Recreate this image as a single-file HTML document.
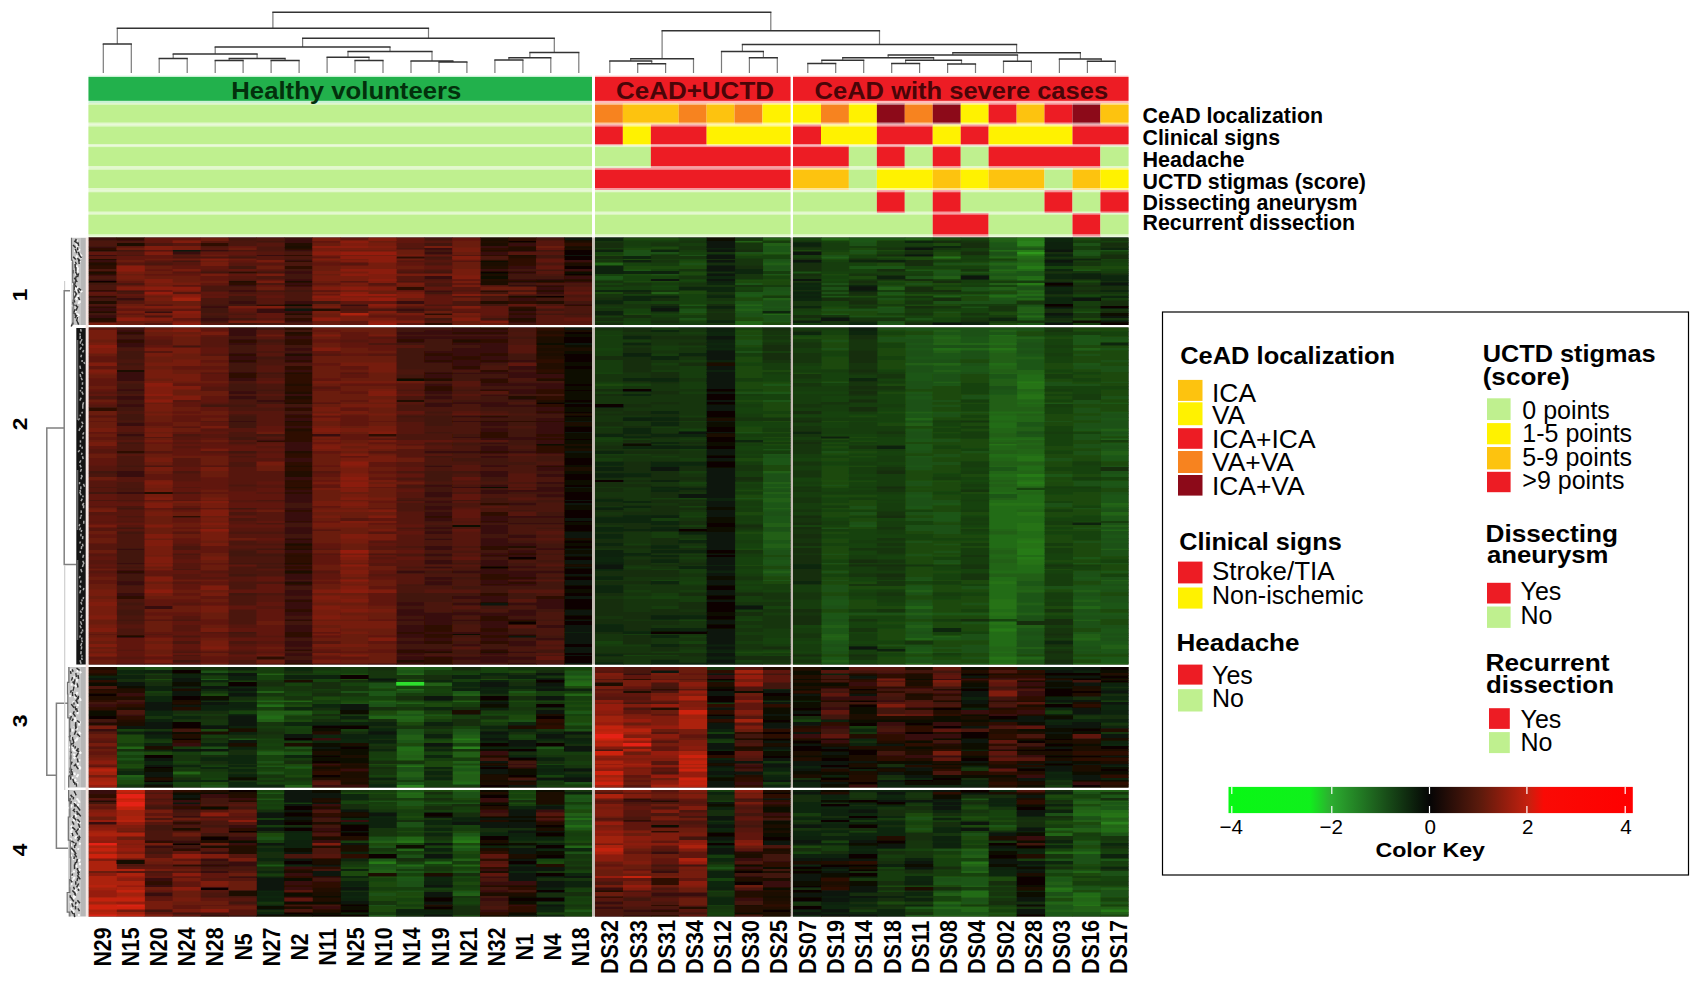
<!DOCTYPE html><html><head><meta charset="utf-8"><title>Heatmap</title><style>html,body{margin:0;padding:0;background:#fff}svg{display:block}text{font-family:"Liberation Sans",sans-serif}</style></head><body>
<svg width="1696" height="984" viewBox="0 0 1696 984">
<rect width="1696" height="984" fill="#fff"/>
<path d="M103.3 73.0V44.0M131.3 44.0V73.0M159.2 73.0V58.4M187.2 58.4V73.0M215.2 73.0V60.5M243.1 60.5V73.0M271.1 73.0V60.5M299.1 60.5V73.0M229.2 60.5V58.4M285.1 58.4V60.5M173.2 58.4V54.0M257.1 54.0V58.4M355.0 73.0V60.5M383.0 60.5V73.0M327.1 73.0V57.3M369.0 57.3V60.5M439.0 73.0V62.0M466.9 62.0V73.0M411.0 73.0V61.0M452.9 61.0V62.0M348.0 57.3V51.6M432.0 51.6V61.0M215.2 54.0V47.0M390.0 47.0V51.6M494.9 73.0V60.0M522.9 60.0V73.0M508.9 60.0V57.7M550.8 57.7V73.0M529.9 57.7V52.4M578.8 52.4V73.0M302.6 47.0V38.2M554.3 38.2V52.4M117.3 44.0V28.2M428.5 28.2V38.2M637.7 73.0V63.7M665.6 63.7V73.0M609.8 73.0V61.0M651.7 61.0V63.7M630.7 61.0V58.8M693.5 58.8V73.0M749.4 73.0V57.7M777.3 57.7V73.0M721.5 73.0V51.5M763.4 51.5V57.7M807.8 73.0V63.4M835.7 63.4V73.0M821.8 63.4V60.2M863.7 60.2V73.0M891.7 73.0V63.4M919.6 63.4V73.0M947.6 73.0V63.9M975.5 63.9V73.0M905.6 63.4V60.2M961.5 60.2V63.9M842.7 60.2V57.7M933.6 57.7V60.2M1003.5 73.0V61.2M1031.4 61.2V73.0M888.2 57.7V55.0M1017.5 55.0V61.2M1087.4 73.0V61.2M1115.3 61.2V73.0M1059.4 73.0V59.0M1101.3 59.0V61.2M952.8 55.0V52.7M1080.4 52.7V59.0M742.4 51.5V44.6M1016.6 44.6V52.7M662.1 58.8V30.7M879.5 30.7V44.6M272.9 28.2V12.3M770.8 12.3V30.7" fill="none" stroke="#7a7a7a" stroke-width="1.2"/>
<path d="M102.7 44.0H131.9M158.6 58.4H187.8M214.6 60.5H243.7M270.5 60.5H299.7M228.6 58.4H285.7M172.6 54.0H257.7M354.4 60.5H383.6M326.5 57.3H369.6M438.4 62.0H467.5M410.4 61.0H453.5M347.4 51.6H432.6M214.6 47.0H390.6M494.3 60.0H523.5M508.3 57.7H551.4M529.3 52.4H579.4M302.0 38.2H554.9M116.7 28.2H429.1M637.1 63.7H666.2M609.2 61.0H652.3M630.1 58.8H694.1M748.8 57.7H777.9M720.9 51.5H764.0M807.2 63.4H836.3M821.2 60.2H864.3M891.1 63.4H920.2M947.0 63.9H976.1M905.0 60.2H962.1M842.1 57.7H934.2M1002.9 61.2H1032.0M887.6 55.0H1018.1M1086.8 61.2H1115.9M1058.8 59.0H1101.9M952.2 52.7H1081.0M741.8 44.6H1017.2M661.5 30.7H880.1M272.3 12.3H771.4" fill="none" stroke="#333" stroke-width="1.5"/>
<rect x="88.5" y="75.8" width="1040" height="26.199999999999996" fill="#fff"/>
<rect x="88.5" y="75.7" width="503.5" height="28.299999999999997" fill="#c9f2d4"/>
<rect x="88.5" y="77.0" width="503.5" height="23.799999999999997" fill="#22b14c"/>
<rect x="595.0" y="75.7" width="195.5" height="28.299999999999997" fill="#fbb"/>
<rect x="595.0" y="77.0" width="195.5" height="23.799999999999997" fill="#ed1c24"/>
<rect x="793.0" y="75.7" width="335.5" height="28.299999999999997" fill="#fbb"/>
<rect x="793.0" y="77.0" width="335.5" height="23.799999999999997" fill="#ed1c24"/>
<rect x="88.5" y="103.2" width="503.5" height="21.3" fill="#e2f8cc"/>
<rect x="88.5" y="104.8" width="503.5" height="17.7" fill="#bff08f"/>
<rect x="595.0" y="103.2" width="27.9" height="21.3" fill="#fbc79a"/>
<rect x="595.0" y="104.8" width="27.9" height="17.7" fill="#f7831f"/>
<rect x="622.9" y="103.2" width="55.9" height="21.3" fill="#fee493"/>
<rect x="622.9" y="104.8" width="55.9" height="17.7" fill="#fdc30f"/>
<rect x="678.8" y="103.2" width="27.9" height="21.3" fill="#fbc79a"/>
<rect x="678.8" y="104.8" width="27.9" height="17.7" fill="#f7831f"/>
<rect x="706.7" y="103.2" width="27.9" height="21.3" fill="#fee493"/>
<rect x="706.7" y="104.8" width="27.9" height="17.7" fill="#fdc30f"/>
<rect x="734.6" y="103.2" width="27.9" height="21.3" fill="#fbc79a"/>
<rect x="734.6" y="104.8" width="27.9" height="17.7" fill="#f7831f"/>
<rect x="762.6" y="103.2" width="27.9" height="21.3" fill="#fff98c"/>
<rect x="762.6" y="104.8" width="27.9" height="17.7" fill="#fff200"/>
<rect x="793.0" y="103.2" width="28.0" height="21.3" fill="#fff98c"/>
<rect x="793.0" y="104.8" width="28.0" height="17.7" fill="#fff200"/>
<rect x="821.0" y="103.2" width="28.0" height="21.3" fill="#fbc79a"/>
<rect x="821.0" y="104.8" width="28.0" height="17.7" fill="#f7831f"/>
<rect x="848.9" y="103.2" width="28.0" height="21.3" fill="#fff98c"/>
<rect x="848.9" y="104.8" width="28.0" height="17.7" fill="#fff200"/>
<rect x="876.9" y="103.2" width="28.0" height="21.3" fill="#cb9097"/>
<rect x="876.9" y="104.8" width="28.0" height="17.7" fill="#8c0a19"/>
<rect x="904.8" y="103.2" width="28.0" height="21.3" fill="#fbc79a"/>
<rect x="904.8" y="104.8" width="28.0" height="17.7" fill="#f7831f"/>
<rect x="932.8" y="103.2" width="28.0" height="21.3" fill="#cb9097"/>
<rect x="932.8" y="104.8" width="28.0" height="17.7" fill="#8c0a19"/>
<rect x="960.8" y="103.2" width="28.0" height="21.3" fill="#fff98c"/>
<rect x="960.8" y="104.8" width="28.0" height="17.7" fill="#fff200"/>
<rect x="988.7" y="103.2" width="28.0" height="21.3" fill="#f6989c"/>
<rect x="988.7" y="104.8" width="28.0" height="17.7" fill="#ed1c24"/>
<rect x="1016.7" y="103.2" width="28.0" height="21.3" fill="#fee493"/>
<rect x="1016.7" y="104.8" width="28.0" height="17.7" fill="#fdc30f"/>
<rect x="1044.6" y="103.2" width="28.0" height="21.3" fill="#f6989c"/>
<rect x="1044.6" y="104.8" width="28.0" height="17.7" fill="#ed1c24"/>
<rect x="1072.6" y="103.2" width="28.0" height="21.3" fill="#cb9097"/>
<rect x="1072.6" y="104.8" width="28.0" height="17.7" fill="#8c0a19"/>
<rect x="1100.5" y="103.2" width="28.0" height="21.3" fill="#fee493"/>
<rect x="1100.5" y="104.8" width="28.0" height="17.7" fill="#fdc30f"/>
<rect x="88.5" y="124.5" width="503.5" height="21.0" fill="#e2f8cc"/>
<rect x="88.5" y="126.6" width="503.5" height="17.4" fill="#bff08f"/>
<rect x="595.0" y="124.5" width="27.9" height="21.0" fill="#f6989c"/>
<rect x="595.0" y="126.6" width="27.9" height="17.4" fill="#ed1c24"/>
<rect x="622.9" y="124.5" width="27.9" height="21.0" fill="#fff98c"/>
<rect x="622.9" y="126.6" width="27.9" height="17.4" fill="#fff200"/>
<rect x="650.9" y="124.5" width="55.9" height="21.0" fill="#f6989c"/>
<rect x="650.9" y="126.6" width="55.9" height="17.4" fill="#ed1c24"/>
<rect x="706.7" y="124.5" width="83.8" height="21.0" fill="#fff98c"/>
<rect x="706.7" y="126.6" width="83.8" height="17.4" fill="#fff200"/>
<rect x="793.0" y="124.5" width="28.0" height="21.0" fill="#f6989c"/>
<rect x="793.0" y="126.6" width="28.0" height="17.4" fill="#ed1c24"/>
<rect x="821.0" y="124.5" width="55.9" height="21.0" fill="#fff98c"/>
<rect x="821.0" y="126.6" width="55.9" height="17.4" fill="#fff200"/>
<rect x="876.9" y="124.5" width="55.9" height="21.0" fill="#f6989c"/>
<rect x="876.9" y="126.6" width="55.9" height="17.4" fill="#ed1c24"/>
<rect x="932.8" y="124.5" width="28.0" height="21.0" fill="#fff98c"/>
<rect x="932.8" y="126.6" width="28.0" height="17.4" fill="#fff200"/>
<rect x="960.8" y="124.5" width="28.0" height="21.0" fill="#f6989c"/>
<rect x="960.8" y="126.6" width="28.0" height="17.4" fill="#ed1c24"/>
<rect x="988.7" y="124.5" width="83.9" height="21.0" fill="#fff98c"/>
<rect x="988.7" y="126.6" width="83.9" height="17.4" fill="#fff200"/>
<rect x="1072.6" y="124.5" width="55.9" height="21.0" fill="#f6989c"/>
<rect x="1072.6" y="126.6" width="55.9" height="17.4" fill="#ed1c24"/>
<rect x="88.5" y="145.6" width="503.5" height="22.3" fill="#e2f8cc"/>
<rect x="88.5" y="147.1" width="503.5" height="18.9" fill="#bff08f"/>
<rect x="595.0" y="145.6" width="55.9" height="22.3" fill="#e2f8cc"/>
<rect x="595.0" y="147.1" width="55.9" height="18.9" fill="#bff08f"/>
<rect x="650.9" y="145.6" width="139.6" height="22.3" fill="#f6989c"/>
<rect x="650.9" y="147.1" width="139.6" height="18.9" fill="#ed1c24"/>
<rect x="793.0" y="145.6" width="55.9" height="22.3" fill="#f6989c"/>
<rect x="793.0" y="147.1" width="55.9" height="18.9" fill="#ed1c24"/>
<rect x="848.9" y="145.6" width="28.0" height="22.3" fill="#e2f8cc"/>
<rect x="848.9" y="147.1" width="28.0" height="18.9" fill="#bff08f"/>
<rect x="876.9" y="145.6" width="28.0" height="22.3" fill="#f6989c"/>
<rect x="876.9" y="147.1" width="28.0" height="18.9" fill="#ed1c24"/>
<rect x="904.8" y="145.6" width="28.0" height="22.3" fill="#e2f8cc"/>
<rect x="904.8" y="147.1" width="28.0" height="18.9" fill="#bff08f"/>
<rect x="932.8" y="145.6" width="28.0" height="22.3" fill="#f6989c"/>
<rect x="932.8" y="147.1" width="28.0" height="18.9" fill="#ed1c24"/>
<rect x="960.8" y="145.6" width="28.0" height="22.3" fill="#e2f8cc"/>
<rect x="960.8" y="147.1" width="28.0" height="18.9" fill="#bff08f"/>
<rect x="988.7" y="145.6" width="111.8" height="22.3" fill="#f6989c"/>
<rect x="988.7" y="147.1" width="111.8" height="18.9" fill="#ed1c24"/>
<rect x="1100.5" y="145.6" width="28.0" height="22.3" fill="#e2f8cc"/>
<rect x="1100.5" y="147.1" width="28.0" height="18.9" fill="#bff08f"/>
<rect x="88.5" y="167.9" width="503.5" height="22.2" fill="#e2f8cc"/>
<rect x="88.5" y="169.8" width="503.5" height="18.2" fill="#bff08f"/>
<rect x="595.0" y="167.9" width="195.5" height="22.2" fill="#f6989c"/>
<rect x="595.0" y="169.8" width="195.5" height="18.2" fill="#ed1c24"/>
<rect x="793.0" y="167.9" width="55.9" height="22.2" fill="#fee493"/>
<rect x="793.0" y="169.8" width="55.9" height="18.2" fill="#fdc30f"/>
<rect x="848.9" y="167.9" width="28.0" height="22.2" fill="#e2f8cc"/>
<rect x="848.9" y="169.8" width="28.0" height="18.2" fill="#bff08f"/>
<rect x="876.9" y="167.9" width="55.9" height="22.2" fill="#fff98c"/>
<rect x="876.9" y="169.8" width="55.9" height="18.2" fill="#fff200"/>
<rect x="932.8" y="167.9" width="28.0" height="22.2" fill="#fee493"/>
<rect x="932.8" y="169.8" width="28.0" height="18.2" fill="#fdc30f"/>
<rect x="960.8" y="167.9" width="28.0" height="22.2" fill="#fff98c"/>
<rect x="960.8" y="169.8" width="28.0" height="18.2" fill="#fff200"/>
<rect x="988.7" y="167.9" width="55.9" height="22.2" fill="#fee493"/>
<rect x="988.7" y="169.8" width="55.9" height="18.2" fill="#fdc30f"/>
<rect x="1044.6" y="167.9" width="28.0" height="22.2" fill="#e2f8cc"/>
<rect x="1044.6" y="169.8" width="28.0" height="18.2" fill="#bff08f"/>
<rect x="1072.6" y="167.9" width="28.0" height="22.2" fill="#fee493"/>
<rect x="1072.6" y="169.8" width="28.0" height="18.2" fill="#fdc30f"/>
<rect x="1100.5" y="167.9" width="28.0" height="22.2" fill="#fff98c"/>
<rect x="1100.5" y="169.8" width="28.0" height="18.2" fill="#fff200"/>
<rect x="88.5" y="190.2" width="503.5" height="22.9" fill="#e2f8cc"/>
<rect x="88.5" y="192.3" width="503.5" height="19.2" fill="#bff08f"/>
<rect x="595.0" y="190.2" width="195.5" height="22.9" fill="#e2f8cc"/>
<rect x="595.0" y="192.3" width="195.5" height="19.2" fill="#bff08f"/>
<rect x="793.0" y="190.2" width="83.9" height="22.9" fill="#e2f8cc"/>
<rect x="793.0" y="192.3" width="83.9" height="19.2" fill="#bff08f"/>
<rect x="876.9" y="190.2" width="28.0" height="22.9" fill="#f6989c"/>
<rect x="876.9" y="192.3" width="28.0" height="19.2" fill="#ed1c24"/>
<rect x="904.8" y="190.2" width="28.0" height="22.9" fill="#e2f8cc"/>
<rect x="904.8" y="192.3" width="28.0" height="19.2" fill="#bff08f"/>
<rect x="932.8" y="190.2" width="28.0" height="22.9" fill="#f6989c"/>
<rect x="932.8" y="192.3" width="28.0" height="19.2" fill="#ed1c24"/>
<rect x="960.8" y="190.2" width="83.9" height="22.9" fill="#e2f8cc"/>
<rect x="960.8" y="192.3" width="83.9" height="19.2" fill="#bff08f"/>
<rect x="1044.6" y="190.2" width="28.0" height="22.9" fill="#f6989c"/>
<rect x="1044.6" y="192.3" width="28.0" height="19.2" fill="#ed1c24"/>
<rect x="1072.6" y="190.2" width="28.0" height="22.9" fill="#e2f8cc"/>
<rect x="1072.6" y="192.3" width="28.0" height="19.2" fill="#bff08f"/>
<rect x="1100.5" y="190.2" width="28.0" height="22.9" fill="#f6989c"/>
<rect x="1100.5" y="192.3" width="28.0" height="19.2" fill="#ed1c24"/>
<rect x="88.5" y="213.1" width="503.5" height="23.5" fill="#e2f8cc"/>
<rect x="88.5" y="214.7" width="503.5" height="19.5" fill="#bff08f"/>
<rect x="595.0" y="213.1" width="195.5" height="23.5" fill="#e2f8cc"/>
<rect x="595.0" y="214.7" width="195.5" height="19.5" fill="#bff08f"/>
<rect x="793.0" y="213.1" width="139.8" height="23.5" fill="#e2f8cc"/>
<rect x="793.0" y="214.7" width="139.8" height="19.5" fill="#bff08f"/>
<rect x="932.8" y="213.1" width="55.9" height="23.5" fill="#f6989c"/>
<rect x="932.8" y="214.7" width="55.9" height="19.5" fill="#ed1c24"/>
<rect x="988.7" y="213.1" width="83.9" height="23.5" fill="#e2f8cc"/>
<rect x="988.7" y="214.7" width="83.9" height="19.5" fill="#bff08f"/>
<rect x="1072.6" y="213.1" width="28.0" height="23.5" fill="#f6989c"/>
<rect x="1072.6" y="214.7" width="28.0" height="19.5" fill="#ed1c24"/>
<rect x="1100.5" y="213.1" width="28.0" height="23.5" fill="#e2f8cc"/>
<rect x="1100.5" y="214.7" width="28.0" height="19.5" fill="#bff08f"/>
<text x="231.3" y="99.1" font-size="24.5" font-weight="bold" fill="#03300c" textLength="230.0" lengthAdjust="spacingAndGlyphs">Healthy volunteers</text>
<text x="616" y="99.1" font-size="24.5" font-weight="bold" fill="#4a0508" textLength="158.0" lengthAdjust="spacingAndGlyphs">CeAD+UCTD</text>
<text x="814.6" y="99.1" font-size="24.5" font-weight="bold" fill="#4a0508" textLength="293.5" lengthAdjust="spacingAndGlyphs">CeAD with severe cases</text>
<text x="1142.5" y="122.6" font-size="22.5" font-weight="bold" fill="#000" textLength="180.5" lengthAdjust="spacingAndGlyphs">CeAD localization</text>
<text x="1142.5" y="144.8" font-size="22.5" font-weight="bold" fill="#000" textLength="137.5" lengthAdjust="spacingAndGlyphs">Clinical signs</text>
<text x="1142.5" y="166.8" font-size="22.5" font-weight="bold" fill="#000" textLength="102.0" lengthAdjust="spacingAndGlyphs">Headache</text>
<text x="1142.5" y="188.5" font-size="22.5" font-weight="bold" fill="#000" textLength="223.5" lengthAdjust="spacingAndGlyphs">UCTD stigmas (score)</text>
<text x="1142.5" y="210.3" font-size="22.5" font-weight="bold" fill="#000" textLength="215.0" lengthAdjust="spacingAndGlyphs">Dissecting aneurysm</text>
<text x="1142.5" y="229.7" font-size="22.5" font-weight="bold" fill="#000" textLength="212.5" lengthAdjust="spacingAndGlyphs">Recurrent dissection</text>
<rect x="592.0" y="237.5" width="3.0" height="679" fill="#c4bcb4"/>
<rect x="790.5" y="237.5" width="2.5" height="679" fill="#c4bcb4"/>
<rect x="88.5" y="325.0" width="1040" height="2.5" fill="#fff"/>
<rect x="88.5" y="664.5" width="1040" height="2.5" fill="#fff"/>
<rect x="88.5" y="787.5" width="1040" height="2.5" fill="#fff"/>
<defs><filter id="bl" x="-1%" y="-1%" width="102%" height="102%"><feGaussianBlur stdDeviation="0.7"/></filter></defs><g filter="url(#bl)">
<rect x="88.5" y="237.5" width="503.5" height="87.5" fill="#1a140c"/>
<rect x="595.0" y="237.5" width="195.5" height="87.5" fill="#1a140c"/>
<rect x="793.0" y="237.5" width="335.5" height="87.5" fill="#1a140c"/>
<rect x="88.5" y="327.5" width="503.5" height="337.0" fill="#1a140c"/>
<rect x="595.0" y="327.5" width="195.5" height="337.0" fill="#1a140c"/>
<rect x="793.0" y="327.5" width="335.5" height="337.0" fill="#1a140c"/>
<rect x="88.5" y="667.0" width="503.5" height="120.5" fill="#1a140c"/>
<rect x="595.0" y="667.0" width="195.5" height="120.5" fill="#1a140c"/>
<rect x="793.0" y="667.0" width="335.5" height="120.5" fill="#1a140c"/>
<rect x="88.5" y="790.0" width="503.5" height="126.5" fill="#1a140c"/>
<rect x="595.0" y="790.0" width="195.5" height="126.5" fill="#1a140c"/>
<rect x="793.0" y="790.0" width="335.5" height="126.5" fill="#1a140c"/>
<path fill="#2e971c" d="M1016.67 251.5h28.41v3.4h-28.41z"/>
<path fill="#2a811a" d="M1016.67 240.5h28.41v5.9h-28.41zM396.19 784.5h28.42v3.0h-28.42zM452.14 746.0h28.42v3.4h-28.42zM1100.54 821.5h27.96v3.4h-27.96z"/>
<path fill="#287a19" d="M1016.67 237.5h28.41v3.4h-28.41zM1016.67 249.5h28.41v2.4h-28.41zM1016.67 254.5h28.41v1.9h-28.41zM1016.67 265.5h28.41v3.9h-28.41zM1016.67 282.5h28.41v2.9h-28.41zM1016.67 294.0h28.41v1.9h-28.41zM988.71 628.0h28.41v3.9h-28.41zM1016.67 381.0h28.41v2.4h-28.41zM1016.67 473.5h28.41v3.9h-28.41zM1016.67 481.5h28.41v2.9h-28.41zM1016.67 540.0h28.41v3.4h-28.41zM1016.67 548.0h28.41v7.4h-28.41zM1016.67 556.5h28.41v3.4h-28.41zM452.14 738.0h28.42v2.4h-28.42zM368.22 861.0h28.42v3.4h-28.42zM452.14 840.0h28.42v3.4h-28.42zM1100.54 816.0h27.96v1.9h-27.96zM1100.54 909.0h27.96v3.4h-27.96z"/>
<path fill="#267318" d="M932.79 256.0h28.41v2.9h-28.41zM1016.67 279.0h28.41v1.9h-28.41zM1016.67 290.0h28.41v1.9h-28.41zM988.71 347.5h28.41v3.4h-28.41zM988.71 443.5h28.41v2.4h-28.41zM988.71 502.5h28.41v3.4h-28.41zM988.71 581.0h28.41v3.4h-28.41zM988.71 599.0h28.41v10.4h-28.41zM988.71 612.0h28.41v3.9h-28.41zM988.71 621.0h28.41v3.9h-28.41zM988.71 656.0h28.41v3.9h-28.41zM988.71 662.5h28.41v2.0h-28.41zM1016.67 383.0h28.41v6.4h-28.41zM1016.67 394.0h28.41v5.9h-28.41zM1016.67 455.5h28.41v6.4h-28.41zM1016.67 480.0h28.41v1.9h-28.41zM1016.67 484.0h28.41v2.9h-28.41zM1016.67 502.5h28.41v3.4h-28.41zM1016.67 511.5h28.41v4.4h-28.41zM1016.67 522.5h28.41v8.9h-28.41zM1016.67 538.0h28.41v2.4h-28.41zM1016.67 543.0h28.41v5.4h-28.41zM1016.67 559.5h28.41v5.4h-28.41zM396.19 765.0h28.42v2.4h-28.42zM396.19 840.0h28.42v3.4h-28.42zM960.75 861.0h28.41v3.4h-28.41zM1044.62 887.0h28.41v3.4h-28.41zM1044.62 896.0h28.41v1.9h-28.41zM1072.58 820.0h28.41v1.9h-28.41zM1072.58 896.0h28.41v1.9h-28.41zM1072.58 904.5h28.41v1.9h-28.41zM1100.54 812.5h27.96v3.9h-27.96z"/>
<path fill="#246c16" d="M988.71 249.5h28.41v2.4h-28.41zM988.71 269.0h28.41v2.4h-28.41zM988.71 294.0h28.41v3.9h-28.41zM1016.67 246.0h28.41v1.9h-28.41zM1016.67 256.0h28.41v2.9h-28.41zM1016.67 262.0h28.41v3.9h-28.41zM1016.67 269.0h28.41v2.4h-28.41zM1016.67 275.5h28.41v3.9h-28.41zM1016.67 315.0h28.41v2.9h-28.41zM932.79 347.5h28.41v3.4h-28.41zM988.71 330.0h28.41v1.9h-28.41zM988.71 334.5h28.41v1.9h-28.41zM988.71 342.5h28.41v2.9h-28.41zM988.71 362.5h28.41v3.4h-28.41zM988.71 411.0h28.41v2.9h-28.41zM988.71 415.0h28.41v5.9h-28.41zM988.71 422.0h28.41v6.4h-28.41zM988.71 438.0h28.41v2.4h-28.41zM988.71 453.5h28.41v4.4h-28.41zM988.71 473.5h28.41v3.9h-28.41zM988.71 491.5h28.41v2.9h-28.41zM988.71 499.5h28.41v3.4h-28.41zM988.71 505.5h28.41v23.9h-28.41zM988.71 534.0h28.41v14.4h-28.41zM988.71 555.0h28.41v1.9h-28.41zM988.71 570.0h28.41v3.9h-28.41zM988.71 576.5h28.41v4.9h-28.41zM988.71 584.0h28.41v15.4h-28.41zM988.71 609.0h28.41v3.4h-28.41zM988.71 615.5h28.41v3.9h-28.41zM988.71 624.5h28.41v3.9h-28.41zM988.71 631.5h28.41v15.4h-28.41zM988.71 651.0h28.41v2.4h-28.41zM988.71 659.5h28.41v3.4h-28.41zM1016.67 374.0h28.41v7.4h-28.41zM1016.67 391.0h28.41v3.4h-28.41zM1016.67 402.0h28.41v2.4h-28.41zM1016.67 411.0h28.41v2.9h-28.41zM1016.67 438.0h28.41v2.4h-28.41zM1016.67 453.5h28.41v2.4h-28.41zM1016.67 465.0h28.41v5.9h-28.41zM1016.67 477.0h28.41v3.4h-28.41zM1016.67 489.5h28.41v2.4h-28.41zM1016.67 494.0h28.41v8.9h-28.41zM1016.67 505.5h28.41v4.4h-28.41zM1016.67 515.5h28.41v7.4h-28.41zM1016.67 531.0h28.41v7.4h-28.41zM1016.67 555.0h28.41v1.9h-28.41zM1016.67 564.5h28.41v9.4h-28.41zM256.33 704.0h28.42v3.4h-28.42zM256.33 715.5h28.42v3.9h-28.42zM396.19 746.0h28.42v5.4h-28.42zM452.14 781.5h28.42v3.4h-28.42zM564.03 682.0h27.97v4.4h-27.97zM396.19 792.0h28.42v2.4h-28.42zM396.19 864.0h28.42v2.9h-28.42zM424.17 861.0h28.42v3.4h-28.42zM452.14 836.0h28.42v4.4h-28.42zM564.03 817.5h27.97v2.9h-27.97zM564.03 824.5h27.97v3.4h-27.97zM960.75 890.0h28.41v7.9h-28.41zM1044.62 890.0h28.41v2.4h-28.41zM1072.58 812.5h28.41v3.9h-28.41zM1072.58 851.0h28.41v3.4h-28.41zM1072.58 892.0h28.41v4.4h-28.41zM1072.58 901.0h28.41v3.9h-28.41zM1100.54 809.5h27.96v3.4h-27.96zM1100.54 820.0h27.96v1.9h-27.96zM1100.54 827.5h27.96v5.4h-27.96z"/>
<path fill="#226515" d="M595.00 262.0h28.38v3.9h-28.38zM734.64 304.0h28.38v2.4h-28.38zM734.64 320.5h28.38v4.5h-28.38zM762.57 313.0h27.93v2.4h-27.93zM820.96 237.5h28.41v3.4h-28.41zM904.83 294.0h28.41v1.9h-28.41zM960.75 294.0h28.41v1.9h-28.41zM988.71 237.5h28.41v3.4h-28.41zM988.71 256.0h28.41v2.9h-28.41zM988.71 262.0h28.41v3.9h-28.41zM1016.67 258.5h28.41v1.9h-28.41zM1016.67 297.5h28.41v3.4h-28.41zM1016.67 311.0h28.41v2.4h-28.41zM820.96 635.0h28.41v2.9h-28.41zM904.83 417.5h28.41v3.4h-28.41zM904.83 605.5h28.41v3.9h-28.41zM904.83 637.5h28.41v3.4h-28.41zM904.83 662.5h28.41v2.0h-28.41zM932.79 330.0h28.41v1.9h-28.41zM932.79 336.0h28.41v3.4h-28.41zM932.79 342.5h28.41v2.9h-28.41zM932.79 362.5h28.41v3.4h-28.41zM960.75 342.5h28.41v2.9h-28.41zM960.75 347.5h28.41v3.4h-28.41zM988.71 336.0h28.41v6.9h-28.41zM988.71 350.5h28.41v2.9h-28.41zM988.71 365.5h28.41v4.4h-28.41zM988.71 372.0h28.41v2.4h-28.41zM988.71 413.5h28.41v1.9h-28.41zM988.71 420.5h28.41v1.9h-28.41zM988.71 428.0h28.41v5.9h-28.41zM988.71 436.5h28.41v1.9h-28.41zM988.71 440.0h28.41v2.4h-28.41zM988.71 445.5h28.41v5.4h-28.41zM988.71 457.5h28.41v4.4h-28.41zM988.71 465.0h28.41v2.4h-28.41zM988.71 470.5h28.41v3.4h-28.41zM988.71 477.0h28.41v3.4h-28.41zM988.71 481.5h28.41v2.9h-28.41zM988.71 486.5h28.41v5.4h-28.41zM988.71 529.0h28.41v2.4h-28.41zM988.71 548.0h28.41v2.4h-28.41zM988.71 553.0h28.41v2.4h-28.41zM988.71 556.5h28.41v3.4h-28.41zM988.71 562.5h28.41v7.9h-28.41zM988.71 646.5h28.41v4.9h-28.41zM988.71 653.0h28.41v3.4h-28.41zM1016.67 369.5h28.41v4.9h-28.41zM1016.67 389.0h28.41v2.4h-28.41zM1016.67 399.5h28.41v2.9h-28.41zM1016.67 404.0h28.41v3.4h-28.41zM1016.67 415.0h28.41v7.4h-28.41zM1016.67 436.5h28.41v1.9h-28.41zM1016.67 442.0h28.41v3.9h-28.41zM1016.67 448.5h28.41v5.4h-28.41zM1016.67 470.5h28.41v3.4h-28.41zM1016.67 491.5h28.41v2.9h-28.41zM1016.67 509.5h28.41v2.4h-28.41zM1016.67 589.5h28.41v3.4h-28.41zM1016.67 656.0h28.41v3.9h-28.41zM1072.58 605.5h28.41v3.9h-28.41zM1072.58 637.5h28.41v3.4h-28.41zM1100.54 502.5h27.96v3.4h-27.96zM1100.54 511.5h27.96v4.4h-27.96zM1100.54 529.0h27.96v2.4h-27.96zM116.47 746.0h28.42v3.4h-28.42zM172.42 771.0h28.42v3.9h-28.42zM256.33 700.0h28.42v2.4h-28.42zM256.33 714.0h28.42v1.9h-28.42zM284.31 700.0h28.42v2.4h-28.42zM284.31 767.0h28.42v1.9h-28.42zM368.22 715.5h28.42v3.9h-28.42zM396.19 673.0h28.42v2.4h-28.42zM396.19 688.5h28.42v2.4h-28.42zM396.19 715.5h28.42v3.9h-28.42zM396.19 751.0h28.42v4.4h-28.42zM396.19 757.5h28.42v3.4h-28.42zM452.14 740.0h28.42v3.4h-28.42zM452.14 765.0h28.42v2.4h-28.42zM452.14 771.0h28.42v3.9h-28.42zM452.14 780.0h28.42v1.9h-28.42zM564.03 675.0h27.97v3.9h-27.97zM564.03 680.0h27.97v2.4h-27.97zM564.03 693.0h27.97v3.4h-27.97zM396.19 794.0h28.42v4.4h-28.42zM396.19 836.0h28.42v4.4h-28.42zM396.19 848.0h28.42v3.4h-28.42zM452.14 845.0h28.42v3.4h-28.42zM452.14 864.0h28.42v2.9h-28.42zM564.03 845.0h27.97v3.4h-27.97zM932.79 901.0h28.41v3.9h-28.41zM932.79 906.0h28.41v3.4h-28.41zM960.75 864.0h28.41v2.9h-28.41zM960.75 870.5h28.41v2.9h-28.41zM960.75 906.0h28.41v6.4h-28.41zM1044.62 827.5h28.41v3.4h-28.41zM1044.62 832.5h28.41v3.9h-28.41zM1044.62 851.0h28.41v3.4h-28.41zM1044.62 901.0h28.41v3.9h-28.41zM1072.58 809.5h28.41v3.4h-28.41zM1072.58 870.5h28.41v2.9h-28.41zM1072.58 897.5h28.41v3.9h-28.41zM1072.58 909.0h28.41v3.4h-28.41zM1100.54 824.5h27.96v3.4h-27.96z"/>
<path fill="#205e14" d="M650.86 291.5h28.38v2.9h-28.38zM734.64 240.5h28.38v2.4h-28.38zM734.64 294.0h28.38v1.9h-28.38zM734.64 308.0h28.38v3.4h-28.38zM762.57 237.5h27.93v3.4h-27.93zM762.57 242.5h27.93v3.9h-27.93zM762.57 251.5h27.93v3.4h-27.93zM762.57 262.0h27.93v3.9h-27.93zM762.57 297.5h27.93v3.4h-27.93zM820.96 256.0h28.41v2.9h-28.41zM876.88 286.5h28.41v3.9h-28.41zM876.88 294.0h28.41v1.9h-28.41zM904.83 237.5h28.41v3.4h-28.41zM932.79 275.5h28.41v3.9h-28.41zM932.79 295.5h28.41v2.4h-28.41zM988.71 240.5h28.41v2.4h-28.41zM988.71 271.0h28.41v2.9h-28.41zM988.71 275.5h28.41v3.9h-28.41zM988.71 282.5h28.41v2.9h-28.41zM988.71 286.5h28.41v3.9h-28.41zM1016.67 260.0h28.41v2.4h-28.41zM1016.67 285.0h28.41v1.9h-28.41zM1016.67 291.5h28.41v2.9h-28.41zM1016.67 306.0h28.41v5.4h-28.41zM762.57 470.5h27.93v3.4h-27.93zM762.57 481.5h27.93v2.9h-27.93zM762.57 486.5h27.93v1.9h-27.93zM762.57 491.5h27.93v2.9h-27.93zM762.57 497.5h27.93v5.4h-27.93zM762.57 507.5h27.93v2.4h-27.93zM762.57 522.5h27.93v4.9h-27.93zM762.57 531.0h27.93v9.4h-27.93zM762.57 543.0h27.93v5.4h-27.93zM762.57 570.0h27.93v3.9h-27.93zM820.96 624.5h28.41v3.9h-28.41zM820.96 633.5h28.41v1.9h-28.41zM820.96 637.5h28.41v3.4h-28.41zM820.96 659.5h28.41v3.4h-28.41zM904.83 362.5h28.41v3.4h-28.41zM904.83 411.0h28.41v2.9h-28.41zM904.83 422.0h28.41v4.4h-28.41zM904.83 589.5h28.41v3.4h-28.41zM904.83 612.0h28.41v3.9h-28.41zM904.83 624.5h28.41v3.9h-28.41zM904.83 651.0h28.41v2.4h-28.41zM932.79 334.5h28.41v1.9h-28.41zM932.79 339.0h28.41v3.9h-28.41zM932.79 350.5h28.41v2.9h-28.41zM932.79 369.5h28.41v2.9h-28.41zM932.79 381.0h28.41v2.4h-28.41zM932.79 635.0h28.41v2.9h-28.41zM988.71 345.0h28.41v2.9h-28.41zM988.71 353.0h28.41v9.9h-28.41zM988.71 369.5h28.41v2.9h-28.41zM988.71 378.0h28.41v8.4h-28.41zM988.71 394.0h28.41v17.4h-28.41zM988.71 433.5h28.41v3.4h-28.41zM988.71 442.0h28.41v1.9h-28.41zM988.71 450.5h28.41v3.4h-28.41zM988.71 461.5h28.41v3.9h-28.41zM988.71 480.0h28.41v1.9h-28.41zM988.71 484.0h28.41v2.9h-28.41zM988.71 497.5h28.41v2.4h-28.41zM988.71 531.0h28.41v3.4h-28.41zM988.71 550.0h28.41v3.4h-28.41zM988.71 559.5h28.41v3.4h-28.41zM988.71 573.5h28.41v3.4h-28.41zM1016.67 336.0h28.41v3.4h-28.41zM1016.67 356.0h28.41v3.9h-28.41zM1016.67 407.0h28.41v4.4h-28.41zM1016.67 413.5h28.41v1.9h-28.41zM1016.67 426.0h28.41v5.9h-28.41zM1016.67 440.0h28.41v2.4h-28.41zM1016.67 445.5h28.41v3.4h-28.41zM1016.67 461.5h28.41v3.9h-28.41zM1016.67 486.5h28.41v1.9h-28.41zM1016.67 573.5h28.41v7.9h-28.41zM1016.67 585.5h28.41v4.4h-28.41zM1016.67 602.0h28.41v3.9h-28.41zM1016.67 612.0h28.41v3.9h-28.41zM1016.67 624.5h28.41v3.9h-28.41zM1016.67 646.5h28.41v2.9h-28.41zM1072.58 347.5h28.41v3.4h-28.41zM1072.58 589.5h28.41v3.4h-28.41zM1072.58 599.0h28.41v3.4h-28.41zM1072.58 619.0h28.41v2.4h-28.41zM1072.58 633.5h28.41v4.4h-28.41zM1072.58 662.5h28.41v2.0h-28.41zM1100.54 428.0h27.96v3.9h-27.96zM1100.54 438.0h27.96v2.4h-27.96zM1100.54 450.5h27.96v5.4h-27.96zM1100.54 505.5h27.96v2.4h-27.96zM1100.54 524.5h27.96v2.9h-27.96zM1100.54 548.0h27.96v2.4h-27.96zM1100.54 579.5h27.96v1.9h-27.96zM1100.54 644.0h27.96v5.4h-27.96zM1100.54 662.5h27.96v2.0h-27.96zM116.47 774.5h28.42v3.4h-28.42zM256.33 673.0h28.42v2.4h-28.42zM256.33 690.5h28.42v2.9h-28.42zM256.33 710.0h28.42v4.4h-28.42zM256.33 719.0h28.42v3.4h-28.42zM256.33 751.0h28.42v4.4h-28.42zM284.31 710.0h28.42v4.4h-28.42zM284.31 784.5h28.42v3.0h-28.42zM368.22 700.0h28.42v2.4h-28.42zM396.19 667.0h28.42v3.4h-28.42zM396.19 702.0h28.42v2.4h-28.42zM396.19 710.0h28.42v4.4h-28.42zM396.19 719.0h28.42v3.4h-28.42zM396.19 734.0h28.42v6.4h-28.42zM396.19 755.0h28.42v2.9h-28.42zM396.19 771.0h28.42v6.9h-28.42zM424.17 682.0h28.42v4.4h-28.42zM424.17 714.0h28.42v1.9h-28.42zM452.14 693.0h28.42v3.4h-28.42zM452.14 700.0h28.42v2.4h-28.42zM452.14 734.0h28.42v4.4h-28.42zM452.14 751.0h28.42v6.9h-28.42zM452.14 760.5h28.42v3.4h-28.42zM452.14 767.0h28.42v1.9h-28.42zM452.14 774.5h28.42v5.9h-28.42zM368.22 840.0h28.42v3.4h-28.42zM368.22 869.0h28.42v4.4h-28.42zM396.19 876.0h28.42v1.9h-28.42zM452.14 790.0h28.42v2.4h-28.42zM452.14 858.0h28.42v3.4h-28.42zM452.14 892.0h28.42v4.4h-28.42zM564.03 812.5h27.97v3.9h-27.97zM932.79 876.0h28.41v1.9h-28.41zM932.79 892.0h28.41v4.4h-28.41zM932.79 914.5h28.41v2.0h-28.41zM960.75 848.0h28.41v3.4h-28.41zM960.75 854.0h28.41v4.4h-28.41zM960.75 885.0h28.41v2.4h-28.41zM960.75 914.5h28.41v2.0h-28.41zM1044.62 876.0h28.41v1.9h-28.41zM1044.62 881.0h28.41v4.4h-28.41zM1044.62 909.0h28.41v3.4h-28.41zM1072.58 790.0h28.41v2.4h-28.41zM1072.58 800.0h28.41v4.4h-28.41zM1072.58 806.0h28.41v3.9h-28.41zM1072.58 827.5h28.41v5.4h-28.41zM1072.58 906.0h28.41v3.4h-28.41zM1100.54 790.0h27.96v2.4h-27.96zM1100.54 800.0h27.96v2.4h-27.96zM1100.54 804.0h27.96v2.4h-27.96zM1100.54 817.5h27.96v2.9h-27.96zM1100.54 887.0h27.96v3.4h-27.96zM1100.54 906.0h27.96v3.4h-27.96zM1100.54 912.0h27.96v2.9h-27.96z"/>
<path fill="#1e5713" d="M595.00 275.5h28.38v3.9h-28.38zM622.93 269.0h28.38v2.4h-28.38zM678.79 304.0h28.38v2.4h-28.38zM678.79 311.0h28.38v2.4h-28.38zM734.64 282.5h28.38v2.9h-28.38zM734.64 291.5h28.38v2.9h-28.38zM734.64 295.5h28.38v2.4h-28.38zM734.64 300.5h28.38v3.9h-28.38zM734.64 306.0h28.38v2.4h-28.38zM734.64 311.0h28.38v2.4h-28.38zM762.57 246.0h27.93v5.9h-27.93zM762.57 260.0h27.93v2.4h-27.93zM762.57 269.0h27.93v2.4h-27.93zM762.57 273.5h27.93v2.4h-27.93zM762.57 290.0h27.93v5.9h-27.93zM762.57 306.0h27.93v2.4h-27.93zM762.57 320.5h27.93v2.4h-27.93zM820.96 295.5h28.41v2.4h-28.41zM820.96 313.0h28.41v2.4h-28.41zM848.92 237.5h28.41v5.4h-28.41zM848.92 249.5h28.41v2.4h-28.41zM848.92 265.5h28.41v3.9h-28.41zM876.88 237.5h28.41v3.4h-28.41zM876.88 265.5h28.41v3.9h-28.41zM876.88 291.5h28.41v2.9h-28.41zM876.88 306.0h28.41v2.4h-28.41zM876.88 322.5h28.41v2.5h-28.41zM904.83 269.0h28.41v2.4h-28.41zM932.79 269.0h28.41v4.9h-28.41zM932.79 294.0h28.41v1.9h-28.41zM988.71 242.5h28.41v5.4h-28.41zM988.71 254.5h28.41v1.9h-28.41zM988.71 265.5h28.41v3.9h-28.41zM988.71 273.5h28.41v2.4h-28.41zM988.71 279.0h28.41v1.9h-28.41zM988.71 297.5h28.41v3.4h-28.41zM1016.67 247.5h28.41v2.4h-28.41zM1016.67 271.0h28.41v4.9h-28.41zM1016.67 295.5h28.41v2.4h-28.41zM1016.67 313.0h28.41v2.4h-28.41zM1016.67 317.5h28.41v3.4h-28.41zM1016.67 322.5h28.41v2.5h-28.41zM1072.58 251.5h28.41v3.4h-28.41zM1072.58 269.0h28.41v2.4h-28.41zM762.57 383.0h27.93v3.4h-27.93zM762.57 391.0h27.93v3.4h-27.93zM762.57 399.5h27.93v2.9h-27.93zM762.57 453.5h27.93v2.4h-27.93zM762.57 457.5h27.93v7.9h-27.93zM762.57 484.0h27.93v2.9h-27.93zM762.57 488.0h27.93v1.9h-27.93zM762.57 494.0h27.93v3.9h-27.93zM762.57 502.5h27.93v5.4h-27.93zM762.57 509.5h27.93v2.4h-27.93zM762.57 515.5h27.93v7.4h-27.93zM762.57 540.0h27.93v3.4h-27.93zM762.57 548.0h27.93v2.4h-27.93zM762.57 559.5h27.93v5.4h-27.93zM762.57 579.5h27.93v1.9h-27.93zM820.96 599.0h28.41v6.9h-28.41zM820.96 612.0h28.41v7.4h-28.41zM820.96 621.0h28.41v3.9h-28.41zM820.96 628.0h28.41v5.9h-28.41zM820.96 640.5h28.41v3.9h-28.41zM820.96 646.5h28.41v4.9h-28.41zM820.96 656.0h28.41v3.9h-28.41zM820.96 662.5h28.41v2.0h-28.41zM848.92 524.5h28.41v2.9h-28.41zM904.83 327.5h28.41v2.9h-28.41zM904.83 334.5h28.41v4.9h-28.41zM904.83 342.5h28.41v2.9h-28.41zM904.83 347.5h28.41v3.4h-28.41zM904.83 356.0h28.41v3.9h-28.41zM904.83 372.0h28.41v9.4h-28.41zM904.83 391.0h28.41v3.4h-28.41zM904.83 395.5h28.41v4.4h-28.41zM904.83 413.5h28.41v4.4h-28.41zM904.83 428.0h28.41v3.9h-28.41zM904.83 438.0h28.41v4.4h-28.41zM904.83 443.5h28.41v7.4h-28.41zM904.83 455.5h28.41v2.4h-28.41zM904.83 465.0h28.41v2.4h-28.41zM904.83 480.0h28.41v1.9h-28.41zM904.83 494.0h28.41v3.9h-28.41zM904.83 505.5h28.41v4.4h-28.41zM904.83 579.5h28.41v1.9h-28.41zM904.83 585.5h28.41v4.4h-28.41zM904.83 602.0h28.41v3.9h-28.41zM904.83 621.0h28.41v3.9h-28.41zM904.83 628.0h28.41v3.9h-28.41zM904.83 633.5h28.41v4.4h-28.41zM904.83 646.5h28.41v4.9h-28.41zM904.83 656.0h28.41v3.9h-28.41zM932.79 327.5h28.41v2.9h-28.41zM932.79 331.5h28.41v3.4h-28.41zM932.79 353.0h28.41v6.9h-28.41zM932.79 365.5h28.41v4.4h-28.41zM932.79 372.0h28.41v2.4h-28.41zM932.79 383.0h28.41v3.4h-28.41zM932.79 411.0h28.41v2.9h-28.41zM932.79 480.0h28.41v1.9h-28.41zM932.79 502.5h28.41v3.4h-28.41zM932.79 511.5h28.41v9.9h-28.41zM932.79 555.0h28.41v1.9h-28.41zM932.79 562.5h28.41v2.4h-28.41zM932.79 612.0h28.41v3.9h-28.41zM932.79 637.5h28.41v3.4h-28.41zM960.75 327.5h28.41v2.9h-28.41zM960.75 336.0h28.41v6.9h-28.41zM960.75 365.5h28.41v6.9h-28.41zM960.75 612.0h28.41v3.9h-28.41zM960.75 662.5h28.41v2.0h-28.41zM988.71 327.5h28.41v2.9h-28.41zM988.71 331.5h28.41v3.4h-28.41zM988.71 374.0h28.41v4.4h-28.41zM988.71 389.0h28.41v5.4h-28.41zM988.71 467.0h28.41v3.9h-28.41zM988.71 494.0h28.41v3.9h-28.41zM1016.67 330.0h28.41v1.9h-28.41zM1016.67 339.0h28.41v3.9h-28.41zM1016.67 347.5h28.41v3.4h-28.41zM1016.67 353.0h28.41v3.4h-28.41zM1016.67 359.5h28.41v10.4h-28.41zM1016.67 422.0h28.41v4.4h-28.41zM1016.67 433.5h28.41v3.4h-28.41zM1016.67 581.0h28.41v4.9h-28.41zM1016.67 592.5h28.41v9.9h-28.41zM1016.67 605.5h28.41v6.9h-28.41zM1016.67 628.0h28.41v3.9h-28.41zM1016.67 635.0h28.41v5.9h-28.41zM1016.67 653.0h28.41v1.9h-28.41zM1016.67 659.5h28.41v5.0h-28.41zM1044.62 402.0h28.41v2.4h-28.41zM1044.62 473.5h28.41v3.9h-28.41zM1072.58 334.5h28.41v10.9h-28.41zM1072.58 362.5h28.41v3.4h-28.41zM1072.58 428.0h28.41v3.9h-28.41zM1072.58 556.5h28.41v3.4h-28.41zM1072.58 562.5h28.41v2.4h-28.41zM1072.58 576.5h28.41v3.4h-28.41zM1072.58 585.5h28.41v4.4h-28.41zM1072.58 595.5h28.41v3.9h-28.41zM1072.58 602.0h28.41v3.9h-28.41zM1072.58 612.0h28.41v3.9h-28.41zM1072.58 631.5h28.41v2.4h-28.41zM1072.58 640.5h28.41v6.4h-28.41zM1072.58 649.0h28.41v2.4h-28.41zM1072.58 656.0h28.41v3.9h-28.41zM1100.54 339.0h27.96v3.9h-27.96zM1100.54 402.0h27.96v2.4h-27.96zM1100.54 411.0h27.96v2.9h-27.96zM1100.54 417.5h27.96v3.4h-27.96zM1100.54 433.5h27.96v3.4h-27.96zM1100.54 442.0h27.96v3.9h-27.96zM1100.54 448.5h27.96v2.4h-27.96zM1100.54 455.5h27.96v6.4h-27.96zM1100.54 473.5h27.96v3.9h-27.96zM1100.54 480.0h27.96v6.9h-27.96zM1100.54 494.0h27.96v8.9h-27.96zM1100.54 507.5h27.96v2.4h-27.96zM1100.54 515.5h27.96v5.9h-27.96zM1100.54 534.0h27.96v4.4h-27.96zM1100.54 540.0h27.96v3.4h-27.96zM1100.54 570.0h27.96v3.9h-27.96zM1100.54 581.0h27.96v3.4h-27.96zM1100.54 585.5h27.96v4.4h-27.96zM1100.54 602.0h27.96v7.4h-27.96zM1100.54 612.0h27.96v3.9h-27.96zM1100.54 628.0h27.96v5.9h-27.96zM1100.54 635.0h27.96v2.9h-27.96zM1100.54 640.5h27.96v3.9h-27.96zM1100.54 649.0h27.96v4.4h-27.96zM1100.54 656.0h27.96v6.9h-27.96zM200.39 678.5h28.42v1.9h-28.42zM256.33 765.0h28.42v2.4h-28.42zM284.31 714.0h28.42v1.9h-28.42zM284.31 751.0h28.42v4.4h-28.42zM368.22 686.0h28.42v2.9h-28.42zM368.22 690.5h28.42v5.9h-28.42zM368.22 702.0h28.42v2.4h-28.42zM396.19 670.0h28.42v3.4h-28.42zM396.19 682.0h28.42v4.4h-28.42zM396.19 714.0h28.42v1.9h-28.42zM396.19 740.0h28.42v3.4h-28.42zM396.19 763.5h28.42v1.9h-28.42zM396.19 781.5h28.42v3.4h-28.42zM424.17 667.0h28.42v3.4h-28.42zM452.14 690.5h28.42v2.9h-28.42zM452.14 731.5h28.42v2.9h-28.42zM452.14 768.5h28.42v2.9h-28.42zM508.08 690.5h28.42v2.9h-28.42zM536.06 746.0h28.42v3.4h-28.42zM564.03 670.0h27.97v3.4h-27.97zM564.03 678.5h27.97v1.9h-27.97zM564.03 710.0h27.97v4.4h-27.97zM564.03 722.0h27.97v3.9h-27.97zM256.33 792.0h28.42v2.4h-28.42zM256.33 798.0h28.42v2.4h-28.42zM256.33 864.0h28.42v2.9h-28.42zM368.22 858.0h28.42v3.4h-28.42zM368.22 866.5h28.42v2.9h-28.42zM368.22 876.0h28.42v1.9h-28.42zM368.22 914.5h28.42v2.0h-28.42zM396.19 790.0h28.42v2.4h-28.42zM396.19 800.0h28.42v6.4h-28.42zM396.19 870.5h28.42v2.9h-28.42zM396.19 877.5h28.42v3.9h-28.42zM396.19 896.0h28.42v1.9h-28.42zM452.14 832.5h28.42v3.9h-28.42zM452.14 848.0h28.42v3.4h-28.42zM452.14 870.5h28.42v2.9h-28.42zM452.14 890.0h28.42v2.4h-28.42zM564.03 794.0h27.97v4.4h-27.97zM564.03 800.0h27.97v2.4h-27.97zM564.03 806.0h27.97v3.9h-27.97zM564.03 821.5h27.97v3.4h-27.97zM564.03 827.5h27.97v3.4h-27.97zM564.03 909.0h27.97v3.4h-27.97zM904.83 816.0h28.41v1.9h-28.41zM904.83 906.0h28.41v3.4h-28.41zM904.83 914.5h28.41v2.0h-28.41zM932.79 816.0h28.41v1.9h-28.41zM932.79 881.0h28.41v4.4h-28.41zM932.79 909.0h28.41v5.9h-28.41zM960.75 816.0h28.41v1.9h-28.41zM960.75 851.0h28.41v3.4h-28.41zM960.75 866.5h28.41v4.4h-28.41zM960.75 876.0h28.41v9.4h-28.41zM960.75 901.0h28.41v3.9h-28.41zM960.75 912.0h28.41v2.9h-28.41zM988.71 820.0h28.41v1.9h-28.41zM988.71 824.5h28.41v3.4h-28.41zM1044.62 877.5h28.41v3.9h-28.41zM1044.62 885.0h28.41v2.4h-28.41zM1044.62 904.5h28.41v4.9h-28.41zM1044.62 912.0h28.41v4.5h-28.41zM1072.58 816.0h28.41v1.9h-28.41zM1072.58 840.0h28.41v3.4h-28.41zM1072.58 848.0h28.41v3.4h-28.41zM1072.58 887.0h28.41v3.4h-28.41zM1072.58 912.0h28.41v2.9h-28.41zM1100.54 794.0h27.96v4.4h-27.96zM1100.54 802.0h27.96v2.4h-27.96zM1100.54 806.0h27.96v3.9h-27.96zM1100.54 832.5h27.96v3.9h-27.96zM1100.54 858.0h27.96v3.4h-27.96zM1100.54 896.0h27.96v1.9h-27.96zM1100.54 901.0h27.96v3.9h-27.96z"/>
<path fill="#1d5112" d="M595.00 279.0h28.38v1.9h-28.38zM622.93 249.5h28.38v6.9h-28.38zM622.93 294.0h28.38v1.9h-28.38zM650.86 251.5h28.38v3.4h-28.38zM650.86 273.5h28.38v2.4h-28.38zM678.79 254.5h28.38v1.9h-28.38zM678.79 262.0h28.38v3.9h-28.38zM678.79 308.0h28.38v3.4h-28.38zM678.79 317.5h28.38v3.4h-28.38zM734.64 251.5h28.38v3.4h-28.38zM734.64 279.0h28.38v1.9h-28.38zM734.64 313.0h28.38v4.9h-28.38zM762.57 258.5h27.93v1.9h-27.93zM762.57 265.5h27.93v3.9h-27.93zM762.57 279.0h27.93v1.9h-27.93zM762.57 286.5h27.93v3.9h-27.93zM762.57 300.5h27.93v5.9h-27.93zM762.57 308.0h27.93v3.4h-27.93zM762.57 315.0h27.93v5.9h-27.93zM793.00 271.0h28.41v2.9h-28.41zM820.96 254.5h28.41v1.9h-28.41zM820.96 282.5h28.41v2.9h-28.41zM820.96 286.5h28.41v3.9h-28.41zM820.96 291.5h28.41v2.9h-28.41zM820.96 308.0h28.41v3.4h-28.41zM848.92 242.5h28.41v3.9h-28.41zM848.92 251.5h28.41v3.4h-28.41zM848.92 308.0h28.41v3.4h-28.41zM848.92 315.0h28.41v2.9h-28.41zM876.88 285.0h28.41v1.9h-28.41zM876.88 297.5h28.41v3.4h-28.41zM876.88 308.0h28.41v5.4h-28.41zM876.88 315.0h28.41v2.9h-28.41zM876.88 320.5h28.41v2.4h-28.41zM904.83 275.5h28.41v3.9h-28.41zM904.83 282.5h28.41v2.9h-28.41zM904.83 317.5h28.41v3.4h-28.41zM932.79 262.0h28.41v3.9h-28.41zM932.79 273.5h28.41v2.4h-28.41zM932.79 300.5h28.41v3.9h-28.41zM932.79 311.0h28.41v2.4h-28.41zM960.75 262.0h28.41v3.9h-28.41zM960.75 271.0h28.41v2.9h-28.41zM960.75 286.5h28.41v5.4h-28.41zM960.75 300.5h28.41v3.9h-28.41zM960.75 306.0h28.41v2.4h-28.41zM988.71 247.5h28.41v2.4h-28.41zM988.71 251.5h28.41v3.4h-28.41zM988.71 260.0h28.41v2.4h-28.41zM988.71 290.0h28.41v1.9h-28.41zM988.71 300.5h28.41v3.9h-28.41zM1016.67 286.5h28.41v3.9h-28.41zM1016.67 304.0h28.41v2.4h-28.41zM1072.58 242.5h28.41v3.9h-28.41zM1072.58 249.5h28.41v2.4h-28.41zM1072.58 254.5h28.41v1.9h-28.41zM1072.58 311.0h28.41v2.4h-28.41zM1100.54 249.5h27.96v2.4h-27.96zM734.64 330.0h28.38v1.9h-28.38zM734.64 334.5h28.38v1.9h-28.38zM734.64 339.0h28.38v6.4h-28.38zM734.64 350.5h28.38v2.9h-28.38zM734.64 391.0h28.38v3.4h-28.38zM734.64 431.5h28.38v2.4h-28.38zM734.64 497.5h28.38v2.4h-28.38zM762.57 448.5h27.93v2.4h-27.93zM762.57 455.5h27.93v2.4h-27.93zM762.57 473.5h27.93v8.4h-27.93zM762.57 489.5h27.93v2.4h-27.93zM762.57 511.5h27.93v4.4h-27.93zM762.57 527.0h27.93v4.4h-27.93zM762.57 550.0h27.93v5.4h-27.93zM762.57 556.5h27.93v3.4h-27.93zM762.57 564.5h27.93v1.9h-27.93zM762.57 568.5h27.93v1.9h-27.93zM762.57 573.5h27.93v3.4h-27.93zM820.96 339.0h28.41v3.9h-28.41zM820.96 347.5h28.41v3.4h-28.41zM820.96 381.0h28.41v2.4h-28.41zM820.96 442.0h28.41v1.9h-28.41zM820.96 450.5h28.41v3.4h-28.41zM820.96 480.0h28.41v1.9h-28.41zM820.96 484.0h28.41v2.9h-28.41zM820.96 527.0h28.41v2.4h-28.41zM820.96 553.0h28.41v2.4h-28.41zM820.96 562.5h28.41v2.4h-28.41zM820.96 570.0h28.41v3.9h-28.41zM820.96 579.5h28.41v1.9h-28.41zM820.96 584.0h28.41v8.9h-28.41zM820.96 595.5h28.41v3.9h-28.41zM820.96 605.5h28.41v3.9h-28.41zM820.96 619.0h28.41v2.4h-28.41zM820.96 644.0h28.41v2.9h-28.41zM820.96 651.0h28.41v3.9h-28.41zM848.92 480.0h28.41v1.9h-28.41zM848.92 505.5h28.41v4.4h-28.41zM848.92 511.5h28.41v4.4h-28.41zM848.92 521.0h28.41v3.9h-28.41zM848.92 612.0h28.41v3.9h-28.41zM876.88 327.5h28.41v2.9h-28.41zM876.88 336.0h28.41v6.9h-28.41zM876.88 612.0h28.41v3.9h-28.41zM876.88 644.0h28.41v2.9h-28.41zM904.83 330.0h28.41v1.9h-28.41zM904.83 339.0h28.41v3.9h-28.41zM904.83 345.0h28.41v2.9h-28.41zM904.83 350.5h28.41v5.9h-28.41zM904.83 359.5h28.41v3.4h-28.41zM904.83 365.5h28.41v6.9h-28.41zM904.83 381.0h28.41v8.4h-28.41zM904.83 394.0h28.41v1.9h-28.41zM904.83 399.5h28.41v11.9h-28.41zM904.83 420.5h28.41v1.9h-28.41zM904.83 431.5h28.41v6.9h-28.41zM904.83 450.5h28.41v3.4h-28.41zM904.83 457.5h28.41v7.9h-28.41zM904.83 467.0h28.41v3.9h-28.41zM904.83 481.5h28.41v5.4h-28.41zM904.83 488.0h28.41v1.9h-28.41zM904.83 491.5h28.41v2.9h-28.41zM904.83 497.5h28.41v8.4h-28.41zM904.83 511.5h28.41v4.4h-28.41zM904.83 517.5h28.41v3.9h-28.41zM904.83 524.5h28.41v6.9h-28.41zM904.83 540.0h28.41v3.4h-28.41zM904.83 553.0h28.41v3.9h-28.41zM904.83 576.5h28.41v3.4h-28.41zM904.83 584.0h28.41v1.9h-28.41zM904.83 592.5h28.41v3.4h-28.41zM904.83 599.0h28.41v3.4h-28.41zM904.83 609.0h28.41v3.4h-28.41zM904.83 615.5h28.41v3.9h-28.41zM904.83 631.5h28.41v2.4h-28.41zM904.83 644.0h28.41v2.9h-28.41zM904.83 653.0h28.41v1.9h-28.41zM904.83 659.5h28.41v3.4h-28.41zM932.79 345.0h28.41v2.9h-28.41zM932.79 359.5h28.41v3.4h-28.41zM932.79 374.0h28.41v7.4h-28.41zM932.79 399.5h28.41v2.9h-28.41zM932.79 404.0h28.41v3.4h-28.41zM932.79 413.5h28.41v4.4h-28.41zM932.79 438.0h28.41v4.4h-28.41zM932.79 453.5h28.41v4.4h-28.41zM932.79 461.5h28.41v3.9h-28.41zM932.79 499.5h28.41v3.4h-28.41zM932.79 521.0h28.41v1.9h-28.41zM932.79 524.5h28.41v9.9h-28.41zM932.79 543.0h28.41v2.9h-28.41zM932.79 550.0h28.41v3.4h-28.41zM932.79 559.5h28.41v3.4h-28.41zM932.79 646.5h28.41v2.9h-28.41zM932.79 651.0h28.41v2.4h-28.41zM932.79 659.5h28.41v5.0h-28.41zM960.75 330.0h28.41v6.4h-28.41zM960.75 345.0h28.41v2.9h-28.41zM960.75 350.5h28.41v9.4h-28.41zM960.75 362.5h28.41v3.4h-28.41zM960.75 372.0h28.41v2.4h-28.41zM960.75 394.0h28.41v5.9h-28.41zM960.75 411.0h28.41v2.9h-28.41zM960.75 450.5h28.41v3.4h-28.41zM960.75 585.5h28.41v4.4h-28.41zM960.75 602.0h28.41v3.9h-28.41zM960.75 621.0h28.41v3.9h-28.41zM960.75 633.5h28.41v7.4h-28.41zM960.75 644.0h28.41v9.4h-28.41zM960.75 656.0h28.41v3.9h-28.41zM988.71 386.0h28.41v3.4h-28.41zM1016.67 327.5h28.41v2.9h-28.41zM1016.67 342.5h28.41v5.4h-28.41zM1016.67 350.5h28.41v2.9h-28.41zM1016.67 431.5h28.41v2.4h-28.41zM1016.67 615.5h28.41v5.9h-28.41zM1016.67 631.5h28.41v3.9h-28.41zM1016.67 640.5h28.41v6.4h-28.41zM1016.67 649.0h28.41v4.4h-28.41zM1044.62 381.0h28.41v5.4h-28.41zM1044.62 420.5h28.41v1.9h-28.41zM1044.62 457.5h28.41v4.4h-28.41zM1044.62 480.0h28.41v1.9h-28.41zM1044.62 502.5h28.41v5.4h-28.41zM1044.62 585.5h28.41v4.4h-28.41zM1072.58 330.0h28.41v1.9h-28.41zM1072.58 353.0h28.41v3.4h-28.41zM1072.58 365.5h28.41v4.4h-28.41zM1072.58 383.0h28.41v3.4h-28.41zM1072.58 399.5h28.41v4.9h-28.41zM1072.58 407.0h28.41v6.9h-28.41zM1072.58 415.0h28.41v5.9h-28.41zM1072.58 422.0h28.41v6.4h-28.41zM1072.58 433.5h28.41v6.9h-28.41zM1072.58 443.5h28.41v5.4h-28.41zM1072.58 450.5h28.41v5.4h-28.41zM1072.58 480.0h28.41v6.9h-28.41zM1072.58 507.5h28.41v2.4h-28.41zM1072.58 527.0h28.41v2.4h-28.41zM1072.58 540.0h28.41v3.4h-28.41zM1072.58 570.0h28.41v6.9h-28.41zM1072.58 579.5h28.41v1.9h-28.41zM1072.58 584.0h28.41v1.9h-28.41zM1072.58 592.5h28.41v3.4h-28.41zM1072.58 609.0h28.41v3.4h-28.41zM1072.58 615.5h28.41v3.9h-28.41zM1072.58 621.0h28.41v7.4h-28.41zM1072.58 646.5h28.41v2.9h-28.41zM1072.58 651.0h28.41v3.9h-28.41zM1100.54 336.0h27.96v3.4h-27.96zM1100.54 347.5h27.96v3.4h-27.96zM1100.54 359.5h27.96v3.4h-27.96zM1100.54 365.5h27.96v6.9h-27.96zM1100.54 381.0h27.96v2.4h-27.96zM1100.54 395.5h27.96v4.4h-27.96zM1100.54 413.5h27.96v4.4h-27.96zM1100.54 420.5h27.96v7.9h-27.96zM1100.54 431.5h27.96v2.4h-27.96zM1100.54 445.5h27.96v3.4h-27.96zM1100.54 465.0h27.96v2.4h-27.96zM1100.54 470.5h27.96v3.4h-27.96zM1100.54 486.5h27.96v1.9h-27.96zM1100.54 491.5h27.96v2.9h-27.96zM1100.54 509.5h27.96v2.4h-27.96zM1100.54 522.5h27.96v2.4h-27.96zM1100.54 527.0h27.96v2.4h-27.96zM1100.54 531.0h27.96v3.4h-27.96zM1100.54 538.0h27.96v2.4h-27.96zM1100.54 543.0h27.96v5.4h-27.96zM1100.54 550.0h27.96v6.9h-27.96zM1100.54 562.5h27.96v2.4h-27.96zM1100.54 576.5h27.96v3.4h-27.96zM1100.54 584.0h27.96v1.9h-27.96zM1100.54 589.5h27.96v3.4h-27.96zM1100.54 595.5h27.96v6.9h-27.96zM1100.54 615.5h27.96v3.9h-27.96zM1100.54 624.5h27.96v3.9h-27.96zM1100.54 633.5h27.96v1.9h-27.96zM1100.54 637.5h27.96v3.4h-27.96zM1100.54 653.0h27.96v1.9h-27.96zM116.47 751.0h28.42v4.4h-28.42zM116.47 757.5h28.42v3.4h-28.42zM116.47 767.0h28.42v1.9h-28.42zM116.47 777.5h28.42v2.9h-28.42zM144.44 667.0h28.42v3.4h-28.42zM200.39 670.0h28.42v3.4h-28.42zM200.39 746.0h28.42v3.4h-28.42zM200.39 751.0h28.42v4.4h-28.42zM200.39 784.5h28.42v3.0h-28.42zM228.36 738.0h28.42v2.4h-28.42zM256.33 760.5h28.42v3.4h-28.42zM256.33 771.0h28.42v3.9h-28.42zM284.31 746.0h28.42v3.4h-28.42zM284.31 765.0h28.42v2.4h-28.42zM340.25 690.5h28.42v2.9h-28.42zM340.25 702.0h28.42v2.4h-28.42zM340.25 714.0h28.42v1.9h-28.42zM368.22 682.0h28.42v4.4h-28.42zM368.22 704.0h28.42v3.4h-28.42zM368.22 714.0h28.42v1.9h-28.42zM396.19 690.5h28.42v2.9h-28.42zM396.19 728.5h28.42v5.9h-28.42zM396.19 767.0h28.42v4.4h-28.42zM396.19 777.5h28.42v2.9h-28.42zM452.14 728.5h28.42v3.4h-28.42zM480.11 714.0h28.42v1.9h-28.42zM508.08 719.0h28.42v3.4h-28.42zM564.03 673.0h27.97v2.4h-27.97zM564.03 728.5h27.97v3.4h-27.97zM564.03 781.5h27.97v3.4h-27.97zM256.33 836.0h28.42v4.4h-28.42zM368.22 800.0h28.42v2.4h-28.42zM368.22 836.0h28.42v4.4h-28.42zM368.22 845.0h28.42v3.4h-28.42zM368.22 864.0h28.42v2.9h-28.42zM368.22 892.0h28.42v4.4h-28.42zM368.22 904.5h28.42v1.9h-28.42zM396.19 816.0h28.42v1.9h-28.42zM396.19 821.5h28.42v6.4h-28.42zM396.19 854.0h28.42v4.4h-28.42zM396.19 866.5h28.42v2.9h-28.42zM396.19 881.0h28.42v6.4h-28.42zM396.19 890.0h28.42v2.4h-28.42zM424.17 802.0h28.42v2.4h-28.42zM452.14 792.0h28.42v6.4h-28.42zM452.14 802.0h28.42v2.4h-28.42zM452.14 876.0h28.42v1.9h-28.42zM508.08 798.0h28.42v2.4h-28.42zM564.03 798.0h27.97v2.4h-27.97zM564.03 804.0h27.97v2.4h-27.97zM564.03 816.0h27.97v1.9h-27.97zM564.03 820.0h27.97v1.9h-27.97zM564.03 851.0h27.97v3.4h-27.97zM706.71 866.5h28.38v2.9h-28.38zM848.92 820.0h28.41v1.9h-28.41zM904.83 817.5h28.41v2.9h-28.41zM904.83 827.5h28.41v3.4h-28.41zM932.79 820.0h28.41v1.9h-28.41zM932.79 848.0h28.41v3.4h-28.41zM932.79 877.5h28.41v3.9h-28.41zM932.79 890.0h28.41v2.4h-28.41zM932.79 904.5h28.41v1.9h-28.41zM960.75 798.0h28.41v2.4h-28.41zM960.75 832.5h28.41v3.9h-28.41zM960.75 897.5h28.41v3.9h-28.41zM988.71 896.0h28.41v1.9h-28.41zM988.71 912.0h28.41v2.9h-28.41zM1044.62 812.5h28.41v3.9h-28.41zM1044.62 820.0h28.41v1.9h-28.41zM1044.62 858.0h28.41v3.4h-28.41zM1044.62 869.0h28.41v4.4h-28.41zM1044.62 892.0h28.41v4.4h-28.41zM1072.58 792.0h28.41v2.4h-28.41zM1072.58 798.0h28.41v2.4h-28.41zM1072.58 817.5h28.41v2.9h-28.41zM1072.58 824.5h28.41v3.4h-28.41zM1072.58 843.0h28.41v2.4h-28.41zM1072.58 854.0h28.41v10.4h-28.41zM1072.58 869.0h28.41v1.9h-28.41zM1072.58 885.0h28.41v2.4h-28.41zM1072.58 914.5h28.41v2.0h-28.41zM1100.54 870.5h27.96v5.9h-27.96zM1100.54 890.0h27.96v6.4h-27.96z"/>
<path fill="#1b4a10" d="M595.00 254.5h28.38v1.9h-28.38zM595.00 291.5h28.38v2.9h-28.38zM622.93 237.5h28.38v3.4h-28.38zM622.93 247.5h28.38v2.4h-28.38zM622.93 258.5h28.38v1.9h-28.38zM622.93 265.5h28.38v3.9h-28.38zM622.93 273.5h28.38v2.4h-28.38zM622.93 280.5h28.38v2.4h-28.38zM622.93 313.0h28.38v2.4h-28.38zM650.86 237.5h28.38v3.4h-28.38zM650.86 246.0h28.38v3.9h-28.38zM650.86 265.5h28.38v3.9h-28.38zM650.86 280.5h28.38v2.4h-28.38zM650.86 285.0h28.38v1.9h-28.38zM678.79 260.0h28.38v2.4h-28.38zM678.79 265.5h28.38v3.9h-28.38zM678.79 271.0h28.38v4.9h-28.38zM678.79 279.0h28.38v1.9h-28.38zM678.79 290.0h28.38v4.4h-28.38zM678.79 313.0h28.38v2.4h-28.38zM734.64 254.5h28.38v1.9h-28.38zM734.64 280.5h28.38v2.4h-28.38zM734.64 297.5h28.38v3.4h-28.38zM734.64 317.5h28.38v3.4h-28.38zM762.57 280.5h27.93v4.9h-27.93zM762.57 322.5h27.93v2.5h-27.93zM793.00 249.5h28.41v2.4h-28.41zM820.96 251.5h28.41v3.4h-28.41zM820.96 258.5h28.41v1.9h-28.41zM820.96 273.5h28.41v2.4h-28.41zM820.96 279.0h28.41v1.9h-28.41zM820.96 306.0h28.41v2.4h-28.41zM820.96 311.0h28.41v2.4h-28.41zM848.92 247.5h28.41v2.4h-28.41zM848.92 275.5h28.41v3.9h-28.41zM848.92 295.5h28.41v2.4h-28.41zM848.92 311.0h28.41v4.4h-28.41zM876.88 249.5h28.41v2.4h-28.41zM876.88 256.0h28.41v2.9h-28.41zM876.88 262.0h28.41v3.9h-28.41zM876.88 280.5h28.41v2.4h-28.41zM876.88 300.5h28.41v3.9h-28.41zM904.83 256.0h28.41v4.4h-28.41zM904.83 280.5h28.41v2.4h-28.41zM904.83 285.0h28.41v1.9h-28.41zM904.83 304.0h28.41v2.4h-28.41zM932.79 237.5h28.41v3.4h-28.41zM932.79 242.5h28.41v3.9h-28.41zM932.79 251.5h28.41v4.9h-28.41zM932.79 258.5h28.41v1.9h-28.41zM932.79 282.5h28.41v2.9h-28.41zM932.79 286.5h28.41v3.9h-28.41zM932.79 304.0h28.41v2.4h-28.41zM932.79 313.0h28.41v4.9h-28.41zM960.75 295.5h28.41v5.4h-28.41zM988.71 291.5h28.41v2.9h-28.41zM988.71 311.0h28.41v4.4h-28.41zM988.71 322.5h28.41v2.5h-28.41zM1072.58 237.5h28.41v3.4h-28.41zM1072.58 265.5h28.41v3.9h-28.41zM1072.58 280.5h28.41v2.4h-28.41zM1072.58 294.0h28.41v1.9h-28.41zM1072.58 317.5h28.41v3.4h-28.41zM1100.54 265.5h27.96v3.9h-27.96zM1100.54 294.0h27.96v1.9h-27.96zM595.00 383.0h28.38v3.4h-28.38zM734.64 331.5h28.38v3.4h-28.38zM734.64 336.0h28.38v3.4h-28.38zM734.64 345.0h28.38v2.9h-28.38zM734.64 356.0h28.38v6.9h-28.38zM734.64 365.5h28.38v12.9h-28.38zM734.64 381.0h28.38v8.4h-28.38zM734.64 399.5h28.38v2.9h-28.38zM734.64 426.0h28.38v5.9h-28.38zM734.64 457.5h28.38v4.4h-28.38zM734.64 489.5h28.38v2.4h-28.38zM734.64 494.0h28.38v3.9h-28.38zM734.64 511.5h28.38v4.4h-28.38zM734.64 531.0h28.38v3.4h-28.38zM734.64 548.0h28.38v2.4h-28.38zM734.64 564.5h28.38v1.9h-28.38zM734.64 651.0h28.38v2.4h-28.38zM762.57 369.5h27.93v2.9h-27.93zM762.57 381.0h27.93v2.4h-27.93zM762.57 386.0h27.93v5.4h-27.93zM762.57 402.0h27.93v9.4h-27.93zM762.57 413.5h27.93v4.4h-27.93zM762.57 420.5h27.93v1.9h-27.93zM762.57 431.5h27.93v2.4h-27.93zM762.57 436.5h27.93v1.9h-27.93zM762.57 440.0h27.93v2.4h-27.93zM762.57 443.5h27.93v2.4h-27.93zM762.57 465.0h27.93v5.9h-27.93zM762.57 555.0h27.93v1.9h-27.93zM762.57 566.0h27.93v2.9h-27.93zM762.57 576.5h27.93v3.4h-27.93zM762.57 581.0h27.93v3.4h-27.93zM762.57 651.0h27.93v2.4h-27.93zM793.00 336.0h28.41v3.4h-28.41zM793.00 372.0h28.41v2.4h-28.41zM820.96 334.5h28.41v4.9h-28.41zM820.96 342.5h28.41v5.4h-28.41zM820.96 356.0h28.41v13.9h-28.41zM820.96 420.5h28.41v1.9h-28.41zM820.96 438.0h28.41v2.4h-28.41zM820.96 445.5h28.41v3.4h-28.41zM820.96 453.5h28.41v2.4h-28.41zM820.96 457.5h28.41v4.4h-28.41zM820.96 465.0h28.41v15.4h-28.41zM820.96 481.5h28.41v2.9h-28.41zM820.96 486.5h28.41v1.9h-28.41zM820.96 494.0h28.41v3.9h-28.41zM820.96 502.5h28.41v3.4h-28.41zM820.96 507.5h28.41v2.4h-28.41zM820.96 511.5h28.41v6.4h-28.41zM820.96 531.0h28.41v3.4h-28.41zM820.96 538.0h28.41v5.4h-28.41zM820.96 545.5h28.41v7.9h-28.41zM820.96 555.0h28.41v4.9h-28.41zM820.96 576.5h28.41v3.4h-28.41zM820.96 581.0h28.41v3.4h-28.41zM820.96 592.5h28.41v3.4h-28.41zM820.96 609.0h28.41v3.4h-28.41zM820.96 654.5h28.41v1.9h-28.41zM848.92 415.0h28.41v2.9h-28.41zM848.92 436.5h28.41v1.9h-28.41zM848.92 440.0h28.41v2.4h-28.41zM848.92 450.5h28.41v3.4h-28.41zM848.92 455.5h28.41v2.4h-28.41zM848.92 465.0h28.41v2.4h-28.41zM848.92 488.0h28.41v1.9h-28.41zM848.92 494.0h28.41v3.9h-28.41zM848.92 499.5h28.41v6.4h-28.41zM848.92 517.5h28.41v3.9h-28.41zM848.92 527.0h28.41v2.4h-28.41zM848.92 581.0h28.41v3.4h-28.41zM848.92 585.5h28.41v4.4h-28.41zM848.92 599.0h28.41v10.4h-28.41zM876.88 330.0h28.41v1.9h-28.41zM876.88 334.5h28.41v1.9h-28.41zM876.88 347.5h28.41v8.9h-28.41zM876.88 359.5h28.41v10.4h-28.41zM876.88 383.0h28.41v3.4h-28.41zM876.88 391.0h28.41v3.4h-28.41zM876.88 411.0h28.41v2.9h-28.41zM876.88 422.0h28.41v4.4h-28.41zM876.88 585.5h28.41v4.4h-28.41zM876.88 605.5h28.41v3.9h-28.41zM876.88 621.0h28.41v3.9h-28.41zM876.88 628.0h28.41v12.9h-28.41zM876.88 651.0h28.41v2.4h-28.41zM876.88 656.0h28.41v8.5h-28.41zM904.83 331.5h28.41v3.4h-28.41zM904.83 389.0h28.41v2.4h-28.41zM904.83 426.0h28.41v2.4h-28.41zM904.83 442.0h28.41v1.9h-28.41zM904.83 453.5h28.41v2.4h-28.41zM904.83 470.5h28.41v9.9h-28.41zM904.83 486.5h28.41v1.9h-28.41zM904.83 489.5h28.41v2.4h-28.41zM904.83 515.5h28.41v2.4h-28.41zM904.83 531.0h28.41v3.4h-28.41zM904.83 543.0h28.41v10.4h-28.41zM904.83 556.5h28.41v8.4h-28.41zM904.83 566.0h28.41v10.9h-28.41zM904.83 595.5h28.41v3.9h-28.41zM904.83 619.0h28.41v2.4h-28.41zM904.83 654.5h28.41v1.9h-28.41zM932.79 386.0h28.41v13.9h-28.41zM932.79 402.0h28.41v2.4h-28.41zM932.79 407.0h28.41v4.4h-28.41zM932.79 417.5h28.41v3.4h-28.41zM932.79 426.0h28.41v2.4h-28.41zM932.79 431.5h28.41v2.4h-28.41zM932.79 442.0h28.41v3.9h-28.41zM932.79 448.5h28.41v5.4h-28.41zM932.79 457.5h28.41v4.4h-28.41zM932.79 465.0h28.41v8.9h-28.41zM932.79 481.5h28.41v10.4h-28.41zM932.79 494.0h28.41v5.9h-28.41zM932.79 505.5h28.41v6.4h-28.41zM932.79 522.5h28.41v2.4h-28.41zM932.79 534.0h28.41v4.4h-28.41zM932.79 540.0h28.41v3.4h-28.41zM932.79 545.5h28.41v4.9h-28.41zM932.79 553.0h28.41v2.4h-28.41zM932.79 570.0h28.41v3.9h-28.41zM932.79 579.5h28.41v1.9h-28.41zM932.79 584.0h28.41v8.9h-28.41zM932.79 599.0h28.41v13.4h-28.41zM932.79 615.5h28.41v3.9h-28.41zM932.79 621.0h28.41v7.4h-28.41zM932.79 640.5h28.41v6.4h-28.41zM932.79 649.0h28.41v2.4h-28.41zM932.79 656.0h28.41v3.9h-28.41zM960.75 359.5h28.41v3.4h-28.41zM960.75 374.0h28.41v9.4h-28.41zM960.75 402.0h28.41v2.4h-28.41zM960.75 413.5h28.41v1.9h-28.41zM960.75 417.5h28.41v3.4h-28.41zM960.75 422.0h28.41v4.4h-28.41zM960.75 428.0h28.41v3.9h-28.41zM960.75 438.0h28.41v10.9h-28.41zM960.75 453.5h28.41v8.4h-28.41zM960.75 473.5h28.41v3.9h-28.41zM960.75 480.0h28.41v1.9h-28.41zM960.75 491.5h28.41v2.9h-28.41zM960.75 511.5h28.41v4.4h-28.41zM960.75 527.0h28.41v2.4h-28.41zM960.75 534.0h28.41v4.4h-28.41zM960.75 540.0h28.41v3.4h-28.41zM960.75 545.5h28.41v2.9h-28.41zM960.75 579.5h28.41v4.9h-28.41zM960.75 589.5h28.41v3.4h-28.41zM960.75 595.5h28.41v6.9h-28.41zM960.75 605.5h28.41v3.9h-28.41zM960.75 615.5h28.41v3.9h-28.41zM960.75 624.5h28.41v7.4h-28.41zM960.75 640.5h28.41v3.9h-28.41zM960.75 653.0h28.41v3.4h-28.41zM960.75 659.5h28.41v3.4h-28.41zM1016.67 331.5h28.41v4.9h-28.41zM1016.67 654.5h28.41v1.9h-28.41zM1044.62 336.0h28.41v3.4h-28.41zM1044.62 362.5h28.41v7.4h-28.41zM1044.62 372.0h28.41v2.4h-28.41zM1044.62 378.0h28.41v3.4h-28.41zM1044.62 391.0h28.41v3.4h-28.41zM1044.62 395.5h28.41v4.4h-28.41zM1044.62 413.5h28.41v7.4h-28.41zM1044.62 422.0h28.41v4.4h-28.41zM1044.62 445.5h28.41v5.4h-28.41zM1044.62 453.5h28.41v4.4h-28.41zM1044.62 461.5h28.41v5.9h-28.41zM1044.62 470.5h28.41v3.4h-28.41zM1044.62 477.0h28.41v3.4h-28.41zM1044.62 481.5h28.41v5.4h-28.41zM1044.62 494.0h28.41v7.4h-28.41zM1044.62 507.5h28.41v2.4h-28.41zM1044.62 511.5h28.41v6.4h-28.41zM1044.62 524.5h28.41v2.9h-28.41zM1044.62 529.0h28.41v2.4h-28.41zM1044.62 534.0h28.41v9.4h-28.41zM1044.62 545.5h28.41v2.9h-28.41zM1044.62 559.5h28.41v3.4h-28.41zM1044.62 568.5h28.41v1.9h-28.41zM1044.62 589.5h28.41v3.4h-28.41zM1044.62 605.5h28.41v3.9h-28.41zM1044.62 612.0h28.41v3.9h-28.41zM1072.58 327.5h28.41v2.9h-28.41zM1072.58 345.0h28.41v2.9h-28.41zM1072.58 350.5h28.41v2.9h-28.41zM1072.58 356.0h28.41v6.9h-28.41zM1072.58 369.5h28.41v2.9h-28.41zM1072.58 374.0h28.41v4.4h-28.41zM1072.58 381.0h28.41v2.4h-28.41zM1072.58 404.0h28.41v3.4h-28.41zM1072.58 413.5h28.41v1.9h-28.41zM1072.58 420.5h28.41v1.9h-28.41zM1072.58 440.0h28.41v3.9h-28.41zM1072.58 448.5h28.41v2.4h-28.41zM1072.58 455.5h28.41v6.4h-28.41zM1072.58 473.5h28.41v3.9h-28.41zM1072.58 491.5h28.41v14.4h-28.41zM1072.58 509.5h28.41v6.4h-28.41zM1072.58 521.0h28.41v1.9h-28.41zM1072.58 524.5h28.41v2.9h-28.41zM1072.58 529.0h28.41v2.4h-28.41zM1072.58 543.0h28.41v13.9h-28.41zM1072.58 559.5h28.41v3.4h-28.41zM1072.58 581.0h28.41v3.4h-28.41zM1072.58 628.0h28.41v3.9h-28.41zM1072.58 654.5h28.41v1.9h-28.41zM1072.58 659.5h28.41v3.4h-28.41zM1100.54 327.5h27.96v4.4h-27.96zM1100.54 345.0h27.96v2.9h-27.96zM1100.54 350.5h27.96v9.4h-27.96zM1100.54 362.5h27.96v3.4h-27.96zM1100.54 372.0h27.96v9.4h-27.96zM1100.54 383.0h27.96v3.4h-27.96zM1100.54 389.0h27.96v6.9h-27.96zM1100.54 399.5h27.96v2.9h-27.96zM1100.54 404.0h27.96v7.4h-27.96zM1100.54 436.5h27.96v1.9h-27.96zM1100.54 461.5h27.96v3.9h-27.96zM1100.54 488.0h27.96v3.9h-27.96zM1100.54 556.5h27.96v3.4h-27.96zM1100.54 564.5h27.96v5.9h-27.96zM1100.54 592.5h27.96v3.4h-27.96zM1100.54 609.0h27.96v3.4h-27.96zM1100.54 619.0h27.96v5.9h-27.96zM1100.54 654.5h27.96v1.9h-27.96zM116.47 734.0h28.42v9.4h-28.42zM116.47 763.5h28.42v3.9h-28.42zM116.47 780.0h28.42v4.9h-28.42zM144.44 678.5h28.42v1.9h-28.42zM144.44 751.0h28.42v4.4h-28.42zM200.39 693.0h28.42v3.4h-28.42zM200.39 728.5h28.42v3.4h-28.42zM200.39 781.5h28.42v3.4h-28.42zM256.33 696.0h28.42v4.4h-28.42zM256.33 702.0h28.42v2.4h-28.42zM256.33 749.0h28.42v2.4h-28.42zM284.31 704.0h28.42v3.4h-28.42zM284.31 719.0h28.42v3.4h-28.42zM284.31 763.5h28.42v1.9h-28.42zM284.31 774.5h28.42v3.4h-28.42zM312.28 696.0h28.42v4.4h-28.42zM340.25 673.0h28.42v2.4h-28.42zM340.25 678.5h28.42v1.9h-28.42zM340.25 700.0h28.42v2.4h-28.42zM368.22 710.0h28.42v4.4h-28.42zM368.22 763.5h28.42v1.9h-28.42zM396.19 678.5h28.42v1.9h-28.42zM396.19 700.0h28.42v2.4h-28.42zM396.19 722.0h28.42v3.9h-28.42zM396.19 743.0h28.42v3.4h-28.42zM424.17 702.0h28.42v5.4h-28.42zM424.17 715.5h28.42v3.9h-28.42zM424.17 740.0h28.42v3.4h-28.42zM424.17 760.5h28.42v6.9h-28.42zM452.14 763.5h28.42v1.9h-28.42zM480.11 678.5h28.42v1.9h-28.42zM480.11 719.0h28.42v3.4h-28.42zM508.08 670.0h28.42v3.4h-28.42zM508.08 693.0h28.42v3.4h-28.42zM508.08 700.0h28.42v2.4h-28.42zM508.08 714.0h28.42v5.4h-28.42zM564.03 686.0h27.97v2.9h-27.97zM564.03 700.0h27.97v2.4h-27.97zM564.03 704.0h27.97v3.4h-27.97zM564.03 715.5h27.97v6.9h-27.97zM256.33 832.5h28.42v3.9h-28.42zM340.25 792.0h28.42v2.4h-28.42zM340.25 866.5h28.42v2.9h-28.42zM340.25 870.5h28.42v5.9h-28.42zM368.22 792.0h28.42v2.4h-28.42zM368.22 843.0h28.42v2.4h-28.42zM368.22 881.0h28.42v6.4h-28.42zM368.22 890.0h28.42v2.4h-28.42zM368.22 896.0h28.42v5.4h-28.42zM368.22 906.0h28.42v6.4h-28.42zM396.19 806.0h28.42v3.9h-28.42zM396.19 830.5h28.42v2.4h-28.42zM396.19 892.0h28.42v4.4h-28.42zM396.19 901.0h28.42v3.9h-28.42zM396.19 906.0h28.42v3.4h-28.42zM424.17 790.0h28.42v2.4h-28.42zM452.14 798.0h28.42v2.4h-28.42zM452.14 830.5h28.42v2.4h-28.42zM452.14 843.0h28.42v2.4h-28.42zM452.14 851.0h28.42v3.4h-28.42zM452.14 869.0h28.42v1.9h-28.42zM452.14 881.0h28.42v4.4h-28.42zM508.08 792.0h28.42v2.4h-28.42zM508.08 802.0h28.42v2.4h-28.42zM536.06 861.0h28.42v3.4h-28.42zM564.03 809.5h27.97v3.4h-27.97zM564.03 840.0h27.97v3.4h-27.97zM564.03 896.0h27.97v1.9h-27.97zM793.00 845.0h28.41v3.4h-28.41zM876.88 885.0h28.41v2.4h-28.41zM876.88 901.0h28.41v3.9h-28.41zM904.83 812.5h28.41v3.9h-28.41zM904.83 820.0h28.41v1.9h-28.41zM904.83 824.5h28.41v3.4h-28.41zM904.83 830.5h28.41v2.4h-28.41zM932.79 854.0h28.41v4.4h-28.41zM932.79 885.0h28.41v2.4h-28.41zM960.75 806.0h28.41v3.9h-28.41zM960.75 817.5h28.41v2.9h-28.41zM960.75 824.5h28.41v3.4h-28.41zM960.75 836.0h28.41v4.4h-28.41zM960.75 843.0h28.41v2.4h-28.41zM988.71 816.0h28.41v1.9h-28.41zM988.71 827.5h28.41v3.4h-28.41zM988.71 876.0h28.41v5.4h-28.41zM988.71 906.0h28.41v3.4h-28.41zM988.71 914.5h28.41v2.0h-28.41zM1044.62 794.0h28.41v4.4h-28.41zM1044.62 821.5h28.41v3.4h-28.41zM1044.62 830.5h28.41v2.4h-28.41zM1044.62 897.5h28.41v3.9h-28.41zM1072.58 804.0h28.41v2.4h-28.41zM1072.58 821.5h28.41v3.4h-28.41zM1072.58 845.0h28.41v3.4h-28.41zM1072.58 864.0h28.41v2.9h-28.41zM1072.58 873.0h28.41v3.4h-28.41zM1072.58 877.5h28.41v3.9h-28.41zM1072.58 890.0h28.41v2.4h-28.41zM1100.54 885.0h27.96v2.4h-27.96zM1100.54 914.5h27.96v2.0h-27.96z"/>
<path fill="#19430f" d="M595.00 251.5h28.38v3.4h-28.38zM595.00 273.5h28.38v2.4h-28.38zM595.00 282.5h28.38v2.9h-28.38zM595.00 286.5h28.38v3.9h-28.38zM622.93 246.0h28.38v1.9h-28.38zM622.93 262.0h28.38v3.9h-28.38zM622.93 275.5h28.38v5.4h-28.38zM622.93 308.0h28.38v5.4h-28.38zM622.93 320.5h28.38v4.5h-28.38zM650.86 269.0h28.38v2.4h-28.38zM650.86 275.5h28.38v3.9h-28.38zM650.86 286.5h28.38v3.9h-28.38zM650.86 294.0h28.38v1.9h-28.38zM650.86 300.5h28.38v3.9h-28.38zM650.86 313.0h28.38v2.4h-28.38zM678.79 251.5h28.38v3.4h-28.38zM678.79 258.5h28.38v1.9h-28.38zM678.79 280.5h28.38v2.4h-28.38zM678.79 294.0h28.38v10.4h-28.38zM678.79 320.5h28.38v2.4h-28.38zM706.71 285.0h28.38v1.9h-28.38zM734.64 256.0h28.38v2.9h-28.38zM734.64 286.5h28.38v3.9h-28.38zM762.57 254.5h27.93v4.4h-27.93zM762.57 275.5h27.93v3.9h-27.93zM793.00 237.5h28.41v3.4h-28.41zM793.00 311.0h28.41v4.4h-28.41zM820.96 240.5h28.41v2.4h-28.41zM820.96 249.5h28.41v2.4h-28.41zM820.96 260.0h28.41v2.4h-28.41zM820.96 271.0h28.41v2.9h-28.41zM820.96 275.5h28.41v3.9h-28.41zM820.96 280.5h28.41v2.4h-28.41zM820.96 300.5h28.41v5.9h-28.41zM848.92 254.5h28.41v4.4h-28.41zM848.92 262.0h28.41v3.9h-28.41zM848.92 269.0h28.41v4.9h-28.41zM876.88 282.5h28.41v2.9h-28.41zM876.88 295.5h28.41v2.4h-28.41zM876.88 313.0h28.41v2.4h-28.41zM904.83 265.5h28.41v3.9h-28.41zM904.83 271.0h28.41v2.9h-28.41zM904.83 297.5h28.41v3.4h-28.41zM904.83 315.0h28.41v2.9h-28.41zM932.79 249.5h28.41v2.4h-28.41zM932.79 265.5h28.41v3.9h-28.41zM932.79 279.0h28.41v1.9h-28.41zM932.79 285.0h28.41v1.9h-28.41zM932.79 308.0h28.41v3.4h-28.41zM932.79 317.5h28.41v5.4h-28.41zM960.75 237.5h28.41v3.4h-28.41zM960.75 256.0h28.41v2.9h-28.41zM960.75 260.0h28.41v2.4h-28.41zM960.75 265.5h28.41v3.9h-28.41zM960.75 273.5h28.41v2.4h-28.41zM960.75 282.5h28.41v2.9h-28.41zM960.75 308.0h28.41v5.4h-28.41zM960.75 315.0h28.41v2.9h-28.41zM988.71 258.5h28.41v1.9h-28.41zM988.71 285.0h28.41v1.9h-28.41zM1044.62 265.5h28.41v3.9h-28.41zM1072.58 256.0h28.41v2.9h-28.41zM1072.58 295.5h28.41v2.4h-28.41zM1072.58 308.0h28.41v3.4h-28.41zM1100.54 240.5h27.96v2.4h-27.96zM1100.54 258.5h27.96v1.9h-27.96zM1100.54 262.0h27.96v3.9h-27.96zM1100.54 269.0h27.96v2.4h-27.96zM595.00 334.5h28.38v1.9h-28.38zM595.00 347.5h28.38v3.4h-28.38zM595.00 372.0h28.38v2.4h-28.38zM595.00 438.0h28.38v2.4h-28.38zM595.00 640.5h28.38v3.9h-28.38zM622.93 383.0h28.38v3.4h-28.38zM622.93 654.5h28.38v1.9h-28.38zM650.86 579.5h28.38v1.9h-28.38zM650.86 595.5h28.38v3.9h-28.38zM678.79 428.0h28.38v3.9h-28.38zM678.79 481.5h28.38v2.9h-28.38zM678.79 497.5h28.38v2.4h-28.38zM678.79 505.5h28.38v2.4h-28.38zM678.79 515.5h28.38v2.4h-28.38zM678.79 581.0h28.38v3.4h-28.38zM678.79 619.0h28.38v2.4h-28.38zM678.79 640.5h28.38v3.9h-28.38zM734.64 327.5h28.38v2.9h-28.38zM734.64 347.5h28.38v3.4h-28.38zM734.64 362.5h28.38v3.4h-28.38zM734.64 389.0h28.38v2.4h-28.38zM734.64 395.5h28.38v4.4h-28.38zM734.64 402.0h28.38v2.4h-28.38zM734.64 407.0h28.38v6.9h-28.38zM734.64 420.5h28.38v5.9h-28.38zM734.64 436.5h28.38v3.9h-28.38zM734.64 442.0h28.38v1.9h-28.38zM734.64 445.5h28.38v5.4h-28.38zM734.64 453.5h28.38v2.4h-28.38zM734.64 481.5h28.38v2.9h-28.38zM734.64 488.0h28.38v1.9h-28.38zM734.64 499.5h28.38v1.9h-28.38zM734.64 505.5h28.38v2.4h-28.38zM734.64 521.0h28.38v1.9h-28.38zM734.64 534.0h28.38v6.4h-28.38zM734.64 543.0h28.38v5.4h-28.38zM734.64 556.5h28.38v8.4h-28.38zM734.64 568.5h28.38v5.4h-28.38zM734.64 581.0h28.38v3.4h-28.38zM734.64 585.5h28.38v4.4h-28.38zM734.64 619.0h28.38v2.4h-28.38zM734.64 653.0h28.38v1.9h-28.38zM762.57 374.0h27.93v7.4h-27.93zM762.57 394.0h27.93v5.9h-27.93zM762.57 411.0h27.93v2.9h-27.93zM762.57 422.0h27.93v6.4h-27.93zM762.57 438.0h27.93v2.4h-27.93zM762.57 445.5h27.93v3.4h-27.93zM762.57 589.5h27.93v3.4h-27.93zM762.57 605.5h27.93v3.9h-27.93zM762.57 637.5h27.93v6.9h-27.93zM762.57 649.0h27.93v2.4h-27.93zM762.57 654.5h27.93v1.9h-27.93zM793.00 334.5h28.41v1.9h-28.41zM793.00 365.5h28.41v4.4h-28.41zM793.00 381.0h28.41v2.4h-28.41zM793.00 391.0h28.41v3.4h-28.41zM793.00 415.0h28.41v2.9h-28.41zM793.00 457.5h28.41v4.4h-28.41zM793.00 477.0h28.41v4.9h-28.41zM793.00 484.0h28.41v2.9h-28.41zM793.00 524.5h28.41v2.9h-28.41zM793.00 624.5h28.41v3.9h-28.41zM793.00 640.5h28.41v3.9h-28.41zM793.00 651.0h28.41v2.4h-28.41zM793.00 662.5h28.41v2.0h-28.41zM820.96 330.0h28.41v4.9h-28.41zM820.96 350.5h28.41v5.9h-28.41zM820.96 372.0h28.41v9.4h-28.41zM820.96 383.0h28.41v3.4h-28.41zM820.96 391.0h28.41v3.4h-28.41zM820.96 395.5h28.41v6.9h-28.41zM820.96 411.0h28.41v6.9h-28.41zM820.96 422.0h28.41v6.4h-28.41zM820.96 433.5h28.41v3.4h-28.41zM820.96 443.5h28.41v2.4h-28.41zM820.96 448.5h28.41v2.4h-28.41zM820.96 455.5h28.41v2.4h-28.41zM820.96 461.5h28.41v3.9h-28.41zM820.96 488.0h28.41v3.9h-28.41zM820.96 497.5h28.41v5.4h-28.41zM820.96 509.5h28.41v2.4h-28.41zM820.96 517.5h28.41v3.9h-28.41zM820.96 524.5h28.41v2.9h-28.41zM820.96 534.0h28.41v4.4h-28.41zM820.96 543.0h28.41v2.9h-28.41zM820.96 559.5h28.41v3.4h-28.41zM820.96 564.5h28.41v5.9h-28.41zM820.96 573.5h28.41v3.4h-28.41zM848.92 413.5h28.41v1.9h-28.41zM848.92 420.5h28.41v1.9h-28.41zM848.92 433.5h28.41v3.4h-28.41zM848.92 438.0h28.41v2.4h-28.41zM848.92 443.5h28.41v2.4h-28.41zM848.92 448.5h28.41v2.4h-28.41zM848.92 453.5h28.41v2.4h-28.41zM848.92 457.5h28.41v4.4h-28.41zM848.92 473.5h28.41v3.9h-28.41zM848.92 481.5h28.41v5.4h-28.41zM848.92 509.5h28.41v2.4h-28.41zM848.92 515.5h28.41v2.4h-28.41zM848.92 529.0h28.41v11.4h-28.41zM848.92 543.0h28.41v5.4h-28.41zM848.92 550.0h28.41v5.4h-28.41zM848.92 576.5h28.41v4.9h-28.41zM848.92 589.5h28.41v3.4h-28.41zM848.92 595.5h28.41v3.9h-28.41zM848.92 615.5h28.41v3.9h-28.41zM848.92 621.0h28.41v7.4h-28.41zM848.92 631.5h28.41v2.4h-28.41zM848.92 640.5h28.41v3.9h-28.41zM848.92 659.5h28.41v5.0h-28.41zM876.88 331.5h28.41v3.4h-28.41zM876.88 342.5h28.41v5.4h-28.41zM876.88 356.0h28.41v3.9h-28.41zM876.88 369.5h28.41v2.9h-28.41zM876.88 378.0h28.41v3.4h-28.41zM876.88 394.0h28.41v10.4h-28.41zM876.88 407.0h28.41v4.4h-28.41zM876.88 413.5h28.41v8.9h-28.41zM876.88 436.5h28.41v9.4h-28.41zM876.88 450.5h28.41v5.4h-28.41zM876.88 461.5h28.41v3.9h-28.41zM876.88 494.0h28.41v5.9h-28.41zM876.88 501.0h28.41v1.9h-28.41zM876.88 517.5h28.41v3.9h-28.41zM876.88 534.0h28.41v4.4h-28.41zM876.88 555.0h28.41v4.9h-28.41zM876.88 579.5h28.41v1.9h-28.41zM876.88 602.0h28.41v3.9h-28.41zM876.88 615.5h28.41v5.9h-28.41zM876.88 624.5h28.41v3.9h-28.41zM876.88 640.5h28.41v3.9h-28.41zM876.88 646.5h28.41v2.9h-28.41zM876.88 653.0h28.41v3.4h-28.41zM904.83 509.5h28.41v2.4h-28.41zM904.83 521.0h28.41v3.9h-28.41zM904.83 534.0h28.41v6.4h-28.41zM904.83 581.0h28.41v3.4h-28.41zM932.79 422.0h28.41v4.4h-28.41zM932.79 428.0h28.41v3.9h-28.41zM932.79 433.5h28.41v4.9h-28.41zM932.79 445.5h28.41v3.4h-28.41zM932.79 473.5h28.41v3.9h-28.41zM932.79 491.5h28.41v2.9h-28.41zM932.79 538.0h28.41v2.4h-28.41zM932.79 556.5h28.41v3.4h-28.41zM932.79 566.0h28.41v4.4h-28.41zM932.79 573.5h28.41v6.4h-28.41zM932.79 595.5h28.41v3.9h-28.41zM932.79 631.5h28.41v3.9h-28.41zM932.79 654.5h28.41v1.9h-28.41zM960.75 383.0h28.41v11.4h-28.41zM960.75 404.0h28.41v7.4h-28.41zM960.75 415.0h28.41v2.9h-28.41zM960.75 448.5h28.41v2.4h-28.41zM960.75 467.0h28.41v3.9h-28.41zM960.75 477.0h28.41v3.4h-28.41zM960.75 481.5h28.41v2.9h-28.41zM960.75 486.5h28.41v3.4h-28.41zM960.75 494.0h28.41v5.9h-28.41zM960.75 501.0h28.41v8.9h-28.41zM960.75 515.5h28.41v2.4h-28.41zM960.75 521.0h28.41v1.9h-28.41zM960.75 524.5h28.41v2.9h-28.41zM960.75 531.0h28.41v3.4h-28.41zM960.75 538.0h28.41v2.4h-28.41zM960.75 568.5h28.41v5.4h-28.41zM960.75 584.0h28.41v1.9h-28.41zM960.75 592.5h28.41v3.4h-28.41zM960.75 609.0h28.41v3.4h-28.41zM960.75 631.5h28.41v2.4h-28.41zM988.71 619.0h28.41v2.4h-28.41zM1016.67 488.0h28.41v1.9h-28.41zM1044.62 334.5h28.41v1.9h-28.41zM1044.62 339.0h28.41v6.4h-28.41zM1044.62 347.5h28.41v5.9h-28.41zM1044.62 356.0h28.41v6.9h-28.41zM1044.62 369.5h28.41v2.9h-28.41zM1044.62 386.0h28.41v3.4h-28.41zM1044.62 394.0h28.41v1.9h-28.41zM1044.62 399.5h28.41v2.9h-28.41zM1044.62 407.0h28.41v6.9h-28.41zM1044.62 426.0h28.41v5.9h-28.41zM1044.62 433.5h28.41v12.4h-28.41zM1044.62 450.5h28.41v3.4h-28.41zM1044.62 467.0h28.41v3.9h-28.41zM1044.62 488.0h28.41v6.4h-28.41zM1044.62 501.0h28.41v1.9h-28.41zM1044.62 517.5h28.41v3.9h-28.41zM1044.62 527.0h28.41v2.4h-28.41zM1044.62 531.0h28.41v3.4h-28.41zM1044.62 553.0h28.41v6.9h-28.41zM1044.62 562.5h28.41v2.4h-28.41zM1044.62 570.0h28.41v3.9h-28.41zM1044.62 599.0h28.41v3.4h-28.41zM1044.62 615.5h28.41v3.9h-28.41zM1072.58 372.0h28.41v2.4h-28.41zM1072.58 378.0h28.41v3.4h-28.41zM1072.58 386.0h28.41v8.4h-28.41zM1072.58 431.5h28.41v2.4h-28.41zM1072.58 465.0h28.41v8.9h-28.41zM1072.58 488.0h28.41v3.9h-28.41zM1072.58 505.5h28.41v2.4h-28.41zM1072.58 515.5h28.41v5.9h-28.41zM1072.58 531.0h28.41v9.4h-28.41zM1072.58 566.0h28.41v4.4h-28.41zM1100.54 331.5h27.96v4.9h-27.96zM1100.54 386.0h27.96v3.4h-27.96zM1100.54 477.0h27.96v3.4h-27.96zM1100.54 559.5h27.96v3.4h-27.96zM1100.54 573.5h27.96v3.4h-27.96zM116.47 728.5h28.42v3.4h-28.42zM116.47 755.0h28.42v2.9h-28.42zM172.42 714.0h28.42v1.9h-28.42zM172.42 760.5h28.42v3.4h-28.42zM172.42 767.0h28.42v1.9h-28.42zM172.42 781.5h28.42v3.4h-28.42zM200.39 714.0h28.42v1.9h-28.42zM200.39 765.0h28.42v2.4h-28.42zM200.39 777.5h28.42v2.9h-28.42zM228.36 710.0h28.42v4.4h-28.42zM228.36 767.0h28.42v1.9h-28.42zM256.33 675.0h28.42v5.4h-28.42zM256.33 738.0h28.42v2.4h-28.42zM256.33 743.0h28.42v3.4h-28.42zM256.33 755.0h28.42v5.9h-28.42zM256.33 763.5h28.42v1.9h-28.42zM256.33 768.5h28.42v2.9h-28.42zM256.33 777.5h28.42v2.9h-28.42zM256.33 781.5h28.42v3.4h-28.42zM284.31 682.0h28.42v4.4h-28.42zM284.31 693.0h28.42v3.4h-28.42zM284.31 725.5h28.42v3.4h-28.42zM284.31 768.5h28.42v6.4h-28.42zM284.31 781.5h28.42v3.4h-28.42zM312.28 670.0h28.42v3.4h-28.42zM312.28 678.5h28.42v3.9h-28.42zM312.28 702.0h28.42v2.4h-28.42zM312.28 710.0h28.42v4.4h-28.42zM340.25 682.0h28.42v4.4h-28.42zM340.25 696.0h28.42v4.4h-28.42zM368.22 688.5h28.42v2.4h-28.42zM368.22 696.0h28.42v4.4h-28.42zM368.22 757.5h28.42v3.4h-28.42zM368.22 774.5h28.42v3.4h-28.42zM396.19 680.0h28.42v2.4h-28.42zM396.19 686.0h28.42v2.9h-28.42zM396.19 704.0h28.42v3.4h-28.42zM424.17 688.5h28.42v4.9h-28.42zM424.17 738.0h28.42v2.4h-28.42zM424.17 751.0h28.42v4.4h-28.42zM424.17 780.0h28.42v1.9h-28.42zM452.14 673.0h28.42v2.4h-28.42zM452.14 702.0h28.42v2.4h-28.42zM452.14 725.5h28.42v3.4h-28.42zM452.14 743.0h28.42v3.4h-28.42zM480.11 667.0h28.42v6.4h-28.42zM508.08 678.5h28.42v1.9h-28.42zM508.08 734.0h28.42v4.4h-28.42zM536.06 700.0h28.42v2.4h-28.42zM536.06 763.5h28.42v1.9h-28.42zM536.06 774.5h28.42v3.4h-28.42zM564.03 667.0h27.97v3.4h-27.97zM564.03 702.0h27.97v2.4h-27.97zM564.03 707.0h27.97v3.4h-27.97zM564.03 714.0h27.97v1.9h-27.97zM793.00 719.0h28.41v3.4h-28.41zM256.33 790.0h28.42v2.4h-28.42zM256.33 802.0h28.42v2.4h-28.42zM256.33 806.0h28.42v3.9h-28.42zM340.25 800.0h28.42v4.4h-28.42zM368.22 804.0h28.42v2.4h-28.42zM368.22 851.0h28.42v3.4h-28.42zM368.22 877.5h28.42v3.9h-28.42zM396.19 812.5h28.42v3.9h-28.42zM396.19 817.5h28.42v2.9h-28.42zM396.19 843.0h28.42v2.4h-28.42zM396.19 861.0h28.42v3.4h-28.42zM396.19 873.0h28.42v3.4h-28.42zM396.19 897.5h28.42v3.9h-28.42zM424.17 794.0h28.42v4.4h-28.42zM424.17 840.0h28.42v3.4h-28.42zM424.17 845.0h28.42v3.4h-28.42zM424.17 864.0h28.42v2.9h-28.42zM424.17 870.5h28.42v2.9h-28.42zM452.14 809.5h28.42v3.4h-28.42zM452.14 824.5h28.42v3.4h-28.42zM452.14 854.0h28.42v4.4h-28.42zM452.14 866.5h28.42v2.9h-28.42zM452.14 887.0h28.42v3.4h-28.42zM452.14 901.0h28.42v3.9h-28.42zM452.14 914.5h28.42v2.0h-28.42zM508.08 790.0h28.42v2.4h-28.42zM508.08 794.0h28.42v4.4h-28.42zM536.06 858.0h28.42v3.4h-28.42zM536.06 912.0h28.42v2.9h-28.42zM564.03 830.5h27.97v2.4h-27.97zM564.03 836.0h27.97v4.4h-27.97zM564.03 870.5h27.97v2.9h-27.97zM564.03 890.0h27.97v2.4h-27.97zM564.03 901.0h27.97v3.9h-27.97zM564.03 912.0h27.97v4.5h-27.97zM706.71 864.0h28.38v2.9h-28.38zM706.71 869.0h28.38v1.9h-28.38zM706.71 877.5h28.38v3.9h-28.38zM706.71 912.0h28.38v2.9h-28.38zM793.00 820.0h28.41v1.9h-28.41zM793.00 851.0h28.41v3.4h-28.41zM820.96 840.0h28.41v3.4h-28.41zM848.92 830.5h28.41v2.4h-28.41zM876.88 866.5h28.41v2.9h-28.41zM876.88 890.0h28.41v2.4h-28.41zM904.83 821.5h28.41v3.4h-28.41zM904.83 848.0h28.41v3.4h-28.41zM904.83 885.0h28.41v2.4h-28.41zM904.83 896.0h28.41v1.9h-28.41zM904.83 909.0h28.41v3.4h-28.41zM932.79 858.0h28.41v8.9h-28.41zM932.79 869.0h28.41v1.9h-28.41zM932.79 896.0h28.41v5.4h-28.41zM960.75 804.0h28.41v2.4h-28.41zM960.75 820.0h28.41v1.9h-28.41zM960.75 830.5h28.41v2.4h-28.41zM960.75 840.0h28.41v3.4h-28.41zM960.75 858.0h28.41v3.4h-28.41zM960.75 873.0h28.41v3.4h-28.41zM988.71 809.5h28.41v6.9h-28.41zM988.71 885.0h28.41v2.4h-28.41zM988.71 909.0h28.41v3.4h-28.41zM1044.62 798.0h28.41v2.4h-28.41zM1044.62 843.0h28.41v2.4h-28.41zM1044.62 848.0h28.41v3.4h-28.41zM1044.62 864.0h28.41v2.9h-28.41zM1044.62 873.0h28.41v3.4h-28.41zM1072.58 794.0h28.41v4.4h-28.41zM1072.58 836.0h28.41v4.4h-28.41zM1072.58 866.5h28.41v2.9h-28.41zM1100.54 851.0h27.96v3.4h-27.96zM1100.54 864.0h27.96v2.9h-27.96zM1100.54 876.0h27.96v5.4h-27.96zM1100.54 897.5h27.96v3.9h-27.96zM1100.54 904.5h27.96v1.9h-27.96z"/>
<path fill="#173c0e" d="M595.00 247.5h28.38v2.4h-28.38zM595.00 258.5h28.38v1.9h-28.38zM595.00 306.0h28.38v2.4h-28.38zM595.00 315.0h28.38v2.9h-28.38zM595.00 320.5h28.38v2.4h-28.38zM622.93 240.5h28.38v5.9h-28.38zM622.93 285.0h28.38v5.4h-28.38zM622.93 300.5h28.38v3.9h-28.38zM622.93 317.5h28.38v3.4h-28.38zM650.86 240.5h28.38v2.4h-28.38zM650.86 258.5h28.38v1.9h-28.38zM650.86 262.0h28.38v3.9h-28.38zM650.86 282.5h28.38v2.9h-28.38zM650.86 315.0h28.38v2.9h-28.38zM678.79 237.5h28.38v3.4h-28.38zM678.79 242.5h28.38v3.9h-28.38zM678.79 249.5h28.38v2.4h-28.38zM678.79 285.0h28.38v1.9h-28.38zM678.79 306.0h28.38v2.4h-28.38zM678.79 315.0h28.38v2.9h-28.38zM678.79 322.5h28.38v2.5h-28.38zM706.71 300.5h28.38v3.9h-28.38zM734.64 290.0h28.38v1.9h-28.38zM762.57 240.5h27.93v2.4h-27.93zM762.57 271.0h27.93v2.9h-27.93zM762.57 285.0h27.93v1.9h-27.93zM762.57 295.5h27.93v2.4h-27.93zM793.00 254.5h28.41v4.4h-28.41zM793.00 308.0h28.41v3.4h-28.41zM793.00 317.5h28.41v3.4h-28.41zM793.00 322.5h28.41v2.5h-28.41zM820.96 242.5h28.41v7.4h-28.41zM820.96 262.0h28.41v9.4h-28.41zM820.96 285.0h28.41v1.9h-28.41zM820.96 290.0h28.41v1.9h-28.41zM820.96 294.0h28.41v1.9h-28.41zM848.92 246.0h28.41v1.9h-28.41zM848.92 279.0h28.41v1.9h-28.41zM848.92 304.0h28.41v2.4h-28.41zM876.88 240.5h28.41v7.4h-28.41zM876.88 251.5h28.41v3.4h-28.41zM876.88 258.5h28.41v1.9h-28.41zM876.88 271.0h28.41v4.9h-28.41zM876.88 279.0h28.41v1.9h-28.41zM876.88 290.0h28.41v1.9h-28.41zM876.88 304.0h28.41v2.4h-28.41zM904.83 242.5h28.41v3.9h-28.41zM904.83 273.5h28.41v2.4h-28.41zM904.83 291.5h28.41v2.9h-28.41zM904.83 308.0h28.41v5.4h-28.41zM904.83 320.5h28.41v2.4h-28.41zM932.79 260.0h28.41v2.4h-28.41zM932.79 291.5h28.41v2.9h-28.41zM960.75 247.5h28.41v4.4h-28.41zM960.75 254.5h28.41v1.9h-28.41zM960.75 258.5h28.41v1.9h-28.41zM960.75 279.0h28.41v3.9h-28.41zM960.75 285.0h28.41v1.9h-28.41zM960.75 291.5h28.41v2.9h-28.41zM960.75 304.0h28.41v2.4h-28.41zM988.71 280.5h28.41v2.4h-28.41zM988.71 304.0h28.41v2.4h-28.41zM988.71 315.0h28.41v2.9h-28.41zM988.71 320.5h28.41v2.4h-28.41zM1016.67 280.5h28.41v2.4h-28.41zM1044.62 294.0h28.41v1.9h-28.41zM1072.58 240.5h28.41v2.4h-28.41zM1072.58 246.0h28.41v3.9h-28.41zM1072.58 260.0h28.41v2.4h-28.41zM1072.58 279.0h28.41v1.9h-28.41zM1072.58 300.5h28.41v5.9h-28.41zM1072.58 322.5h28.41v2.5h-28.41zM1100.54 251.5h27.96v3.4h-27.96zM1100.54 260.0h27.96v2.4h-27.96zM1100.54 271.0h27.96v2.9h-27.96zM1100.54 297.5h27.96v3.4h-27.96zM595.00 330.0h28.38v4.9h-28.38zM595.00 336.0h28.38v11.9h-28.38zM595.00 350.5h28.38v5.9h-28.38zM595.00 359.5h28.38v12.9h-28.38zM595.00 381.0h28.38v2.4h-28.38zM595.00 386.0h28.38v3.4h-28.38zM595.00 391.0h28.38v3.4h-28.38zM595.00 426.0h28.38v2.4h-28.38zM595.00 436.5h28.38v1.9h-28.38zM595.00 440.0h28.38v2.4h-28.38zM595.00 453.5h28.38v2.4h-28.38zM595.00 457.5h28.38v4.4h-28.38zM595.00 644.0h28.38v2.9h-28.38zM622.93 339.0h28.38v3.9h-28.38zM622.93 438.0h28.38v2.4h-28.38zM622.93 453.5h28.38v2.4h-28.38zM622.93 488.0h28.38v1.9h-28.38zM622.93 543.0h28.38v2.9h-28.38zM622.93 566.0h28.38v2.9h-28.38zM622.93 584.0h28.38v1.9h-28.38zM622.93 589.5h28.38v3.4h-28.38zM622.93 595.5h28.38v3.9h-28.38zM622.93 633.5h28.38v1.9h-28.38zM622.93 644.0h28.38v2.9h-28.38zM650.86 327.5h28.38v2.9h-28.38zM650.86 345.0h28.38v5.9h-28.38zM650.86 353.0h28.38v3.4h-28.38zM650.86 362.5h28.38v3.4h-28.38zM650.86 369.5h28.38v2.9h-28.38zM650.86 426.0h28.38v2.4h-28.38zM650.86 455.5h28.38v2.4h-28.38zM650.86 497.5h28.38v2.4h-28.38zM650.86 517.5h28.38v3.9h-28.38zM650.86 531.0h28.38v7.4h-28.38zM650.86 568.5h28.38v1.9h-28.38zM650.86 592.5h28.38v3.4h-28.38zM650.86 605.5h28.38v3.9h-28.38zM650.86 651.0h28.38v2.4h-28.38zM650.86 654.5h28.38v1.9h-28.38zM678.79 331.5h28.38v3.4h-28.38zM678.79 345.0h28.38v2.9h-28.38zM678.79 359.5h28.38v3.4h-28.38zM678.79 365.5h28.38v12.9h-28.38zM678.79 381.0h28.38v8.4h-28.38zM678.79 391.0h28.38v3.4h-28.38zM678.79 415.0h28.38v2.9h-28.38zM678.79 420.5h28.38v1.9h-28.38zM678.79 438.0h28.38v2.4h-28.38zM678.79 448.5h28.38v2.4h-28.38zM678.79 457.5h28.38v4.4h-28.38zM678.79 470.5h28.38v3.4h-28.38zM678.79 484.0h28.38v2.9h-28.38zM678.79 511.5h28.38v4.4h-28.38zM678.79 524.5h28.38v2.9h-28.38zM678.79 538.0h28.38v2.4h-28.38zM678.79 545.5h28.38v2.9h-28.38zM678.79 553.0h28.38v2.4h-28.38zM678.79 556.5h28.38v3.4h-28.38zM678.79 568.5h28.38v5.4h-28.38zM678.79 576.5h28.38v4.9h-28.38zM678.79 584.0h28.38v1.9h-28.38zM678.79 589.5h28.38v3.4h-28.38zM678.79 595.5h28.38v6.9h-28.38zM678.79 635.0h28.38v2.9h-28.38zM678.79 649.0h28.38v4.4h-28.38zM734.64 353.0h28.38v3.4h-28.38zM734.64 378.0h28.38v3.4h-28.38zM734.64 394.0h28.38v1.9h-28.38zM734.64 404.0h28.38v3.4h-28.38zM734.64 413.5h28.38v4.4h-28.38zM734.64 433.5h28.38v3.4h-28.38zM734.64 443.5h28.38v2.4h-28.38zM734.64 450.5h28.38v3.4h-28.38zM734.64 455.5h28.38v2.4h-28.38zM734.64 461.5h28.38v3.9h-28.38zM734.64 470.5h28.38v6.9h-28.38zM734.64 484.0h28.38v4.4h-28.38zM734.64 491.5h28.38v2.9h-28.38zM734.64 501.0h28.38v4.9h-28.38zM734.64 507.5h28.38v4.4h-28.38zM734.64 515.5h28.38v5.9h-28.38zM734.64 522.5h28.38v2.4h-28.38zM734.64 529.0h28.38v2.4h-28.38zM734.64 540.0h28.38v3.4h-28.38zM734.64 553.0h28.38v3.9h-28.38zM734.64 566.0h28.38v2.9h-28.38zM734.64 573.5h28.38v3.4h-28.38zM734.64 579.5h28.38v1.9h-28.38zM734.64 584.0h28.38v1.9h-28.38zM734.64 589.5h28.38v3.4h-28.38zM734.64 595.5h28.38v6.9h-28.38zM734.64 609.0h28.38v3.4h-28.38zM734.64 615.5h28.38v3.9h-28.38zM734.64 624.5h28.38v3.9h-28.38zM734.64 631.5h28.38v3.9h-28.38zM734.64 640.5h28.38v3.9h-28.38zM734.64 649.0h28.38v2.4h-28.38zM734.64 654.5h28.38v1.9h-28.38zM734.64 659.5h28.38v3.4h-28.38zM762.57 334.5h27.93v1.9h-27.93zM762.57 339.0h27.93v3.9h-27.93zM762.57 350.5h27.93v2.9h-27.93zM762.57 362.5h27.93v7.4h-27.93zM762.57 372.0h27.93v2.4h-27.93zM762.57 428.0h27.93v3.9h-27.93zM762.57 433.5h27.93v3.4h-27.93zM762.57 442.0h27.93v1.9h-27.93zM762.57 450.5h27.93v3.4h-27.93zM762.57 584.0h27.93v5.9h-27.93zM762.57 599.0h27.93v3.4h-27.93zM762.57 612.0h27.93v3.9h-27.93zM762.57 628.0h27.93v9.9h-27.93zM762.57 644.0h27.93v2.9h-27.93zM762.57 653.0h27.93v1.9h-27.93zM762.57 662.5h27.93v2.0h-27.93zM793.00 327.5h28.41v2.9h-28.41zM793.00 339.0h28.41v3.9h-28.41zM793.00 347.5h28.41v5.9h-28.41zM793.00 362.5h28.41v3.4h-28.41zM793.00 369.5h28.41v2.9h-28.41zM793.00 378.0h28.41v3.4h-28.41zM793.00 386.0h28.41v5.4h-28.41zM793.00 394.0h28.41v10.4h-28.41zM793.00 407.0h28.41v4.4h-28.41zM793.00 413.5h28.41v1.9h-28.41zM793.00 422.0h28.41v4.4h-28.41zM793.00 436.5h28.41v3.9h-28.41zM793.00 453.5h28.41v4.4h-28.41zM793.00 465.0h28.41v5.9h-28.41zM793.00 481.5h28.41v2.9h-28.41zM793.00 488.0h28.41v1.9h-28.41zM793.00 491.5h28.41v6.4h-28.41zM793.00 502.5h28.41v7.4h-28.41zM793.00 511.5h28.41v4.4h-28.41zM793.00 545.5h28.41v2.9h-28.41zM793.00 584.0h28.41v8.9h-28.41zM793.00 599.0h28.41v10.4h-28.41zM793.00 628.0h28.41v5.9h-28.41zM793.00 637.5h28.41v3.4h-28.41zM793.00 644.0h28.41v7.4h-28.41zM793.00 653.0h28.41v1.9h-28.41zM793.00 656.0h28.41v3.9h-28.41zM820.96 327.5h28.41v2.9h-28.41zM820.96 369.5h28.41v2.9h-28.41zM820.96 386.0h28.41v5.4h-28.41zM820.96 394.0h28.41v1.9h-28.41zM820.96 404.0h28.41v7.4h-28.41zM820.96 417.5h28.41v3.4h-28.41zM820.96 428.0h28.41v5.9h-28.41zM820.96 440.0h28.41v2.4h-28.41zM820.96 491.5h28.41v2.9h-28.41zM820.96 505.5h28.41v2.4h-28.41zM820.96 521.0h28.41v3.9h-28.41zM820.96 529.0h28.41v2.4h-28.41zM848.92 374.0h28.41v4.4h-28.41zM848.92 395.5h28.41v4.4h-28.41zM848.92 402.0h28.41v5.4h-28.41zM848.92 411.0h28.41v2.9h-28.41zM848.92 417.5h28.41v3.4h-28.41zM848.92 422.0h28.41v11.9h-28.41zM848.92 442.0h28.41v1.9h-28.41zM848.92 461.5h28.41v3.9h-28.41zM848.92 467.0h28.41v6.9h-28.41zM848.92 477.0h28.41v3.4h-28.41zM848.92 486.5h28.41v1.9h-28.41zM848.92 489.5h28.41v4.9h-28.41zM848.92 497.5h28.41v2.4h-28.41zM848.92 540.0h28.41v3.4h-28.41zM848.92 555.0h28.41v4.9h-28.41zM848.92 562.5h28.41v2.4h-28.41zM848.92 566.0h28.41v7.9h-28.41zM848.92 592.5h28.41v3.4h-28.41zM848.92 609.0h28.41v3.4h-28.41zM848.92 633.5h28.41v7.4h-28.41zM848.92 644.0h28.41v2.9h-28.41zM848.92 649.0h28.41v5.9h-28.41zM876.88 372.0h28.41v2.4h-28.41zM876.88 381.0h28.41v2.4h-28.41zM876.88 389.0h28.41v2.4h-28.41zM876.88 404.0h28.41v3.4h-28.41zM876.88 426.0h28.41v5.9h-28.41zM876.88 433.5h28.41v3.4h-28.41zM876.88 448.5h28.41v2.4h-28.41zM876.88 455.5h28.41v6.4h-28.41zM876.88 465.0h28.41v2.4h-28.41zM876.88 473.5h28.41v13.4h-28.41zM876.88 491.5h28.41v2.9h-28.41zM876.88 499.5h28.41v1.9h-28.41zM876.88 502.5h28.41v9.4h-28.41zM876.88 521.0h28.41v6.4h-28.41zM876.88 529.0h28.41v5.4h-28.41zM876.88 540.0h28.41v3.4h-28.41zM876.88 545.5h28.41v2.9h-28.41zM876.88 553.0h28.41v2.4h-28.41zM876.88 562.5h28.41v2.4h-28.41zM876.88 570.0h28.41v3.9h-28.41zM876.88 589.5h28.41v3.4h-28.41zM876.88 595.5h28.41v6.9h-28.41zM932.79 420.5h28.41v1.9h-28.41zM932.79 477.0h28.41v3.4h-28.41zM932.79 564.5h28.41v1.9h-28.41zM932.79 581.0h28.41v3.4h-28.41zM932.79 592.5h28.41v3.4h-28.41zM932.79 619.0h28.41v2.4h-28.41zM932.79 653.0h28.41v1.9h-28.41zM960.75 399.5h28.41v2.9h-28.41zM960.75 426.0h28.41v2.4h-28.41zM960.75 431.5h28.41v6.9h-28.41zM960.75 461.5h28.41v5.9h-28.41zM960.75 470.5h28.41v3.4h-28.41zM960.75 484.0h28.41v2.9h-28.41zM960.75 499.5h28.41v1.9h-28.41zM960.75 509.5h28.41v2.4h-28.41zM960.75 517.5h28.41v3.9h-28.41zM960.75 522.5h28.41v2.4h-28.41zM960.75 529.0h28.41v2.4h-28.41zM960.75 543.0h28.41v2.9h-28.41zM960.75 548.0h28.41v7.4h-28.41zM960.75 556.5h28.41v8.4h-28.41zM1044.62 327.5h28.41v2.9h-28.41zM1044.62 331.5h28.41v3.4h-28.41zM1044.62 345.0h28.41v2.9h-28.41zM1044.62 353.0h28.41v3.4h-28.41zM1044.62 374.0h28.41v4.4h-28.41zM1044.62 389.0h28.41v2.4h-28.41zM1044.62 404.0h28.41v3.4h-28.41zM1044.62 431.5h28.41v2.4h-28.41zM1044.62 486.5h28.41v1.9h-28.41zM1044.62 509.5h28.41v2.4h-28.41zM1044.62 521.0h28.41v3.9h-28.41zM1044.62 543.0h28.41v2.9h-28.41zM1044.62 548.0h28.41v5.4h-28.41zM1044.62 566.0h28.41v2.9h-28.41zM1044.62 573.5h28.41v12.4h-28.41zM1044.62 592.5h28.41v6.9h-28.41zM1044.62 602.0h28.41v3.9h-28.41zM1044.62 624.5h28.41v3.9h-28.41zM1044.62 637.5h28.41v3.4h-28.41zM1044.62 646.5h28.41v2.9h-28.41zM1072.58 331.5h28.41v3.4h-28.41zM1072.58 394.0h28.41v5.9h-28.41zM1072.58 461.5h28.41v3.9h-28.41zM1072.58 477.0h28.41v3.4h-28.41zM1072.58 486.5h28.41v1.9h-28.41zM1072.58 564.5h28.41v1.9h-28.41zM1100.54 440.0h27.96v2.4h-27.96zM1100.54 521.0h27.96v1.9h-27.96zM116.47 667.0h28.42v3.4h-28.42zM116.47 743.0h28.42v3.4h-28.42zM116.47 760.5h28.42v3.4h-28.42zM144.44 673.0h28.42v2.4h-28.42zM144.44 690.5h28.42v2.9h-28.42zM144.44 740.0h28.42v3.4h-28.42zM172.42 746.0h28.42v3.4h-28.42zM172.42 751.0h28.42v4.4h-28.42zM172.42 774.5h28.42v3.4h-28.42zM172.42 784.5h28.42v3.0h-28.42zM200.39 675.0h28.42v3.9h-28.42zM200.39 682.0h28.42v4.4h-28.42zM200.39 734.0h28.42v4.4h-28.42zM200.39 771.0h28.42v6.9h-28.42zM228.36 670.0h28.42v3.4h-28.42zM228.36 680.0h28.42v2.4h-28.42zM228.36 700.0h28.42v2.4h-28.42zM228.36 780.0h28.42v1.9h-28.42zM256.33 667.0h28.42v6.4h-28.42zM256.33 686.0h28.42v4.9h-28.42zM256.33 707.0h28.42v3.4h-28.42zM256.33 725.5h28.42v3.4h-28.42zM256.33 740.0h28.42v3.4h-28.42zM256.33 746.0h28.42v3.4h-28.42zM256.33 767.0h28.42v1.9h-28.42zM284.31 673.0h28.42v2.4h-28.42zM284.31 690.5h28.42v2.9h-28.42zM284.31 702.0h28.42v2.4h-28.42zM284.31 715.5h28.42v3.9h-28.42zM284.31 728.5h28.42v5.9h-28.42zM284.31 740.0h28.42v3.4h-28.42zM284.31 749.0h28.42v2.4h-28.42zM284.31 757.5h28.42v3.4h-28.42zM284.31 780.0h28.42v1.9h-28.42zM312.28 673.0h28.42v2.4h-28.42zM312.28 688.5h28.42v2.4h-28.42zM312.28 700.0h28.42v2.4h-28.42zM312.28 715.5h28.42v3.9h-28.42zM340.25 667.0h28.42v6.4h-28.42zM340.25 719.0h28.42v3.4h-28.42zM340.25 728.5h28.42v3.4h-28.42zM368.22 751.0h28.42v6.9h-28.42zM368.22 765.0h28.42v2.4h-28.42zM368.22 780.0h28.42v1.9h-28.42zM396.19 693.0h28.42v3.4h-28.42zM396.19 780.0h28.42v1.9h-28.42zM424.17 670.0h28.42v5.4h-28.42zM424.17 686.0h28.42v2.9h-28.42zM424.17 693.0h28.42v3.4h-28.42zM424.17 700.0h28.42v2.4h-28.42zM424.17 710.0h28.42v4.4h-28.42zM424.17 719.0h28.42v3.4h-28.42zM424.17 728.5h28.42v3.4h-28.42zM424.17 757.5h28.42v3.4h-28.42zM424.17 781.5h28.42v6.0h-28.42zM452.14 670.0h28.42v3.4h-28.42zM452.14 678.5h28.42v3.9h-28.42zM452.14 704.0h28.42v3.4h-28.42zM452.14 714.0h28.42v5.4h-28.42zM452.14 757.5h28.42v3.4h-28.42zM452.14 784.5h28.42v3.0h-28.42zM480.11 710.0h28.42v4.4h-28.42zM480.11 722.0h28.42v3.9h-28.42zM508.08 702.0h28.42v5.4h-28.42zM508.08 710.0h28.42v4.4h-28.42zM508.08 738.0h28.42v2.4h-28.42zM536.06 690.5h28.42v5.9h-28.42zM536.06 749.0h28.42v6.4h-28.42zM536.06 780.0h28.42v1.9h-28.42zM536.06 784.5h28.42v3.0h-28.42zM564.03 690.5h27.97v2.9h-27.97zM564.03 696.0h27.97v4.4h-27.97zM564.03 725.5h27.97v3.4h-27.97zM564.03 751.0h27.97v4.4h-27.97zM564.03 760.5h27.97v4.9h-27.97zM564.03 784.5h27.97v3.0h-27.97zM706.71 731.5h28.38v2.9h-28.38zM706.71 740.0h28.38v3.4h-28.38zM762.57 781.5h27.93v3.4h-27.93zM848.92 725.5h28.41v3.4h-28.41zM960.75 767.0h28.41v1.9h-28.41zM1044.62 710.0h28.41v4.4h-28.41zM1044.62 780.0h28.41v1.9h-28.41zM1044.62 784.5h28.41v3.0h-28.41zM1100.54 700.0h27.96v2.4h-27.96zM256.33 794.0h28.42v4.4h-28.42zM256.33 800.0h28.42v2.4h-28.42zM256.33 804.0h28.42v2.4h-28.42zM256.33 817.5h28.42v2.9h-28.42zM256.33 824.5h28.42v3.4h-28.42zM256.33 840.0h28.42v3.4h-28.42zM256.33 873.0h28.42v3.4h-28.42zM284.31 802.0h28.42v2.4h-28.42zM340.25 840.0h28.42v3.4h-28.42zM340.25 864.0h28.42v2.9h-28.42zM368.22 790.0h28.42v2.4h-28.42zM368.22 794.0h28.42v4.4h-28.42zM368.22 802.0h28.42v2.4h-28.42zM368.22 806.0h28.42v3.9h-28.42zM368.22 887.0h28.42v3.4h-28.42zM368.22 912.0h28.42v2.9h-28.42zM396.19 798.0h28.42v2.4h-28.42zM396.19 809.5h28.42v3.4h-28.42zM396.19 827.5h28.42v3.4h-28.42zM396.19 832.5h28.42v3.9h-28.42zM396.19 851.0h28.42v3.4h-28.42zM396.19 869.0h28.42v1.9h-28.42zM396.19 887.0h28.42v3.4h-28.42zM396.19 904.5h28.42v1.9h-28.42zM424.17 800.0h28.42v2.4h-28.42zM424.17 804.0h28.42v2.4h-28.42zM424.17 809.5h28.42v3.4h-28.42zM424.17 830.5h28.42v2.4h-28.42zM424.17 858.0h28.42v3.4h-28.42zM424.17 887.0h28.42v3.4h-28.42zM452.14 800.0h28.42v2.4h-28.42zM452.14 806.0h28.42v3.9h-28.42zM452.14 827.5h28.42v3.4h-28.42zM452.14 861.0h28.42v3.4h-28.42zM452.14 877.5h28.42v3.9h-28.42zM452.14 885.0h28.42v2.4h-28.42zM452.14 897.5h28.42v3.9h-28.42zM508.08 804.0h28.42v2.4h-28.42zM564.03 802.0h27.97v2.4h-27.97zM564.03 832.5h27.97v3.9h-27.97zM564.03 858.0h27.97v3.4h-27.97zM564.03 864.0h27.97v2.9h-27.97zM564.03 869.0h27.97v1.9h-27.97zM564.03 887.0h27.97v3.4h-27.97zM564.03 897.5h27.97v3.9h-27.97zM564.03 906.0h27.97v3.4h-27.97zM706.71 790.0h28.38v2.4h-28.38zM706.71 800.0h28.38v2.4h-28.38zM706.71 854.0h28.38v4.4h-28.38zM706.71 890.0h28.38v2.4h-28.38zM706.71 904.5h28.38v1.9h-28.38zM706.71 909.0h28.38v3.4h-28.38zM706.71 914.5h28.38v2.0h-28.38zM793.00 812.5h28.41v3.9h-28.41zM820.96 816.0h28.41v1.9h-28.41zM820.96 845.0h28.41v6.4h-28.41zM848.92 909.0h28.41v3.4h-28.41zM876.88 817.5h28.41v2.9h-28.41zM876.88 848.0h28.41v3.4h-28.41zM876.88 854.0h28.41v4.4h-28.41zM876.88 870.5h28.41v10.9h-28.41zM904.83 804.0h28.41v2.4h-28.41zM904.83 873.0h28.41v3.4h-28.41zM904.83 901.0h28.41v3.9h-28.41zM932.79 851.0h28.41v3.4h-28.41zM932.79 870.5h28.41v5.9h-28.41zM960.75 812.5h28.41v3.9h-28.41zM960.75 845.0h28.41v3.4h-28.41zM960.75 887.0h28.41v3.4h-28.41zM960.75 904.5h28.41v1.9h-28.41zM988.71 817.5h28.41v2.9h-28.41zM988.71 821.5h28.41v3.4h-28.41zM988.71 890.0h28.41v2.4h-28.41zM988.71 904.5h28.41v1.9h-28.41zM1016.67 858.0h28.41v3.4h-28.41zM1044.62 806.0h28.41v3.9h-28.41zM1044.62 824.5h28.41v3.4h-28.41zM1072.58 832.5h28.41v3.9h-28.41zM1072.58 876.0h28.41v1.9h-28.41zM1072.58 881.0h28.41v4.4h-28.41zM1100.54 840.0h27.96v3.4h-27.96zM1100.54 848.0h27.96v3.4h-27.96zM1100.54 861.0h27.96v3.4h-27.96zM1100.54 881.0h27.96v4.4h-27.96z"/>
<path fill="#15350d" d="M595.00 240.5h28.38v2.4h-28.38zM595.00 260.0h28.38v2.4h-28.38zM595.00 280.5h28.38v2.4h-28.38zM595.00 285.0h28.38v1.9h-28.38zM595.00 294.0h28.38v3.9h-28.38zM595.00 304.0h28.38v2.4h-28.38zM595.00 308.0h28.38v3.4h-28.38zM622.93 282.5h28.38v2.9h-28.38zM622.93 304.0h28.38v4.4h-28.38zM650.86 242.5h28.38v3.9h-28.38zM650.86 254.5h28.38v4.4h-28.38zM650.86 260.0h28.38v2.4h-28.38zM650.86 290.0h28.38v1.9h-28.38zM650.86 311.0h28.38v2.4h-28.38zM650.86 317.5h28.38v3.4h-28.38zM650.86 322.5h28.38v2.5h-28.38zM678.79 240.5h28.38v2.4h-28.38zM678.79 246.0h28.38v3.9h-28.38zM678.79 256.0h28.38v2.9h-28.38zM678.79 269.0h28.38v2.4h-28.38zM678.79 275.5h28.38v3.9h-28.38zM678.79 282.5h28.38v2.9h-28.38zM706.71 251.5h28.38v3.4h-28.38zM706.71 291.5h28.38v2.9h-28.38zM706.71 297.5h28.38v3.4h-28.38zM706.71 311.0h28.38v2.4h-28.38zM706.71 322.5h28.38v2.5h-28.38zM734.64 237.5h28.38v3.4h-28.38zM734.64 242.5h28.38v7.4h-28.38zM734.64 258.5h28.38v7.4h-28.38zM734.64 273.5h28.38v5.9h-28.38zM734.64 285.0h28.38v1.9h-28.38zM793.00 240.5h28.41v2.4h-28.41zM793.00 247.5h28.41v2.4h-28.41zM793.00 275.5h28.41v3.9h-28.41zM793.00 280.5h28.41v2.4h-28.41zM793.00 290.0h28.41v1.9h-28.41zM793.00 300.5h28.41v5.9h-28.41zM820.96 315.0h28.41v2.9h-28.41zM820.96 320.5h28.41v4.5h-28.41zM848.92 273.5h28.41v2.4h-28.41zM848.92 282.5h28.41v2.9h-28.41zM848.92 294.0h28.41v1.9h-28.41zM848.92 297.5h28.41v3.4h-28.41zM848.92 306.0h28.41v2.4h-28.41zM848.92 317.5h28.41v3.4h-28.41zM876.88 247.5h28.41v2.4h-28.41zM876.88 317.5h28.41v3.4h-28.41zM904.83 246.0h28.41v1.9h-28.41zM904.83 249.5h28.41v2.4h-28.41zM904.83 295.5h28.41v2.4h-28.41zM904.83 300.5h28.41v3.9h-28.41zM904.83 313.0h28.41v2.4h-28.41zM932.79 247.5h28.41v2.4h-28.41zM932.79 306.0h28.41v2.4h-28.41zM960.75 240.5h28.41v2.4h-28.41zM960.75 269.0h28.41v2.4h-28.41zM960.75 313.0h28.41v2.4h-28.41zM960.75 317.5h28.41v3.4h-28.41zM988.71 306.0h28.41v5.4h-28.41zM1016.67 300.5h28.41v3.9h-28.41zM1016.67 320.5h28.41v2.4h-28.41zM1044.62 256.0h28.41v2.9h-28.41zM1044.62 271.0h28.41v2.9h-28.41zM1044.62 279.0h28.41v1.9h-28.41zM1044.62 320.5h28.41v2.4h-28.41zM1072.58 262.0h28.41v3.9h-28.41zM1072.58 271.0h28.41v2.9h-28.41zM1072.58 282.5h28.41v2.9h-28.41zM1072.58 286.5h28.41v3.9h-28.41zM1072.58 291.5h28.41v2.9h-28.41zM1072.58 306.0h28.41v2.4h-28.41zM1072.58 313.0h28.41v4.9h-28.41zM1100.54 237.5h27.96v3.4h-27.96zM1100.54 246.0h27.96v1.9h-27.96zM1100.54 291.5h27.96v2.9h-27.96zM1100.54 308.0h27.96v3.4h-27.96zM1100.54 317.5h27.96v3.4h-27.96zM595.00 327.5h28.38v2.9h-28.38zM595.00 374.0h28.38v7.4h-28.38zM595.00 395.5h28.38v8.9h-28.38zM595.00 411.0h28.38v2.9h-28.38zM595.00 415.0h28.38v7.4h-28.38zM595.00 428.0h28.38v5.9h-28.38zM595.00 442.0h28.38v3.9h-28.38zM595.00 448.5h28.38v2.4h-28.38zM595.00 455.5h28.38v2.4h-28.38zM595.00 486.5h28.38v1.9h-28.38zM595.00 491.5h28.38v6.4h-28.38zM595.00 505.5h28.38v2.4h-28.38zM595.00 511.5h28.38v4.4h-28.38zM595.00 524.5h28.38v2.9h-28.38zM595.00 548.0h28.38v2.4h-28.38zM595.00 579.5h28.38v1.9h-28.38zM595.00 595.5h28.38v3.9h-28.38zM595.00 615.5h28.38v3.9h-28.38zM595.00 633.5h28.38v7.4h-28.38zM595.00 646.5h28.38v6.9h-28.38zM595.00 656.0h28.38v3.9h-28.38zM622.93 331.5h28.38v3.4h-28.38zM622.93 345.0h28.38v2.9h-28.38zM622.93 372.0h28.38v6.4h-28.38zM622.93 381.0h28.38v2.4h-28.38zM622.93 386.0h28.38v3.4h-28.38zM622.93 391.0h28.38v3.4h-28.38zM622.93 395.5h28.38v8.9h-28.38zM622.93 407.0h28.38v4.4h-28.38zM622.93 415.0h28.38v2.9h-28.38zM622.93 420.5h28.38v5.9h-28.38zM622.93 442.0h28.38v1.9h-28.38zM622.93 448.5h28.38v2.4h-28.38zM622.93 455.5h28.38v6.4h-28.38zM622.93 477.0h28.38v3.4h-28.38zM622.93 481.5h28.38v2.9h-28.38zM622.93 486.5h28.38v1.9h-28.38zM622.93 489.5h28.38v11.9h-28.38zM622.93 502.5h28.38v3.4h-28.38zM622.93 507.5h28.38v4.4h-28.38zM622.93 531.0h28.38v12.4h-28.38zM622.93 548.0h28.38v5.4h-28.38zM622.93 556.5h28.38v3.4h-28.38zM622.93 564.5h28.38v1.9h-28.38zM622.93 568.5h28.38v1.9h-28.38zM622.93 576.5h28.38v4.9h-28.38zM622.93 585.5h28.38v4.4h-28.38zM622.93 592.5h28.38v3.4h-28.38zM622.93 599.0h28.38v13.4h-28.38zM622.93 619.0h28.38v2.4h-28.38zM622.93 646.5h28.38v6.9h-28.38zM622.93 656.0h28.38v8.5h-28.38zM650.86 331.5h28.38v4.9h-28.38zM650.86 339.0h28.38v6.4h-28.38zM650.86 350.5h28.38v2.9h-28.38zM650.86 359.5h28.38v3.4h-28.38zM650.86 365.5h28.38v4.4h-28.38zM650.86 383.0h28.38v8.4h-28.38zM650.86 394.0h28.38v8.4h-28.38zM650.86 404.0h28.38v7.4h-28.38zM650.86 428.0h28.38v5.9h-28.38zM650.86 438.0h28.38v4.4h-28.38zM650.86 443.5h28.38v2.4h-28.38zM650.86 448.5h28.38v2.4h-28.38zM650.86 453.5h28.38v2.4h-28.38zM650.86 457.5h28.38v4.4h-28.38zM650.86 481.5h28.38v5.4h-28.38zM650.86 502.5h28.38v3.4h-28.38zM650.86 553.0h28.38v2.4h-28.38zM650.86 562.5h28.38v2.4h-28.38zM650.86 566.0h28.38v2.9h-28.38zM650.86 576.5h28.38v3.4h-28.38zM650.86 584.0h28.38v8.9h-28.38zM650.86 599.0h28.38v6.9h-28.38zM650.86 619.0h28.38v2.4h-28.38zM650.86 624.5h28.38v3.9h-28.38zM650.86 633.5h28.38v1.9h-28.38zM650.86 637.5h28.38v6.9h-28.38zM650.86 656.0h28.38v3.9h-28.38zM678.79 327.5h28.38v4.4h-28.38zM678.79 334.5h28.38v1.9h-28.38zM678.79 339.0h28.38v3.9h-28.38zM678.79 347.5h28.38v5.9h-28.38zM678.79 356.0h28.38v3.9h-28.38zM678.79 378.0h28.38v3.4h-28.38zM678.79 389.0h28.38v2.4h-28.38zM678.79 394.0h28.38v21.4h-28.38zM678.79 422.0h28.38v6.4h-28.38zM678.79 436.5h28.38v1.9h-28.38zM678.79 440.0h28.38v2.4h-28.38zM678.79 443.5h28.38v2.4h-28.38zM678.79 450.5h28.38v7.4h-28.38zM678.79 473.5h28.38v3.9h-28.38zM678.79 480.0h28.38v1.9h-28.38zM678.79 491.5h28.38v2.9h-28.38zM678.79 501.0h28.38v1.9h-28.38zM678.79 509.5h28.38v2.4h-28.38zM678.79 517.5h28.38v3.9h-28.38zM678.79 534.0h28.38v4.4h-28.38zM678.79 543.0h28.38v2.9h-28.38zM678.79 555.0h28.38v1.9h-28.38zM678.79 559.5h28.38v3.4h-28.38zM678.79 564.5h28.38v1.9h-28.38zM678.79 573.5h28.38v3.4h-28.38zM678.79 585.5h28.38v4.4h-28.38zM678.79 609.0h28.38v3.4h-28.38zM678.79 621.0h28.38v7.4h-28.38zM678.79 633.5h28.38v1.9h-28.38zM678.79 637.5h28.38v3.4h-28.38zM678.79 646.5h28.38v2.9h-28.38zM678.79 656.0h28.38v6.9h-28.38zM734.64 417.5h28.38v3.4h-28.38zM734.64 465.0h28.38v5.9h-28.38zM734.64 480.0h28.38v1.9h-28.38zM734.64 527.0h28.38v2.4h-28.38zM734.64 550.0h28.38v3.4h-28.38zM734.64 576.5h28.38v3.4h-28.38zM734.64 602.0h28.38v3.9h-28.38zM734.64 621.0h28.38v3.9h-28.38zM734.64 628.0h28.38v3.9h-28.38zM734.64 635.0h28.38v5.9h-28.38zM734.64 644.0h28.38v5.4h-28.38zM734.64 662.5h28.38v2.0h-28.38zM762.57 330.0h27.93v4.9h-27.93zM762.57 336.0h27.93v3.4h-27.93zM762.57 342.5h27.93v2.9h-27.93zM762.57 359.5h27.93v3.4h-27.93zM762.57 417.5h27.93v3.4h-27.93zM762.57 592.5h27.93v6.9h-27.93zM762.57 602.0h27.93v3.9h-27.93zM762.57 609.0h27.93v3.4h-27.93zM762.57 615.5h27.93v12.9h-27.93zM762.57 659.5h27.93v3.4h-27.93zM793.00 330.0h28.41v1.9h-28.41zM793.00 342.5h28.41v5.4h-28.41zM793.00 353.0h28.41v9.9h-28.41zM793.00 374.0h28.41v4.4h-28.41zM793.00 383.0h28.41v3.4h-28.41zM793.00 404.0h28.41v3.4h-28.41zM793.00 417.5h28.41v3.4h-28.41zM793.00 426.0h28.41v5.9h-28.41zM793.00 433.5h28.41v3.4h-28.41zM793.00 440.0h28.41v2.4h-28.41zM793.00 443.5h28.41v10.4h-28.41zM793.00 461.5h28.41v3.9h-28.41zM793.00 470.5h28.41v6.9h-28.41zM793.00 486.5h28.41v1.9h-28.41zM793.00 489.5h28.41v2.4h-28.41zM793.00 497.5h28.41v5.4h-28.41zM793.00 509.5h28.41v2.4h-28.41zM793.00 517.5h28.41v5.4h-28.41zM793.00 529.0h28.41v5.4h-28.41zM793.00 538.0h28.41v5.4h-28.41zM793.00 553.0h28.41v2.4h-28.41zM793.00 592.5h28.41v6.9h-28.41zM793.00 612.0h28.41v3.9h-28.41zM793.00 633.5h28.41v4.4h-28.41zM793.00 659.5h28.41v3.4h-28.41zM820.96 402.0h28.41v2.4h-28.41zM848.92 339.0h28.41v11.9h-28.41zM848.92 362.5h28.41v7.4h-28.41zM848.92 372.0h28.41v2.4h-28.41zM848.92 381.0h28.41v5.4h-28.41zM848.92 389.0h28.41v2.4h-28.41zM848.92 394.0h28.41v1.9h-28.41zM848.92 445.5h28.41v3.4h-28.41zM848.92 548.0h28.41v2.4h-28.41zM848.92 573.5h28.41v3.4h-28.41zM848.92 584.0h28.41v1.9h-28.41zM848.92 619.0h28.41v2.4h-28.41zM848.92 628.0h28.41v3.9h-28.41zM848.92 656.0h28.41v3.9h-28.41zM876.88 374.0h28.41v4.4h-28.41zM876.88 386.0h28.41v3.4h-28.41zM876.88 431.5h28.41v2.4h-28.41zM876.88 467.0h28.41v3.9h-28.41zM876.88 488.0h28.41v3.9h-28.41zM876.88 511.5h28.41v4.4h-28.41zM876.88 527.0h28.41v2.4h-28.41zM876.88 538.0h28.41v2.4h-28.41zM876.88 543.0h28.41v2.9h-28.41zM876.88 548.0h28.41v5.4h-28.41zM876.88 559.5h28.41v3.4h-28.41zM876.88 566.0h28.41v4.4h-28.41zM876.88 576.5h28.41v3.4h-28.41zM876.88 581.0h28.41v4.9h-28.41zM876.88 592.5h28.41v3.4h-28.41zM876.88 609.0h28.41v3.4h-28.41zM904.83 564.5h28.41v1.9h-28.41zM904.83 640.5h28.41v3.9h-28.41zM960.75 420.5h28.41v1.9h-28.41zM960.75 489.5h28.41v2.4h-28.41zM960.75 555.0h28.41v1.9h-28.41zM960.75 564.5h28.41v4.4h-28.41zM960.75 573.5h28.41v6.4h-28.41zM1044.62 330.0h28.41v1.9h-28.41zM1044.62 564.5h28.41v1.9h-28.41zM1044.62 609.0h28.41v3.4h-28.41zM1044.62 628.0h28.41v5.9h-28.41zM1044.62 635.0h28.41v2.9h-28.41zM1044.62 644.0h28.41v2.9h-28.41zM1044.62 649.0h28.41v2.4h-28.41zM1044.62 653.0h28.41v6.9h-28.41zM1044.62 662.5h28.41v2.0h-28.41zM116.47 784.5h28.42v3.0h-28.42zM144.44 680.0h28.42v2.4h-28.42zM144.44 693.0h28.42v3.4h-28.42zM144.44 715.5h28.42v3.9h-28.42zM144.44 728.5h28.42v3.4h-28.42zM144.44 738.0h28.42v2.4h-28.42zM172.42 719.0h28.42v3.4h-28.42zM172.42 755.0h28.42v5.9h-28.42zM172.42 763.5h28.42v1.9h-28.42zM172.42 768.5h28.42v2.9h-28.42zM200.39 667.0h28.42v3.4h-28.42zM200.39 690.5h28.42v2.9h-28.42zM200.39 719.0h28.42v6.9h-28.42zM200.39 740.0h28.42v3.4h-28.42zM200.39 763.5h28.42v1.9h-28.42zM200.39 768.5h28.42v2.9h-28.42zM256.33 680.0h28.42v2.4h-28.42zM256.33 693.0h28.42v3.4h-28.42zM256.33 722.0h28.42v3.9h-28.42zM256.33 728.5h28.42v3.4h-28.42zM256.33 734.0h28.42v4.4h-28.42zM256.33 774.5h28.42v3.4h-28.42zM256.33 780.0h28.42v1.9h-28.42zM284.31 686.0h28.42v4.9h-28.42zM284.31 696.0h28.42v4.4h-28.42zM284.31 777.5h28.42v2.9h-28.42zM312.28 667.0h28.42v3.4h-28.42zM312.28 690.5h28.42v2.9h-28.42zM340.25 686.0h28.42v4.9h-28.42zM340.25 693.0h28.42v3.4h-28.42zM368.22 670.0h28.42v8.9h-28.42zM368.22 743.0h28.42v3.4h-28.42zM368.22 768.5h28.42v6.4h-28.42zM396.19 675.0h28.42v3.9h-28.42zM396.19 707.0h28.42v3.4h-28.42zM396.19 725.5h28.42v3.4h-28.42zM396.19 760.5h28.42v3.4h-28.42zM424.17 731.5h28.42v2.9h-28.42zM424.17 768.5h28.42v2.9h-28.42zM452.14 696.0h28.42v4.4h-28.42zM452.14 749.0h28.42v2.4h-28.42zM508.08 667.0h28.42v3.4h-28.42zM508.08 680.0h28.42v2.4h-28.42zM508.08 688.5h28.42v2.4h-28.42zM508.08 707.0h28.42v3.4h-28.42zM536.06 667.0h28.42v3.4h-28.42zM536.06 675.0h28.42v3.9h-28.42zM536.06 702.0h28.42v2.4h-28.42zM536.06 728.5h28.42v3.4h-28.42zM536.06 755.0h28.42v2.9h-28.42zM536.06 781.5h28.42v3.4h-28.42zM564.03 755.0h27.97v5.9h-27.97zM564.03 765.0h27.97v3.9h-27.97zM706.71 667.0h28.38v3.4h-28.38zM706.71 702.0h28.38v2.4h-28.38zM706.71 738.0h28.38v2.4h-28.38zM762.57 760.5h27.93v3.4h-27.93zM762.57 771.0h27.93v3.9h-27.93zM848.92 731.5h28.41v2.9h-28.41zM876.88 777.5h28.41v2.9h-28.41zM960.75 768.5h28.41v2.9h-28.41zM1072.58 715.5h28.41v3.9h-28.41zM1100.54 722.0h27.96v3.9h-27.96zM1100.54 731.5h27.96v2.9h-27.96zM256.33 861.0h28.42v3.4h-28.42zM256.33 869.0h28.42v1.9h-28.42zM256.33 901.0h28.42v3.9h-28.42zM340.25 790.0h28.42v2.4h-28.42zM340.25 861.0h28.42v3.4h-28.42zM340.25 877.5h28.42v3.9h-28.42zM368.22 798.0h28.42v2.4h-28.42zM368.22 809.5h28.42v3.4h-28.42zM368.22 827.5h28.42v8.9h-28.42zM368.22 848.0h28.42v3.4h-28.42zM368.22 901.0h28.42v3.9h-28.42zM424.17 817.5h28.42v2.9h-28.42zM424.17 824.5h28.42v3.4h-28.42zM424.17 836.0h28.42v4.4h-28.42zM424.17 851.0h28.42v3.4h-28.42zM424.17 866.5h28.42v4.4h-28.42zM424.17 890.0h28.42v2.4h-28.42zM452.14 896.0h28.42v1.9h-28.42zM452.14 904.5h28.42v1.9h-28.42zM536.06 840.0h28.42v3.4h-28.42zM536.06 870.5h28.42v2.9h-28.42zM536.06 901.0h28.42v3.9h-28.42zM564.03 790.0h27.97v2.4h-27.97zM564.03 843.0h27.97v2.4h-27.97zM564.03 854.0h27.97v4.4h-27.97zM564.03 861.0h27.97v3.4h-27.97zM564.03 877.5h27.97v3.9h-27.97zM564.03 904.5h27.97v1.9h-27.97zM706.71 820.0h28.38v1.9h-28.38zM706.71 892.0h28.38v4.4h-28.38zM706.71 906.0h28.38v3.4h-28.38zM793.00 827.5h28.41v3.4h-28.41zM793.00 901.0h28.41v3.9h-28.41zM820.96 832.5h28.41v3.9h-28.41zM848.92 792.0h28.41v6.4h-28.41zM848.92 877.5h28.41v3.9h-28.41zM876.88 806.0h28.41v3.9h-28.41zM876.88 858.0h28.41v3.4h-28.41zM876.88 869.0h28.41v1.9h-28.41zM876.88 906.0h28.41v3.4h-28.41zM904.83 792.0h28.41v6.4h-28.41zM904.83 802.0h28.41v2.4h-28.41zM904.83 809.5h28.41v3.4h-28.41zM904.83 840.0h28.41v8.4h-28.41zM904.83 851.0h28.41v7.4h-28.41zM904.83 912.0h28.41v2.9h-28.41zM932.79 832.5h28.41v3.9h-28.41zM960.75 800.0h28.41v2.4h-28.41zM960.75 809.5h28.41v3.4h-28.41zM988.71 806.0h28.41v3.9h-28.41zM988.71 840.0h28.41v3.4h-28.41zM988.71 887.0h28.41v3.4h-28.41zM988.71 892.0h28.41v4.4h-28.41zM988.71 897.5h28.41v3.9h-28.41zM1016.67 820.0h28.41v1.9h-28.41zM1016.67 906.0h28.41v3.4h-28.41zM1044.62 802.0h28.41v2.4h-28.41zM1044.62 817.5h28.41v2.9h-28.41zM1044.62 854.0h28.41v4.4h-28.41zM1100.54 792.0h27.96v2.4h-27.96zM1100.54 836.0h27.96v4.4h-27.96zM1100.54 869.0h27.96v1.9h-27.96z"/>
<path fill="#132e0c" d="M595.00 242.5h28.38v5.4h-28.38zM595.00 256.0h28.38v2.9h-28.38zM595.00 297.5h28.38v3.4h-28.38zM595.00 317.5h28.38v3.4h-28.38zM595.00 322.5h28.38v2.5h-28.38zM622.93 291.5h28.38v2.9h-28.38zM622.93 315.0h28.38v2.9h-28.38zM650.86 297.5h28.38v3.4h-28.38zM650.86 304.0h28.38v2.4h-28.38zM650.86 320.5h28.38v2.4h-28.38zM706.71 258.5h28.38v1.9h-28.38zM706.71 262.0h28.38v3.9h-28.38zM706.71 271.0h28.38v2.9h-28.38zM706.71 294.0h28.38v1.9h-28.38zM706.71 304.0h28.38v2.4h-28.38zM706.71 308.0h28.38v3.4h-28.38zM706.71 313.0h28.38v7.9h-28.38zM734.64 249.5h28.38v2.4h-28.38zM734.64 265.5h28.38v3.9h-28.38zM793.00 246.0h28.41v1.9h-28.41zM793.00 258.5h28.41v1.9h-28.41zM793.00 262.0h28.41v9.4h-28.41zM793.00 273.5h28.41v2.4h-28.41zM793.00 285.0h28.41v1.9h-28.41zM793.00 294.0h28.41v1.9h-28.41zM793.00 315.0h28.41v2.9h-28.41zM820.96 297.5h28.41v3.4h-28.41zM848.92 258.5h28.41v1.9h-28.41zM848.92 280.5h28.41v2.4h-28.41zM848.92 291.5h28.41v2.9h-28.41zM848.92 300.5h28.41v3.9h-28.41zM848.92 320.5h28.41v2.4h-28.41zM876.88 254.5h28.41v1.9h-28.41zM876.88 269.0h28.41v2.4h-28.41zM904.83 251.5h28.41v3.4h-28.41zM904.83 260.0h28.41v5.9h-28.41zM904.83 279.0h28.41v1.9h-28.41zM904.83 286.5h28.41v5.4h-28.41zM904.83 306.0h28.41v2.4h-28.41zM904.83 322.5h28.41v2.5h-28.41zM932.79 240.5h28.41v2.4h-28.41zM932.79 280.5h28.41v2.4h-28.41zM932.79 290.0h28.41v1.9h-28.41zM932.79 297.5h28.41v3.4h-28.41zM960.75 242.5h28.41v5.4h-28.41zM960.75 251.5h28.41v3.4h-28.41zM960.75 320.5h28.41v2.4h-28.41zM1044.62 251.5h28.41v3.4h-28.41zM1044.62 280.5h28.41v2.4h-28.41zM1044.62 295.5h28.41v2.4h-28.41zM1044.62 308.0h28.41v5.4h-28.41zM1044.62 317.5h28.41v3.4h-28.41zM1072.58 285.0h28.41v1.9h-28.41zM1072.58 290.0h28.41v1.9h-28.41zM1100.54 242.5h27.96v3.9h-27.96zM1100.54 254.5h27.96v4.4h-27.96zM1100.54 273.5h27.96v2.4h-27.96zM1100.54 280.5h27.96v2.4h-27.96zM1100.54 285.0h27.96v5.4h-27.96zM1100.54 300.5h27.96v5.9h-27.96zM1100.54 311.0h27.96v2.4h-27.96zM595.00 356.0h28.38v3.9h-28.38zM595.00 389.0h28.38v2.4h-28.38zM595.00 394.0h28.38v1.9h-28.38zM595.00 407.0h28.38v4.4h-28.38zM595.00 413.5h28.38v1.9h-28.38zM595.00 422.0h28.38v4.4h-28.38zM595.00 445.5h28.38v3.4h-28.38zM595.00 465.0h28.38v2.4h-28.38zM595.00 470.5h28.38v3.4h-28.38zM595.00 477.0h28.38v3.4h-28.38zM595.00 481.5h28.38v5.4h-28.38zM595.00 488.0h28.38v3.9h-28.38zM595.00 497.5h28.38v2.4h-28.38zM595.00 501.0h28.38v4.9h-28.38zM595.00 509.5h28.38v2.4h-28.38zM595.00 515.5h28.38v2.4h-28.38zM595.00 522.5h28.38v2.4h-28.38zM595.00 531.0h28.38v3.4h-28.38zM595.00 538.0h28.38v5.4h-28.38zM595.00 545.5h28.38v2.9h-28.38zM595.00 570.0h28.38v6.9h-28.38zM595.00 581.0h28.38v4.9h-28.38zM595.00 592.5h28.38v3.4h-28.38zM595.00 599.0h28.38v16.9h-28.38zM595.00 619.0h28.38v5.9h-28.38zM595.00 631.5h28.38v2.4h-28.38zM595.00 653.0h28.38v1.9h-28.38zM595.00 659.5h28.38v3.4h-28.38zM622.93 327.5h28.38v4.4h-28.38zM622.93 334.5h28.38v1.9h-28.38zM622.93 347.5h28.38v5.9h-28.38zM622.93 356.0h28.38v16.4h-28.38zM622.93 404.0h28.38v3.4h-28.38zM622.93 411.0h28.38v4.4h-28.38zM622.93 426.0h28.38v2.4h-28.38zM622.93 433.5h28.38v3.4h-28.38zM622.93 440.0h28.38v2.4h-28.38zM622.93 450.5h28.38v3.4h-28.38zM622.93 461.5h28.38v12.4h-28.38zM622.93 480.0h28.38v1.9h-28.38zM622.93 484.0h28.38v2.9h-28.38zM622.93 511.5h28.38v4.4h-28.38zM622.93 522.5h28.38v6.9h-28.38zM622.93 545.5h28.38v2.9h-28.38zM622.93 555.0h28.38v1.9h-28.38zM622.93 559.5h28.38v5.4h-28.38zM622.93 570.0h28.38v6.9h-28.38zM622.93 581.0h28.38v3.4h-28.38zM622.93 612.0h28.38v7.4h-28.38zM622.93 621.0h28.38v10.9h-28.38zM622.93 635.0h28.38v9.4h-28.38zM622.93 653.0h28.38v1.9h-28.38zM650.86 336.0h28.38v3.4h-28.38zM650.86 372.0h28.38v6.4h-28.38zM650.86 381.0h28.38v2.4h-28.38zM650.86 391.0h28.38v3.4h-28.38zM650.86 402.0h28.38v2.4h-28.38zM650.86 413.5h28.38v4.4h-28.38zM650.86 420.5h28.38v1.9h-28.38zM650.86 436.5h28.38v1.9h-28.38zM650.86 450.5h28.38v3.4h-28.38zM650.86 470.5h28.38v9.9h-28.38zM650.86 488.0h28.38v1.9h-28.38zM650.86 491.5h28.38v6.4h-28.38zM650.86 499.5h28.38v3.4h-28.38zM650.86 505.5h28.38v10.4h-28.38zM650.86 524.5h28.38v2.9h-28.38zM650.86 538.0h28.38v7.9h-28.38zM650.86 548.0h28.38v2.4h-28.38zM650.86 556.5h28.38v3.4h-28.38zM650.86 564.5h28.38v1.9h-28.38zM650.86 570.0h28.38v6.9h-28.38zM650.86 609.0h28.38v6.9h-28.38zM650.86 621.0h28.38v3.9h-28.38zM650.86 646.5h28.38v4.9h-28.38zM650.86 653.0h28.38v1.9h-28.38zM678.79 336.0h28.38v3.4h-28.38zM678.79 342.5h28.38v2.9h-28.38zM678.79 362.5h28.38v3.4h-28.38zM678.79 417.5h28.38v3.4h-28.38zM678.79 442.0h28.38v1.9h-28.38zM678.79 465.0h28.38v5.9h-28.38zM678.79 477.0h28.38v3.4h-28.38zM678.79 486.5h28.38v1.9h-28.38zM678.79 489.5h28.38v2.4h-28.38zM678.79 499.5h28.38v1.9h-28.38zM678.79 502.5h28.38v3.4h-28.38zM678.79 507.5h28.38v2.4h-28.38zM678.79 521.0h28.38v3.9h-28.38zM678.79 527.0h28.38v2.4h-28.38zM678.79 548.0h28.38v2.4h-28.38zM678.79 562.5h28.38v2.4h-28.38zM678.79 592.5h28.38v3.4h-28.38zM678.79 602.0h28.38v7.4h-28.38zM678.79 612.0h28.38v3.9h-28.38zM678.79 644.0h28.38v2.9h-28.38zM678.79 653.0h28.38v3.4h-28.38zM734.64 477.0h28.38v3.4h-28.38zM734.64 524.5h28.38v2.9h-28.38zM734.64 592.5h28.38v3.4h-28.38zM734.64 612.0h28.38v3.9h-28.38zM734.64 656.0h28.38v3.9h-28.38zM762.57 327.5h27.93v2.9h-27.93zM762.57 345.0h27.93v5.9h-27.93zM762.57 353.0h27.93v6.9h-27.93zM762.57 646.5h27.93v2.9h-27.93zM762.57 656.0h27.93v3.9h-27.93zM793.00 411.0h28.41v2.9h-28.41zM793.00 420.5h28.41v1.9h-28.41zM793.00 442.0h28.41v1.9h-28.41zM793.00 515.5h28.41v2.4h-28.41zM793.00 522.5h28.41v2.4h-28.41zM793.00 527.0h28.41v2.4h-28.41zM793.00 534.0h28.41v4.4h-28.41zM793.00 543.0h28.41v2.9h-28.41zM793.00 548.0h28.41v5.4h-28.41zM793.00 555.0h28.41v9.9h-28.41zM793.00 568.5h28.41v12.9h-28.41zM793.00 609.0h28.41v3.4h-28.41zM793.00 615.5h28.41v9.4h-28.41zM793.00 654.5h28.41v1.9h-28.41zM848.92 334.5h28.41v4.9h-28.41zM848.92 350.5h28.41v12.4h-28.41zM848.92 369.5h28.41v2.9h-28.41zM848.92 386.0h28.41v3.4h-28.41zM848.92 391.0h28.41v3.4h-28.41zM848.92 399.5h28.41v2.9h-28.41zM848.92 407.0h28.41v4.4h-28.41zM848.92 559.5h28.41v3.4h-28.41zM848.92 564.5h28.41v1.9h-28.41zM848.92 654.5h28.41v1.9h-28.41zM876.88 470.5h28.41v3.4h-28.41zM876.88 486.5h28.41v1.9h-28.41zM876.88 515.5h28.41v2.4h-28.41zM876.88 564.5h28.41v1.9h-28.41zM876.88 573.5h28.41v3.4h-28.41zM960.75 619.0h28.41v2.4h-28.41zM1016.67 621.0h28.41v3.9h-28.41zM1044.62 619.0h28.41v5.9h-28.41zM1044.62 633.5h28.41v1.9h-28.41zM1044.62 651.0h28.41v2.4h-28.41zM1044.62 659.5h28.41v3.4h-28.41zM1100.54 467.0h27.96v3.9h-27.96zM116.47 673.0h28.42v2.4h-28.42zM116.47 678.5h28.42v3.9h-28.42zM116.47 749.0h28.42v2.4h-28.42zM116.47 768.5h28.42v2.9h-28.42zM144.44 675.0h28.42v3.9h-28.42zM144.44 682.0h28.42v4.4h-28.42zM172.42 667.0h28.42v3.4h-28.42zM172.42 710.0h28.42v4.4h-28.42zM172.42 777.5h28.42v2.9h-28.42zM200.39 700.0h28.42v2.4h-28.42zM200.39 710.0h28.42v4.4h-28.42zM200.39 715.5h28.42v3.9h-28.42zM200.39 738.0h28.42v2.4h-28.42zM200.39 755.0h28.42v2.9h-28.42zM200.39 760.5h28.42v3.4h-28.42zM228.36 696.0h28.42v4.4h-28.42zM228.36 734.0h28.42v4.4h-28.42zM228.36 749.0h28.42v6.4h-28.42zM228.36 763.5h28.42v1.9h-28.42zM228.36 771.0h28.42v3.9h-28.42zM256.33 682.0h28.42v4.4h-28.42zM256.33 731.5h28.42v2.9h-28.42zM284.31 670.0h28.42v3.4h-28.42zM284.31 678.5h28.42v1.9h-28.42zM284.31 760.5h28.42v3.4h-28.42zM312.28 682.0h28.42v6.9h-28.42zM312.28 693.0h28.42v3.4h-28.42zM312.28 707.0h28.42v3.4h-28.42zM312.28 714.0h28.42v1.9h-28.42zM312.28 719.0h28.42v3.4h-28.42zM340.25 680.0h28.42v2.4h-28.42zM340.25 731.5h28.42v2.9h-28.42zM368.22 667.0h28.42v3.4h-28.42zM368.22 707.0h28.42v3.4h-28.42zM368.22 719.0h28.42v3.4h-28.42zM368.22 725.5h28.42v3.4h-28.42zM368.22 738.0h28.42v2.4h-28.42zM368.22 746.0h28.42v3.4h-28.42zM368.22 760.5h28.42v3.4h-28.42zM368.22 767.0h28.42v1.9h-28.42zM368.22 781.5h28.42v3.4h-28.42zM396.19 696.0h28.42v4.4h-28.42zM424.17 675.0h28.42v5.4h-28.42zM424.17 725.5h28.42v3.4h-28.42zM424.17 746.0h28.42v3.4h-28.42zM424.17 774.5h28.42v3.4h-28.42zM452.14 667.0h28.42v3.4h-28.42zM452.14 686.0h28.42v2.9h-28.42zM452.14 707.0h28.42v3.4h-28.42zM452.14 719.0h28.42v6.9h-28.42zM480.11 675.0h28.42v3.9h-28.42zM480.11 693.0h28.42v3.4h-28.42zM480.11 715.5h28.42v3.9h-28.42zM480.11 728.5h28.42v3.4h-28.42zM508.08 673.0h28.42v2.4h-28.42zM508.08 682.0h28.42v4.4h-28.42zM508.08 696.0h28.42v4.4h-28.42zM508.08 731.5h28.42v2.9h-28.42zM508.08 751.0h28.42v4.4h-28.42zM536.06 670.0h28.42v3.4h-28.42zM536.06 707.0h28.42v3.4h-28.42zM536.06 740.0h28.42v3.4h-28.42zM536.06 760.5h28.42v3.4h-28.42zM536.06 767.0h28.42v1.9h-28.42zM564.03 734.0h27.97v4.4h-27.97zM564.03 743.0h27.97v3.4h-27.97zM564.03 771.0h27.97v3.9h-27.97zM762.57 700.0h27.93v2.4h-27.93zM793.00 715.5h28.41v3.9h-28.41zM793.00 777.5h28.41v2.9h-28.41zM848.92 740.0h28.41v3.4h-28.41zM876.88 763.5h28.41v3.9h-28.41zM876.88 774.5h28.41v3.4h-28.41zM960.75 777.5h28.41v2.9h-28.41zM1044.62 702.0h28.41v2.4h-28.41zM1044.62 781.5h28.41v3.4h-28.41zM1072.58 696.0h28.41v4.4h-28.41zM1072.58 714.0h28.41v1.9h-28.41zM1100.54 686.0h27.96v2.9h-27.96zM1100.54 693.0h27.96v3.4h-27.96zM1100.54 714.0h27.96v5.4h-27.96zM256.33 809.5h28.42v3.4h-28.42zM256.33 830.5h28.42v2.4h-28.42zM256.33 845.0h28.42v3.4h-28.42zM256.33 851.0h28.42v7.4h-28.42zM256.33 866.5h28.42v2.9h-28.42zM256.33 876.0h28.42v1.9h-28.42zM256.33 896.0h28.42v1.9h-28.42zM256.33 909.0h28.42v3.4h-28.42zM284.31 824.5h28.42v3.4h-28.42zM340.25 804.0h28.42v5.9h-28.42zM340.25 890.0h28.42v2.4h-28.42zM340.25 896.0h28.42v1.9h-28.42zM368.22 816.0h28.42v1.9h-28.42zM396.19 820.0h28.42v1.9h-28.42zM396.19 858.0h28.42v3.4h-28.42zM396.19 914.5h28.42v2.0h-28.42zM424.17 792.0h28.42v2.4h-28.42zM424.17 798.0h28.42v2.4h-28.42zM424.17 806.0h28.42v3.9h-28.42zM452.14 804.0h28.42v2.4h-28.42zM452.14 812.5h28.42v5.4h-28.42zM452.14 820.0h28.42v1.9h-28.42zM452.14 873.0h28.42v3.4h-28.42zM452.14 906.0h28.42v8.9h-28.42zM480.11 827.5h28.42v5.4h-28.42zM508.08 800.0h28.42v2.4h-28.42zM508.08 827.5h28.42v3.4h-28.42zM508.08 840.0h28.42v3.4h-28.42zM508.08 845.0h28.42v3.4h-28.42zM536.06 877.5h28.42v3.9h-28.42zM536.06 892.0h28.42v5.9h-28.42zM564.03 866.5h27.97v2.9h-27.97zM564.03 892.0h27.97v4.4h-27.97zM706.71 794.0h28.38v6.4h-28.38zM706.71 809.5h28.38v6.9h-28.38zM706.71 861.0h28.38v3.4h-28.38zM706.71 896.0h28.38v1.9h-28.38zM793.00 794.0h28.41v8.4h-28.41zM793.00 816.0h28.41v1.9h-28.41zM793.00 821.5h28.41v3.4h-28.41zM793.00 848.0h28.41v3.4h-28.41zM793.00 887.0h28.41v3.4h-28.41zM793.00 904.5h28.41v1.9h-28.41zM820.96 802.0h28.41v2.4h-28.41zM820.96 827.5h28.41v3.4h-28.41zM820.96 851.0h28.41v3.4h-28.41zM820.96 869.0h28.41v1.9h-28.41zM848.92 798.0h28.41v2.4h-28.41zM848.92 804.0h28.41v2.4h-28.41zM848.92 827.5h28.41v3.4h-28.41zM848.92 870.5h28.41v2.9h-28.41zM848.92 892.0h28.41v4.4h-28.41zM848.92 901.0h28.41v3.9h-28.41zM848.92 906.0h28.41v3.4h-28.41zM876.88 809.5h28.41v6.9h-28.41zM876.88 820.0h28.41v1.9h-28.41zM876.88 824.5h28.41v3.4h-28.41zM876.88 851.0h28.41v3.4h-28.41zM876.88 861.0h28.41v3.4h-28.41zM876.88 881.0h28.41v4.4h-28.41zM876.88 887.0h28.41v3.4h-28.41zM876.88 892.0h28.41v4.4h-28.41zM876.88 897.5h28.41v3.9h-28.41zM876.88 904.5h28.41v1.9h-28.41zM904.83 798.0h28.41v2.4h-28.41zM904.83 806.0h28.41v3.9h-28.41zM904.83 832.5h28.41v7.9h-28.41zM904.83 869.0h28.41v4.4h-28.41zM904.83 890.0h28.41v2.4h-28.41zM932.79 812.5h28.41v3.9h-28.41zM932.79 821.5h28.41v6.4h-28.41zM932.79 866.5h28.41v2.9h-28.41zM932.79 887.0h28.41v3.4h-28.41zM960.75 794.0h28.41v4.4h-28.41zM960.75 802.0h28.41v2.4h-28.41zM988.71 794.0h28.41v4.4h-28.41zM988.71 830.5h28.41v2.4h-28.41zM988.71 881.0h28.41v4.4h-28.41zM988.71 901.0h28.41v3.9h-28.41zM1016.67 816.0h28.41v4.4h-28.41zM1016.67 821.5h28.41v6.4h-28.41zM1016.67 901.0h28.41v3.9h-28.41zM1044.62 790.0h28.41v2.4h-28.41zM1044.62 800.0h28.41v2.4h-28.41zM1044.62 816.0h28.41v1.9h-28.41zM1044.62 836.0h28.41v4.4h-28.41zM1044.62 866.5h28.41v2.9h-28.41zM1100.54 798.0h27.96v2.4h-27.96zM1100.54 845.0h27.96v3.4h-27.96z"/>
<path fill="#11270a" d="M595.00 237.5h28.38v3.4h-28.38zM595.00 290.0h28.38v1.9h-28.38zM595.00 300.5h28.38v3.9h-28.38zM622.93 256.0h28.38v2.9h-28.38zM622.93 271.0h28.38v2.9h-28.38zM622.93 290.0h28.38v1.9h-28.38zM622.93 295.5h28.38v5.4h-28.38zM650.86 249.5h28.38v2.4h-28.38zM650.86 295.5h28.38v2.4h-28.38zM678.79 286.5h28.38v3.9h-28.38zM706.71 275.5h28.38v3.9h-28.38zM706.71 282.5h28.38v2.9h-28.38zM706.71 286.5h28.38v5.4h-28.38zM706.71 295.5h28.38v2.4h-28.38zM706.71 320.5h28.38v2.4h-28.38zM734.64 269.0h28.38v4.9h-28.38zM762.57 311.0h27.93v2.4h-27.93zM793.00 282.5h28.41v2.9h-28.41zM793.00 286.5h28.41v3.9h-28.41zM793.00 297.5h28.41v3.4h-28.41zM793.00 306.0h28.41v2.4h-28.41zM848.92 260.0h28.41v2.4h-28.41zM848.92 285.0h28.41v1.9h-28.41zM848.92 290.0h28.41v1.9h-28.41zM848.92 322.5h28.41v2.5h-28.41zM904.83 240.5h28.41v2.4h-28.41zM932.79 246.0h28.41v1.9h-28.41zM988.71 317.5h28.41v3.4h-28.41zM1044.62 237.5h28.41v5.4h-28.41zM1044.62 246.0h28.41v1.9h-28.41zM1044.62 258.5h28.41v1.9h-28.41zM1044.62 262.0h28.41v3.9h-28.41zM1044.62 269.0h28.41v2.4h-28.41zM1044.62 273.5h28.41v5.9h-28.41zM1044.62 286.5h28.41v5.4h-28.41zM1044.62 297.5h28.41v6.9h-28.41zM1044.62 315.0h28.41v2.9h-28.41zM1072.58 258.5h28.41v1.9h-28.41zM1100.54 247.5h27.96v2.4h-27.96zM1100.54 275.5h27.96v5.4h-27.96zM1100.54 290.0h27.96v1.9h-27.96zM1100.54 295.5h27.96v2.4h-27.96zM595.00 433.5h28.38v3.4h-28.38zM595.00 450.5h28.38v3.4h-28.38zM595.00 461.5h28.38v3.9h-28.38zM595.00 499.5h28.38v1.9h-28.38zM595.00 517.5h28.38v5.4h-28.38zM595.00 527.0h28.38v4.4h-28.38zM595.00 534.0h28.38v4.4h-28.38zM595.00 543.0h28.38v2.9h-28.38zM595.00 556.5h28.38v6.4h-28.38zM595.00 568.5h28.38v1.9h-28.38zM595.00 576.5h28.38v3.4h-28.38zM595.00 585.5h28.38v7.4h-28.38zM595.00 624.5h28.38v7.4h-28.38zM595.00 654.5h28.38v1.9h-28.38zM595.00 662.5h28.38v2.0h-28.38zM622.93 336.0h28.38v3.4h-28.38zM622.93 342.5h28.38v2.9h-28.38zM622.93 378.0h28.38v3.4h-28.38zM622.93 394.0h28.38v1.9h-28.38zM622.93 428.0h28.38v5.9h-28.38zM622.93 436.5h28.38v1.9h-28.38zM622.93 445.5h28.38v3.4h-28.38zM622.93 473.5h28.38v3.9h-28.38zM622.93 501.0h28.38v1.9h-28.38zM622.93 505.5h28.38v2.4h-28.38zM622.93 515.5h28.38v7.4h-28.38zM622.93 529.0h28.38v2.4h-28.38zM622.93 553.0h28.38v2.4h-28.38zM622.93 631.5h28.38v2.4h-28.38zM650.86 330.0h28.38v1.9h-28.38zM650.86 356.0h28.38v3.9h-28.38zM650.86 378.0h28.38v3.4h-28.38zM650.86 411.0h28.38v2.9h-28.38zM650.86 417.5h28.38v3.4h-28.38zM650.86 422.0h28.38v4.4h-28.38zM650.86 433.5h28.38v3.4h-28.38zM650.86 442.0h28.38v1.9h-28.38zM650.86 461.5h28.38v5.9h-28.38zM650.86 486.5h28.38v1.9h-28.38zM650.86 489.5h28.38v2.4h-28.38zM650.86 521.0h28.38v3.9h-28.38zM650.86 527.0h28.38v2.4h-28.38zM650.86 545.5h28.38v2.9h-28.38zM650.86 550.0h28.38v3.4h-28.38zM650.86 555.0h28.38v1.9h-28.38zM650.86 559.5h28.38v3.4h-28.38zM650.86 581.0h28.38v3.4h-28.38zM650.86 635.0h28.38v2.9h-28.38zM650.86 644.0h28.38v2.9h-28.38zM650.86 659.5h28.38v5.0h-28.38zM678.79 353.0h28.38v3.4h-28.38zM678.79 433.5h28.38v3.4h-28.38zM678.79 445.5h28.38v3.4h-28.38zM678.79 461.5h28.38v3.9h-28.38zM678.79 488.0h28.38v1.9h-28.38zM678.79 540.0h28.38v3.4h-28.38zM678.79 550.0h28.38v3.4h-28.38zM678.79 566.0h28.38v2.9h-28.38zM678.79 615.5h28.38v3.9h-28.38zM678.79 628.0h28.38v3.9h-28.38zM678.79 662.5h28.38v2.0h-28.38zM706.71 331.5h28.38v4.9h-28.38zM706.71 342.5h28.38v2.9h-28.38zM706.71 347.5h28.38v3.4h-28.38zM706.71 651.0h28.38v2.4h-28.38zM734.64 440.0h28.38v2.4h-28.38zM793.00 331.5h28.41v3.4h-28.41zM793.00 431.5h28.41v2.4h-28.41zM793.00 564.5h28.41v4.4h-28.41zM793.00 581.0h28.41v3.4h-28.41zM848.92 330.0h28.41v4.9h-28.41zM848.92 378.0h28.41v3.4h-28.41zM932.79 628.0h28.41v3.9h-28.41zM1044.62 640.5h28.41v3.9h-28.41zM1100.54 342.5h27.96v2.9h-27.96zM116.47 670.0h28.42v3.4h-28.42zM116.47 771.0h28.42v3.9h-28.42zM144.44 696.0h28.42v6.4h-28.42zM144.44 710.0h28.42v5.9h-28.42zM144.44 760.5h28.42v4.9h-28.42zM144.44 781.5h28.42v3.4h-28.42zM172.42 686.0h28.42v2.9h-28.42zM172.42 715.5h28.42v3.9h-28.42zM172.42 765.0h28.42v2.4h-28.42zM172.42 780.0h28.42v1.9h-28.42zM200.39 673.0h28.42v2.4h-28.42zM200.39 680.0h28.42v2.4h-28.42zM200.39 688.5h28.42v2.4h-28.42zM200.39 757.5h28.42v3.4h-28.42zM200.39 767.0h28.42v1.9h-28.42zM200.39 780.0h28.42v1.9h-28.42zM228.36 686.0h28.42v2.9h-28.42zM228.36 690.5h28.42v2.9h-28.42zM228.36 707.0h28.42v3.4h-28.42zM228.36 714.0h28.42v1.9h-28.42zM228.36 755.0h28.42v8.9h-28.42zM228.36 765.0h28.42v2.4h-28.42zM228.36 768.5h28.42v2.9h-28.42zM228.36 781.5h28.42v6.0h-28.42zM256.33 784.5h28.42v3.0h-28.42zM284.31 667.0h28.42v3.4h-28.42zM284.31 707.0h28.42v3.4h-28.42zM284.31 722.0h28.42v3.9h-28.42zM284.31 755.0h28.42v2.9h-28.42zM312.28 704.0h28.42v3.4h-28.42zM312.28 722.0h28.42v3.9h-28.42zM312.28 734.0h28.42v4.4h-28.42zM312.28 740.0h28.42v3.4h-28.42zM340.25 738.0h28.42v5.4h-28.42zM368.22 680.0h28.42v2.4h-28.42zM368.22 728.5h28.42v3.4h-28.42zM368.22 734.0h28.42v4.4h-28.42zM368.22 749.0h28.42v2.4h-28.42zM368.22 784.5h28.42v3.0h-28.42zM424.17 680.0h28.42v2.4h-28.42zM424.17 707.0h28.42v3.4h-28.42zM424.17 749.0h28.42v2.4h-28.42zM424.17 755.0h28.42v2.9h-28.42zM424.17 767.0h28.42v1.9h-28.42zM424.17 771.0h28.42v3.9h-28.42zM424.17 777.5h28.42v2.9h-28.42zM452.14 682.0h28.42v4.4h-28.42zM480.11 673.0h28.42v2.4h-28.42zM480.11 688.5h28.42v2.4h-28.42zM480.11 725.5h28.42v3.4h-28.42zM480.11 740.0h28.42v3.4h-28.42zM508.08 686.0h28.42v2.9h-28.42zM508.08 722.0h28.42v3.9h-28.42zM508.08 728.5h28.42v3.4h-28.42zM508.08 746.0h28.42v3.4h-28.42zM508.08 755.0h28.42v2.9h-28.42zM536.06 731.5h28.42v2.9h-28.42zM536.06 738.0h28.42v2.4h-28.42zM536.06 765.0h28.42v2.4h-28.42zM536.06 771.0h28.42v3.9h-28.42zM564.03 740.0h27.97v3.4h-27.97zM564.03 774.5h27.97v3.4h-27.97zM706.71 749.0h28.38v2.4h-28.38zM762.57 714.0h27.93v1.9h-27.93zM762.57 749.0h27.93v2.4h-27.93zM762.57 774.5h27.93v3.4h-27.93zM762.57 784.5h27.93v3.0h-27.93zM793.00 767.0h28.41v1.9h-28.41zM820.96 767.0h28.41v1.9h-28.41zM848.92 728.5h28.41v3.4h-28.41zM848.92 738.0h28.41v2.4h-28.41zM876.88 784.5h28.41v3.0h-28.41zM904.83 777.5h28.41v2.9h-28.41zM904.83 784.5h28.41v3.0h-28.41zM932.79 784.5h28.41v3.0h-28.41zM960.75 781.5h28.41v3.4h-28.41zM1044.62 707.0h28.41v3.4h-28.41zM1044.62 719.0h28.41v3.4h-28.41zM1044.62 771.0h28.41v3.9h-28.41zM1044.62 777.5h28.41v2.9h-28.41zM1072.58 719.0h28.41v3.4h-28.41zM1100.54 696.0h27.96v4.4h-27.96zM1100.54 704.0h27.96v6.4h-27.96zM1100.54 725.5h27.96v3.4h-27.96zM1100.54 743.0h27.96v3.4h-27.96zM256.33 848.0h28.42v3.4h-28.42zM256.33 858.0h28.42v3.4h-28.42zM256.33 870.5h28.42v2.9h-28.42zM256.33 890.0h28.42v2.4h-28.42zM256.33 904.5h28.42v1.9h-28.42zM256.33 912.0h28.42v2.9h-28.42zM284.31 832.5h28.42v7.9h-28.42zM284.31 864.0h28.42v2.9h-28.42zM340.25 794.0h28.42v6.4h-28.42zM340.25 817.5h28.42v2.9h-28.42zM340.25 858.0h28.42v3.4h-28.42zM340.25 876.0h28.42v1.9h-28.42zM340.25 885.0h28.42v2.4h-28.42zM368.22 820.0h28.42v1.9h-28.42zM396.19 912.0h28.42v2.9h-28.42zM424.17 820.0h28.42v4.9h-28.42zM424.17 827.5h28.42v3.4h-28.42zM424.17 832.5h28.42v3.9h-28.42zM424.17 876.0h28.42v5.4h-28.42zM424.17 912.0h28.42v2.9h-28.42zM480.11 832.5h28.42v3.9h-28.42zM508.08 806.0h28.42v3.9h-28.42zM508.08 836.0h28.42v4.4h-28.42zM508.08 864.0h28.42v2.9h-28.42zM508.08 870.5h28.42v2.9h-28.42zM536.06 848.0h28.42v3.4h-28.42zM536.06 876.0h28.42v1.9h-28.42zM536.06 909.0h28.42v3.4h-28.42zM536.06 914.5h28.42v2.0h-28.42zM564.03 848.0h27.97v3.4h-27.97zM564.03 873.0h27.97v3.4h-27.97zM706.71 821.5h28.38v3.4h-28.38zM706.71 827.5h28.38v3.4h-28.38zM706.71 840.0h28.38v3.4h-28.38zM706.71 845.0h28.38v3.4h-28.38zM706.71 858.0h28.38v3.4h-28.38zM706.71 881.0h28.38v6.4h-28.38zM706.71 897.5h28.38v7.4h-28.38zM793.00 802.0h28.41v10.9h-28.41zM793.00 817.5h28.41v2.9h-28.41zM793.00 830.5h28.41v5.9h-28.41zM793.00 864.0h28.41v2.9h-28.41zM793.00 909.0h28.41v3.4h-28.41zM793.00 914.5h28.41v2.0h-28.41zM820.96 798.0h28.41v2.4h-28.41zM820.96 806.0h28.41v3.9h-28.41zM820.96 821.5h28.41v3.4h-28.41zM820.96 830.5h28.41v2.4h-28.41zM820.96 843.0h28.41v2.4h-28.41zM820.96 896.0h28.41v1.9h-28.41zM820.96 904.5h28.41v4.9h-28.41zM848.92 790.0h28.41v2.4h-28.41zM848.92 806.0h28.41v3.9h-28.41zM848.92 812.5h28.41v3.9h-28.41zM848.92 832.5h28.41v3.9h-28.41zM848.92 848.0h28.41v3.4h-28.41zM848.92 904.5h28.41v1.9h-28.41zM848.92 912.0h28.41v2.9h-28.41zM876.88 790.0h28.41v2.4h-28.41zM876.88 794.0h28.41v4.4h-28.41zM876.88 816.0h28.41v1.9h-28.41zM876.88 821.5h28.41v3.4h-28.41zM876.88 827.5h28.41v8.9h-28.41zM876.88 909.0h28.41v7.5h-28.41zM904.83 790.0h28.41v2.4h-28.41zM904.83 876.0h28.41v5.4h-28.41zM904.83 892.0h28.41v4.4h-28.41zM904.83 904.5h28.41v1.9h-28.41zM932.79 809.5h28.41v3.4h-28.41zM932.79 827.5h28.41v5.4h-28.41zM932.79 840.0h28.41v3.4h-28.41zM988.71 790.0h28.41v2.4h-28.41zM988.71 802.0h28.41v2.4h-28.41zM988.71 869.0h28.41v7.4h-28.41zM1016.67 851.0h28.41v3.4h-28.41zM1016.67 864.0h28.41v2.9h-28.41zM1016.67 869.0h28.41v1.9h-28.41zM1044.62 845.0h28.41v3.4h-28.41zM1044.62 861.0h28.41v3.4h-28.41zM1100.54 843.0h27.96v2.4h-27.96zM1100.54 866.5h27.96v2.9h-27.96z"/>
<path fill="#0f2009" d="M595.00 249.5h28.38v2.4h-28.38zM595.00 265.5h28.38v8.4h-28.38zM595.00 311.0h28.38v4.4h-28.38zM622.93 260.0h28.38v2.4h-28.38zM650.86 271.0h28.38v2.9h-28.38zM650.86 306.0h28.38v2.4h-28.38zM706.71 247.5h28.38v2.4h-28.38zM706.71 280.5h28.38v2.4h-28.38zM706.71 306.0h28.38v2.4h-28.38zM793.00 242.5h28.41v3.9h-28.41zM793.00 291.5h28.41v2.9h-28.41zM793.00 295.5h28.41v2.4h-28.41zM793.00 320.5h28.41v2.4h-28.41zM876.88 260.0h28.41v2.4h-28.41zM876.88 275.5h28.41v3.9h-28.41zM960.75 322.5h28.41v2.5h-28.41zM1044.62 242.5h28.41v3.9h-28.41zM1044.62 247.5h28.41v2.4h-28.41zM1044.62 254.5h28.41v1.9h-28.41zM1044.62 291.5h28.41v2.9h-28.41zM1072.58 273.5h28.41v5.9h-28.41zM564.03 631.5h27.97v2.4h-27.97zM595.00 467.0h28.38v3.9h-28.38zM595.00 473.5h28.38v3.9h-28.38zM595.00 507.5h28.38v2.4h-28.38zM595.00 550.0h28.38v6.9h-28.38zM595.00 562.5h28.38v2.4h-28.38zM622.93 353.0h28.38v3.4h-28.38zM622.93 417.5h28.38v3.4h-28.38zM650.86 445.5h28.38v3.4h-28.38zM650.86 480.0h28.38v1.9h-28.38zM650.86 515.5h28.38v2.4h-28.38zM650.86 529.0h28.38v2.4h-28.38zM650.86 615.5h28.38v3.9h-28.38zM650.86 628.0h28.38v3.9h-28.38zM678.79 531.0h28.38v3.4h-28.38zM706.71 327.5h28.38v4.4h-28.38zM706.71 339.0h28.38v3.9h-28.38zM706.71 345.0h28.38v2.9h-28.38zM706.71 359.5h28.38v3.4h-28.38zM706.71 369.5h28.38v2.9h-28.38zM706.71 497.5h28.38v3.9h-28.38zM706.71 564.5h28.38v1.9h-28.38zM706.71 570.0h28.38v3.9h-28.38zM706.71 644.0h28.38v2.9h-28.38zM706.71 649.0h28.38v2.4h-28.38zM706.71 656.0h28.38v3.9h-28.38zM706.71 662.5h28.38v2.0h-28.38zM820.96 436.5h28.41v1.9h-28.41zM848.92 327.5h28.41v2.9h-28.41zM876.88 445.5h28.41v3.4h-28.41zM876.88 649.0h28.41v2.4h-28.41zM1072.58 522.5h28.41v2.4h-28.41zM88.50 675.0h28.42v3.9h-28.42zM116.47 675.0h28.42v3.9h-28.42zM116.47 731.5h28.42v2.9h-28.42zM144.44 670.0h28.42v3.4h-28.42zM144.44 686.0h28.42v4.9h-28.42zM144.44 719.0h28.42v3.4h-28.42zM144.44 734.0h28.42v4.4h-28.42zM144.44 743.0h28.42v3.4h-28.42zM144.44 749.0h28.42v2.4h-28.42zM172.42 673.0h28.42v5.9h-28.42zM200.39 704.0h28.42v6.4h-28.42zM200.39 743.0h28.42v3.4h-28.42zM228.36 667.0h28.42v3.4h-28.42zM228.36 675.0h28.42v5.4h-28.42zM228.36 702.0h28.42v5.4h-28.42zM228.36 725.5h28.42v3.4h-28.42zM228.36 731.5h28.42v2.9h-28.42zM228.36 746.0h28.42v3.4h-28.42zM228.36 774.5h28.42v3.4h-28.42zM284.31 675.0h28.42v3.9h-28.42zM312.28 675.0h28.42v3.9h-28.42zM340.25 715.5h28.42v3.9h-28.42zM340.25 722.0h28.42v3.9h-28.42zM340.25 734.0h28.42v4.4h-28.42zM368.22 722.0h28.42v3.9h-28.42zM368.22 740.0h28.42v3.4h-28.42zM368.22 777.5h28.42v2.9h-28.42zM424.17 722.0h28.42v3.9h-28.42zM424.17 734.0h28.42v4.4h-28.42zM452.14 675.0h28.42v3.9h-28.42zM452.14 688.5h28.42v2.4h-28.42zM480.11 680.0h28.42v2.4h-28.42zM480.11 686.0h28.42v2.9h-28.42zM480.11 690.5h28.42v2.9h-28.42zM480.11 700.0h28.42v2.4h-28.42zM480.11 707.0h28.42v3.4h-28.42zM480.11 734.0h28.42v4.4h-28.42zM480.11 746.0h28.42v3.4h-28.42zM508.08 675.0h28.42v3.9h-28.42zM536.06 686.0h28.42v2.9h-28.42zM536.06 757.5h28.42v3.4h-28.42zM536.06 768.5h28.42v2.9h-28.42zM564.03 688.5h27.97v2.4h-27.97zM564.03 738.0h27.97v2.4h-27.97zM706.71 680.0h28.38v2.4h-28.38zM706.71 728.5h28.38v3.4h-28.38zM706.71 757.5h28.38v3.4h-28.38zM706.71 767.0h28.38v4.4h-28.38zM706.71 774.5h28.38v3.4h-28.38zM762.57 688.5h27.93v2.4h-27.93zM762.57 767.0h27.93v4.4h-27.93zM762.57 777.5h27.93v2.9h-27.93zM793.00 700.0h28.41v2.4h-28.41zM793.00 765.0h28.41v2.4h-28.41zM793.00 781.5h28.41v6.0h-28.41zM820.96 673.0h28.41v2.4h-28.41zM820.96 719.0h28.41v3.4h-28.41zM820.96 774.5h28.41v3.4h-28.41zM848.92 743.0h28.41v3.4h-28.41zM848.92 768.5h28.41v2.9h-28.41zM876.88 781.5h28.41v3.4h-28.41zM960.75 696.0h28.41v4.4h-28.41zM960.75 707.0h28.41v3.4h-28.41zM960.75 749.0h28.41v2.4h-28.41zM960.75 765.0h28.41v2.4h-28.41zM960.75 780.0h28.41v1.9h-28.41zM960.75 784.5h28.41v3.0h-28.41zM1016.67 667.0h28.41v3.4h-28.41zM1044.62 667.0h28.41v3.4h-28.41zM1044.62 696.0h28.41v4.4h-28.41zM1044.62 714.0h28.41v1.9h-28.41zM1044.62 722.0h28.41v3.9h-28.41zM1044.62 774.5h28.41v3.4h-28.41zM1072.58 670.0h28.41v3.4h-28.41zM1100.54 682.0h27.96v4.4h-27.96zM1100.54 688.5h27.96v2.4h-27.96zM1100.54 710.0h27.96v4.4h-27.96zM1100.54 719.0h27.96v3.4h-27.96zM1100.54 740.0h27.96v3.4h-27.96zM1100.54 765.0h27.96v2.4h-27.96zM1100.54 777.5h27.96v2.9h-27.96zM256.33 892.0h28.42v4.4h-28.42zM256.33 897.5h28.42v3.9h-28.42zM284.31 830.5h28.42v2.4h-28.42zM284.31 840.0h28.42v8.4h-28.42zM340.25 821.5h28.42v3.4h-28.42zM340.25 851.0h28.42v3.4h-28.42zM340.25 869.0h28.42v1.9h-28.42zM340.25 881.0h28.42v4.4h-28.42zM340.25 892.0h28.42v4.4h-28.42zM340.25 897.5h28.42v3.9h-28.42zM340.25 912.0h28.42v2.9h-28.42zM368.22 817.5h28.42v2.9h-28.42zM368.22 821.5h28.42v6.4h-28.42zM396.19 909.0h28.42v3.4h-28.42zM424.17 848.0h28.42v3.4h-28.42zM424.17 881.0h28.42v4.4h-28.42zM424.17 909.0h28.42v3.4h-28.42zM452.14 817.5h28.42v2.9h-28.42zM480.11 845.0h28.42v3.4h-28.42zM508.08 832.5h28.42v3.9h-28.42zM508.08 876.0h28.42v1.9h-28.42zM536.06 804.0h28.42v2.4h-28.42zM536.06 836.0h28.42v4.4h-28.42zM536.06 843.0h28.42v2.4h-28.42zM536.06 887.0h28.42v3.4h-28.42zM536.06 906.0h28.42v3.4h-28.42zM564.03 792.0h27.97v2.4h-27.97zM564.03 881.0h27.97v6.4h-27.97zM706.71 792.0h28.38v2.4h-28.38zM706.71 806.0h28.38v3.9h-28.38zM706.71 830.5h28.38v2.4h-28.38zM706.71 870.5h28.38v7.4h-28.38zM706.71 887.0h28.38v3.4h-28.38zM793.00 790.0h28.41v2.4h-28.41zM793.00 836.0h28.41v4.4h-28.41zM793.00 843.0h28.41v2.4h-28.41zM793.00 854.0h28.41v4.4h-28.41zM793.00 869.0h28.41v1.9h-28.41zM820.96 794.0h28.41v4.4h-28.41zM820.96 809.5h28.41v6.9h-28.41zM820.96 817.5h28.41v2.9h-28.41zM820.96 824.5h28.41v3.4h-28.41zM820.96 836.0h28.41v4.4h-28.41zM820.96 854.0h28.41v4.4h-28.41zM820.96 901.0h28.41v3.9h-28.41zM820.96 912.0h28.41v2.9h-28.41zM848.92 802.0h28.41v2.4h-28.41zM848.92 817.5h28.41v2.9h-28.41zM848.92 821.5h28.41v3.4h-28.41zM848.92 836.0h28.41v4.4h-28.41zM848.92 845.0h28.41v3.4h-28.41zM848.92 851.0h28.41v3.4h-28.41zM848.92 876.0h28.41v1.9h-28.41zM848.92 897.5h28.41v3.9h-28.41zM876.88 798.0h28.41v2.4h-28.41zM876.88 804.0h28.41v2.4h-28.41zM876.88 864.0h28.41v2.9h-28.41zM876.88 896.0h28.41v1.9h-28.41zM904.83 858.0h28.41v3.4h-28.41zM904.83 881.0h28.41v4.4h-28.41zM904.83 897.5h28.41v3.9h-28.41zM932.79 800.0h28.41v2.4h-28.41zM932.79 804.0h28.41v2.4h-28.41zM932.79 817.5h28.41v2.9h-28.41zM932.79 836.0h28.41v4.4h-28.41zM932.79 843.0h28.41v5.4h-28.41zM988.71 798.0h28.41v4.4h-28.41zM988.71 804.0h28.41v2.4h-28.41zM988.71 848.0h28.41v3.4h-28.41zM988.71 866.5h28.41v2.9h-28.41zM1016.67 830.5h28.41v2.4h-28.41zM1016.67 848.0h28.41v3.4h-28.41zM1016.67 890.0h28.41v2.4h-28.41zM1044.62 792.0h28.41v2.4h-28.41zM1044.62 804.0h28.41v2.4h-28.41zM1044.62 809.5h28.41v3.4h-28.41zM1044.62 840.0h28.41v3.4h-28.41zM1100.54 854.0h27.96v4.4h-27.96z"/>
<path fill="#0d1908" d="M172.42 249.5h28.42v2.4h-28.42zM650.86 308.0h28.38v3.4h-28.38zM706.71 240.5h28.38v2.4h-28.38zM706.71 249.5h28.38v2.4h-28.38zM706.71 254.5h28.38v1.9h-28.38zM706.71 265.5h28.38v5.9h-28.38zM706.71 273.5h28.38v2.4h-28.38zM706.71 279.0h28.38v1.9h-28.38zM793.00 279.0h28.41v1.9h-28.41zM820.96 317.5h28.41v3.4h-28.41zM904.83 247.5h28.41v2.4h-28.41zM904.83 254.5h28.41v1.9h-28.41zM1044.62 249.5h28.41v2.4h-28.41zM1044.62 260.0h28.41v2.4h-28.41zM1044.62 322.5h28.41v2.5h-28.41zM1100.54 282.5h27.96v2.9h-27.96zM1100.54 315.0h27.96v2.9h-27.96zM1100.54 320.5h27.96v2.4h-27.96zM564.03 531.0h27.97v3.4h-27.97zM564.03 559.5h27.97v5.4h-27.97zM564.03 584.0h27.97v1.9h-27.97zM564.03 612.0h27.97v3.9h-27.97zM564.03 635.0h27.97v5.9h-27.97zM564.03 651.0h27.97v2.4h-27.97zM595.00 564.5h28.38v4.4h-28.38zM650.86 467.0h28.38v3.9h-28.38zM706.71 336.0h28.38v3.4h-28.38zM706.71 350.5h28.38v2.9h-28.38zM706.71 356.0h28.38v3.9h-28.38zM706.71 374.0h28.38v7.4h-28.38zM706.71 383.0h28.38v6.4h-28.38zM706.71 391.0h28.38v3.4h-28.38zM706.71 399.5h28.38v2.9h-28.38zM706.71 448.5h28.38v2.4h-28.38zM706.71 477.0h28.38v3.4h-28.38zM706.71 481.5h28.38v2.9h-28.38zM706.71 488.0h28.38v1.9h-28.38zM706.71 501.0h28.38v1.9h-28.38zM706.71 505.5h28.38v2.4h-28.38zM706.71 511.5h28.38v4.4h-28.38zM706.71 531.0h28.38v9.4h-28.38zM706.71 545.5h28.38v4.9h-28.38zM706.71 556.5h28.38v3.4h-28.38zM706.71 568.5h28.38v1.9h-28.38zM706.71 579.5h28.38v4.9h-28.38zM706.71 619.0h28.38v2.4h-28.38zM706.71 631.5h28.38v2.4h-28.38zM706.71 637.5h28.38v6.9h-28.38zM706.71 646.5h28.38v2.9h-28.38zM706.71 653.0h28.38v3.4h-28.38zM706.71 659.5h28.38v3.4h-28.38zM734.64 605.5h28.38v3.9h-28.38zM116.47 682.0h28.42v4.4h-28.42zM144.44 704.0h28.42v3.4h-28.42zM144.44 725.5h28.42v3.4h-28.42zM144.44 731.5h28.42v2.9h-28.42zM144.44 765.0h28.42v2.4h-28.42zM172.42 680.0h28.42v2.4h-28.42zM172.42 690.5h28.42v2.9h-28.42zM200.39 686.0h28.42v2.9h-28.42zM200.39 749.0h28.42v2.4h-28.42zM228.36 693.0h28.42v3.4h-28.42zM228.36 715.5h28.42v10.4h-28.42zM228.36 740.0h28.42v3.4h-28.42zM312.28 746.0h28.42v3.4h-28.42zM340.25 704.0h28.42v6.4h-28.42zM368.22 678.5h28.42v1.9h-28.42zM368.22 731.5h28.42v2.9h-28.42zM480.11 702.0h28.42v2.4h-28.42zM480.11 731.5h28.42v2.9h-28.42zM480.11 738.0h28.42v2.4h-28.42zM480.11 768.5h28.42v6.4h-28.42zM508.08 740.0h28.42v6.4h-28.42zM536.06 673.0h28.42v2.4h-28.42zM536.06 682.0h28.42v4.4h-28.42zM536.06 688.5h28.42v2.4h-28.42zM536.06 696.0h28.42v4.4h-28.42zM536.06 710.0h28.42v4.4h-28.42zM536.06 777.5h28.42v2.9h-28.42zM564.03 746.0h27.97v3.4h-27.97zM564.03 777.5h27.97v4.4h-27.97zM706.71 673.0h28.38v2.4h-28.38zM706.71 690.5h28.38v2.9h-28.38zM706.71 707.0h28.38v3.4h-28.38zM706.71 725.5h28.38v3.4h-28.38zM706.71 743.0h28.38v6.4h-28.38zM706.71 765.0h28.38v2.4h-28.38zM706.71 784.5h28.38v3.0h-28.38zM734.64 771.0h28.38v3.9h-28.38zM762.57 725.5h27.93v3.4h-27.93zM762.57 746.0h27.93v3.4h-27.93zM762.57 757.5h27.93v3.4h-27.93zM762.57 765.0h27.93v2.4h-27.93zM793.00 710.0h28.41v4.4h-28.41zM793.00 722.0h28.41v3.9h-28.41zM793.00 743.0h28.41v3.4h-28.41zM793.00 760.5h28.41v3.4h-28.41zM793.00 768.5h28.41v2.9h-28.41zM820.96 751.0h28.41v4.4h-28.41zM848.92 675.0h28.41v3.9h-28.41zM848.92 760.5h28.41v3.4h-28.41zM876.88 767.0h28.41v1.9h-28.41zM876.88 780.0h28.41v1.9h-28.41zM904.83 767.0h28.41v4.4h-28.41zM904.83 774.5h28.41v3.4h-28.41zM960.75 686.0h28.41v2.9h-28.41zM960.75 690.5h28.41v2.9h-28.41zM960.75 725.5h28.41v3.4h-28.41zM960.75 740.0h28.41v3.4h-28.41zM960.75 760.5h28.41v3.4h-28.41zM988.71 719.0h28.41v3.4h-28.41zM1016.67 763.5h28.41v1.9h-28.41zM1016.67 767.0h28.41v1.9h-28.41zM1044.62 670.0h28.41v3.4h-28.41zM1044.62 680.0h28.41v2.4h-28.41zM1044.62 686.0h28.41v2.9h-28.41zM1044.62 700.0h28.41v2.4h-28.41zM1044.62 731.5h28.41v2.9h-28.41zM1044.62 746.0h28.41v3.4h-28.41zM1044.62 760.5h28.41v3.4h-28.41zM1044.62 765.0h28.41v6.4h-28.41zM1072.58 667.0h28.41v3.4h-28.41zM1072.58 675.0h28.41v3.9h-28.41zM1072.58 700.0h28.41v2.4h-28.41zM1072.58 710.0h28.41v4.4h-28.41zM1072.58 763.5h28.41v1.9h-28.41zM1072.58 774.5h28.41v5.9h-28.41zM1100.54 690.5h27.96v2.9h-27.96zM1100.54 702.0h27.96v2.4h-27.96zM1100.54 763.5h27.96v1.9h-27.96zM172.42 802.0h28.42v2.4h-28.42zM256.33 812.5h28.42v3.9h-28.42zM256.33 820.0h28.42v4.9h-28.42zM256.33 881.0h28.42v9.4h-28.42zM284.31 790.0h28.42v4.4h-28.42zM284.31 798.0h28.42v2.4h-28.42zM284.31 804.0h28.42v2.4h-28.42zM284.31 809.5h28.42v3.4h-28.42zM284.31 817.5h28.42v2.9h-28.42zM284.31 851.0h28.42v3.4h-28.42zM284.31 858.0h28.42v3.4h-28.42zM312.28 864.0h28.42v2.9h-28.42zM312.28 870.5h28.42v2.9h-28.42zM340.25 809.5h28.42v3.4h-28.42zM340.25 843.0h28.42v2.4h-28.42zM340.25 901.0h28.42v3.9h-28.42zM368.22 812.5h28.42v3.9h-28.42zM424.17 816.0h28.42v1.9h-28.42zM424.17 843.0h28.42v2.4h-28.42zM424.17 854.0h28.42v4.4h-28.42zM424.17 892.0h28.42v4.4h-28.42zM424.17 901.0h28.42v3.9h-28.42zM424.17 914.5h28.42v2.0h-28.42zM452.14 821.5h28.42v3.4h-28.42zM480.11 821.5h28.42v6.4h-28.42zM508.08 809.5h28.42v6.9h-28.42zM508.08 821.5h28.42v3.4h-28.42zM508.08 830.5h28.42v2.4h-28.42zM508.08 851.0h28.42v3.4h-28.42zM508.08 858.0h28.42v3.4h-28.42zM508.08 866.5h28.42v2.9h-28.42zM508.08 896.0h28.42v1.9h-28.42zM536.06 806.0h28.42v3.9h-28.42zM536.06 866.5h28.42v2.9h-28.42zM536.06 881.0h28.42v6.4h-28.42zM536.06 904.5h28.42v1.9h-28.42zM564.03 876.0h27.97v1.9h-27.97zM706.71 816.0h28.38v1.9h-28.38zM706.71 848.0h28.38v3.4h-28.38zM762.57 798.0h27.93v2.4h-27.93zM762.57 820.0h27.93v1.9h-27.93zM793.00 824.5h28.41v3.4h-28.41zM793.00 840.0h28.41v3.4h-28.41zM793.00 873.0h28.41v4.9h-28.41zM793.00 912.0h28.41v2.9h-28.41zM820.96 858.0h28.41v3.4h-28.41zM820.96 866.5h28.41v2.9h-28.41zM820.96 890.0h28.41v2.4h-28.41zM820.96 909.0h28.41v3.4h-28.41zM848.92 840.0h28.41v3.4h-28.41zM848.92 858.0h28.41v3.4h-28.41zM848.92 890.0h28.41v2.4h-28.41zM848.92 896.0h28.41v1.9h-28.41zM848.92 914.5h28.41v2.0h-28.41zM904.83 800.0h28.41v2.4h-28.41zM904.83 866.5h28.41v2.9h-28.41zM932.79 798.0h28.41v2.4h-28.41zM932.79 806.0h28.41v3.9h-28.41zM960.75 792.0h28.41v2.4h-28.41zM960.75 821.5h28.41v3.4h-28.41zM960.75 827.5h28.41v3.4h-28.41zM988.71 832.5h28.41v3.9h-28.41zM988.71 845.0h28.41v3.4h-28.41zM988.71 858.0h28.41v6.4h-28.41zM1016.67 809.5h28.41v3.4h-28.41zM1016.67 827.5h28.41v3.4h-28.41zM1016.67 896.0h28.41v5.4h-28.41z"/>
<path fill="#0b1207" d="M284.31 308.0h28.42v3.4h-28.42zM564.03 237.5h27.97v3.4h-27.97zM564.03 254.5h27.97v1.9h-27.97zM650.86 279.0h28.38v1.9h-28.38zM706.71 242.5h28.38v5.4h-28.38zM706.71 256.0h28.38v2.9h-28.38zM706.71 260.0h28.38v2.4h-28.38zM793.00 251.5h28.41v3.4h-28.41zM793.00 260.0h28.41v2.4h-28.41zM848.92 286.5h28.41v3.9h-28.41zM932.79 322.5h28.41v2.5h-28.41zM960.75 275.5h28.41v3.9h-28.41zM1044.62 285.0h28.41v1.9h-28.41zM1044.62 306.0h28.41v2.4h-28.41zM1044.62 313.0h28.41v2.4h-28.41zM1072.58 297.5h28.41v3.4h-28.41zM480.11 602.0h28.42v3.9h-28.42zM508.08 635.0h28.42v2.9h-28.42zM564.03 327.5h27.97v2.9h-27.97zM564.03 342.5h27.97v2.9h-27.97zM564.03 402.0h27.97v2.4h-27.97zM564.03 420.5h27.97v1.9h-27.97zM564.03 431.5h27.97v2.4h-27.97zM564.03 450.5h27.97v3.4h-27.97zM564.03 486.5h27.97v1.9h-27.97zM564.03 499.5h27.97v1.9h-27.97zM564.03 502.5h27.97v3.4h-27.97zM564.03 517.5h27.97v3.9h-27.97zM564.03 534.0h27.97v4.4h-27.97zM564.03 548.0h27.97v2.4h-27.97zM564.03 553.0h27.97v3.9h-27.97zM564.03 566.0h27.97v2.9h-27.97zM564.03 573.5h27.97v3.4h-27.97zM564.03 579.5h27.97v4.9h-27.97zM564.03 595.5h27.97v3.9h-27.97zM564.03 609.0h27.97v3.4h-27.97zM564.03 619.0h27.97v2.4h-27.97zM564.03 624.5h27.97v7.4h-27.97zM564.03 633.5h27.97v1.9h-27.97zM564.03 640.5h27.97v3.9h-27.97zM564.03 646.5h27.97v4.9h-27.97zM564.03 654.5h27.97v1.9h-27.97zM564.03 662.5h27.97v2.0h-27.97zM678.79 431.5h28.38v2.4h-28.38zM678.79 494.0h28.38v3.9h-28.38zM706.71 353.0h28.38v3.4h-28.38zM706.71 365.5h28.38v4.4h-28.38zM706.71 372.0h28.38v2.4h-28.38zM706.71 381.0h28.38v2.4h-28.38zM706.71 404.0h28.38v7.4h-28.38zM706.71 420.5h28.38v1.9h-28.38zM706.71 431.5h28.38v2.4h-28.38zM706.71 450.5h28.38v5.4h-28.38zM706.71 457.5h28.38v4.4h-28.38zM706.71 467.0h28.38v10.4h-28.38zM706.71 480.0h28.38v1.9h-28.38zM706.71 484.0h28.38v4.4h-28.38zM706.71 489.5h28.38v8.4h-28.38zM706.71 502.5h28.38v3.4h-28.38zM706.71 509.5h28.38v2.4h-28.38zM706.71 515.5h28.38v2.4h-28.38zM706.71 521.0h28.38v1.9h-28.38zM706.71 540.0h28.38v5.9h-28.38zM706.71 553.0h28.38v2.4h-28.38zM706.71 559.5h28.38v5.4h-28.38zM706.71 566.0h28.38v2.9h-28.38zM706.71 573.5h28.38v3.4h-28.38zM706.71 584.0h28.38v1.9h-28.38zM706.71 589.5h28.38v6.4h-28.38zM706.71 599.0h28.38v3.4h-28.38zM706.71 621.0h28.38v3.9h-28.38zM706.71 628.0h28.38v3.9h-28.38zM706.71 633.5h28.38v4.4h-28.38zM848.92 646.5h28.41v2.9h-28.41zM88.50 678.5h28.42v1.9h-28.42zM88.50 714.0h28.42v1.9h-28.42zM116.47 725.5h28.42v3.4h-28.42zM144.44 702.0h28.42v2.4h-28.42zM144.44 707.0h28.42v3.4h-28.42zM144.44 722.0h28.42v3.9h-28.42zM144.44 757.5h28.42v3.4h-28.42zM144.44 771.0h28.42v6.9h-28.42zM172.42 678.5h28.42v1.9h-28.42zM172.42 693.0h28.42v3.4h-28.42zM172.42 704.0h28.42v3.4h-28.42zM172.42 749.0h28.42v2.4h-28.42zM200.39 702.0h28.42v2.4h-28.42zM200.39 725.5h28.42v3.4h-28.42zM228.36 673.0h28.42v2.4h-28.42zM228.36 688.5h28.42v2.4h-28.42zM284.31 734.0h28.42v4.4h-28.42zM312.28 767.0h28.42v1.9h-28.42zM424.17 696.0h28.42v4.4h-28.42zM424.17 743.0h28.42v3.4h-28.42zM480.11 682.0h28.42v4.4h-28.42zM480.11 760.5h28.42v3.4h-28.42zM480.11 765.0h28.42v2.4h-28.42zM508.08 780.0h28.42v1.9h-28.42zM508.08 784.5h28.42v3.0h-28.42zM536.06 678.5h28.42v1.9h-28.42zM536.06 734.0h28.42v4.4h-28.42zM564.03 731.5h27.97v2.9h-27.97zM564.03 749.0h27.97v2.4h-27.97zM564.03 768.5h27.97v2.9h-27.97zM650.86 670.0h28.38v3.4h-28.38zM706.71 693.0h28.38v3.4h-28.38zM706.71 715.5h28.38v3.9h-28.38zM706.71 722.0h28.38v3.9h-28.38zM706.71 734.0h28.38v4.4h-28.38zM706.71 760.5h28.38v3.4h-28.38zM706.71 771.0h28.38v3.9h-28.38zM706.71 780.0h28.38v4.9h-28.38zM734.64 760.5h28.38v3.4h-28.38zM762.57 690.5h27.93v2.9h-27.93zM762.57 702.0h27.93v2.4h-27.93zM762.57 722.0h27.93v3.9h-27.93zM762.57 740.0h27.93v3.4h-27.93zM762.57 763.5h27.93v1.9h-27.93zM762.57 780.0h27.93v1.9h-27.93zM793.00 693.0h28.41v3.4h-28.41zM793.00 731.5h28.41v2.9h-28.41zM793.00 763.5h28.41v1.9h-28.41zM793.00 780.0h28.41v1.9h-28.41zM820.96 746.0h28.41v3.4h-28.41zM820.96 760.5h28.41v4.9h-28.41zM820.96 781.5h28.41v3.4h-28.41zM848.92 693.0h28.41v3.4h-28.41zM876.88 743.0h28.41v3.4h-28.41zM876.88 771.0h28.41v3.9h-28.41zM904.83 763.5h28.41v1.9h-28.41zM932.79 767.0h28.41v1.9h-28.41zM960.75 675.0h28.41v3.9h-28.41zM960.75 693.0h28.41v3.4h-28.41zM960.75 700.0h28.41v4.4h-28.41zM960.75 738.0h28.41v2.4h-28.41zM1016.67 715.5h28.41v6.9h-28.41zM1016.67 777.5h28.41v4.4h-28.41zM1044.62 675.0h28.41v3.9h-28.41zM1044.62 725.5h28.41v3.4h-28.41zM1072.58 682.0h28.41v4.4h-28.41zM1072.58 707.0h28.41v3.4h-28.41zM1072.58 722.0h28.41v6.9h-28.41zM1100.54 734.0h27.96v4.4h-27.96zM1100.54 755.0h27.96v2.9h-27.96zM172.42 794.0h28.42v4.4h-28.42zM256.33 816.0h28.42v1.9h-28.42zM256.33 827.5h28.42v3.4h-28.42zM256.33 843.0h28.42v2.4h-28.42zM256.33 877.5h28.42v3.9h-28.42zM284.31 794.0h28.42v4.4h-28.42zM284.31 800.0h28.42v2.4h-28.42zM284.31 816.0h28.42v1.9h-28.42zM312.28 792.0h28.42v6.4h-28.42zM312.28 802.0h28.42v2.4h-28.42zM312.28 873.0h28.42v3.4h-28.42zM340.25 830.5h28.42v2.4h-28.42zM340.25 887.0h28.42v3.4h-28.42zM424.17 885.0h28.42v2.4h-28.42zM424.17 896.0h28.42v1.9h-28.42zM480.11 817.5h28.42v2.9h-28.42zM508.08 817.5h28.42v2.9h-28.42zM508.08 824.5h28.42v3.4h-28.42zM508.08 848.0h28.42v3.4h-28.42zM508.08 869.0h28.42v1.9h-28.42zM508.08 873.0h28.42v3.4h-28.42zM508.08 877.5h28.42v3.9h-28.42zM508.08 914.5h28.42v2.0h-28.42zM536.06 830.5h28.42v2.4h-28.42zM536.06 869.0h28.42v1.9h-28.42zM706.71 802.0h28.38v2.4h-28.38zM706.71 817.5h28.38v2.9h-28.38zM706.71 824.5h28.38v3.4h-28.38zM706.71 836.0h28.38v4.4h-28.38zM706.71 851.0h28.38v3.4h-28.38zM762.57 840.0h27.93v5.4h-27.93zM793.00 792.0h28.41v2.4h-28.41zM793.00 858.0h28.41v3.4h-28.41zM793.00 877.5h28.41v3.9h-28.41zM793.00 892.0h28.41v5.9h-28.41zM820.96 870.5h28.41v2.9h-28.41zM820.96 876.0h28.41v1.9h-28.41zM820.96 892.0h28.41v4.4h-28.41zM820.96 897.5h28.41v3.9h-28.41zM820.96 914.5h28.41v2.0h-28.41zM848.92 809.5h28.41v3.4h-28.41zM848.92 885.0h28.41v5.4h-28.41zM876.88 792.0h28.41v2.4h-28.41zM876.88 800.0h28.41v2.4h-28.41zM876.88 843.0h28.41v5.4h-28.41zM904.83 861.0h28.41v3.4h-28.41zM932.79 790.0h28.41v2.4h-28.41zM932.79 802.0h28.41v2.4h-28.41zM1016.67 794.0h28.41v4.4h-28.41zM1016.67 812.5h28.41v3.9h-28.41zM1016.67 861.0h28.41v3.4h-28.41zM1016.67 870.5h28.41v2.9h-28.41zM1016.67 909.0h28.41v5.9h-28.41z"/>
<path fill="#080604" d="M88.50 280.5h28.42v2.4h-28.42zM480.11 271.0h28.42v2.9h-28.42zM508.08 240.5h28.42v2.4h-28.42zM536.06 295.5h28.42v2.4h-28.42zM564.03 249.5h27.97v5.4h-27.97zM564.03 256.0h27.97v4.4h-27.97zM564.03 265.5h27.97v3.9h-27.97zM564.03 273.5h27.97v2.4h-27.97zM1044.62 282.5h28.41v2.9h-28.41zM1044.62 304.0h28.41v2.4h-28.41zM1100.54 306.0h27.96v2.4h-27.96zM1100.54 322.5h27.96v2.5h-27.96zM480.11 566.0h28.42v2.9h-28.42zM508.08 556.5h28.42v3.4h-28.42zM508.08 621.0h28.42v3.9h-28.42zM536.06 402.0h28.42v2.4h-28.42zM564.03 331.5h27.97v3.4h-27.97zM564.03 336.0h27.97v6.9h-27.97zM564.03 353.0h27.97v9.9h-27.97zM564.03 365.5h27.97v4.4h-27.97zM564.03 383.0h27.97v3.4h-27.97zM564.03 389.0h27.97v2.4h-27.97zM564.03 399.5h27.97v2.9h-27.97zM564.03 404.0h27.97v3.4h-27.97zM564.03 411.0h27.97v2.9h-27.97zM564.03 415.0h27.97v2.9h-27.97zM564.03 426.0h27.97v5.9h-27.97zM564.03 438.0h27.97v2.4h-27.97zM564.03 442.0h27.97v1.9h-27.97zM564.03 457.5h27.97v7.9h-27.97zM564.03 473.5h27.97v6.9h-27.97zM564.03 484.0h27.97v2.9h-27.97zM564.03 491.5h27.97v8.4h-27.97zM564.03 501.0h27.97v1.9h-27.97zM564.03 509.5h27.97v8.4h-27.97zM564.03 521.0h27.97v1.9h-27.97zM564.03 524.5h27.97v6.9h-27.97zM564.03 540.0h27.97v3.4h-27.97zM564.03 545.5h27.97v2.9h-27.97zM564.03 556.5h27.97v3.4h-27.97zM564.03 568.5h27.97v5.4h-27.97zM564.03 576.5h27.97v3.4h-27.97zM564.03 585.5h27.97v4.4h-27.97zM564.03 592.5h27.97v3.4h-27.97zM564.03 599.0h27.97v10.4h-27.97zM564.03 615.5h27.97v3.9h-27.97zM564.03 621.0h27.97v3.9h-27.97zM564.03 644.0h27.97v2.9h-27.97zM564.03 653.0h27.97v1.9h-27.97zM564.03 656.0h27.97v6.9h-27.97zM595.00 404.0h28.38v3.4h-28.38zM595.00 480.0h28.38v1.9h-28.38zM622.93 389.0h28.38v2.4h-28.38zM650.86 631.5h28.38v2.4h-28.38zM678.79 529.0h28.38v2.4h-28.38zM678.79 631.5h28.38v2.4h-28.38zM706.71 389.0h28.38v2.4h-28.38zM706.71 394.0h28.38v5.9h-28.38zM706.71 402.0h28.38v2.4h-28.38zM706.71 411.0h28.38v6.9h-28.38zM706.71 426.0h28.38v5.9h-28.38zM706.71 436.5h28.38v5.9h-28.38zM706.71 445.5h28.38v3.4h-28.38zM706.71 455.5h28.38v2.4h-28.38zM706.71 461.5h28.38v5.9h-28.38zM706.71 522.5h28.38v4.9h-28.38zM706.71 550.0h28.38v3.4h-28.38zM706.71 555.0h28.38v1.9h-28.38zM706.71 585.5h28.38v4.4h-28.38zM706.71 595.5h28.38v3.9h-28.38zM706.71 602.0h28.38v10.4h-28.38zM706.71 615.5h28.38v3.9h-28.38zM706.71 624.5h28.38v3.9h-28.38zM88.50 693.0h28.42v3.4h-28.42zM88.50 715.5h28.42v3.9h-28.42zM144.44 755.0h28.42v2.9h-28.42zM144.44 767.0h28.42v1.9h-28.42zM144.44 780.0h28.42v1.9h-28.42zM172.42 670.0h28.42v3.4h-28.42zM172.42 696.0h28.42v4.4h-28.42zM172.42 722.0h28.42v6.9h-28.42zM172.42 738.0h28.42v2.4h-28.42zM228.36 682.0h28.42v4.4h-28.42zM284.31 738.0h28.42v2.4h-28.42zM312.28 725.5h28.42v3.4h-28.42zM312.28 755.0h28.42v2.9h-28.42zM312.28 760.5h28.42v3.4h-28.42zM312.28 774.5h28.42v3.4h-28.42zM340.25 675.0h28.42v3.9h-28.42zM340.25 725.5h28.42v3.4h-28.42zM340.25 746.0h28.42v3.4h-28.42zM480.11 696.0h28.42v4.4h-28.42zM480.11 743.0h28.42v3.4h-28.42zM480.11 767.0h28.42v1.9h-28.42zM480.11 784.5h28.42v3.0h-28.42zM508.08 749.0h28.42v2.4h-28.42zM508.08 757.5h28.42v3.4h-28.42zM508.08 774.5h28.42v3.4h-28.42zM536.06 680.0h28.42v2.4h-28.42zM536.06 704.0h28.42v3.4h-28.42zM536.06 715.5h28.42v3.9h-28.42zM536.06 743.0h28.42v3.4h-28.42zM706.71 678.5h28.38v1.9h-28.38zM706.71 688.5h28.38v2.4h-28.38zM706.71 696.0h28.38v6.4h-28.38zM706.71 714.0h28.38v1.9h-28.38zM706.71 751.0h28.38v4.4h-28.38zM762.57 693.0h27.93v3.4h-27.93zM762.57 719.0h27.93v3.4h-27.93zM762.57 731.5h27.93v2.9h-27.93zM762.57 738.0h27.93v2.4h-27.93zM762.57 755.0h27.93v2.9h-27.93zM793.00 707.0h28.41v3.4h-28.41zM793.00 714.0h28.41v1.9h-28.41zM793.00 740.0h28.41v3.4h-28.41zM793.00 746.0h28.41v5.4h-28.41zM820.96 749.0h28.41v2.4h-28.41zM820.96 757.5h28.41v3.4h-28.41zM820.96 765.0h28.41v2.4h-28.41zM820.96 777.5h28.41v2.9h-28.41zM848.92 688.5h28.41v2.4h-28.41zM848.92 700.0h28.41v2.4h-28.41zM848.92 704.0h28.41v3.4h-28.41zM848.92 722.0h28.41v3.9h-28.41zM848.92 749.0h28.41v6.4h-28.41zM848.92 767.0h28.41v1.9h-28.41zM848.92 781.5h28.41v3.4h-28.41zM904.83 722.0h28.41v3.9h-28.41zM904.83 731.5h28.41v2.9h-28.41zM904.83 780.0h28.41v1.9h-28.41zM932.79 707.0h28.41v3.4h-28.41zM932.79 725.5h28.41v3.4h-28.41zM932.79 777.5h28.41v2.9h-28.41zM960.75 673.0h28.41v2.4h-28.41zM960.75 688.5h28.41v2.4h-28.41zM960.75 714.0h28.41v1.9h-28.41zM960.75 731.5h28.41v6.9h-28.41zM960.75 757.5h28.41v3.4h-28.41zM988.71 715.5h28.41v3.9h-28.41zM1016.67 740.0h28.41v3.4h-28.41zM1016.67 749.0h28.41v2.4h-28.41zM1016.67 768.5h28.41v2.9h-28.41zM1044.62 673.0h28.41v2.4h-28.41zM1044.62 688.5h28.41v7.9h-28.41zM1044.62 704.0h28.41v3.4h-28.41zM1044.62 738.0h28.41v2.4h-28.41zM1044.62 743.0h28.41v3.4h-28.41zM1044.62 749.0h28.41v2.4h-28.41zM1044.62 755.0h28.41v2.9h-28.41zM1044.62 763.5h28.41v1.9h-28.41zM1072.58 673.0h28.41v2.4h-28.41zM1072.58 678.5h28.41v1.9h-28.41zM1072.58 690.5h28.41v2.9h-28.41zM1072.58 728.5h28.41v3.4h-28.41zM1072.58 755.0h28.41v2.9h-28.41zM1072.58 784.5h28.41v3.0h-28.41zM1100.54 667.0h27.96v3.4h-27.96zM1100.54 675.0h27.96v3.9h-27.96zM1100.54 680.0h27.96v2.4h-27.96zM1100.54 746.0h27.96v3.4h-27.96zM1100.54 768.5h27.96v2.9h-27.96zM172.42 843.0h28.42v2.4h-28.42zM200.39 836.0h28.42v4.4h-28.42zM200.39 887.0h28.42v3.4h-28.42zM228.36 790.0h28.42v2.4h-28.42zM228.36 830.5h28.42v2.4h-28.42zM284.31 806.0h28.42v3.9h-28.42zM284.31 812.5h28.42v3.9h-28.42zM284.31 821.5h28.42v3.4h-28.42zM284.31 827.5h28.42v3.4h-28.42zM284.31 861.0h28.42v3.4h-28.42zM284.31 912.0h28.42v2.9h-28.42zM312.28 896.0h28.42v1.9h-28.42zM312.28 914.5h28.42v2.0h-28.42zM340.25 824.5h28.42v6.4h-28.42zM340.25 832.5h28.42v3.9h-28.42zM340.25 904.5h28.42v1.9h-28.42zM340.25 909.0h28.42v3.4h-28.42zM340.25 914.5h28.42v2.0h-28.42zM368.22 854.0h28.42v4.4h-28.42zM424.17 812.5h28.42v3.9h-28.42zM424.17 897.5h28.42v3.9h-28.42zM424.17 906.0h28.42v3.4h-28.42zM480.11 794.0h28.42v4.4h-28.42zM480.11 804.0h28.42v2.4h-28.42zM480.11 836.0h28.42v4.4h-28.42zM480.11 843.0h28.42v2.4h-28.42zM508.08 861.0h28.42v3.4h-28.42zM508.08 897.5h28.42v3.9h-28.42zM536.06 824.5h28.42v3.4h-28.42zM536.06 832.5h28.42v3.9h-28.42zM536.06 845.0h28.42v3.4h-28.42zM536.06 854.0h28.42v4.4h-28.42zM536.06 873.0h28.42v3.4h-28.42zM536.06 890.0h28.42v2.4h-28.42zM536.06 897.5h28.42v3.9h-28.42zM706.71 832.5h28.38v3.9h-28.38zM706.71 843.0h28.38v2.4h-28.38zM734.64 870.5h28.38v2.9h-28.38zM734.64 881.0h28.38v4.4h-28.38zM762.57 792.0h27.93v2.4h-27.93zM762.57 836.0h27.93v4.4h-27.93zM762.57 909.0h27.93v3.4h-27.93zM793.00 866.5h28.41v2.9h-28.41zM793.00 870.5h28.41v2.9h-28.41zM793.00 885.0h28.41v2.4h-28.41zM793.00 890.0h28.41v2.4h-28.41zM793.00 897.5h28.41v3.9h-28.41zM793.00 906.0h28.41v3.4h-28.41zM820.96 804.0h28.41v2.4h-28.41zM820.96 820.0h28.41v1.9h-28.41zM820.96 864.0h28.41v2.9h-28.41zM848.92 800.0h28.41v2.4h-28.41zM848.92 816.0h28.41v1.9h-28.41zM848.92 824.5h28.41v3.4h-28.41zM848.92 854.0h28.41v4.4h-28.41zM848.92 864.0h28.41v2.9h-28.41zM848.92 869.0h28.41v1.9h-28.41zM848.92 873.0h28.41v3.4h-28.41zM876.88 802.0h28.41v2.4h-28.41zM876.88 840.0h28.41v3.4h-28.41zM960.75 790.0h28.41v2.4h-28.41zM988.71 843.0h28.41v2.4h-28.41zM988.71 854.0h28.41v4.4h-28.41zM1016.67 806.0h28.41v3.9h-28.41zM1016.67 845.0h28.41v3.4h-28.41zM1016.67 876.0h28.41v9.4h-28.41zM1016.67 914.5h28.41v2.0h-28.41z"/>
<path fill="#110804" d="M284.31 246.0h28.42v1.9h-28.42zM284.31 304.0h28.42v2.4h-28.42zM480.11 260.0h28.42v2.4h-28.42zM480.11 275.5h28.42v3.9h-28.42zM564.03 246.0h27.97v1.9h-27.97zM564.03 271.0h27.97v2.9h-27.97zM706.71 237.5h28.38v3.4h-28.38zM1072.58 320.5h28.41v2.4h-28.41zM1100.54 313.0h27.96v2.4h-27.96zM396.19 378.0h28.42v3.4h-28.42zM452.14 524.5h28.42v2.9h-28.42zM452.14 633.5h28.42v1.9h-28.42zM480.11 486.5h28.42v1.9h-28.42zM536.06 342.5h28.42v2.9h-28.42zM536.06 443.5h28.42v2.4h-28.42zM564.03 334.5h27.97v1.9h-27.97zM564.03 345.0h27.97v2.9h-27.97zM564.03 350.5h27.97v2.9h-27.97zM564.03 362.5h27.97v3.4h-27.97zM564.03 369.5h27.97v13.9h-27.97zM564.03 386.0h27.97v3.4h-27.97zM564.03 391.0h27.97v8.9h-27.97zM564.03 407.0h27.97v4.4h-27.97zM564.03 417.5h27.97v3.4h-27.97zM564.03 433.5h27.97v4.9h-27.97zM564.03 440.0h27.97v2.4h-27.97zM564.03 445.5h27.97v3.4h-27.97zM564.03 453.5h27.97v4.4h-27.97zM564.03 465.0h27.97v2.4h-27.97zM564.03 470.5h27.97v3.4h-27.97zM564.03 480.0h27.97v4.4h-27.97zM564.03 488.0h27.97v3.9h-27.97zM564.03 505.5h27.97v4.4h-27.97zM564.03 522.5h27.97v2.4h-27.97zM564.03 543.0h27.97v2.9h-27.97zM564.03 550.0h27.97v3.4h-27.97zM564.03 589.5h27.97v3.4h-27.97zM622.93 443.5h28.38v2.4h-28.38zM706.71 422.0h28.38v4.4h-28.38zM706.71 442.0h28.38v3.9h-28.38zM706.71 507.5h28.38v2.4h-28.38zM706.71 517.5h28.38v3.9h-28.38zM706.71 527.0h28.38v4.4h-28.38zM706.71 576.5h28.38v3.4h-28.38zM706.71 612.0h28.38v3.9h-28.38zM88.50 682.0h28.42v4.4h-28.42zM88.50 710.0h28.42v4.4h-28.42zM116.47 686.0h28.42v2.9h-28.42zM144.44 768.5h28.42v2.9h-28.42zM144.44 784.5h28.42v3.0h-28.42zM172.42 682.0h28.42v4.4h-28.42zM172.42 731.5h28.42v2.9h-28.42zM200.39 696.0h28.42v4.4h-28.42zM228.36 777.5h28.42v2.9h-28.42zM312.28 728.5h28.42v3.4h-28.42zM312.28 743.0h28.42v3.4h-28.42zM312.28 749.0h28.42v2.4h-28.42zM312.28 757.5h28.42v3.4h-28.42zM340.25 710.0h28.42v4.4h-28.42zM340.25 749.0h28.42v6.4h-28.42zM340.25 757.5h28.42v6.4h-28.42zM480.11 704.0h28.42v3.4h-28.42zM480.11 749.0h28.42v2.4h-28.42zM480.11 780.0h28.42v1.9h-28.42zM508.08 768.5h28.42v6.4h-28.42zM706.71 686.0h28.38v2.9h-28.38zM706.71 777.5h28.38v2.9h-28.38zM734.64 690.5h28.38v2.9h-28.38zM762.57 696.0h27.93v4.4h-27.93zM762.57 707.0h27.93v7.4h-27.93zM762.57 715.5h27.93v3.9h-27.93zM762.57 751.0h27.93v4.4h-27.93zM793.00 670.0h28.41v5.4h-28.41zM793.00 678.5h28.41v1.9h-28.41zM793.00 682.0h28.41v4.4h-28.41zM793.00 688.5h28.41v2.4h-28.41zM793.00 696.0h28.41v4.4h-28.41zM793.00 702.0h28.41v5.4h-28.41zM793.00 755.0h28.41v2.9h-28.41zM793.00 771.0h28.41v3.9h-28.41zM820.96 667.0h28.41v3.4h-28.41zM820.96 682.0h28.41v4.4h-28.41zM820.96 755.0h28.41v2.9h-28.41zM820.96 771.0h28.41v3.9h-28.41zM820.96 784.5h28.41v3.0h-28.41zM848.92 707.0h28.41v7.4h-28.41zM848.92 719.0h28.41v3.4h-28.41zM876.88 719.0h28.41v3.4h-28.41zM876.88 760.5h28.41v3.4h-28.41zM904.83 678.5h28.41v1.9h-28.41zM904.83 719.0h28.41v3.4h-28.41zM904.83 740.0h28.41v3.4h-28.41zM904.83 746.0h28.41v3.4h-28.41zM904.83 760.5h28.41v3.4h-28.41zM904.83 771.0h28.41v3.9h-28.41zM904.83 781.5h28.41v3.4h-28.41zM932.79 715.5h28.41v6.9h-28.41zM932.79 738.0h28.41v2.4h-28.41zM932.79 763.5h28.41v1.9h-28.41zM932.79 774.5h28.41v3.4h-28.41zM932.79 780.0h28.41v4.9h-28.41zM960.75 667.0h28.41v3.4h-28.41zM960.75 682.0h28.41v4.4h-28.41zM960.75 704.0h28.41v3.4h-28.41zM960.75 719.0h28.41v3.4h-28.41zM960.75 743.0h28.41v6.4h-28.41zM960.75 755.0h28.41v2.9h-28.41zM960.75 763.5h28.41v1.9h-28.41zM960.75 774.5h28.41v3.4h-28.41zM988.71 774.5h28.41v3.4h-28.41zM1016.67 722.0h28.41v3.9h-28.41zM1016.67 728.5h28.41v3.4h-28.41zM1016.67 784.5h28.41v3.0h-28.41zM1044.62 682.0h28.41v4.4h-28.41zM1044.62 715.5h28.41v3.9h-28.41zM1044.62 728.5h28.41v3.4h-28.41zM1044.62 734.0h28.41v4.4h-28.41zM1072.58 731.5h28.41v2.9h-28.41zM1072.58 743.0h28.41v3.4h-28.41zM1072.58 760.5h28.41v3.4h-28.41zM1072.58 771.0h28.41v3.9h-28.41zM1072.58 780.0h28.41v1.9h-28.41zM1100.54 670.0h27.96v3.4h-27.96zM1100.54 767.0h27.96v1.9h-27.96zM1100.54 771.0h27.96v3.9h-27.96zM1100.54 780.0h27.96v1.9h-27.96zM172.42 792.0h28.42v2.4h-28.42zM172.42 798.0h28.42v2.4h-28.42zM200.39 792.0h28.42v2.4h-28.42zM200.39 806.0h28.42v3.9h-28.42zM228.36 840.0h28.42v3.4h-28.42zM256.33 906.0h28.42v3.4h-28.42zM256.33 914.5h28.42v2.0h-28.42zM284.31 820.0h28.42v1.9h-28.42zM284.31 848.0h28.42v3.4h-28.42zM284.31 877.5h28.42v3.9h-28.42zM284.31 892.0h28.42v4.4h-28.42zM284.31 901.0h28.42v3.9h-28.42zM284.31 914.5h28.42v2.0h-28.42zM312.28 790.0h28.42v2.4h-28.42zM312.28 901.0h28.42v3.9h-28.42zM312.28 912.0h28.42v2.9h-28.42zM340.25 816.0h28.42v1.9h-28.42zM340.25 906.0h28.42v3.4h-28.42zM396.19 845.0h28.42v3.4h-28.42zM480.11 790.0h28.42v2.4h-28.42zM480.11 802.0h28.42v2.4h-28.42zM480.11 816.0h28.42v1.9h-28.42zM508.08 816.0h28.42v1.9h-28.42zM508.08 820.0h28.42v1.9h-28.42zM508.08 843.0h28.42v2.4h-28.42zM508.08 901.0h28.42v3.9h-28.42zM508.08 912.0h28.42v2.9h-28.42zM536.06 790.0h28.42v2.4h-28.42zM536.06 851.0h28.42v3.4h-28.42zM650.86 824.5h28.38v3.4h-28.38zM706.71 804.0h28.38v2.4h-28.38zM734.64 864.0h28.38v2.9h-28.38zM734.64 912.0h28.38v2.9h-28.38zM762.57 806.0h27.93v6.9h-27.93zM762.57 821.5h27.93v3.4h-27.93zM762.57 827.5h27.93v3.4h-27.93zM762.57 832.5h27.93v3.9h-27.93zM762.57 866.5h27.93v2.9h-27.93zM762.57 887.0h27.93v3.4h-27.93zM762.57 896.0h27.93v1.9h-27.93zM793.00 881.0h28.41v4.4h-28.41zM820.96 790.0h28.41v2.4h-28.41zM820.96 800.0h28.41v2.4h-28.41zM820.96 873.0h28.41v3.4h-28.41zM848.92 843.0h28.41v2.4h-28.41zM848.92 881.0h28.41v4.4h-28.41zM904.83 864.0h28.41v2.9h-28.41zM932.79 794.0h28.41v4.4h-28.41zM988.71 851.0h28.41v3.4h-28.41zM988.71 864.0h28.41v2.9h-28.41zM1016.67 804.0h28.41v2.4h-28.41zM1016.67 832.5h28.41v3.9h-28.41zM1016.67 840.0h28.41v3.4h-28.41zM1016.67 866.5h28.41v2.9h-28.41zM1016.67 885.0h28.41v2.4h-28.41zM1016.67 892.0h28.41v4.4h-28.41zM1016.67 904.5h28.41v1.9h-28.41z"/>
<path fill="#1b0a05" d="M88.50 271.0h28.42v2.9h-28.42zM88.50 290.0h28.42v1.9h-28.42zM116.47 242.5h28.42v3.9h-28.42zM284.31 280.5h28.42v2.4h-28.42zM480.11 237.5h28.42v3.4h-28.42zM480.11 242.5h28.42v3.9h-28.42zM480.11 262.0h28.42v3.9h-28.42zM480.11 273.5h28.42v2.4h-28.42zM480.11 280.5h28.42v4.9h-28.42zM480.11 290.0h28.42v1.9h-28.42zM508.08 254.5h28.42v1.9h-28.42zM508.08 295.5h28.42v2.4h-28.42zM536.06 280.5h28.42v2.4h-28.42zM536.06 290.0h28.42v1.9h-28.42zM564.03 240.5h27.97v2.4h-27.97zM564.03 247.5h27.97v2.4h-27.97zM564.03 262.0h27.97v3.9h-27.97zM564.03 279.0h27.97v1.9h-27.97zM116.47 369.5h28.42v2.9h-28.42zM116.47 635.0h28.42v2.9h-28.42zM284.31 543.0h28.42v2.9h-28.42zM284.31 570.0h28.42v3.9h-28.42zM536.06 336.0h28.42v6.9h-28.42zM536.06 347.5h28.42v3.4h-28.42zM536.06 353.0h28.42v3.4h-28.42zM564.03 330.0h27.97v1.9h-27.97zM564.03 347.5h27.97v3.4h-27.97zM564.03 422.0h27.97v4.4h-27.97zM564.03 443.5h27.97v2.4h-27.97zM564.03 448.5h27.97v2.4h-27.97zM564.03 467.0h27.97v3.9h-27.97zM564.03 538.0h27.97v2.4h-27.97zM564.03 564.5h27.97v1.9h-27.97zM706.71 362.5h28.38v3.4h-28.38zM706.71 417.5h28.38v3.4h-28.38zM706.71 433.5h28.38v3.4h-28.38zM88.50 667.0h28.42v3.4h-28.42zM88.50 673.0h28.42v2.4h-28.42zM116.47 707.0h28.42v3.4h-28.42zM116.47 722.0h28.42v3.9h-28.42zM144.44 746.0h28.42v3.4h-28.42zM172.42 688.5h28.42v2.4h-28.42zM172.42 700.0h28.42v2.4h-28.42zM200.39 731.5h28.42v2.9h-28.42zM228.36 728.5h28.42v3.4h-28.42zM228.36 743.0h28.42v3.4h-28.42zM284.31 680.0h28.42v2.4h-28.42zM284.31 743.0h28.42v3.4h-28.42zM312.28 751.0h28.42v4.4h-28.42zM340.25 743.0h28.42v3.4h-28.42zM340.25 755.0h28.42v2.9h-28.42zM340.25 765.0h28.42v3.9h-28.42zM340.25 771.0h28.42v6.9h-28.42zM340.25 781.5h28.42v3.4h-28.42zM452.14 710.0h28.42v4.4h-28.42zM480.11 755.0h28.42v2.9h-28.42zM480.11 774.5h28.42v5.9h-28.42zM480.11 781.5h28.42v3.4h-28.42zM508.08 725.5h28.42v3.4h-28.42zM536.06 714.0h28.42v1.9h-28.42zM595.00 682.0h28.38v4.4h-28.38zM622.93 690.5h28.38v2.9h-28.38zM706.71 763.5h28.38v1.9h-28.38zM734.64 738.0h28.38v2.4h-28.38zM734.64 746.0h28.38v3.4h-28.38zM762.57 743.0h27.93v3.4h-27.93zM793.00 686.0h28.41v2.9h-28.41zM793.00 751.0h28.41v4.4h-28.41zM793.00 774.5h28.41v3.4h-28.41zM820.96 738.0h28.41v2.4h-28.41zM820.96 743.0h28.41v3.4h-28.41zM820.96 780.0h28.41v1.9h-28.41zM848.92 673.0h28.41v2.4h-28.41zM848.92 714.0h28.41v5.4h-28.41zM848.92 755.0h28.41v5.9h-28.41zM848.92 763.5h28.41v3.9h-28.41zM848.92 771.0h28.41v3.9h-28.41zM876.88 715.5h28.41v3.9h-28.41zM876.88 768.5h28.41v2.9h-28.41zM904.83 673.0h28.41v5.9h-28.41zM904.83 682.0h28.41v4.4h-28.41zM904.83 693.0h28.41v3.4h-28.41zM904.83 715.5h28.41v3.9h-28.41zM904.83 749.0h28.41v2.4h-28.41zM932.79 700.0h28.41v2.4h-28.41zM932.79 746.0h28.41v3.4h-28.41zM932.79 760.5h28.41v3.4h-28.41zM960.75 680.0h28.41v2.4h-28.41zM960.75 715.5h28.41v3.9h-28.41zM960.75 722.0h28.41v3.9h-28.41zM988.71 673.0h28.41v2.4h-28.41zM988.71 765.0h28.41v3.9h-28.41zM988.71 777.5h28.41v4.4h-28.41zM1016.67 673.0h28.41v2.4h-28.41zM1016.67 680.0h28.41v2.4h-28.41zM1016.67 704.0h28.41v3.4h-28.41zM1016.67 714.0h28.41v1.9h-28.41zM1016.67 731.5h28.41v2.9h-28.41zM1016.67 738.0h28.41v2.4h-28.41zM1016.67 751.0h28.41v4.4h-28.41zM1016.67 760.5h28.41v3.4h-28.41zM1016.67 781.5h28.41v3.4h-28.41zM1044.62 740.0h28.41v3.4h-28.41zM1044.62 751.0h28.41v4.4h-28.41zM1044.62 757.5h28.41v3.4h-28.41zM1072.58 686.0h28.41v2.9h-28.41zM1072.58 702.0h28.41v2.4h-28.41zM1072.58 746.0h28.41v5.4h-28.41zM1072.58 765.0h28.41v6.4h-28.41zM1100.54 678.5h27.96v1.9h-27.96zM1100.54 738.0h27.96v2.4h-27.96zM1100.54 749.0h27.96v2.4h-27.96zM1100.54 760.5h27.96v3.4h-27.96zM172.42 827.5h28.42v3.4h-28.42zM200.39 845.0h28.42v3.4h-28.42zM228.36 792.0h28.42v2.4h-28.42zM228.36 890.0h28.42v6.4h-28.42zM284.31 870.5h28.42v2.9h-28.42zM284.31 896.0h28.42v1.9h-28.42zM284.31 906.0h28.42v3.4h-28.42zM312.28 798.0h28.42v2.4h-28.42zM312.28 821.5h28.42v3.4h-28.42zM312.28 836.0h28.42v4.4h-28.42zM312.28 858.0h28.42v6.4h-28.42zM312.28 892.0h28.42v4.4h-28.42zM340.25 812.5h28.42v3.9h-28.42zM340.25 845.0h28.42v6.4h-28.42zM368.22 873.0h28.42v3.4h-28.42zM424.17 873.0h28.42v3.4h-28.42zM480.11 840.0h28.42v3.4h-28.42zM480.11 848.0h28.42v3.4h-28.42zM480.11 870.5h28.42v2.9h-28.42zM480.11 892.0h28.42v4.4h-28.42zM480.11 914.5h28.42v2.0h-28.42zM508.08 854.0h28.42v4.4h-28.42zM508.08 885.0h28.42v2.4h-28.42zM508.08 892.0h28.42v4.4h-28.42zM536.06 792.0h28.42v12.4h-28.42zM536.06 816.0h28.42v1.9h-28.42zM536.06 827.5h28.42v3.4h-28.42zM595.00 896.0h28.38v1.9h-28.38zM622.93 820.0h28.38v1.9h-28.38zM734.64 854.0h28.38v4.4h-28.38zM734.64 869.0h28.38v1.9h-28.38zM734.64 904.5h28.38v1.9h-28.38zM762.57 816.0h27.93v1.9h-27.93zM762.57 824.5h27.93v3.4h-27.93zM762.57 830.5h27.93v2.4h-27.93zM762.57 848.0h27.93v3.4h-27.93zM762.57 870.5h27.93v2.9h-27.93zM762.57 877.5h27.93v3.9h-27.93zM762.57 892.0h27.93v4.4h-27.93zM762.57 897.5h27.93v3.9h-27.93zM762.57 912.0h27.93v4.5h-27.93zM793.00 861.0h28.41v3.4h-28.41zM820.96 881.0h28.41v4.4h-28.41zM848.92 866.5h28.41v2.9h-28.41zM904.83 887.0h28.41v3.4h-28.41zM988.71 792.0h28.41v2.4h-28.41zM988.71 836.0h28.41v4.4h-28.41zM1016.67 792.0h28.41v2.4h-28.41zM1016.67 798.0h28.41v2.4h-28.41zM1016.67 873.0h28.41v3.4h-28.41zM1016.67 887.0h28.41v3.4h-28.41z"/>
<path fill="#240d06" d="M88.50 249.5h28.42v2.4h-28.42zM88.50 258.5h28.42v1.9h-28.42zM88.50 262.0h28.42v3.9h-28.42zM88.50 300.5h28.42v3.9h-28.42zM88.50 311.0h28.42v2.4h-28.42zM88.50 317.5h28.42v3.4h-28.42zM228.36 280.5h28.42v2.4h-28.42zM284.31 242.5h28.42v3.9h-28.42zM284.31 247.5h28.42v2.4h-28.42zM284.31 313.0h28.42v2.4h-28.42zM312.28 308.0h28.42v3.4h-28.42zM480.11 240.5h28.42v2.4h-28.42zM480.11 249.5h28.42v2.4h-28.42zM480.11 265.5h28.42v3.9h-28.42zM480.11 279.0h28.42v1.9h-28.42zM480.11 300.5h28.42v3.9h-28.42zM508.08 246.0h28.42v5.9h-28.42zM508.08 256.0h28.42v2.9h-28.42zM508.08 280.5h28.42v2.4h-28.42zM508.08 285.0h28.42v1.9h-28.42zM508.08 308.0h28.42v3.4h-28.42zM508.08 317.5h28.42v3.4h-28.42zM536.06 279.0h28.42v1.9h-28.42zM536.06 285.0h28.42v1.9h-28.42zM536.06 300.5h28.42v3.9h-28.42zM144.44 491.5h28.42v2.9h-28.42zM284.31 331.5h28.42v3.4h-28.42zM284.31 353.0h28.42v3.4h-28.42zM284.31 372.0h28.42v2.4h-28.42zM284.31 383.0h28.42v3.4h-28.42zM284.31 391.0h28.42v3.4h-28.42zM284.31 395.5h28.42v4.4h-28.42zM284.31 402.0h28.42v2.4h-28.42zM284.31 420.5h28.42v1.9h-28.42zM284.31 428.0h28.42v3.9h-28.42zM284.31 450.5h28.42v3.4h-28.42zM284.31 465.0h28.42v2.4h-28.42zM284.31 470.5h28.42v6.9h-28.42zM284.31 480.0h28.42v1.9h-28.42zM284.31 486.5h28.42v1.9h-28.42zM284.31 548.0h28.42v2.4h-28.42zM284.31 555.0h28.42v1.9h-28.42zM284.31 562.5h28.42v2.4h-28.42zM284.31 581.0h28.42v3.4h-28.42zM396.19 399.5h28.42v2.9h-28.42zM396.19 659.5h28.42v3.4h-28.42zM424.17 378.0h28.42v3.4h-28.42zM424.17 651.0h28.42v2.4h-28.42zM452.14 339.0h28.42v3.9h-28.42zM480.11 651.0h28.42v2.4h-28.42zM508.08 395.5h28.42v4.4h-28.42zM508.08 545.5h28.42v2.9h-28.42zM536.06 330.0h28.42v4.9h-28.42zM536.06 345.0h28.42v2.9h-28.42zM536.06 350.5h28.42v2.9h-28.42zM536.06 356.0h28.42v3.9h-28.42zM536.06 362.5h28.42v7.4h-28.42zM536.06 372.0h28.42v2.4h-28.42zM536.06 378.0h28.42v3.4h-28.42zM536.06 399.5h28.42v2.9h-28.42zM564.03 413.5h27.97v1.9h-27.97zM88.50 688.5h28.42v2.4h-28.42zM88.50 696.0h28.42v4.4h-28.42zM88.50 722.0h28.42v3.9h-28.42zM116.47 688.5h28.42v4.9h-28.42zM116.47 696.0h28.42v4.4h-28.42zM116.47 719.0h28.42v3.4h-28.42zM144.44 777.5h28.42v2.9h-28.42zM172.42 702.0h28.42v2.4h-28.42zM172.42 707.0h28.42v3.4h-28.42zM172.42 734.0h28.42v4.4h-28.42zM312.28 731.5h28.42v2.9h-28.42zM312.28 765.0h28.42v2.4h-28.42zM312.28 768.5h28.42v2.9h-28.42zM312.28 777.5h28.42v2.9h-28.42zM340.25 763.5h28.42v1.9h-28.42zM340.25 777.5h28.42v4.4h-28.42zM480.11 763.5h28.42v1.9h-28.42zM508.08 767.0h28.42v1.9h-28.42zM508.08 781.5h28.42v3.4h-28.42zM536.06 722.0h28.42v3.9h-28.42zM650.86 707.0h28.38v3.4h-28.38zM706.71 682.0h28.38v4.4h-28.38zM734.64 749.0h28.38v2.4h-28.38zM734.64 774.5h28.38v3.4h-28.38zM762.57 667.0h27.93v3.4h-27.93zM793.00 667.0h28.41v3.4h-28.41zM793.00 675.0h28.41v3.9h-28.41zM793.00 680.0h28.41v2.4h-28.41zM793.00 725.5h28.41v3.4h-28.41zM793.00 738.0h28.41v2.4h-28.41zM793.00 757.5h28.41v3.4h-28.41zM820.96 686.0h28.41v2.9h-28.41zM820.96 700.0h28.41v2.4h-28.41zM820.96 768.5h28.41v2.9h-28.41zM848.92 678.5h28.41v1.9h-28.41zM848.92 690.5h28.41v2.9h-28.41zM848.92 734.0h28.41v4.4h-28.41zM848.92 746.0h28.41v3.4h-28.41zM848.92 774.5h28.41v7.4h-28.41zM876.88 740.0h28.41v3.4h-28.41zM876.88 746.0h28.41v5.4h-28.41zM904.83 667.0h28.41v3.4h-28.41zM904.83 680.0h28.41v2.4h-28.41zM904.83 696.0h28.41v4.4h-28.41zM904.83 707.0h28.41v3.4h-28.41zM904.83 751.0h28.41v4.4h-28.41zM904.83 757.5h28.41v3.4h-28.41zM904.83 765.0h28.41v2.4h-28.41zM932.79 688.5h28.41v2.4h-28.41zM932.79 710.0h28.41v4.4h-28.41zM932.79 731.5h28.41v2.9h-28.41zM932.79 743.0h28.41v3.4h-28.41zM932.79 765.0h28.41v2.4h-28.41zM960.75 670.0h28.41v3.4h-28.41zM960.75 751.0h28.41v4.4h-28.41zM960.75 771.0h28.41v3.9h-28.41zM988.71 707.0h28.41v3.4h-28.41zM988.71 728.5h28.41v5.9h-28.41zM988.71 738.0h28.41v2.4h-28.41zM988.71 749.0h28.41v2.4h-28.41zM988.71 763.5h28.41v1.9h-28.41zM988.71 784.5h28.41v3.0h-28.41zM1016.67 686.0h28.41v2.9h-28.41zM1016.67 700.0h28.41v2.4h-28.41zM1016.67 746.0h28.41v3.4h-28.41zM1016.67 765.0h28.41v2.4h-28.41zM1016.67 771.0h28.41v3.9h-28.41zM1044.62 678.5h28.41v1.9h-28.41zM1072.58 688.5h28.41v2.4h-28.41zM1072.58 693.0h28.41v3.4h-28.41zM1072.58 738.0h28.41v5.4h-28.41zM1100.54 673.0h27.96v2.4h-27.96zM1100.54 728.5h27.96v3.4h-27.96zM1100.54 784.5h27.96v3.0h-27.96zM88.50 800.0h28.42v2.4h-28.42zM172.42 816.0h28.42v1.9h-28.42zM200.39 790.0h28.42v2.4h-28.42zM200.39 840.0h28.42v3.4h-28.42zM228.36 794.0h28.42v4.4h-28.42zM228.36 800.0h28.42v2.4h-28.42zM228.36 845.0h28.42v9.4h-28.42zM228.36 876.0h28.42v1.9h-28.42zM284.31 869.0h28.42v1.9h-28.42zM312.28 800.0h28.42v2.4h-28.42zM312.28 806.0h28.42v3.9h-28.42zM312.28 816.0h28.42v1.9h-28.42zM312.28 845.0h28.42v3.4h-28.42zM312.28 876.0h28.42v1.9h-28.42zM312.28 887.0h28.42v5.4h-28.42zM312.28 897.5h28.42v3.9h-28.42zM312.28 909.0h28.42v3.4h-28.42zM340.25 836.0h28.42v4.4h-28.42zM424.17 904.5h28.42v1.9h-28.42zM480.11 792.0h28.42v2.4h-28.42zM480.11 806.0h28.42v3.9h-28.42zM480.11 820.0h28.42v1.9h-28.42zM480.11 885.0h28.42v2.4h-28.42zM536.06 821.5h28.42v3.4h-28.42zM536.06 864.0h28.42v2.9h-28.42zM595.00 890.0h28.38v2.4h-28.38zM650.86 800.0h28.38v2.4h-28.38zM678.79 906.0h28.38v3.4h-28.38zM734.64 851.0h28.38v3.4h-28.38zM734.64 876.0h28.38v5.4h-28.38zM734.64 890.0h28.38v7.9h-28.38zM734.64 906.0h28.38v6.4h-28.38zM762.57 790.0h27.93v2.4h-27.93zM762.57 804.0h27.93v2.4h-27.93zM762.57 851.0h27.93v3.4h-27.93zM762.57 890.0h27.93v2.4h-27.93zM762.57 901.0h27.93v3.9h-27.93zM762.57 906.0h27.93v3.4h-27.93zM820.96 792.0h28.41v2.4h-28.41zM820.96 861.0h28.41v3.4h-28.41zM820.96 885.0h28.41v2.4h-28.41zM876.88 836.0h28.41v4.4h-28.41zM1016.67 854.0h28.41v4.4h-28.41z"/>
<path fill="#2e0f06" d="M88.50 247.5h28.42v2.4h-28.42zM88.50 265.5h28.42v3.9h-28.42zM88.50 273.5h28.42v2.4h-28.42zM88.50 295.5h28.42v2.4h-28.42zM88.50 306.0h28.42v2.4h-28.42zM88.50 320.5h28.42v2.4h-28.42zM116.47 237.5h28.42v3.4h-28.42zM200.39 242.5h28.42v3.9h-28.42zM228.36 271.0h28.42v2.9h-28.42zM228.36 282.5h28.42v2.9h-28.42zM228.36 290.0h28.42v1.9h-28.42zM256.33 304.0h28.42v2.4h-28.42zM284.31 254.5h28.42v1.9h-28.42zM284.31 260.0h28.42v2.4h-28.42zM284.31 265.5h28.42v3.9h-28.42zM284.31 285.0h28.42v1.9h-28.42zM284.31 317.5h28.42v3.4h-28.42zM396.19 256.0h28.42v2.9h-28.42zM396.19 286.5h28.42v3.9h-28.42zM424.17 313.0h28.42v2.4h-28.42zM424.17 322.5h28.42v2.5h-28.42zM480.11 247.5h28.42v2.4h-28.42zM480.11 254.5h28.42v1.9h-28.42zM508.08 237.5h28.42v3.4h-28.42zM508.08 258.5h28.42v7.4h-28.42zM508.08 271.0h28.42v2.9h-28.42zM508.08 279.0h28.42v1.9h-28.42zM508.08 290.0h28.42v1.9h-28.42zM508.08 300.5h28.42v3.9h-28.42zM508.08 306.0h28.42v2.4h-28.42zM508.08 313.0h28.42v2.4h-28.42zM508.08 320.5h28.42v2.4h-28.42zM564.03 242.5h27.97v3.9h-27.97zM564.03 280.5h27.97v2.4h-27.97zM564.03 304.0h27.97v2.4h-27.97zM88.50 407.0h28.42v4.4h-28.42zM116.47 331.5h28.42v3.4h-28.42zM116.47 339.0h28.42v3.9h-28.42zM116.47 450.5h28.42v3.4h-28.42zM116.47 570.0h28.42v3.9h-28.42zM116.47 595.5h28.42v3.9h-28.42zM172.42 515.5h28.42v2.4h-28.42zM228.36 339.0h28.42v3.9h-28.42zM228.36 353.0h28.42v3.4h-28.42zM228.36 359.5h28.42v3.4h-28.42zM228.36 372.0h28.42v6.4h-28.42zM256.33 440.0h28.42v2.4h-28.42zM256.33 656.0h28.42v3.9h-28.42zM284.31 327.5h28.42v2.9h-28.42zM284.31 334.5h28.42v1.9h-28.42zM284.31 339.0h28.42v6.4h-28.42zM284.31 359.5h28.42v3.4h-28.42zM284.31 365.5h28.42v4.4h-28.42zM284.31 374.0h28.42v9.4h-28.42zM284.31 386.0h28.42v5.4h-28.42zM284.31 399.5h28.42v2.9h-28.42zM284.31 407.0h28.42v4.4h-28.42zM284.31 415.0h28.42v2.9h-28.42zM284.31 422.0h28.42v4.4h-28.42zM284.31 431.5h28.42v10.9h-28.42zM284.31 453.5h28.42v4.4h-28.42zM284.31 461.5h28.42v3.9h-28.42zM284.31 467.0h28.42v3.9h-28.42zM284.31 481.5h28.42v5.4h-28.42zM284.31 488.0h28.42v1.9h-28.42zM284.31 491.5h28.42v2.9h-28.42zM284.31 509.5h28.42v2.4h-28.42zM284.31 521.0h28.42v1.9h-28.42zM284.31 538.0h28.42v2.4h-28.42zM284.31 545.5h28.42v2.9h-28.42zM284.31 553.0h28.42v2.4h-28.42zM284.31 556.5h28.42v6.4h-28.42zM284.31 566.0h28.42v2.9h-28.42zM284.31 584.0h28.42v1.9h-28.42zM284.31 599.0h28.42v3.4h-28.42zM284.31 609.0h28.42v3.4h-28.42zM284.31 619.0h28.42v2.4h-28.42zM284.31 631.5h28.42v6.4h-28.42zM284.31 649.0h28.42v2.4h-28.42zM284.31 662.5h28.42v2.0h-28.42zM368.22 433.5h28.42v3.4h-28.42zM396.19 339.0h28.42v3.9h-28.42zM396.19 631.5h28.42v2.4h-28.42zM396.19 649.0h28.42v4.4h-28.42zM424.17 353.0h28.42v3.4h-28.42zM424.17 359.5h28.42v3.4h-28.42zM424.17 372.0h28.42v2.4h-28.42zM424.17 386.0h28.42v5.4h-28.42zM424.17 515.5h28.42v2.4h-28.42zM424.17 624.5h28.42v7.4h-28.42zM424.17 633.5h28.42v4.4h-28.42zM424.17 640.5h28.42v3.9h-28.42zM424.17 656.0h28.42v8.5h-28.42zM452.14 331.5h28.42v3.4h-28.42zM452.14 356.0h28.42v3.9h-28.42zM452.14 365.5h28.42v4.4h-28.42zM480.11 327.5h28.42v2.9h-28.42zM480.11 331.5h28.42v3.4h-28.42zM480.11 339.0h28.42v3.9h-28.42zM480.11 353.0h28.42v3.4h-28.42zM480.11 359.5h28.42v3.4h-28.42zM480.11 369.5h28.42v2.9h-28.42zM480.11 378.0h28.42v5.4h-28.42zM480.11 389.0h28.42v2.4h-28.42zM480.11 415.0h28.42v2.9h-28.42zM480.11 420.5h28.42v1.9h-28.42zM480.11 431.5h28.42v6.9h-28.42zM480.11 442.0h28.42v1.9h-28.42zM480.11 450.5h28.42v3.4h-28.42zM480.11 502.5h28.42v3.4h-28.42zM480.11 511.5h28.42v4.4h-28.42zM480.11 521.0h28.42v1.9h-28.42zM480.11 545.5h28.42v4.9h-28.42zM480.11 555.0h28.42v1.9h-28.42zM480.11 573.5h28.42v6.4h-28.42zM480.11 584.0h28.42v1.9h-28.42zM480.11 592.5h28.42v3.4h-28.42zM480.11 615.5h28.42v5.9h-28.42zM480.11 628.0h28.42v3.9h-28.42zM480.11 635.0h28.42v2.9h-28.42zM480.11 640.5h28.42v3.9h-28.42zM480.11 649.0h28.42v2.4h-28.42zM508.08 420.5h28.42v1.9h-28.42zM508.08 553.0h28.42v2.4h-28.42zM508.08 576.5h28.42v3.4h-28.42zM508.08 581.0h28.42v3.4h-28.42zM508.08 619.0h28.42v2.4h-28.42zM536.06 327.5h28.42v2.9h-28.42zM536.06 334.5h28.42v1.9h-28.42zM536.06 359.5h28.42v3.4h-28.42zM536.06 369.5h28.42v2.9h-28.42zM536.06 389.0h28.42v5.4h-28.42zM536.06 395.5h28.42v4.4h-28.42zM536.06 404.0h28.42v3.4h-28.42zM536.06 411.0h28.42v2.9h-28.42zM536.06 420.5h28.42v1.9h-28.42zM536.06 433.5h28.42v3.4h-28.42zM536.06 438.0h28.42v2.4h-28.42zM536.06 445.5h28.42v8.4h-28.42zM536.06 465.0h28.42v2.4h-28.42zM536.06 595.5h28.42v3.9h-28.42zM88.50 670.0h28.42v3.4h-28.42zM88.50 680.0h28.42v2.4h-28.42zM88.50 690.5h28.42v2.9h-28.42zM88.50 700.0h28.42v2.4h-28.42zM88.50 707.0h28.42v3.4h-28.42zM116.47 704.0h28.42v3.4h-28.42zM116.47 715.5h28.42v3.9h-28.42zM172.42 740.0h28.42v3.4h-28.42zM312.28 771.0h28.42v3.9h-28.42zM536.06 719.0h28.42v3.4h-28.42zM536.06 725.5h28.42v3.4h-28.42zM622.93 678.5h28.38v1.9h-28.38zM650.86 688.5h28.38v2.4h-28.38zM706.71 670.0h28.38v3.4h-28.38zM706.71 704.0h28.38v3.4h-28.38zM706.71 710.0h28.38v4.4h-28.38zM706.71 719.0h28.38v3.4h-28.38zM706.71 755.0h28.38v2.9h-28.38zM734.64 731.5h28.38v2.9h-28.38zM734.64 767.0h28.38v1.9h-28.38zM734.64 777.5h28.38v4.4h-28.38zM734.64 784.5h28.38v3.0h-28.38zM762.57 704.0h27.93v3.4h-27.93zM762.57 728.5h27.93v3.4h-27.93zM762.57 734.0h27.93v4.4h-27.93zM793.00 690.5h28.41v2.9h-28.41zM793.00 728.5h28.41v3.4h-28.41zM820.96 678.5h28.41v1.9h-28.41zM820.96 722.0h28.41v3.9h-28.41zM848.92 680.0h28.41v2.4h-28.41zM848.92 686.0h28.41v2.9h-28.41zM876.88 673.0h28.41v5.9h-28.41zM876.88 686.0h28.41v2.9h-28.41zM876.88 690.5h28.41v2.9h-28.41zM876.88 734.0h28.41v6.4h-28.41zM876.88 755.0h28.41v5.9h-28.41zM904.83 686.0h28.41v2.9h-28.41zM904.83 725.5h28.41v6.4h-28.41zM904.83 743.0h28.41v3.4h-28.41zM932.79 693.0h28.41v3.4h-28.41zM932.79 714.0h28.41v1.9h-28.41zM932.79 749.0h28.41v2.4h-28.41zM932.79 768.5h28.41v2.9h-28.41zM988.71 667.0h28.41v3.4h-28.41zM988.71 675.0h28.41v3.9h-28.41zM988.71 700.0h28.41v2.4h-28.41zM988.71 710.0h28.41v4.4h-28.41zM988.71 722.0h28.41v3.9h-28.41zM988.71 734.0h28.41v4.4h-28.41zM988.71 743.0h28.41v3.4h-28.41zM988.71 760.5h28.41v3.4h-28.41zM988.71 771.0h28.41v3.9h-28.41zM988.71 781.5h28.41v3.4h-28.41zM1016.67 670.0h28.41v3.4h-28.41zM1016.67 675.0h28.41v3.9h-28.41zM1016.67 696.0h28.41v4.4h-28.41zM1016.67 707.0h28.41v3.4h-28.41zM1072.58 704.0h28.41v3.4h-28.41zM1072.58 751.0h28.41v4.4h-28.41zM1072.58 757.5h28.41v3.4h-28.41zM1100.54 751.0h27.96v4.4h-27.96zM1100.54 757.5h27.96v3.4h-27.96zM1100.54 774.5h27.96v3.4h-27.96zM1100.54 781.5h27.96v3.4h-27.96zM88.50 794.0h28.42v4.4h-28.42zM144.44 840.0h28.42v3.4h-28.42zM144.44 881.0h28.42v4.4h-28.42zM172.42 790.0h28.42v2.4h-28.42zM172.42 806.0h28.42v3.9h-28.42zM172.42 821.5h28.42v3.4h-28.42zM172.42 848.0h28.42v3.4h-28.42zM172.42 864.0h28.42v2.9h-28.42zM200.39 864.0h28.42v2.9h-28.42zM228.36 827.5h28.42v3.4h-28.42zM284.31 876.0h28.42v1.9h-28.42zM284.31 885.0h28.42v2.4h-28.42zM312.28 812.5h28.42v3.9h-28.42zM312.28 830.5h28.42v2.4h-28.42zM312.28 866.5h28.42v2.9h-28.42zM312.28 881.0h28.42v6.4h-28.42zM340.25 854.0h28.42v4.4h-28.42zM480.11 851.0h28.42v3.4h-28.42zM480.11 858.0h28.42v3.4h-28.42zM480.11 866.5h28.42v2.9h-28.42zM480.11 876.0h28.42v1.9h-28.42zM480.11 912.0h28.42v2.9h-28.42zM508.08 887.0h28.42v3.4h-28.42zM508.08 906.0h28.42v6.4h-28.42zM536.06 820.0h28.42v1.9h-28.42zM622.93 798.0h28.38v2.4h-28.38zM650.86 830.5h28.38v2.4h-28.38zM650.86 877.5h28.38v7.9h-28.38zM650.86 904.5h28.38v1.9h-28.38zM650.86 909.0h28.38v3.4h-28.38zM650.86 914.5h28.38v2.0h-28.38zM678.79 816.0h28.38v1.9h-28.38zM762.57 794.0h27.93v4.4h-27.93zM762.57 800.0h27.93v2.4h-27.93zM762.57 861.0h27.93v5.9h-27.93zM762.57 904.5h27.93v1.9h-27.93zM820.96 877.5h28.41v3.9h-28.41zM820.96 887.0h28.41v3.4h-28.41zM848.92 861.0h28.41v3.4h-28.41zM932.79 792.0h28.41v2.4h-28.41zM1016.67 800.0h28.41v4.4h-28.41z"/>
<path fill="#381107" d="M88.50 237.5h28.42v3.4h-28.42zM88.50 246.0h28.42v1.9h-28.42zM88.50 254.5h28.42v1.9h-28.42zM88.50 260.0h28.42v2.4h-28.42zM88.50 279.0h28.42v1.9h-28.42zM88.50 308.0h28.42v3.4h-28.42zM88.50 315.0h28.42v2.9h-28.42zM116.47 290.0h28.42v1.9h-28.42zM116.47 297.5h28.42v3.4h-28.42zM144.44 311.0h28.42v2.4h-28.42zM172.42 251.5h28.42v3.4h-28.42zM200.39 249.5h28.42v2.4h-28.42zM200.39 306.0h28.42v2.4h-28.42zM200.39 317.5h28.42v3.4h-28.42zM228.36 285.0h28.42v1.9h-28.42zM228.36 300.5h28.42v3.9h-28.42zM256.33 254.5h28.42v1.9h-28.42zM256.33 290.0h28.42v1.9h-28.42zM256.33 308.0h28.42v5.4h-28.42zM284.31 237.5h28.42v5.4h-28.42zM284.31 249.5h28.42v2.4h-28.42zM284.31 271.0h28.42v2.9h-28.42zM284.31 279.0h28.42v1.9h-28.42zM284.31 282.5h28.42v2.9h-28.42zM284.31 290.0h28.42v1.9h-28.42zM284.31 300.5h28.42v3.9h-28.42zM284.31 311.0h28.42v2.4h-28.42zM284.31 320.5h28.42v2.4h-28.42zM340.25 304.0h28.42v2.4h-28.42zM396.19 300.5h28.42v3.9h-28.42zM396.19 308.0h28.42v3.4h-28.42zM424.17 247.5h28.42v2.4h-28.42zM424.17 251.5h28.42v3.4h-28.42zM424.17 275.5h28.42v3.9h-28.42zM424.17 290.0h28.42v1.9h-28.42zM480.11 246.0h28.42v1.9h-28.42zM480.11 251.5h28.42v3.4h-28.42zM480.11 269.0h28.42v2.4h-28.42zM508.08 242.5h28.42v3.9h-28.42zM508.08 265.5h28.42v3.9h-28.42zM508.08 297.5h28.42v3.4h-28.42zM508.08 311.0h28.42v2.4h-28.42zM508.08 315.0h28.42v2.9h-28.42zM536.06 286.5h28.42v3.9h-28.42zM536.06 291.5h28.42v2.9h-28.42zM564.03 260.0h27.97v2.4h-27.97zM564.03 269.0h27.97v2.4h-27.97zM564.03 275.5h27.97v3.9h-27.97zM116.47 330.0h28.42v1.9h-28.42zM116.47 342.5h28.42v5.4h-28.42zM116.47 372.0h28.42v9.4h-28.42zM116.47 389.0h28.42v2.4h-28.42zM116.47 395.5h28.42v4.4h-28.42zM116.47 404.0h28.42v3.4h-28.42zM116.47 422.0h28.42v4.4h-28.42zM116.47 433.5h28.42v3.4h-28.42zM116.47 442.0h28.42v1.9h-28.42zM116.47 470.5h28.42v6.9h-28.42zM116.47 491.5h28.42v2.9h-28.42zM116.47 548.0h28.42v2.4h-28.42zM116.47 562.5h28.42v2.4h-28.42zM116.47 581.0h28.42v4.9h-28.42zM116.47 592.5h28.42v3.4h-28.42zM144.44 605.5h28.42v3.9h-28.42zM228.36 327.5h28.42v8.9h-28.42zM228.36 342.5h28.42v2.9h-28.42zM228.36 356.0h28.42v3.9h-28.42zM228.36 378.0h28.42v3.4h-28.42zM228.36 391.0h28.42v3.4h-28.42zM228.36 395.5h28.42v4.4h-28.42zM228.36 420.5h28.42v1.9h-28.42zM256.33 399.5h28.42v2.9h-28.42zM284.31 336.0h28.42v3.4h-28.42zM284.31 347.5h28.42v3.4h-28.42zM284.31 356.0h28.42v3.9h-28.42zM284.31 369.5h28.42v2.9h-28.42zM284.31 394.0h28.42v1.9h-28.42zM284.31 413.5h28.42v1.9h-28.42zM284.31 417.5h28.42v3.4h-28.42zM284.31 426.0h28.42v2.4h-28.42zM284.31 442.0h28.42v8.9h-28.42zM284.31 457.5h28.42v4.4h-28.42zM284.31 477.0h28.42v3.4h-28.42zM284.31 489.5h28.42v2.4h-28.42zM284.31 494.0h28.42v8.9h-28.42zM284.31 507.5h28.42v2.4h-28.42zM284.31 511.5h28.42v9.9h-28.42zM284.31 527.0h28.42v7.4h-28.42zM284.31 540.0h28.42v3.4h-28.42zM284.31 550.0h28.42v3.4h-28.42zM284.31 564.5h28.42v1.9h-28.42zM284.31 568.5h28.42v1.9h-28.42zM284.31 573.5h28.42v6.4h-28.42zM284.31 589.5h28.42v6.4h-28.42zM284.31 602.0h28.42v7.4h-28.42zM284.31 612.0h28.42v3.9h-28.42zM284.31 624.5h28.42v7.4h-28.42zM284.31 640.5h28.42v6.4h-28.42zM284.31 653.0h28.42v3.4h-28.42zM284.31 659.5h28.42v3.4h-28.42zM312.28 433.5h28.42v3.4h-28.42zM396.19 331.5h28.42v3.4h-28.42zM396.19 336.0h28.42v3.4h-28.42zM396.19 570.0h28.42v3.9h-28.42zM396.19 602.0h28.42v3.9h-28.42zM396.19 609.0h28.42v6.9h-28.42zM396.19 619.0h28.42v2.4h-28.42zM396.19 624.5h28.42v7.4h-28.42zM396.19 633.5h28.42v4.4h-28.42zM396.19 640.5h28.42v3.9h-28.42zM396.19 653.0h28.42v1.9h-28.42zM396.19 656.0h28.42v3.9h-28.42zM396.19 662.5h28.42v2.0h-28.42zM424.17 330.0h28.42v4.9h-28.42zM424.17 336.0h28.42v3.4h-28.42zM424.17 350.5h28.42v2.9h-28.42zM424.17 356.0h28.42v3.9h-28.42zM424.17 374.0h28.42v4.4h-28.42zM424.17 383.0h28.42v3.4h-28.42zM424.17 391.0h28.42v3.4h-28.42zM424.17 395.5h28.42v4.4h-28.42zM424.17 402.0h28.42v5.4h-28.42zM424.17 450.5h28.42v3.4h-28.42zM424.17 465.0h28.42v2.4h-28.42zM424.17 484.0h28.42v2.9h-28.42zM424.17 491.5h28.42v6.4h-28.42zM424.17 501.0h28.42v1.9h-28.42zM424.17 505.5h28.42v4.4h-28.42zM424.17 511.5h28.42v4.4h-28.42zM424.17 517.5h28.42v3.9h-28.42zM424.17 527.0h28.42v2.4h-28.42zM424.17 531.0h28.42v3.4h-28.42zM424.17 538.0h28.42v2.4h-28.42zM424.17 545.5h28.42v4.9h-28.42zM424.17 553.0h28.42v3.9h-28.42zM424.17 559.5h28.42v5.4h-28.42zM424.17 566.0h28.42v2.9h-28.42zM424.17 576.5h28.42v3.4h-28.42zM424.17 581.0h28.42v4.9h-28.42zM424.17 612.0h28.42v12.9h-28.42zM424.17 631.5h28.42v2.4h-28.42zM424.17 637.5h28.42v3.4h-28.42zM424.17 649.0h28.42v2.4h-28.42zM452.14 327.5h28.42v4.4h-28.42zM452.14 336.0h28.42v3.4h-28.42zM452.14 342.5h28.42v2.9h-28.42zM452.14 347.5h28.42v8.9h-28.42zM452.14 359.5h28.42v6.4h-28.42zM452.14 372.0h28.42v2.4h-28.42zM452.14 402.0h28.42v2.4h-28.42zM452.14 415.0h28.42v2.9h-28.42zM452.14 420.5h28.42v1.9h-28.42zM452.14 436.5h28.42v1.9h-28.42zM452.14 450.5h28.42v3.4h-28.42zM452.14 486.5h28.42v1.9h-28.42zM452.14 570.0h28.42v3.9h-28.42zM452.14 595.5h28.42v3.9h-28.42zM452.14 602.0h28.42v3.9h-28.42zM452.14 612.0h28.42v3.9h-28.42zM452.14 619.0h28.42v2.4h-28.42zM452.14 631.5h28.42v2.4h-28.42zM452.14 644.0h28.42v2.9h-28.42zM452.14 656.0h28.42v3.9h-28.42zM480.11 330.0h28.42v1.9h-28.42zM480.11 336.0h28.42v3.4h-28.42zM480.11 342.5h28.42v10.9h-28.42zM480.11 356.0h28.42v3.9h-28.42zM480.11 372.0h28.42v2.4h-28.42zM480.11 383.0h28.42v3.4h-28.42zM480.11 394.0h28.42v1.9h-28.42zM480.11 402.0h28.42v5.4h-28.42zM480.11 422.0h28.42v4.4h-28.42zM480.11 428.0h28.42v3.9h-28.42zM480.11 438.0h28.42v2.4h-28.42zM480.11 445.5h28.42v5.4h-28.42zM480.11 455.5h28.42v2.4h-28.42zM480.11 465.0h28.42v2.4h-28.42zM480.11 470.5h28.42v6.9h-28.42zM480.11 484.0h28.42v2.9h-28.42zM480.11 489.5h28.42v4.9h-28.42zM480.11 515.5h28.42v5.9h-28.42zM480.11 524.5h28.42v9.9h-28.42zM480.11 538.0h28.42v7.9h-28.42zM480.11 553.0h28.42v2.4h-28.42zM480.11 559.5h28.42v6.9h-28.42zM480.11 568.5h28.42v5.4h-28.42zM480.11 579.5h28.42v4.9h-28.42zM480.11 595.5h28.42v6.9h-28.42zM480.11 612.0h28.42v3.9h-28.42zM480.11 621.0h28.42v7.4h-28.42zM480.11 631.5h28.42v3.9h-28.42zM480.11 637.5h28.42v3.4h-28.42zM480.11 653.0h28.42v1.9h-28.42zM480.11 656.0h28.42v6.9h-28.42zM508.08 359.5h28.42v3.4h-28.42zM508.08 365.5h28.42v4.4h-28.42zM508.08 372.0h28.42v6.4h-28.42zM508.08 383.0h28.42v3.4h-28.42zM508.08 389.0h28.42v5.4h-28.42zM508.08 404.0h28.42v3.4h-28.42zM508.08 436.5h28.42v3.9h-28.42zM508.08 450.5h28.42v3.4h-28.42zM508.08 489.5h28.42v2.4h-28.42zM508.08 502.5h28.42v3.4h-28.42zM508.08 515.5h28.42v2.4h-28.42zM508.08 522.5h28.42v2.4h-28.42zM508.08 534.0h28.42v4.4h-28.42zM508.08 543.0h28.42v2.9h-28.42zM508.08 550.0h28.42v3.4h-28.42zM508.08 555.0h28.42v1.9h-28.42zM508.08 566.0h28.42v2.9h-28.42zM508.08 570.0h28.42v6.9h-28.42zM508.08 584.0h28.42v1.9h-28.42zM508.08 602.0h28.42v3.9h-28.42zM508.08 609.0h28.42v6.9h-28.42zM508.08 633.5h28.42v1.9h-28.42zM508.08 640.5h28.42v6.4h-28.42zM508.08 651.0h28.42v2.4h-28.42zM508.08 656.0h28.42v3.9h-28.42zM508.08 662.5h28.42v2.0h-28.42zM536.06 374.0h28.42v4.4h-28.42zM536.06 383.0h28.42v6.4h-28.42zM536.06 407.0h28.42v4.4h-28.42zM536.06 417.5h28.42v3.4h-28.42zM536.06 422.0h28.42v11.9h-28.42zM536.06 436.5h28.42v1.9h-28.42zM536.06 440.0h28.42v3.9h-28.42zM536.06 467.0h28.42v3.9h-28.42zM536.06 473.5h28.42v3.9h-28.42zM536.06 481.5h28.42v2.9h-28.42zM536.06 486.5h28.42v5.4h-28.42zM536.06 494.0h28.42v3.9h-28.42zM536.06 515.5h28.42v2.4h-28.42zM536.06 522.5h28.42v2.4h-28.42zM536.06 548.0h28.42v2.4h-28.42zM536.06 570.0h28.42v3.9h-28.42zM536.06 599.0h28.42v10.4h-28.42zM536.06 624.5h28.42v3.9h-28.42zM536.06 637.5h28.42v3.4h-28.42zM88.50 704.0h28.42v3.4h-28.42zM88.50 728.5h28.42v3.4h-28.42zM116.47 693.0h28.42v3.4h-28.42zM116.47 702.0h28.42v2.4h-28.42zM116.47 714.0h28.42v1.9h-28.42zM172.42 743.0h28.42v3.4h-28.42zM312.28 738.0h28.42v2.4h-28.42zM312.28 763.5h28.42v1.9h-28.42zM312.28 784.5h28.42v3.0h-28.42zM340.25 768.5h28.42v2.9h-28.42zM340.25 784.5h28.42v3.0h-28.42zM480.11 751.0h28.42v4.4h-28.42zM508.08 763.5h28.42v1.9h-28.42zM622.93 673.0h28.38v2.4h-28.38zM706.71 675.0h28.38v3.9h-28.38zM734.64 765.0h28.38v2.4h-28.38zM734.64 781.5h28.38v3.4h-28.38zM793.00 734.0h28.41v4.4h-28.41zM820.96 696.0h28.41v4.4h-28.41zM820.96 707.0h28.41v3.4h-28.41zM820.96 725.5h28.41v3.4h-28.41zM820.96 740.0h28.41v3.4h-28.41zM848.92 682.0h28.41v4.4h-28.41zM848.92 696.0h28.41v4.4h-28.41zM848.92 784.5h28.41v3.0h-28.41zM876.88 700.0h28.41v2.4h-28.41zM876.88 722.0h28.41v3.9h-28.41zM876.88 731.5h28.41v2.9h-28.41zM904.83 734.0h28.41v6.4h-28.41zM904.83 755.0h28.41v2.9h-28.41zM932.79 678.5h28.41v1.9h-28.41zM932.79 722.0h28.41v3.9h-28.41zM932.79 734.0h28.41v4.4h-28.41zM932.79 755.0h28.41v2.9h-28.41zM960.75 678.5h28.41v1.9h-28.41zM960.75 710.0h28.41v4.4h-28.41zM988.71 714.0h28.41v1.9h-28.41zM1016.67 682.0h28.41v4.4h-28.41zM1016.67 690.5h28.41v5.9h-28.41zM1016.67 710.0h28.41v4.4h-28.41zM1016.67 755.0h28.41v2.9h-28.41zM1016.67 774.5h28.41v3.4h-28.41zM1072.58 781.5h28.41v3.4h-28.41zM88.50 790.0h28.42v4.4h-28.42zM88.50 821.5h28.42v3.4h-28.42zM144.44 845.0h28.42v3.4h-28.42zM144.44 877.5h28.42v3.9h-28.42zM144.44 885.0h28.42v2.4h-28.42zM144.44 892.0h28.42v4.4h-28.42zM172.42 800.0h28.42v2.4h-28.42zM172.42 804.0h28.42v2.4h-28.42zM172.42 840.0h28.42v3.4h-28.42zM200.39 794.0h28.42v4.4h-28.42zM200.39 816.0h28.42v1.9h-28.42zM200.39 851.0h28.42v3.4h-28.42zM200.39 858.0h28.42v3.4h-28.42zM200.39 870.5h28.42v2.9h-28.42zM200.39 914.5h28.42v2.0h-28.42zM228.36 798.0h28.42v2.4h-28.42zM228.36 824.5h28.42v3.4h-28.42zM228.36 836.0h28.42v4.4h-28.42zM228.36 843.0h28.42v2.4h-28.42zM228.36 861.0h28.42v5.9h-28.42zM284.31 866.5h28.42v2.9h-28.42zM284.31 873.0h28.42v3.4h-28.42zM284.31 881.0h28.42v4.4h-28.42zM284.31 887.0h28.42v3.4h-28.42zM312.28 804.0h28.42v2.4h-28.42zM312.28 827.5h28.42v3.4h-28.42zM312.28 840.0h28.42v3.4h-28.42zM312.28 906.0h28.42v3.4h-28.42zM340.25 820.0h28.42v1.9h-28.42zM480.11 798.0h28.42v4.4h-28.42zM480.11 809.5h28.42v3.4h-28.42zM480.11 869.0h28.42v1.9h-28.42zM480.11 881.0h28.42v4.4h-28.42zM480.11 890.0h28.42v2.4h-28.42zM480.11 897.5h28.42v3.9h-28.42zM480.11 909.0h28.42v3.4h-28.42zM508.08 881.0h28.42v4.4h-28.42zM508.08 904.5h28.42v1.9h-28.42zM536.06 809.5h28.42v3.4h-28.42zM595.00 887.0h28.38v3.4h-28.38zM595.00 901.0h28.38v3.9h-28.38zM595.00 906.0h28.38v3.4h-28.38zM622.93 800.0h28.38v2.4h-28.38zM622.93 909.0h28.38v3.4h-28.38zM622.93 914.5h28.38v2.0h-28.38zM650.86 851.0h28.38v3.4h-28.38zM650.86 870.5h28.38v2.9h-28.38zM650.86 892.0h28.38v4.4h-28.38zM678.79 892.0h28.38v4.4h-28.38zM734.64 858.0h28.38v3.4h-28.38zM734.64 866.5h28.38v2.9h-28.38zM734.64 897.5h28.38v3.9h-28.38zM762.57 802.0h27.93v2.4h-27.93zM762.57 812.5h27.93v3.9h-27.93zM762.57 881.0h27.93v6.4h-27.93zM1016.67 836.0h28.41v4.4h-28.41z"/>
<path fill="#421308" d="M88.50 282.5h28.42v2.9h-28.42zM88.50 297.5h28.42v3.4h-28.42zM88.50 313.0h28.42v2.4h-28.42zM116.47 249.5h28.42v2.4h-28.42zM144.44 290.0h28.42v1.9h-28.42zM172.42 260.0h28.42v2.4h-28.42zM172.42 285.0h28.42v1.9h-28.42zM200.39 271.0h28.42v2.9h-28.42zM200.39 290.0h28.42v1.9h-28.42zM200.39 304.0h28.42v2.4h-28.42zM200.39 308.0h28.42v5.4h-28.42zM200.39 315.0h28.42v2.9h-28.42zM200.39 320.5h28.42v2.4h-28.42zM228.36 237.5h28.42v3.4h-28.42zM228.36 256.0h28.42v2.9h-28.42zM228.36 265.5h28.42v3.9h-28.42zM228.36 295.5h28.42v5.4h-28.42zM228.36 304.0h28.42v2.4h-28.42zM228.36 317.5h28.42v3.4h-28.42zM228.36 322.5h28.42v2.5h-28.42zM256.33 240.5h28.42v2.4h-28.42zM256.33 271.0h28.42v2.9h-28.42zM284.31 258.5h28.42v1.9h-28.42zM284.31 269.0h28.42v2.4h-28.42zM284.31 273.5h28.42v5.9h-28.42zM284.31 306.0h28.42v2.4h-28.42zM284.31 315.0h28.42v2.9h-28.42zM312.28 290.0h28.42v1.9h-28.42zM312.28 300.5h28.42v3.9h-28.42zM424.17 237.5h28.42v3.4h-28.42zM424.17 242.5h28.42v3.9h-28.42zM424.17 249.5h28.42v2.4h-28.42zM424.17 256.0h28.42v2.9h-28.42zM424.17 271.0h28.42v2.9h-28.42zM424.17 285.0h28.42v1.9h-28.42zM424.17 291.5h28.42v2.9h-28.42zM424.17 317.5h28.42v3.4h-28.42zM480.11 258.5h28.42v1.9h-28.42zM480.11 291.5h28.42v2.9h-28.42zM480.11 295.5h28.42v2.4h-28.42zM480.11 304.0h28.42v2.4h-28.42zM480.11 317.5h28.42v3.4h-28.42zM508.08 269.0h28.42v2.4h-28.42zM508.08 273.5h28.42v5.9h-28.42zM508.08 282.5h28.42v2.9h-28.42zM508.08 294.0h28.42v1.9h-28.42zM508.08 322.5h28.42v2.5h-28.42zM536.06 237.5h28.42v3.4h-28.42zM536.06 249.5h28.42v2.4h-28.42zM536.06 254.5h28.42v4.4h-28.42zM536.06 269.0h28.42v2.4h-28.42zM536.06 275.5h28.42v3.9h-28.42zM536.06 294.0h28.42v1.9h-28.42zM536.06 297.5h28.42v3.4h-28.42zM536.06 308.0h28.42v3.4h-28.42zM536.06 313.0h28.42v2.4h-28.42zM564.03 285.0h27.97v1.9h-27.97zM564.03 300.5h27.97v3.9h-27.97zM564.03 313.0h27.97v2.4h-27.97zM88.50 470.5h28.42v3.4h-28.42zM88.50 491.5h28.42v2.9h-28.42zM116.47 327.5h28.42v2.9h-28.42zM116.47 334.5h28.42v4.9h-28.42zM116.47 350.5h28.42v9.4h-28.42zM116.47 362.5h28.42v3.4h-28.42zM116.47 383.0h28.42v6.4h-28.42zM116.47 391.0h28.42v3.4h-28.42zM116.47 399.5h28.42v4.9h-28.42zM116.47 407.0h28.42v4.4h-28.42zM116.47 413.5h28.42v7.4h-28.42zM116.47 465.0h28.42v2.4h-28.42zM116.47 488.0h28.42v1.9h-28.42zM116.47 507.5h28.42v2.4h-28.42zM116.47 527.0h28.42v2.4h-28.42zM116.47 531.0h28.42v3.4h-28.42zM116.47 550.0h28.42v12.9h-28.42zM116.47 566.0h28.42v2.9h-28.42zM116.47 573.5h28.42v7.9h-28.42zM116.47 602.0h28.42v3.9h-28.42zM116.47 609.0h28.42v6.9h-28.42zM116.47 619.0h28.42v2.4h-28.42zM172.42 345.0h28.42v2.9h-28.42zM172.42 659.5h28.42v3.4h-28.42zM200.39 404.0h28.42v3.4h-28.42zM228.36 336.0h28.42v3.4h-28.42zM228.36 345.0h28.42v8.4h-28.42zM228.36 362.5h28.42v9.9h-28.42zM228.36 383.0h28.42v8.4h-28.42zM228.36 404.0h28.42v3.4h-28.42zM228.36 415.0h28.42v5.9h-28.42zM228.36 422.0h28.42v6.4h-28.42zM228.36 436.5h28.42v3.9h-28.42zM228.36 442.0h28.42v1.9h-28.42zM228.36 450.5h28.42v3.4h-28.42zM228.36 507.5h28.42v2.4h-28.42zM228.36 550.0h28.42v6.9h-28.42zM228.36 562.5h28.42v2.4h-28.42zM228.36 573.5h28.42v3.4h-28.42zM228.36 592.5h28.42v3.4h-28.42zM228.36 631.5h28.42v2.4h-28.42zM256.33 327.5h28.42v2.9h-28.42zM256.33 339.0h28.42v3.9h-28.42zM256.33 356.0h28.42v3.9h-28.42zM256.33 372.0h28.42v2.4h-28.42zM256.33 389.0h28.42v2.4h-28.42zM256.33 402.0h28.42v2.4h-28.42zM256.33 433.5h28.42v3.4h-28.42zM256.33 548.0h28.42v2.4h-28.42zM256.33 553.0h28.42v3.9h-28.42zM256.33 562.5h28.42v2.4h-28.42zM256.33 566.0h28.42v2.9h-28.42zM284.31 330.0h28.42v1.9h-28.42zM284.31 345.0h28.42v2.9h-28.42zM284.31 350.5h28.42v2.9h-28.42zM284.31 404.0h28.42v3.4h-28.42zM284.31 411.0h28.42v2.9h-28.42zM284.31 502.5h28.42v5.4h-28.42zM284.31 522.5h28.42v4.9h-28.42zM284.31 534.0h28.42v4.4h-28.42zM284.31 579.5h28.42v1.9h-28.42zM284.31 585.5h28.42v4.4h-28.42zM284.31 595.5h28.42v3.9h-28.42zM284.31 615.5h28.42v3.9h-28.42zM284.31 621.0h28.42v3.9h-28.42zM284.31 637.5h28.42v3.4h-28.42zM284.31 646.5h28.42v2.9h-28.42zM284.31 651.0h28.42v2.4h-28.42zM284.31 656.0h28.42v3.9h-28.42zM396.19 327.5h28.42v4.4h-28.42zM396.19 334.5h28.42v1.9h-28.42zM396.19 342.5h28.42v2.9h-28.42zM396.19 347.5h28.42v22.4h-28.42zM396.19 374.0h28.42v4.4h-28.42zM396.19 415.0h28.42v2.9h-28.42zM396.19 499.5h28.42v1.9h-28.42zM396.19 584.0h28.42v1.9h-28.42zM396.19 592.5h28.42v9.9h-28.42zM396.19 605.5h28.42v3.9h-28.42zM396.19 615.5h28.42v3.9h-28.42zM396.19 621.0h28.42v3.9h-28.42zM396.19 637.5h28.42v3.4h-28.42zM396.19 644.0h28.42v5.4h-28.42zM396.19 654.5h28.42v1.9h-28.42zM424.17 327.5h28.42v2.9h-28.42zM424.17 334.5h28.42v1.9h-28.42zM424.17 339.0h28.42v11.9h-28.42zM424.17 362.5h28.42v9.9h-28.42zM424.17 394.0h28.42v1.9h-28.42zM424.17 411.0h28.42v2.9h-28.42zM424.17 415.0h28.42v11.4h-28.42zM424.17 431.5h28.42v2.4h-28.42zM424.17 442.0h28.42v1.9h-28.42zM424.17 455.5h28.42v2.4h-28.42zM424.17 470.5h28.42v11.4h-28.42zM424.17 486.5h28.42v5.4h-28.42zM424.17 499.5h28.42v1.9h-28.42zM424.17 502.5h28.42v3.4h-28.42zM424.17 509.5h28.42v2.4h-28.42zM424.17 521.0h28.42v1.9h-28.42zM424.17 524.5h28.42v2.9h-28.42zM424.17 529.0h28.42v2.4h-28.42zM424.17 570.0h28.42v3.9h-28.42zM424.17 579.5h28.42v1.9h-28.42zM424.17 592.5h28.42v9.9h-28.42zM424.17 644.0h28.42v5.4h-28.42zM424.17 653.0h28.42v1.9h-28.42zM452.14 334.5h28.42v1.9h-28.42zM452.14 345.0h28.42v2.9h-28.42zM452.14 374.0h28.42v7.4h-28.42zM452.14 389.0h28.42v2.4h-28.42zM452.14 399.5h28.42v2.9h-28.42zM452.14 433.5h28.42v3.4h-28.42zM452.14 442.0h28.42v3.9h-28.42zM452.14 457.5h28.42v4.4h-28.42zM452.14 470.5h28.42v3.4h-28.42zM452.14 499.5h28.42v1.9h-28.42zM452.14 562.5h28.42v2.4h-28.42zM452.14 576.5h28.42v3.4h-28.42zM452.14 585.5h28.42v4.4h-28.42zM452.14 592.5h28.42v3.4h-28.42zM452.14 609.0h28.42v3.4h-28.42zM452.14 621.0h28.42v3.9h-28.42zM452.14 635.0h28.42v2.9h-28.42zM452.14 640.5h28.42v3.9h-28.42zM452.14 649.0h28.42v5.9h-28.42zM452.14 659.5h28.42v5.0h-28.42zM480.11 334.5h28.42v1.9h-28.42zM480.11 362.5h28.42v3.4h-28.42zM480.11 374.0h28.42v4.4h-28.42zM480.11 386.0h28.42v3.4h-28.42zM480.11 395.5h28.42v6.9h-28.42zM480.11 407.0h28.42v4.4h-28.42zM480.11 417.5h28.42v3.4h-28.42zM480.11 426.0h28.42v2.4h-28.42zM480.11 443.5h28.42v2.4h-28.42zM480.11 457.5h28.42v7.9h-28.42zM480.11 477.0h28.42v4.9h-28.42zM480.11 488.0h28.42v1.9h-28.42zM480.11 497.5h28.42v5.4h-28.42zM480.11 522.5h28.42v2.4h-28.42zM480.11 534.0h28.42v4.4h-28.42zM480.11 550.0h28.42v3.4h-28.42zM480.11 556.5h28.42v3.4h-28.42zM480.11 585.5h28.42v7.4h-28.42zM480.11 605.5h28.42v3.9h-28.42zM480.11 644.0h28.42v5.4h-28.42zM480.11 654.5h28.42v1.9h-28.42zM480.11 662.5h28.42v2.0h-28.42zM508.08 330.0h28.42v1.9h-28.42zM508.08 336.0h28.42v3.4h-28.42zM508.08 353.0h28.42v6.9h-28.42zM508.08 369.5h28.42v2.9h-28.42zM508.08 381.0h28.42v2.4h-28.42zM508.08 386.0h28.42v3.4h-28.42zM508.08 394.0h28.42v1.9h-28.42zM508.08 399.5h28.42v2.9h-28.42zM508.08 407.0h28.42v6.9h-28.42zM508.08 415.0h28.42v5.9h-28.42zM508.08 422.0h28.42v4.4h-28.42zM508.08 428.0h28.42v8.9h-28.42zM508.08 440.0h28.42v5.9h-28.42zM508.08 448.5h28.42v2.4h-28.42zM508.08 461.5h28.42v3.9h-28.42zM508.08 491.5h28.42v2.9h-28.42zM508.08 501.0h28.42v1.9h-28.42zM508.08 509.5h28.42v2.4h-28.42zM508.08 517.5h28.42v5.4h-28.42zM508.08 540.0h28.42v3.4h-28.42zM508.08 548.0h28.42v2.4h-28.42zM508.08 562.5h28.42v3.9h-28.42zM508.08 585.5h28.42v4.4h-28.42zM508.08 592.5h28.42v6.9h-28.42zM508.08 615.5h28.42v3.9h-28.42zM508.08 628.0h28.42v5.9h-28.42zM508.08 637.5h28.42v3.4h-28.42zM508.08 659.5h28.42v3.4h-28.42zM536.06 381.0h28.42v2.4h-28.42zM536.06 394.0h28.42v1.9h-28.42zM536.06 413.5h28.42v4.4h-28.42zM536.06 455.5h28.42v6.4h-28.42zM536.06 470.5h28.42v3.4h-28.42zM536.06 484.0h28.42v2.9h-28.42zM536.06 491.5h28.42v2.9h-28.42zM536.06 499.5h28.42v3.4h-28.42zM536.06 511.5h28.42v4.4h-28.42zM536.06 517.5h28.42v5.4h-28.42zM536.06 527.0h28.42v2.4h-28.42zM536.06 543.0h28.42v5.4h-28.42zM536.06 553.0h28.42v2.4h-28.42zM536.06 559.5h28.42v3.4h-28.42zM536.06 566.0h28.42v2.9h-28.42zM536.06 576.5h28.42v3.4h-28.42zM536.06 581.0h28.42v8.9h-28.42zM536.06 609.0h28.42v3.4h-28.42zM536.06 619.0h28.42v2.4h-28.42zM536.06 635.0h28.42v2.9h-28.42zM536.06 649.0h28.42v4.4h-28.42zM88.50 702.0h28.42v2.4h-28.42zM88.50 719.0h28.42v3.4h-28.42zM116.47 700.0h28.42v2.4h-28.42zM172.42 728.5h28.42v3.4h-28.42zM312.28 780.0h28.42v1.9h-28.42zM480.11 757.5h28.42v3.4h-28.42zM508.08 760.5h28.42v3.4h-28.42zM508.08 765.0h28.42v2.4h-28.42zM508.08 777.5h28.42v2.9h-28.42zM622.93 702.0h28.38v2.4h-28.38zM650.86 686.0h28.38v2.9h-28.38zM734.64 734.0h28.38v4.4h-28.38zM734.64 740.0h28.38v3.4h-28.38zM734.64 763.5h28.38v1.9h-28.38zM734.64 768.5h28.38v2.9h-28.38zM762.57 673.0h27.93v2.4h-27.93zM762.57 682.0h27.93v6.9h-27.93zM820.96 675.0h28.41v3.9h-28.41zM820.96 680.0h28.41v2.4h-28.41zM820.96 690.5h28.41v2.9h-28.41zM820.96 702.0h28.41v5.4h-28.41zM820.96 714.0h28.41v5.4h-28.41zM820.96 728.5h28.41v5.9h-28.41zM848.92 670.0h28.41v3.4h-28.41zM848.92 702.0h28.41v2.4h-28.41zM876.88 688.5h28.41v2.4h-28.41zM876.88 696.0h28.41v4.4h-28.41zM876.88 707.0h28.41v7.4h-28.41zM876.88 725.5h28.41v3.4h-28.41zM876.88 751.0h28.41v4.4h-28.41zM904.83 670.0h28.41v3.4h-28.41zM904.83 690.5h28.41v2.9h-28.41zM932.79 670.0h28.41v3.4h-28.41zM932.79 686.0h28.41v2.9h-28.41zM932.79 696.0h28.41v4.4h-28.41zM932.79 702.0h28.41v2.4h-28.41zM932.79 740.0h28.41v3.4h-28.41zM988.71 678.5h28.41v1.9h-28.41zM988.71 686.0h28.41v2.9h-28.41zM988.71 696.0h28.41v4.4h-28.41zM988.71 702.0h28.41v2.4h-28.41zM988.71 755.0h28.41v2.9h-28.41zM1016.67 743.0h28.41v3.4h-28.41zM1072.58 680.0h28.41v2.4h-28.41zM88.50 802.0h28.42v2.4h-28.42zM144.44 806.0h28.42v3.9h-28.42zM144.44 824.5h28.42v6.4h-28.42zM144.44 851.0h28.42v3.4h-28.42zM144.44 909.0h28.42v3.4h-28.42zM172.42 809.5h28.42v3.4h-28.42zM172.42 820.0h28.42v1.9h-28.42zM172.42 845.0h28.42v3.4h-28.42zM172.42 912.0h28.42v2.9h-28.42zM200.39 798.0h28.42v6.4h-28.42zM200.39 824.5h28.42v3.4h-28.42zM200.39 832.5h28.42v3.9h-28.42zM200.39 861.0h28.42v3.4h-28.42zM200.39 866.5h28.42v2.9h-28.42zM200.39 896.0h28.42v1.9h-28.42zM200.39 912.0h28.42v2.9h-28.42zM228.36 806.0h28.42v3.9h-28.42zM228.36 869.0h28.42v1.9h-28.42zM228.36 896.0h28.42v1.9h-28.42zM228.36 901.0h28.42v3.9h-28.42zM228.36 914.5h28.42v2.0h-28.42zM284.31 904.5h28.42v1.9h-28.42zM312.28 817.5h28.42v4.4h-28.42zM312.28 824.5h28.42v3.4h-28.42zM312.28 869.0h28.42v1.9h-28.42zM312.28 877.5h28.42v3.9h-28.42zM312.28 904.5h28.42v1.9h-28.42zM480.11 812.5h28.42v3.9h-28.42zM480.11 887.0h28.42v3.4h-28.42zM480.11 896.0h28.42v1.9h-28.42zM480.11 901.0h28.42v5.4h-28.42zM508.08 890.0h28.42v2.4h-28.42zM622.93 897.5h28.38v3.9h-28.38zM622.93 912.0h28.38v2.9h-28.38zM650.86 864.0h28.38v2.9h-28.38zM650.86 869.0h28.38v1.9h-28.38zM650.86 896.0h28.38v1.9h-28.38zM650.86 912.0h28.38v2.9h-28.38zM678.79 836.0h28.38v4.4h-28.38zM678.79 864.0h28.38v2.9h-28.38zM678.79 912.0h28.38v2.9h-28.38zM734.64 798.0h28.38v2.4h-28.38zM734.64 812.5h28.38v3.9h-28.38zM734.64 824.5h28.38v3.4h-28.38zM734.64 873.0h28.38v3.4h-28.38zM734.64 901.0h28.38v3.9h-28.38zM734.64 914.5h28.38v2.0h-28.38zM762.57 817.5h27.93v2.9h-27.93zM762.57 854.0h27.93v7.4h-27.93zM762.57 869.0h27.93v1.9h-27.93zM762.57 873.0h27.93v4.9h-27.93zM1016.67 843.0h28.41v2.4h-28.41z"/>
<path fill="#4c1508" d="M88.50 240.5h28.42v5.9h-28.42zM88.50 269.0h28.42v2.4h-28.42zM88.50 275.5h28.42v3.9h-28.42zM88.50 285.0h28.42v5.4h-28.42zM88.50 304.0h28.42v2.4h-28.42zM116.47 240.5h28.42v2.4h-28.42zM116.47 254.5h28.42v1.9h-28.42zM116.47 282.5h28.42v2.9h-28.42zM116.47 291.5h28.42v2.9h-28.42zM144.44 242.5h28.42v3.9h-28.42zM144.44 262.0h28.42v3.9h-28.42zM144.44 315.0h28.42v2.9h-28.42zM172.42 256.0h28.42v2.9h-28.42zM200.39 246.0h28.42v1.9h-28.42zM200.39 256.0h28.42v2.9h-28.42zM200.39 285.0h28.42v5.4h-28.42zM200.39 297.5h28.42v6.9h-28.42zM200.39 313.0h28.42v2.4h-28.42zM228.36 240.5h28.42v5.9h-28.42zM228.36 249.5h28.42v2.4h-28.42zM228.36 279.0h28.42v1.9h-28.42zM228.36 286.5h28.42v3.9h-28.42zM228.36 291.5h28.42v2.9h-28.42zM228.36 313.0h28.42v2.4h-28.42zM256.33 237.5h28.42v3.4h-28.42zM256.33 246.0h28.42v5.9h-28.42zM256.33 275.5h28.42v3.9h-28.42zM256.33 282.5h28.42v2.9h-28.42zM256.33 322.5h28.42v2.5h-28.42zM284.31 251.5h28.42v3.4h-28.42zM284.31 256.0h28.42v2.9h-28.42zM284.31 262.0h28.42v3.9h-28.42zM284.31 286.5h28.42v3.9h-28.42zM284.31 291.5h28.42v9.4h-28.42zM284.31 322.5h28.42v2.5h-28.42zM340.25 308.0h28.42v3.4h-28.42zM368.22 308.0h28.42v3.4h-28.42zM396.19 247.5h28.42v2.4h-28.42zM396.19 271.0h28.42v2.9h-28.42zM396.19 280.5h28.42v2.4h-28.42zM396.19 311.0h28.42v2.4h-28.42zM424.17 258.5h28.42v1.9h-28.42zM424.17 262.0h28.42v3.9h-28.42zM424.17 269.0h28.42v2.4h-28.42zM424.17 279.0h28.42v1.9h-28.42zM424.17 282.5h28.42v2.9h-28.42zM424.17 304.0h28.42v2.4h-28.42zM424.17 308.0h28.42v3.4h-28.42zM452.14 279.0h28.42v1.9h-28.42zM452.14 290.0h28.42v1.9h-28.42zM452.14 295.5h28.42v2.4h-28.42zM452.14 300.5h28.42v5.9h-28.42zM480.11 256.0h28.42v2.9h-28.42zM480.11 285.0h28.42v1.9h-28.42zM480.11 297.5h28.42v3.4h-28.42zM536.06 262.0h28.42v3.9h-28.42zM536.06 273.5h28.42v2.4h-28.42zM536.06 282.5h28.42v2.9h-28.42zM536.06 304.0h28.42v2.4h-28.42zM564.03 282.5h27.97v2.9h-27.97zM564.03 290.0h27.97v1.9h-27.97zM564.03 294.0h27.97v3.9h-27.97zM564.03 306.0h27.97v7.4h-27.97zM564.03 315.0h27.97v2.9h-27.97zM88.50 395.5h28.42v4.4h-28.42zM88.50 473.5h28.42v3.9h-28.42zM88.50 486.5h28.42v1.9h-28.42zM88.50 499.5h28.42v1.9h-28.42zM116.47 347.5h28.42v3.4h-28.42zM116.47 359.5h28.42v3.4h-28.42zM116.47 365.5h28.42v4.4h-28.42zM116.47 381.0h28.42v2.4h-28.42zM116.47 394.0h28.42v1.9h-28.42zM116.47 411.0h28.42v2.9h-28.42zM116.47 420.5h28.42v1.9h-28.42zM116.47 431.5h28.42v2.4h-28.42zM116.47 436.5h28.42v3.9h-28.42zM116.47 443.5h28.42v7.4h-28.42zM116.47 455.5h28.42v9.9h-28.42zM116.47 467.0h28.42v3.9h-28.42zM116.47 481.5h28.42v6.9h-28.42zM116.47 489.5h28.42v2.4h-28.42zM116.47 499.5h28.42v1.9h-28.42zM116.47 505.5h28.42v2.4h-28.42zM116.47 515.5h28.42v2.4h-28.42zM116.47 521.0h28.42v1.9h-28.42zM116.47 534.0h28.42v14.4h-28.42zM116.47 564.5h28.42v1.9h-28.42zM116.47 568.5h28.42v1.9h-28.42zM116.47 585.5h28.42v7.4h-28.42zM116.47 599.0h28.42v3.4h-28.42zM116.47 605.5h28.42v3.9h-28.42zM116.47 615.5h28.42v3.9h-28.42zM116.47 621.0h28.42v3.9h-28.42zM116.47 628.0h28.42v7.4h-28.42zM144.44 465.0h28.42v2.4h-28.42zM172.42 433.5h28.42v3.4h-28.42zM172.42 442.0h28.42v1.9h-28.42zM172.42 470.5h28.42v3.4h-28.42zM172.42 491.5h28.42v2.9h-28.42zM172.42 507.5h28.42v2.4h-28.42zM172.42 545.5h28.42v4.9h-28.42zM172.42 553.0h28.42v2.4h-28.42zM172.42 568.5h28.42v1.9h-28.42zM172.42 619.0h28.42v2.4h-28.42zM172.42 635.0h28.42v2.9h-28.42zM172.42 640.5h28.42v3.9h-28.42zM172.42 651.0h28.42v2.4h-28.42zM172.42 654.5h28.42v1.9h-28.42zM228.36 381.0h28.42v2.4h-28.42zM228.36 394.0h28.42v1.9h-28.42zM228.36 399.5h28.42v4.9h-28.42zM228.36 407.0h28.42v4.4h-28.42zM228.36 413.5h28.42v1.9h-28.42zM228.36 431.5h28.42v5.4h-28.42zM228.36 455.5h28.42v2.4h-28.42zM228.36 461.5h28.42v5.9h-28.42zM228.36 484.0h28.42v2.9h-28.42zM228.36 511.5h28.42v4.4h-28.42zM228.36 517.5h28.42v3.9h-28.42zM228.36 531.0h28.42v3.4h-28.42zM228.36 540.0h28.42v5.9h-28.42zM228.36 548.0h28.42v2.4h-28.42zM228.36 556.5h28.42v6.4h-28.42zM228.36 566.0h28.42v7.9h-28.42zM228.36 581.0h28.42v8.9h-28.42zM228.36 595.5h28.42v10.4h-28.42zM228.36 609.0h28.42v15.9h-28.42zM228.36 633.5h28.42v4.4h-28.42zM228.36 640.5h28.42v3.9h-28.42zM228.36 651.0h28.42v3.9h-28.42zM228.36 659.5h28.42v5.0h-28.42zM256.33 342.5h28.42v2.9h-28.42zM256.33 350.5h28.42v2.9h-28.42zM256.33 359.5h28.42v6.4h-28.42zM256.33 374.0h28.42v4.4h-28.42zM256.33 383.0h28.42v6.4h-28.42zM256.33 391.0h28.42v3.4h-28.42zM256.33 395.5h28.42v4.4h-28.42zM256.33 407.0h28.42v4.4h-28.42zM256.33 438.0h28.42v2.4h-28.42zM256.33 499.5h28.42v1.9h-28.42zM256.33 522.5h28.42v2.4h-28.42zM256.33 531.0h28.42v3.4h-28.42zM256.33 543.0h28.42v2.9h-28.42zM256.33 556.5h28.42v6.4h-28.42zM256.33 564.5h28.42v1.9h-28.42zM256.33 570.0h28.42v6.9h-28.42zM256.33 581.0h28.42v3.4h-28.42zM256.33 592.5h28.42v3.4h-28.42zM284.31 362.5h28.42v3.4h-28.42zM368.22 342.5h28.42v2.9h-28.42zM368.22 553.0h28.42v2.4h-28.42zM396.19 369.5h28.42v4.9h-28.42zM396.19 389.0h28.42v2.4h-28.42zM396.19 395.5h28.42v4.4h-28.42zM396.19 404.0h28.42v7.4h-28.42zM396.19 417.5h28.42v4.9h-28.42zM396.19 433.5h28.42v6.9h-28.42zM396.19 470.5h28.42v3.4h-28.42zM396.19 477.0h28.42v3.4h-28.42zM396.19 484.0h28.42v4.4h-28.42zM396.19 497.5h28.42v2.4h-28.42zM396.19 502.5h28.42v9.4h-28.42zM396.19 527.0h28.42v2.4h-28.42zM396.19 545.5h28.42v2.9h-28.42zM396.19 553.0h28.42v3.9h-28.42zM396.19 566.0h28.42v2.9h-28.42zM396.19 585.5h28.42v7.4h-28.42zM424.17 381.0h28.42v2.4h-28.42zM424.17 399.5h28.42v2.9h-28.42zM424.17 407.0h28.42v4.4h-28.42zM424.17 413.5h28.42v1.9h-28.42zM424.17 426.0h28.42v5.9h-28.42zM424.17 433.5h28.42v6.9h-28.42zM424.17 443.5h28.42v2.4h-28.42zM424.17 448.5h28.42v2.4h-28.42zM424.17 457.5h28.42v7.9h-28.42zM424.17 467.0h28.42v3.9h-28.42zM424.17 481.5h28.42v2.9h-28.42zM424.17 497.5h28.42v2.4h-28.42zM424.17 522.5h28.42v2.4h-28.42zM424.17 534.0h28.42v4.4h-28.42zM424.17 540.0h28.42v5.9h-28.42zM424.17 550.0h28.42v3.4h-28.42zM424.17 556.5h28.42v3.4h-28.42zM424.17 573.5h28.42v3.4h-28.42zM424.17 585.5h28.42v4.4h-28.42zM424.17 602.0h28.42v10.4h-28.42zM424.17 654.5h28.42v1.9h-28.42zM452.14 369.5h28.42v2.9h-28.42zM452.14 386.0h28.42v3.4h-28.42zM452.14 391.0h28.42v3.4h-28.42zM452.14 395.5h28.42v4.4h-28.42zM452.14 404.0h28.42v7.4h-28.42zM452.14 417.5h28.42v3.4h-28.42zM452.14 422.0h28.42v11.9h-28.42zM452.14 438.0h28.42v2.4h-28.42zM452.14 445.5h28.42v5.4h-28.42zM452.14 453.5h28.42v4.4h-28.42zM452.14 461.5h28.42v3.9h-28.42zM452.14 473.5h28.42v3.9h-28.42zM452.14 480.0h28.42v1.9h-28.42zM452.14 484.0h28.42v2.9h-28.42zM452.14 491.5h28.42v2.9h-28.42zM452.14 502.5h28.42v5.4h-28.42zM452.14 521.0h28.42v1.9h-28.42zM452.14 527.0h28.42v2.4h-28.42zM452.14 545.5h28.42v2.9h-28.42zM452.14 550.0h28.42v3.4h-28.42zM452.14 555.0h28.42v1.9h-28.42zM452.14 559.5h28.42v3.4h-28.42zM452.14 566.0h28.42v4.4h-28.42zM452.14 573.5h28.42v3.4h-28.42zM452.14 579.5h28.42v6.4h-28.42zM452.14 599.0h28.42v3.4h-28.42zM452.14 615.5h28.42v3.9h-28.42zM452.14 624.5h28.42v7.4h-28.42zM452.14 637.5h28.42v3.4h-28.42zM452.14 654.5h28.42v1.9h-28.42zM480.11 365.5h28.42v4.4h-28.42zM480.11 411.0h28.42v2.9h-28.42zM480.11 453.5h28.42v2.4h-28.42zM480.11 467.0h28.42v3.9h-28.42zM480.11 481.5h28.42v2.9h-28.42zM480.11 494.0h28.42v3.9h-28.42zM480.11 507.5h28.42v4.4h-28.42zM480.11 609.0h28.42v3.4h-28.42zM508.08 327.5h28.42v2.9h-28.42zM508.08 331.5h28.42v4.9h-28.42zM508.08 339.0h28.42v6.4h-28.42zM508.08 378.0h28.42v3.4h-28.42zM508.08 402.0h28.42v2.4h-28.42zM508.08 413.5h28.42v1.9h-28.42zM508.08 426.0h28.42v2.4h-28.42zM508.08 445.5h28.42v3.4h-28.42zM508.08 455.5h28.42v6.4h-28.42zM508.08 465.0h28.42v8.9h-28.42zM508.08 481.5h28.42v2.9h-28.42zM508.08 486.5h28.42v1.9h-28.42zM508.08 494.0h28.42v3.9h-28.42zM508.08 499.5h28.42v1.9h-28.42zM508.08 505.5h28.42v4.4h-28.42zM508.08 524.5h28.42v9.9h-28.42zM508.08 538.0h28.42v2.4h-28.42zM508.08 559.5h28.42v3.4h-28.42zM508.08 568.5h28.42v1.9h-28.42zM508.08 579.5h28.42v1.9h-28.42zM508.08 605.5h28.42v3.9h-28.42zM508.08 646.5h28.42v4.9h-28.42zM508.08 653.0h28.42v3.4h-28.42zM536.06 453.5h28.42v2.4h-28.42zM536.06 461.5h28.42v3.9h-28.42zM536.06 477.0h28.42v4.9h-28.42zM536.06 497.5h28.42v2.4h-28.42zM536.06 502.5h28.42v9.4h-28.42zM536.06 524.5h28.42v2.9h-28.42zM536.06 529.0h28.42v2.4h-28.42zM536.06 534.0h28.42v4.4h-28.42zM536.06 540.0h28.42v3.4h-28.42zM536.06 550.0h28.42v3.4h-28.42zM536.06 555.0h28.42v4.9h-28.42zM536.06 562.5h28.42v2.4h-28.42zM536.06 568.5h28.42v1.9h-28.42zM536.06 573.5h28.42v3.4h-28.42zM536.06 592.5h28.42v3.4h-28.42zM536.06 612.0h28.42v7.4h-28.42zM536.06 621.0h28.42v3.9h-28.42zM536.06 628.0h28.42v7.4h-28.42zM536.06 644.0h28.42v2.9h-28.42zM536.06 654.5h28.42v1.9h-28.42zM536.06 659.5h28.42v5.0h-28.42zM88.50 686.0h28.42v2.9h-28.42zM116.47 710.0h28.42v4.4h-28.42zM595.00 749.0h28.38v2.4h-28.38zM622.93 667.0h28.38v6.4h-28.38zM622.93 688.5h28.38v2.4h-28.38zM622.93 707.0h28.38v3.4h-28.38zM650.86 682.0h28.38v4.4h-28.38zM650.86 690.5h28.38v2.9h-28.38zM650.86 702.0h28.38v2.4h-28.38zM650.86 714.0h28.38v1.9h-28.38zM650.86 767.0h28.38v1.9h-28.38zM650.86 771.0h28.38v3.9h-28.38zM734.64 686.0h28.38v4.9h-28.38zM734.64 743.0h28.38v3.4h-28.38zM734.64 757.5h28.38v3.4h-28.38zM820.96 688.5h28.41v2.4h-28.41zM876.88 670.0h28.41v3.4h-28.41zM876.88 693.0h28.41v3.4h-28.41zM876.88 728.5h28.41v3.4h-28.41zM904.83 688.5h28.41v2.4h-28.41zM904.83 700.0h28.41v2.4h-28.41zM904.83 710.0h28.41v4.4h-28.41zM932.79 690.5h28.41v2.9h-28.41zM932.79 704.0h28.41v3.4h-28.41zM932.79 771.0h28.41v3.9h-28.41zM960.75 728.5h28.41v3.4h-28.41zM988.71 670.0h28.41v3.4h-28.41zM988.71 688.5h28.41v2.4h-28.41zM988.71 704.0h28.41v3.4h-28.41zM988.71 725.5h28.41v3.4h-28.41zM988.71 746.0h28.41v3.4h-28.41zM1016.67 678.5h28.41v1.9h-28.41zM1016.67 688.5h28.41v2.4h-28.41zM1016.67 734.0h28.41v4.4h-28.41zM116.47 864.0h28.42v2.9h-28.42zM144.44 792.0h28.42v2.4h-28.42zM144.44 798.0h28.42v2.4h-28.42zM144.44 804.0h28.42v2.4h-28.42zM144.44 817.5h28.42v2.9h-28.42zM144.44 830.5h28.42v9.9h-28.42zM144.44 848.0h28.42v3.4h-28.42zM144.44 870.5h28.42v2.9h-28.42zM172.42 812.5h28.42v3.9h-28.42zM172.42 824.5h28.42v3.4h-28.42zM172.42 830.5h28.42v2.4h-28.42zM172.42 836.0h28.42v4.4h-28.42zM172.42 876.0h28.42v1.9h-28.42zM200.39 804.0h28.42v2.4h-28.42zM200.39 820.0h28.42v4.9h-28.42zM200.39 869.0h28.42v1.9h-28.42zM200.39 892.0h28.42v4.4h-28.42zM228.36 802.0h28.42v2.4h-28.42zM228.36 816.0h28.42v1.9h-28.42zM228.36 832.5h28.42v3.9h-28.42zM228.36 866.5h28.42v2.9h-28.42zM284.31 854.0h28.42v4.4h-28.42zM284.31 909.0h28.42v3.4h-28.42zM312.28 809.5h28.42v3.4h-28.42zM312.28 832.5h28.42v3.9h-28.42zM312.28 848.0h28.42v6.4h-28.42zM480.11 877.5h28.42v3.9h-28.42zM480.11 906.0h28.42v3.4h-28.42zM536.06 817.5h28.42v2.9h-28.42zM595.00 792.0h28.38v2.4h-28.38zM595.00 881.0h28.38v4.4h-28.38zM595.00 909.0h28.38v7.5h-28.38zM622.93 802.0h28.38v2.4h-28.38zM622.93 816.0h28.38v4.4h-28.38zM622.93 890.0h28.38v2.4h-28.38zM622.93 896.0h28.38v1.9h-28.38zM622.93 906.0h28.38v3.4h-28.38zM650.86 798.0h28.38v2.4h-28.38zM650.86 802.0h28.38v2.4h-28.38zM650.86 806.0h28.38v3.9h-28.38zM650.86 812.5h28.38v3.9h-28.38zM650.86 820.0h28.38v1.9h-28.38zM650.86 887.0h28.38v3.4h-28.38zM650.86 901.0h28.38v3.9h-28.38zM650.86 906.0h28.38v3.4h-28.38zM678.79 809.5h28.38v3.4h-28.38zM678.79 820.0h28.38v4.9h-28.38zM678.79 896.0h28.38v1.9h-28.38zM734.64 800.0h28.38v2.4h-28.38zM734.64 806.0h28.38v3.9h-28.38zM734.64 820.0h28.38v4.9h-28.38zM734.64 861.0h28.38v3.4h-28.38zM734.64 887.0h28.38v3.4h-28.38zM762.57 845.0h27.93v3.4h-27.93zM1016.67 790.0h28.41v2.4h-28.41z"/>
<path fill="#561709" d="M88.50 256.0h28.42v2.9h-28.42zM88.50 294.0h28.42v1.9h-28.42zM116.47 246.0h28.42v1.9h-28.42zM116.47 251.5h28.42v3.4h-28.42zM116.47 262.0h28.42v3.9h-28.42zM116.47 295.5h28.42v2.4h-28.42zM116.47 300.5h28.42v3.9h-28.42zM144.44 249.5h28.42v2.4h-28.42zM144.44 260.0h28.42v2.4h-28.42zM144.44 304.0h28.42v2.4h-28.42zM144.44 322.5h28.42v2.5h-28.42zM172.42 242.5h28.42v3.9h-28.42zM172.42 254.5h28.42v1.9h-28.42zM172.42 262.0h28.42v3.9h-28.42zM172.42 271.0h28.42v2.9h-28.42zM172.42 291.5h28.42v2.9h-28.42zM200.39 240.5h28.42v2.4h-28.42zM200.39 247.5h28.42v2.4h-28.42zM200.39 269.0h28.42v2.4h-28.42zM200.39 294.0h28.42v1.9h-28.42zM200.39 322.5h28.42v2.5h-28.42zM228.36 254.5h28.42v1.9h-28.42zM228.36 262.0h28.42v3.9h-28.42zM228.36 275.5h28.42v3.9h-28.42zM228.36 294.0h28.42v1.9h-28.42zM228.36 311.0h28.42v2.4h-28.42zM228.36 315.0h28.42v2.9h-28.42zM256.33 242.5h28.42v3.9h-28.42zM256.33 251.5h28.42v3.4h-28.42zM256.33 256.0h28.42v4.4h-28.42zM256.33 262.0h28.42v3.9h-28.42zM256.33 269.0h28.42v2.4h-28.42zM256.33 279.0h28.42v1.9h-28.42zM256.33 291.5h28.42v4.4h-28.42zM256.33 297.5h28.42v6.9h-28.42zM256.33 317.5h28.42v3.4h-28.42zM340.25 262.0h28.42v3.9h-28.42zM340.25 280.5h28.42v2.4h-28.42zM340.25 290.0h28.42v1.9h-28.42zM340.25 306.0h28.42v2.4h-28.42zM340.25 311.0h28.42v2.4h-28.42zM368.22 282.5h28.42v2.9h-28.42zM396.19 242.5h28.42v5.4h-28.42zM396.19 260.0h28.42v2.4h-28.42zM396.19 269.0h28.42v2.4h-28.42zM396.19 275.5h28.42v5.4h-28.42zM396.19 306.0h28.42v2.4h-28.42zM424.17 240.5h28.42v2.4h-28.42zM424.17 260.0h28.42v2.4h-28.42zM424.17 280.5h28.42v2.4h-28.42zM424.17 294.0h28.42v1.9h-28.42zM424.17 320.5h28.42v2.4h-28.42zM452.14 254.5h28.42v1.9h-28.42zM452.14 260.0h28.42v2.4h-28.42zM452.14 286.5h28.42v3.9h-28.42zM452.14 311.0h28.42v2.4h-28.42zM480.11 315.0h28.42v2.9h-28.42zM508.08 251.5h28.42v3.4h-28.42zM536.06 240.5h28.42v5.9h-28.42zM536.06 251.5h28.42v3.4h-28.42zM536.06 271.0h28.42v2.9h-28.42zM536.06 311.0h28.42v2.4h-28.42zM536.06 315.0h28.42v10.0h-28.42zM564.03 286.5h27.97v3.9h-27.97zM564.03 297.5h27.97v3.4h-27.97zM564.03 320.5h27.97v4.5h-27.97zM88.50 391.0h28.42v3.4h-28.42zM88.50 404.0h28.42v3.4h-28.42zM88.50 415.0h28.42v2.9h-28.42zM88.50 448.5h28.42v5.4h-28.42zM88.50 465.0h28.42v5.9h-28.42zM88.50 480.0h28.42v6.9h-28.42zM88.50 488.0h28.42v3.9h-28.42zM88.50 505.5h28.42v2.4h-28.42zM88.50 511.5h28.42v4.4h-28.42zM88.50 521.0h28.42v1.9h-28.42zM88.50 527.0h28.42v4.4h-28.42zM88.50 543.0h28.42v7.4h-28.42zM88.50 553.0h28.42v3.9h-28.42zM88.50 559.5h28.42v5.4h-28.42zM88.50 566.0h28.42v2.9h-28.42zM88.50 570.0h28.42v3.9h-28.42zM116.47 426.0h28.42v5.9h-28.42zM116.47 440.0h28.42v2.4h-28.42zM116.47 453.5h28.42v2.4h-28.42zM116.47 477.0h28.42v4.9h-28.42zM116.47 494.0h28.42v5.9h-28.42zM116.47 501.0h28.42v1.9h-28.42zM116.47 509.5h28.42v6.4h-28.42zM116.47 517.5h28.42v3.9h-28.42zM116.47 524.5h28.42v2.9h-28.42zM116.47 529.0h28.42v2.4h-28.42zM116.47 624.5h28.42v3.9h-28.42zM116.47 649.0h28.42v2.4h-28.42zM116.47 656.0h28.42v3.9h-28.42zM116.47 662.5h28.42v2.0h-28.42zM144.44 339.0h28.42v6.4h-28.42zM144.44 350.5h28.42v2.9h-28.42zM144.44 436.5h28.42v1.9h-28.42zM144.44 450.5h28.42v3.4h-28.42zM144.44 619.0h28.42v2.4h-28.42zM144.44 633.5h28.42v1.9h-28.42zM172.42 399.5h28.42v2.9h-28.42zM172.42 426.0h28.42v2.4h-28.42zM172.42 436.5h28.42v3.9h-28.42zM172.42 445.5h28.42v3.4h-28.42zM172.42 457.5h28.42v9.9h-28.42zM172.42 473.5h28.42v8.4h-28.42zM172.42 486.5h28.42v1.9h-28.42zM172.42 499.5h28.42v1.9h-28.42zM172.42 531.0h28.42v3.4h-28.42zM172.42 543.0h28.42v2.9h-28.42zM172.42 555.0h28.42v4.9h-28.42zM172.42 562.5h28.42v6.4h-28.42zM172.42 573.5h28.42v6.4h-28.42zM172.42 581.0h28.42v3.4h-28.42zM172.42 602.0h28.42v3.9h-28.42zM172.42 615.5h28.42v3.9h-28.42zM172.42 624.5h28.42v7.4h-28.42zM172.42 649.0h28.42v2.4h-28.42zM172.42 656.0h28.42v3.9h-28.42zM172.42 662.5h28.42v2.0h-28.42zM200.39 336.0h28.42v11.9h-28.42zM200.39 353.0h28.42v3.4h-28.42zM200.39 372.0h28.42v2.4h-28.42zM200.39 386.0h28.42v5.4h-28.42zM200.39 402.0h28.42v2.4h-28.42zM200.39 420.5h28.42v1.9h-28.42zM200.39 428.0h28.42v3.9h-28.42zM200.39 433.5h28.42v4.9h-28.42zM200.39 442.0h28.42v1.9h-28.42zM200.39 450.5h28.42v3.4h-28.42zM200.39 465.0h28.42v2.4h-28.42zM200.39 570.0h28.42v3.9h-28.42zM200.39 576.5h28.42v3.4h-28.42zM200.39 631.5h28.42v2.4h-28.42zM200.39 651.0h28.42v2.4h-28.42zM228.36 411.0h28.42v2.9h-28.42zM228.36 428.0h28.42v3.9h-28.42zM228.36 440.0h28.42v2.4h-28.42zM228.36 443.5h28.42v2.4h-28.42zM228.36 453.5h28.42v2.4h-28.42zM228.36 457.5h28.42v4.4h-28.42zM228.36 467.0h28.42v17.4h-28.42zM228.36 486.5h28.42v5.4h-28.42zM228.36 499.5h28.42v3.4h-28.42zM228.36 521.0h28.42v3.9h-28.42zM228.36 527.0h28.42v4.4h-28.42zM228.36 534.0h28.42v4.4h-28.42zM228.36 545.5h28.42v2.9h-28.42zM228.36 576.5h28.42v4.9h-28.42zM228.36 624.5h28.42v3.9h-28.42zM228.36 644.0h28.42v2.9h-28.42zM228.36 649.0h28.42v2.4h-28.42zM228.36 656.0h28.42v3.9h-28.42zM256.33 330.0h28.42v4.9h-28.42zM256.33 336.0h28.42v3.4h-28.42zM256.33 345.0h28.42v5.9h-28.42zM256.33 353.0h28.42v3.4h-28.42zM256.33 365.5h28.42v6.9h-28.42zM256.33 378.0h28.42v3.4h-28.42zM256.33 394.0h28.42v1.9h-28.42zM256.33 404.0h28.42v3.4h-28.42zM256.33 411.0h28.42v15.4h-28.42zM256.33 436.5h28.42v1.9h-28.42zM256.33 442.0h28.42v1.9h-28.42zM256.33 445.5h28.42v3.4h-28.42zM256.33 450.5h28.42v3.4h-28.42zM256.33 457.5h28.42v4.4h-28.42zM256.33 470.5h28.42v11.4h-28.42zM256.33 484.0h28.42v4.4h-28.42zM256.33 491.5h28.42v2.9h-28.42zM256.33 501.0h28.42v1.9h-28.42zM256.33 507.5h28.42v2.4h-28.42zM256.33 511.5h28.42v9.9h-28.42zM256.33 527.0h28.42v4.4h-28.42zM256.33 534.0h28.42v4.4h-28.42zM256.33 540.0h28.42v3.4h-28.42zM256.33 545.5h28.42v2.9h-28.42zM256.33 550.0h28.42v3.4h-28.42zM256.33 568.5h28.42v1.9h-28.42zM256.33 595.5h28.42v6.9h-28.42zM256.33 605.5h28.42v3.9h-28.42zM256.33 635.0h28.42v2.9h-28.42zM256.33 640.5h28.42v3.9h-28.42zM256.33 651.0h28.42v2.4h-28.42zM312.28 353.0h28.42v3.4h-28.42zM312.28 386.0h28.42v3.4h-28.42zM312.28 402.0h28.42v2.4h-28.42zM312.28 470.5h28.42v3.4h-28.42zM312.28 529.0h28.42v2.4h-28.42zM312.28 548.0h28.42v2.4h-28.42zM312.28 553.0h28.42v2.4h-28.42zM312.28 570.0h28.42v3.9h-28.42zM312.28 640.5h28.42v3.9h-28.42zM312.28 651.0h28.42v2.4h-28.42zM340.25 339.0h28.42v3.9h-28.42zM340.25 372.0h28.42v2.4h-28.42zM340.25 517.5h28.42v3.9h-28.42zM368.22 336.0h28.42v3.4h-28.42zM368.22 353.0h28.42v3.4h-28.42zM368.22 438.0h28.42v2.4h-28.42zM368.22 442.0h28.42v1.9h-28.42zM368.22 450.5h28.42v3.4h-28.42zM368.22 531.0h28.42v3.4h-28.42zM368.22 540.0h28.42v3.4h-28.42zM368.22 545.5h28.42v4.9h-28.42zM368.22 556.5h28.42v3.4h-28.42zM368.22 562.5h28.42v3.9h-28.42zM368.22 573.5h28.42v3.4h-28.42zM368.22 662.5h28.42v2.0h-28.42zM396.19 345.0h28.42v2.9h-28.42zM396.19 383.0h28.42v6.4h-28.42zM396.19 391.0h28.42v3.4h-28.42zM396.19 402.0h28.42v2.4h-28.42zM396.19 413.5h28.42v1.9h-28.42zM396.19 422.0h28.42v11.9h-28.42zM396.19 443.5h28.42v2.4h-28.42zM396.19 448.5h28.42v9.4h-28.42zM396.19 461.5h28.42v5.9h-28.42zM396.19 480.0h28.42v1.9h-28.42zM396.19 488.0h28.42v1.9h-28.42zM396.19 491.5h28.42v6.4h-28.42zM396.19 501.0h28.42v1.9h-28.42zM396.19 511.5h28.42v13.4h-28.42zM396.19 529.0h28.42v2.4h-28.42zM396.19 534.0h28.42v11.9h-28.42zM396.19 548.0h28.42v2.4h-28.42zM396.19 559.5h28.42v6.9h-28.42zM396.19 568.5h28.42v1.9h-28.42zM396.19 573.5h28.42v10.9h-28.42zM424.17 445.5h28.42v3.4h-28.42zM424.17 453.5h28.42v2.4h-28.42zM424.17 564.5h28.42v1.9h-28.42zM424.17 568.5h28.42v1.9h-28.42zM424.17 589.5h28.42v3.4h-28.42zM452.14 381.0h28.42v5.4h-28.42zM452.14 394.0h28.42v1.9h-28.42zM452.14 411.0h28.42v2.9h-28.42zM452.14 440.0h28.42v2.4h-28.42zM452.14 465.0h28.42v5.9h-28.42zM452.14 481.5h28.42v2.9h-28.42zM452.14 488.0h28.42v3.9h-28.42zM452.14 501.0h28.42v1.9h-28.42zM452.14 507.5h28.42v2.4h-28.42zM452.14 517.5h28.42v3.9h-28.42zM452.14 522.5h28.42v2.4h-28.42zM452.14 531.0h28.42v14.9h-28.42zM452.14 548.0h28.42v2.4h-28.42zM452.14 553.0h28.42v2.4h-28.42zM452.14 564.5h28.42v1.9h-28.42zM452.14 589.5h28.42v3.4h-28.42zM452.14 605.5h28.42v3.9h-28.42zM452.14 646.5h28.42v2.9h-28.42zM480.11 391.0h28.42v3.4h-28.42zM480.11 413.5h28.42v1.9h-28.42zM480.11 440.0h28.42v2.4h-28.42zM480.11 505.5h28.42v2.4h-28.42zM508.08 345.0h28.42v8.4h-28.42zM508.08 453.5h28.42v2.4h-28.42zM508.08 473.5h28.42v8.4h-28.42zM508.08 484.0h28.42v2.9h-28.42zM508.08 488.0h28.42v1.9h-28.42zM508.08 497.5h28.42v2.4h-28.42zM508.08 511.5h28.42v4.4h-28.42zM508.08 589.5h28.42v3.4h-28.42zM508.08 599.0h28.42v3.4h-28.42zM508.08 624.5h28.42v3.9h-28.42zM536.06 531.0h28.42v3.4h-28.42zM536.06 538.0h28.42v2.4h-28.42zM536.06 564.5h28.42v1.9h-28.42zM536.06 579.5h28.42v1.9h-28.42zM536.06 589.5h28.42v3.4h-28.42zM536.06 640.5h28.42v3.9h-28.42zM536.06 646.5h28.42v2.9h-28.42zM536.06 653.0h28.42v1.9h-28.42zM88.50 731.5h28.42v2.9h-28.42zM88.50 740.0h28.42v3.4h-28.42zM88.50 746.0h28.42v3.4h-28.42zM312.28 781.5h28.42v3.4h-28.42zM595.00 670.0h28.38v3.4h-28.38zM595.00 678.5h28.38v1.9h-28.38zM595.00 688.5h28.38v2.4h-28.38zM595.00 696.0h28.38v4.4h-28.38zM622.93 696.0h28.38v4.4h-28.38zM622.93 780.0h28.38v1.9h-28.38zM622.93 784.5h28.38v3.0h-28.38zM650.86 731.5h28.38v2.9h-28.38zM650.86 740.0h28.38v3.4h-28.38zM650.86 760.5h28.38v4.9h-28.38zM678.79 678.5h28.38v1.9h-28.38zM678.79 688.5h28.38v2.4h-28.38zM734.64 667.0h28.38v3.4h-28.38zM734.64 715.5h28.38v3.9h-28.38zM734.64 722.0h28.38v3.9h-28.38zM734.64 755.0h28.38v2.9h-28.38zM820.96 670.0h28.41v3.4h-28.41zM848.92 667.0h28.41v3.4h-28.41zM876.88 667.0h28.41v3.4h-28.41zM876.88 680.0h28.41v2.4h-28.41zM876.88 702.0h28.41v2.4h-28.41zM904.83 702.0h28.41v5.4h-28.41zM932.79 673.0h28.41v2.4h-28.41zM1016.67 702.0h28.41v2.4h-28.41zM1016.67 757.5h28.41v3.4h-28.41zM88.50 798.0h28.42v2.4h-28.42zM116.47 861.0h28.42v3.4h-28.42zM116.47 870.5h28.42v2.9h-28.42zM144.44 800.0h28.42v2.4h-28.42zM144.44 821.5h28.42v3.4h-28.42zM144.44 854.0h28.42v4.4h-28.42zM144.44 864.0h28.42v2.9h-28.42zM144.44 873.0h28.42v3.4h-28.42zM144.44 896.0h28.42v1.9h-28.42zM172.42 870.5h28.42v2.9h-28.42zM200.39 809.5h28.42v3.4h-28.42zM200.39 827.5h28.42v5.4h-28.42zM200.39 848.0h28.42v3.4h-28.42zM200.39 877.5h28.42v3.9h-28.42zM200.39 890.0h28.42v2.4h-28.42zM228.36 804.0h28.42v2.4h-28.42zM228.36 821.5h28.42v3.4h-28.42zM228.36 854.0h28.42v4.4h-28.42zM228.36 870.5h28.42v2.9h-28.42zM228.36 877.5h28.42v3.9h-28.42zM228.36 897.5h28.42v3.9h-28.42zM228.36 909.0h28.42v5.9h-28.42zM284.31 890.0h28.42v2.4h-28.42zM312.28 854.0h28.42v4.4h-28.42zM480.11 861.0h28.42v3.4h-28.42zM536.06 812.5h28.42v3.9h-28.42zM595.00 800.0h28.38v2.4h-28.38zM595.00 817.5h28.38v2.9h-28.38zM595.00 897.5h28.38v3.9h-28.38zM595.00 904.5h28.38v1.9h-28.38zM622.93 804.0h28.38v2.4h-28.38zM622.93 809.5h28.38v6.9h-28.38zM622.93 869.0h28.38v1.9h-28.38zM622.93 901.0h28.38v5.4h-28.38zM650.86 790.0h28.38v2.4h-28.38zM650.86 821.5h28.38v3.4h-28.38zM650.86 848.0h28.38v3.4h-28.38zM650.86 866.5h28.38v2.9h-28.38zM650.86 890.0h28.38v2.4h-28.38zM650.86 897.5h28.38v3.9h-28.38zM678.79 800.0h28.38v4.4h-28.38zM678.79 824.5h28.38v3.4h-28.38zM678.79 909.0h28.38v3.4h-28.38zM734.64 804.0h28.38v2.4h-28.38zM734.64 809.5h28.38v3.4h-28.38zM734.64 816.0h28.38v1.9h-28.38zM734.64 827.5h28.38v5.4h-28.38zM734.64 848.0h28.38v3.4h-28.38z"/>
<path fill="#61180a" d="M88.50 251.5h28.42v3.4h-28.42zM88.50 291.5h28.42v2.9h-28.42zM116.47 256.0h28.42v4.4h-28.42zM116.47 280.5h28.42v2.4h-28.42zM116.47 285.0h28.42v1.9h-28.42zM116.47 294.0h28.42v1.9h-28.42zM116.47 308.0h28.42v3.4h-28.42zM116.47 313.0h28.42v2.4h-28.42zM144.44 237.5h28.42v5.4h-28.42zM144.44 254.5h28.42v4.4h-28.42zM144.44 269.0h28.42v2.4h-28.42zM144.44 273.5h28.42v2.4h-28.42zM144.44 308.0h28.42v3.4h-28.42zM172.42 237.5h28.42v3.4h-28.42zM172.42 265.5h28.42v3.9h-28.42zM172.42 273.5h28.42v2.4h-28.42zM172.42 308.0h28.42v3.4h-28.42zM172.42 317.5h28.42v3.4h-28.42zM200.39 251.5h28.42v3.4h-28.42zM200.39 265.5h28.42v3.9h-28.42zM200.39 275.5h28.42v5.4h-28.42zM200.39 282.5h28.42v2.9h-28.42zM200.39 291.5h28.42v2.9h-28.42zM200.39 295.5h28.42v2.4h-28.42zM228.36 246.0h28.42v1.9h-28.42zM228.36 251.5h28.42v3.4h-28.42zM228.36 260.0h28.42v2.4h-28.42zM228.36 269.0h28.42v2.4h-28.42zM228.36 273.5h28.42v2.4h-28.42zM228.36 308.0h28.42v3.4h-28.42zM256.33 285.0h28.42v1.9h-28.42zM256.33 295.5h28.42v2.4h-28.42zM256.33 313.0h28.42v4.9h-28.42zM312.28 240.5h28.42v2.4h-28.42zM312.28 256.0h28.42v2.9h-28.42zM312.28 262.0h28.42v3.9h-28.42zM312.28 282.5h28.42v2.9h-28.42zM312.28 294.0h28.42v1.9h-28.42zM340.25 237.5h28.42v3.4h-28.42zM340.25 300.5h28.42v3.9h-28.42zM340.25 320.5h28.42v4.5h-28.42zM368.22 285.0h28.42v1.9h-28.42zM368.22 300.5h28.42v3.9h-28.42zM368.22 315.0h28.42v2.9h-28.42zM396.19 237.5h28.42v5.4h-28.42zM396.19 262.0h28.42v3.9h-28.42zM396.19 290.0h28.42v1.9h-28.42zM396.19 315.0h28.42v5.9h-28.42zM396.19 322.5h28.42v2.5h-28.42zM424.17 254.5h28.42v1.9h-28.42zM424.17 265.5h28.42v3.9h-28.42zM424.17 286.5h28.42v3.9h-28.42zM424.17 295.5h28.42v8.9h-28.42zM424.17 306.0h28.42v2.4h-28.42zM452.14 237.5h28.42v3.4h-28.42zM452.14 282.5h28.42v2.9h-28.42zM452.14 291.5h28.42v2.9h-28.42zM452.14 308.0h28.42v3.4h-28.42zM480.11 306.0h28.42v9.4h-28.42zM508.08 304.0h28.42v2.4h-28.42zM536.06 247.5h28.42v2.4h-28.42zM536.06 258.5h28.42v3.9h-28.42zM536.06 265.5h28.42v3.9h-28.42zM536.06 306.0h28.42v2.4h-28.42zM564.03 291.5h27.97v2.9h-27.97zM564.03 317.5h27.97v3.4h-27.97zM88.50 327.5h28.42v2.9h-28.42zM88.50 356.0h28.42v6.9h-28.42zM88.50 365.5h28.42v4.4h-28.42zM88.50 378.0h28.42v8.4h-28.42zM88.50 389.0h28.42v2.4h-28.42zM88.50 394.0h28.42v1.9h-28.42zM88.50 402.0h28.42v2.4h-28.42zM88.50 420.5h28.42v1.9h-28.42zM88.50 431.5h28.42v2.4h-28.42zM88.50 436.5h28.42v3.9h-28.42zM88.50 445.5h28.42v3.4h-28.42zM88.50 457.5h28.42v7.9h-28.42zM88.50 494.0h28.42v5.9h-28.42zM88.50 501.0h28.42v4.9h-28.42zM88.50 515.5h28.42v5.9h-28.42zM88.50 522.5h28.42v2.4h-28.42zM88.50 534.0h28.42v4.4h-28.42zM88.50 556.5h28.42v3.4h-28.42zM88.50 564.5h28.42v1.9h-28.42zM88.50 573.5h28.42v3.4h-28.42zM88.50 579.5h28.42v4.9h-28.42zM88.50 633.5h28.42v1.9h-28.42zM88.50 656.0h28.42v3.9h-28.42zM116.47 502.5h28.42v3.4h-28.42zM116.47 522.5h28.42v2.4h-28.42zM116.47 637.5h28.42v11.9h-28.42zM116.47 651.0h28.42v5.4h-28.42zM116.47 659.5h28.42v3.4h-28.42zM144.44 336.0h28.42v3.4h-28.42zM144.44 345.0h28.42v2.9h-28.42zM144.44 422.0h28.42v4.4h-28.42zM144.44 442.0h28.42v1.9h-28.42zM144.44 473.5h28.42v6.9h-28.42zM144.44 499.5h28.42v1.9h-28.42zM144.44 507.5h28.42v2.4h-28.42zM144.44 570.0h28.42v6.9h-28.42zM144.44 599.0h28.42v6.9h-28.42zM144.44 612.0h28.42v3.9h-28.42zM144.44 631.5h28.42v2.4h-28.42zM144.44 635.0h28.42v2.9h-28.42zM144.44 656.0h28.42v3.9h-28.42zM144.44 662.5h28.42v2.0h-28.42zM172.42 365.5h28.42v4.4h-28.42zM172.42 383.0h28.42v3.4h-28.42zM172.42 402.0h28.42v5.4h-28.42zM172.42 411.0h28.42v2.9h-28.42zM172.42 415.0h28.42v7.4h-28.42zM172.42 431.5h28.42v2.4h-28.42zM172.42 440.0h28.42v2.4h-28.42zM172.42 443.5h28.42v2.4h-28.42zM172.42 448.5h28.42v7.4h-28.42zM172.42 467.0h28.42v3.9h-28.42zM172.42 481.5h28.42v5.4h-28.42zM172.42 488.0h28.42v3.9h-28.42zM172.42 494.0h28.42v5.9h-28.42zM172.42 505.5h28.42v2.4h-28.42zM172.42 509.5h28.42v2.4h-28.42zM172.42 517.5h28.42v5.4h-28.42zM172.42 527.0h28.42v2.4h-28.42zM172.42 538.0h28.42v5.4h-28.42zM172.42 550.0h28.42v3.4h-28.42zM172.42 559.5h28.42v3.4h-28.42zM172.42 570.0h28.42v3.9h-28.42zM172.42 584.0h28.42v5.9h-28.42zM172.42 592.5h28.42v3.4h-28.42zM172.42 599.0h28.42v3.4h-28.42zM172.42 612.0h28.42v3.9h-28.42zM172.42 621.0h28.42v3.9h-28.42zM172.42 631.5h28.42v3.9h-28.42zM172.42 637.5h28.42v3.4h-28.42zM172.42 644.0h28.42v5.4h-28.42zM172.42 653.0h28.42v1.9h-28.42zM200.39 327.5h28.42v4.4h-28.42zM200.39 334.5h28.42v1.9h-28.42zM200.39 347.5h28.42v5.9h-28.42zM200.39 359.5h28.42v3.4h-28.42zM200.39 365.5h28.42v4.4h-28.42zM200.39 374.0h28.42v7.4h-28.42zM200.39 383.0h28.42v3.4h-28.42zM200.39 395.5h28.42v6.9h-28.42zM200.39 407.0h28.42v4.4h-28.42zM200.39 415.0h28.42v2.9h-28.42zM200.39 422.0h28.42v4.4h-28.42zM200.39 431.5h28.42v2.4h-28.42zM200.39 438.0h28.42v2.4h-28.42zM200.39 443.5h28.42v5.4h-28.42zM200.39 453.5h28.42v2.4h-28.42zM200.39 477.0h28.42v12.9h-28.42zM200.39 491.5h28.42v2.9h-28.42zM200.39 507.5h28.42v2.4h-28.42zM200.39 545.5h28.42v7.9h-28.42zM200.39 562.5h28.42v2.4h-28.42zM200.39 573.5h28.42v3.4h-28.42zM200.39 581.0h28.42v4.9h-28.42zM200.39 595.5h28.42v3.9h-28.42zM200.39 602.0h28.42v3.9h-28.42zM200.39 619.0h28.42v5.9h-28.42zM200.39 633.5h28.42v4.4h-28.42zM200.39 656.0h28.42v6.9h-28.42zM228.36 445.5h28.42v5.4h-28.42zM228.36 491.5h28.42v8.4h-28.42zM228.36 502.5h28.42v5.4h-28.42zM228.36 509.5h28.42v2.4h-28.42zM228.36 515.5h28.42v2.4h-28.42zM228.36 524.5h28.42v2.9h-28.42zM228.36 564.5h28.42v1.9h-28.42zM228.36 589.5h28.42v3.4h-28.42zM228.36 605.5h28.42v3.9h-28.42zM228.36 628.0h28.42v3.9h-28.42zM228.36 637.5h28.42v3.4h-28.42zM228.36 646.5h28.42v2.9h-28.42zM228.36 654.5h28.42v1.9h-28.42zM256.33 381.0h28.42v2.4h-28.42zM256.33 426.0h28.42v5.9h-28.42zM256.33 443.5h28.42v2.4h-28.42zM256.33 448.5h28.42v2.4h-28.42zM256.33 453.5h28.42v4.4h-28.42zM256.33 481.5h28.42v2.9h-28.42zM256.33 488.0h28.42v3.9h-28.42zM256.33 494.0h28.42v5.9h-28.42zM256.33 502.5h28.42v5.4h-28.42zM256.33 521.0h28.42v1.9h-28.42zM256.33 524.5h28.42v2.9h-28.42zM256.33 538.0h28.42v2.4h-28.42zM256.33 576.5h28.42v4.9h-28.42zM256.33 584.0h28.42v8.9h-28.42zM256.33 602.0h28.42v3.9h-28.42zM256.33 609.0h28.42v12.4h-28.42zM256.33 624.5h28.42v10.9h-28.42zM256.33 637.5h28.42v3.4h-28.42zM256.33 644.0h28.42v2.9h-28.42zM256.33 649.0h28.42v2.4h-28.42zM256.33 653.0h28.42v1.9h-28.42zM256.33 662.5h28.42v2.0h-28.42zM312.28 330.0h28.42v1.9h-28.42zM312.28 339.0h28.42v3.9h-28.42zM312.28 350.5h28.42v2.9h-28.42zM312.28 362.5h28.42v3.4h-28.42zM312.28 378.0h28.42v3.4h-28.42zM312.28 389.0h28.42v2.4h-28.42zM312.28 415.0h28.42v2.9h-28.42zM312.28 442.0h28.42v1.9h-28.42zM312.28 450.5h28.42v3.4h-28.42zM312.28 465.0h28.42v2.4h-28.42zM312.28 473.5h28.42v3.9h-28.42zM312.28 480.0h28.42v1.9h-28.42zM312.28 484.0h28.42v4.4h-28.42zM312.28 505.5h28.42v2.4h-28.42zM312.28 521.0h28.42v1.9h-28.42zM312.28 543.0h28.42v5.4h-28.42zM312.28 555.0h28.42v9.9h-28.42zM312.28 573.5h28.42v6.4h-28.42zM312.28 581.0h28.42v3.4h-28.42zM312.28 631.5h28.42v2.4h-28.42zM312.28 635.0h28.42v2.9h-28.42zM312.28 649.0h28.42v2.4h-28.42zM312.28 656.0h28.42v3.9h-28.42zM312.28 662.5h28.42v2.0h-28.42zM340.25 331.5h28.42v7.9h-28.42zM340.25 342.5h28.42v5.4h-28.42zM340.25 353.0h28.42v3.4h-28.42zM340.25 365.5h28.42v4.4h-28.42zM340.25 374.0h28.42v4.4h-28.42zM340.25 383.0h28.42v3.4h-28.42zM340.25 391.0h28.42v3.4h-28.42zM340.25 399.5h28.42v2.9h-28.42zM340.25 407.0h28.42v4.4h-28.42zM340.25 415.0h28.42v11.4h-28.42zM340.25 433.5h28.42v6.9h-28.42zM340.25 455.5h28.42v2.4h-28.42zM340.25 651.0h28.42v2.4h-28.42zM340.25 656.0h28.42v3.9h-28.42zM340.25 662.5h28.42v2.0h-28.42zM368.22 339.0h28.42v3.9h-28.42zM368.22 345.0h28.42v5.9h-28.42zM368.22 383.0h28.42v3.4h-28.42zM368.22 420.5h28.42v1.9h-28.42zM368.22 461.5h28.42v5.9h-28.42zM368.22 470.5h28.42v3.4h-28.42zM368.22 477.0h28.42v3.4h-28.42zM368.22 486.5h28.42v1.9h-28.42zM368.22 501.0h28.42v1.9h-28.42zM368.22 507.5h28.42v2.4h-28.42zM368.22 517.5h28.42v3.9h-28.42zM368.22 522.5h28.42v2.4h-28.42zM368.22 543.0h28.42v2.9h-28.42zM368.22 555.0h28.42v1.9h-28.42zM368.22 559.5h28.42v3.4h-28.42zM368.22 570.0h28.42v3.9h-28.42zM368.22 576.5h28.42v3.4h-28.42zM368.22 585.5h28.42v4.4h-28.42zM368.22 592.5h28.42v13.4h-28.42zM368.22 619.0h28.42v2.4h-28.42zM368.22 635.0h28.42v2.9h-28.42zM368.22 640.5h28.42v3.9h-28.42zM368.22 649.0h28.42v4.4h-28.42zM396.19 394.0h28.42v1.9h-28.42zM396.19 411.0h28.42v2.9h-28.42zM396.19 440.0h28.42v3.9h-28.42zM396.19 467.0h28.42v3.9h-28.42zM396.19 473.5h28.42v3.9h-28.42zM396.19 489.5h28.42v2.4h-28.42zM396.19 524.5h28.42v2.9h-28.42zM396.19 531.0h28.42v3.4h-28.42zM396.19 550.0h28.42v3.4h-28.42zM396.19 556.5h28.42v3.4h-28.42zM424.17 440.0h28.42v2.4h-28.42zM452.14 413.5h28.42v1.9h-28.42zM452.14 477.0h28.42v3.4h-28.42zM452.14 494.0h28.42v5.9h-28.42zM452.14 509.5h28.42v8.4h-28.42zM452.14 529.0h28.42v2.4h-28.42zM452.14 556.5h28.42v3.4h-28.42zM508.08 362.5h28.42v3.4h-28.42zM536.06 656.0h28.42v3.9h-28.42zM88.50 738.0h28.42v2.4h-28.42zM88.50 751.0h28.42v4.4h-28.42zM88.50 765.0h28.42v2.4h-28.42zM595.00 667.0h28.38v3.4h-28.38zM595.00 693.0h28.38v3.4h-28.38zM622.93 675.0h28.38v3.9h-28.38zM622.93 686.0h28.38v2.9h-28.38zM622.93 693.0h28.38v3.4h-28.38zM622.93 700.0h28.38v2.4h-28.38zM622.93 710.0h28.38v4.4h-28.38zM622.93 774.5h28.38v3.4h-28.38zM650.86 667.0h28.38v3.4h-28.38zM650.86 678.5h28.38v1.9h-28.38zM650.86 700.0h28.38v2.4h-28.38zM650.86 746.0h28.38v5.4h-28.38zM650.86 768.5h28.38v2.9h-28.38zM678.79 673.0h28.38v2.4h-28.38zM678.79 734.0h28.38v4.4h-28.38zM734.64 696.0h28.38v4.4h-28.38zM734.64 702.0h28.38v8.4h-28.38zM734.64 751.0h28.38v4.4h-28.38zM762.57 670.0h27.93v3.4h-27.93zM762.57 675.0h27.93v7.4h-27.93zM820.96 693.0h28.41v3.4h-28.41zM820.96 710.0h28.41v4.4h-28.41zM820.96 734.0h28.41v4.4h-28.41zM904.83 714.0h28.41v1.9h-28.41zM932.79 667.0h28.41v3.4h-28.41zM932.79 675.0h28.41v3.9h-28.41zM932.79 728.5h28.41v3.4h-28.41zM932.79 757.5h28.41v3.4h-28.41zM988.71 682.0h28.41v4.4h-28.41zM988.71 740.0h28.41v3.4h-28.41zM988.71 751.0h28.41v4.4h-28.41zM988.71 757.5h28.41v3.4h-28.41zM988.71 768.5h28.41v2.9h-28.41zM1016.67 725.5h28.41v3.4h-28.41zM1072.58 734.0h28.41v4.4h-28.41zM88.50 806.0h28.42v3.9h-28.42zM116.47 858.0h28.42v3.4h-28.42zM116.47 866.5h28.42v2.9h-28.42zM144.44 790.0h28.42v2.4h-28.42zM144.44 794.0h28.42v4.4h-28.42zM144.44 802.0h28.42v2.4h-28.42zM144.44 812.5h28.42v3.9h-28.42zM144.44 866.5h28.42v2.9h-28.42zM144.44 876.0h28.42v1.9h-28.42zM144.44 890.0h28.42v2.4h-28.42zM144.44 897.5h28.42v3.9h-28.42zM144.44 912.0h28.42v2.9h-28.42zM172.42 851.0h28.42v3.4h-28.42zM172.42 858.0h28.42v3.4h-28.42zM172.42 866.5h28.42v2.9h-28.42zM172.42 881.0h28.42v6.4h-28.42zM172.42 904.5h28.42v4.9h-28.42zM172.42 914.5h28.42v2.0h-28.42zM200.39 817.5h28.42v2.9h-28.42zM200.39 873.0h28.42v4.9h-28.42zM200.39 897.5h28.42v3.9h-28.42zM200.39 904.5h28.42v1.9h-28.42zM228.36 812.5h28.42v3.9h-28.42zM228.36 817.5h28.42v2.9h-28.42zM228.36 904.5h28.42v1.9h-28.42zM284.31 897.5h28.42v3.9h-28.42zM480.11 854.0h28.42v4.4h-28.42zM480.11 864.0h28.42v2.9h-28.42zM480.11 873.0h28.42v3.4h-28.42zM595.00 802.0h28.38v2.4h-28.38zM595.00 820.0h28.38v1.9h-28.38zM595.00 864.0h28.38v2.9h-28.38zM595.00 877.5h28.38v3.9h-28.38zM622.93 792.0h28.38v2.4h-28.38zM622.93 806.0h28.38v3.9h-28.38zM622.93 821.5h28.38v9.4h-28.38zM622.93 851.0h28.38v3.4h-28.38zM622.93 877.5h28.38v3.9h-28.38zM622.93 892.0h28.38v4.4h-28.38zM650.86 792.0h28.38v2.4h-28.38zM650.86 840.0h28.38v3.4h-28.38zM650.86 845.0h28.38v3.4h-28.38zM650.86 858.0h28.38v6.4h-28.38zM678.79 798.0h28.38v2.4h-28.38zM678.79 804.0h28.38v2.4h-28.38zM678.79 812.5h28.38v3.9h-28.38zM678.79 851.0h28.38v7.4h-28.38zM678.79 877.5h28.38v3.9h-28.38zM678.79 904.5h28.38v1.9h-28.38zM678.79 914.5h28.38v2.0h-28.38zM734.64 817.5h28.38v2.9h-28.38zM734.64 832.5h28.38v7.9h-28.38z"/>
<path fill="#6b1a0b" d="M116.47 247.5h28.42v2.4h-28.42zM116.47 260.0h28.42v2.4h-28.42zM116.47 273.5h28.42v2.4h-28.42zM116.47 279.0h28.42v1.9h-28.42zM116.47 304.0h28.42v2.4h-28.42zM116.47 315.0h28.42v2.9h-28.42zM116.47 320.5h28.42v4.5h-28.42zM144.44 258.5h28.42v1.9h-28.42zM144.44 265.5h28.42v3.9h-28.42zM144.44 271.0h28.42v2.9h-28.42zM144.44 275.5h28.42v3.9h-28.42zM144.44 285.0h28.42v1.9h-28.42zM144.44 295.5h28.42v2.4h-28.42zM144.44 300.5h28.42v3.9h-28.42zM144.44 320.5h28.42v2.4h-28.42zM172.42 258.5h28.42v1.9h-28.42zM172.42 275.5h28.42v7.4h-28.42zM172.42 300.5h28.42v5.9h-28.42zM200.39 237.5h28.42v3.4h-28.42zM200.39 254.5h28.42v1.9h-28.42zM200.39 260.0h28.42v2.4h-28.42zM200.39 280.5h28.42v2.4h-28.42zM228.36 247.5h28.42v2.4h-28.42zM228.36 258.5h28.42v1.9h-28.42zM256.33 265.5h28.42v3.9h-28.42zM256.33 286.5h28.42v3.9h-28.42zM312.28 242.5h28.42v3.9h-28.42zM312.28 260.0h28.42v2.4h-28.42zM312.28 265.5h28.42v5.9h-28.42zM312.28 273.5h28.42v2.4h-28.42zM312.28 280.5h28.42v2.4h-28.42zM312.28 285.0h28.42v1.9h-28.42zM312.28 304.0h28.42v2.4h-28.42zM312.28 313.0h28.42v4.9h-28.42zM312.28 320.5h28.42v4.5h-28.42zM340.25 249.5h28.42v2.4h-28.42zM340.25 285.0h28.42v1.9h-28.42zM368.22 240.5h28.42v2.4h-28.42zM368.22 249.5h28.42v2.4h-28.42zM368.22 290.0h28.42v4.4h-28.42zM368.22 313.0h28.42v2.4h-28.42zM396.19 249.5h28.42v5.4h-28.42zM396.19 258.5h28.42v1.9h-28.42zM396.19 265.5h28.42v3.9h-28.42zM396.19 285.0h28.42v1.9h-28.42zM396.19 297.5h28.42v3.4h-28.42zM396.19 304.0h28.42v2.4h-28.42zM424.17 311.0h28.42v2.4h-28.42zM424.17 315.0h28.42v2.9h-28.42zM452.14 240.5h28.42v7.4h-28.42zM452.14 251.5h28.42v3.4h-28.42zM452.14 262.0h28.42v7.4h-28.42zM452.14 297.5h28.42v3.4h-28.42zM452.14 315.0h28.42v2.9h-28.42zM452.14 320.5h28.42v4.5h-28.42zM480.11 286.5h28.42v3.9h-28.42zM480.11 294.0h28.42v1.9h-28.42zM480.11 322.5h28.42v2.5h-28.42zM508.08 286.5h28.42v3.9h-28.42zM508.08 291.5h28.42v2.9h-28.42zM536.06 246.0h28.42v1.9h-28.42zM88.50 339.0h28.42v3.9h-28.42zM88.50 353.0h28.42v3.4h-28.42zM88.50 374.0h28.42v4.4h-28.42zM88.50 386.0h28.42v3.4h-28.42zM88.50 399.5h28.42v2.9h-28.42zM88.50 411.0h28.42v4.4h-28.42zM88.50 417.5h28.42v3.4h-28.42zM88.50 422.0h28.42v6.4h-28.42zM88.50 433.5h28.42v3.4h-28.42zM88.50 440.0h28.42v2.4h-28.42zM88.50 453.5h28.42v4.4h-28.42zM88.50 477.0h28.42v3.4h-28.42zM88.50 507.5h28.42v2.4h-28.42zM88.50 531.0h28.42v3.4h-28.42zM88.50 538.0h28.42v5.4h-28.42zM88.50 550.0h28.42v3.4h-28.42zM88.50 568.5h28.42v1.9h-28.42zM88.50 576.5h28.42v3.4h-28.42zM88.50 584.0h28.42v5.9h-28.42zM88.50 595.5h28.42v3.9h-28.42zM88.50 619.0h28.42v5.9h-28.42zM88.50 631.5h28.42v2.4h-28.42zM88.50 635.0h28.42v2.9h-28.42zM88.50 640.5h28.42v3.9h-28.42zM88.50 646.5h28.42v2.9h-28.42zM88.50 651.0h28.42v2.4h-28.42zM88.50 659.5h28.42v5.0h-28.42zM144.44 327.5h28.42v2.9h-28.42zM144.44 331.5h28.42v4.9h-28.42zM144.44 356.0h28.42v6.9h-28.42zM144.44 365.5h28.42v4.4h-28.42zM144.44 378.0h28.42v3.4h-28.42zM144.44 402.0h28.42v2.4h-28.42zM144.44 411.0h28.42v2.9h-28.42zM144.44 415.0h28.42v7.4h-28.42zM144.44 426.0h28.42v2.4h-28.42zM144.44 431.5h28.42v2.4h-28.42zM144.44 438.0h28.42v2.4h-28.42zM144.44 443.5h28.42v7.4h-28.42zM144.44 453.5h28.42v4.4h-28.42zM144.44 461.5h28.42v3.9h-28.42zM144.44 470.5h28.42v3.4h-28.42zM144.44 488.0h28.42v1.9h-28.42zM144.44 501.0h28.42v1.9h-28.42zM144.44 509.5h28.42v2.4h-28.42zM144.44 515.5h28.42v9.4h-28.42zM144.44 527.0h28.42v7.4h-28.42zM144.44 538.0h28.42v2.4h-28.42zM144.44 555.0h28.42v1.9h-28.42zM144.44 566.0h28.42v2.9h-28.42zM144.44 581.0h28.42v3.4h-28.42zM144.44 595.5h28.42v3.9h-28.42zM144.44 609.0h28.42v3.4h-28.42zM144.44 615.5h28.42v3.9h-28.42zM144.44 621.0h28.42v10.9h-28.42zM144.44 640.5h28.42v3.9h-28.42zM144.44 649.0h28.42v5.9h-28.42zM172.42 331.5h28.42v3.4h-28.42zM172.42 336.0h28.42v9.4h-28.42zM172.42 353.0h28.42v6.9h-28.42zM172.42 369.5h28.42v4.9h-28.42zM172.42 381.0h28.42v2.4h-28.42zM172.42 389.0h28.42v6.9h-28.42zM172.42 407.0h28.42v4.4h-28.42zM172.42 413.5h28.42v1.9h-28.42zM172.42 422.0h28.42v4.4h-28.42zM172.42 428.0h28.42v3.9h-28.42zM172.42 455.5h28.42v2.4h-28.42zM172.42 502.5h28.42v3.4h-28.42zM172.42 511.5h28.42v4.4h-28.42zM172.42 522.5h28.42v4.9h-28.42zM172.42 529.0h28.42v2.4h-28.42zM172.42 534.0h28.42v4.4h-28.42zM172.42 579.5h28.42v1.9h-28.42zM172.42 589.5h28.42v3.4h-28.42zM172.42 595.5h28.42v3.9h-28.42zM172.42 605.5h28.42v6.9h-28.42zM200.39 356.0h28.42v3.9h-28.42zM200.39 362.5h28.42v3.4h-28.42zM200.39 369.5h28.42v2.9h-28.42zM200.39 381.0h28.42v2.4h-28.42zM200.39 391.0h28.42v4.9h-28.42zM200.39 411.0h28.42v4.4h-28.42zM200.39 417.5h28.42v3.4h-28.42zM200.39 440.0h28.42v2.4h-28.42zM200.39 455.5h28.42v9.9h-28.42zM200.39 470.5h28.42v6.9h-28.42zM200.39 489.5h28.42v2.4h-28.42zM200.39 494.0h28.42v3.9h-28.42zM200.39 499.5h28.42v1.9h-28.42zM200.39 515.5h28.42v2.4h-28.42zM200.39 521.0h28.42v1.9h-28.42zM200.39 527.0h28.42v2.4h-28.42zM200.39 540.0h28.42v3.4h-28.42zM200.39 553.0h28.42v3.9h-28.42zM200.39 559.5h28.42v3.4h-28.42zM200.39 564.5h28.42v5.9h-28.42zM200.39 579.5h28.42v1.9h-28.42zM200.39 589.5h28.42v3.4h-28.42zM200.39 599.0h28.42v3.4h-28.42zM200.39 612.0h28.42v7.4h-28.42zM200.39 624.5h28.42v3.9h-28.42zM200.39 637.5h28.42v3.4h-28.42zM200.39 649.0h28.42v2.4h-28.42zM200.39 653.0h28.42v3.4h-28.42zM200.39 662.5h28.42v2.0h-28.42zM228.36 538.0h28.42v2.4h-28.42zM256.33 334.5h28.42v1.9h-28.42zM256.33 431.5h28.42v2.4h-28.42zM256.33 465.0h28.42v5.9h-28.42zM256.33 509.5h28.42v2.4h-28.42zM256.33 621.0h28.42v3.9h-28.42zM256.33 646.5h28.42v2.9h-28.42zM256.33 654.5h28.42v1.9h-28.42zM256.33 659.5h28.42v3.4h-28.42zM312.28 327.5h28.42v2.9h-28.42zM312.28 331.5h28.42v3.4h-28.42zM312.28 336.0h28.42v3.4h-28.42zM312.28 342.5h28.42v5.4h-28.42zM312.28 356.0h28.42v6.9h-28.42zM312.28 365.5h28.42v12.9h-28.42zM312.28 383.0h28.42v3.4h-28.42zM312.28 391.0h28.42v11.4h-28.42zM312.28 404.0h28.42v3.4h-28.42zM312.28 411.0h28.42v2.9h-28.42zM312.28 420.5h28.42v5.9h-28.42zM312.28 438.0h28.42v2.4h-28.42zM312.28 453.5h28.42v11.9h-28.42zM312.28 467.0h28.42v3.9h-28.42zM312.28 477.0h28.42v3.4h-28.42zM312.28 489.5h28.42v11.9h-28.42zM312.28 507.5h28.42v2.4h-28.42zM312.28 511.5h28.42v4.4h-28.42zM312.28 517.5h28.42v3.9h-28.42zM312.28 527.0h28.42v2.4h-28.42zM312.28 531.0h28.42v12.4h-28.42zM312.28 550.0h28.42v3.4h-28.42zM312.28 564.5h28.42v5.9h-28.42zM312.28 579.5h28.42v1.9h-28.42zM312.28 584.0h28.42v5.9h-28.42zM312.28 592.5h28.42v3.4h-28.42zM312.28 602.0h28.42v3.9h-28.42zM312.28 619.0h28.42v2.4h-28.42zM312.28 624.5h28.42v3.9h-28.42zM312.28 637.5h28.42v3.4h-28.42zM312.28 646.5h28.42v2.9h-28.42zM312.28 654.5h28.42v1.9h-28.42zM340.25 327.5h28.42v4.4h-28.42zM340.25 347.5h28.42v5.9h-28.42zM340.25 356.0h28.42v6.9h-28.42zM340.25 369.5h28.42v2.9h-28.42zM340.25 378.0h28.42v3.4h-28.42zM340.25 386.0h28.42v5.4h-28.42zM340.25 394.0h28.42v5.9h-28.42zM340.25 402.0h28.42v2.4h-28.42zM340.25 413.5h28.42v1.9h-28.42zM340.25 426.0h28.42v2.4h-28.42zM340.25 431.5h28.42v2.4h-28.42zM340.25 440.0h28.42v3.9h-28.42zM340.25 445.5h28.42v3.4h-28.42zM340.25 450.5h28.42v3.4h-28.42zM340.25 491.5h28.42v2.9h-28.42zM340.25 499.5h28.42v1.9h-28.42zM340.25 507.5h28.42v2.4h-28.42zM340.25 511.5h28.42v6.4h-28.42zM340.25 527.0h28.42v7.4h-28.42zM340.25 543.0h28.42v7.4h-28.42zM340.25 562.5h28.42v2.4h-28.42zM340.25 576.5h28.42v3.4h-28.42zM340.25 584.0h28.42v1.9h-28.42zM340.25 592.5h28.42v3.4h-28.42zM340.25 602.0h28.42v3.9h-28.42zM340.25 612.0h28.42v3.9h-28.42zM340.25 619.0h28.42v2.4h-28.42zM340.25 628.0h28.42v3.9h-28.42zM340.25 633.5h28.42v10.9h-28.42zM340.25 646.5h28.42v4.9h-28.42zM340.25 653.0h28.42v1.9h-28.42zM340.25 659.5h28.42v3.4h-28.42zM368.22 327.5h28.42v7.4h-28.42zM368.22 350.5h28.42v2.9h-28.42zM368.22 356.0h28.42v6.9h-28.42zM368.22 372.0h28.42v9.4h-28.42zM368.22 386.0h28.42v3.4h-28.42zM368.22 395.5h28.42v4.4h-28.42zM368.22 402.0h28.42v2.4h-28.42zM368.22 407.0h28.42v6.9h-28.42zM368.22 415.0h28.42v5.9h-28.42zM368.22 422.0h28.42v4.4h-28.42zM368.22 436.5h28.42v1.9h-28.42zM368.22 443.5h28.42v2.4h-28.42zM368.22 448.5h28.42v2.4h-28.42zM368.22 453.5h28.42v2.4h-28.42zM368.22 467.0h28.42v3.9h-28.42zM368.22 473.5h28.42v3.9h-28.42zM368.22 481.5h28.42v2.9h-28.42zM368.22 488.0h28.42v9.9h-28.42zM368.22 499.5h28.42v1.9h-28.42zM368.22 502.5h28.42v5.4h-28.42zM368.22 511.5h28.42v4.4h-28.42zM368.22 524.5h28.42v4.9h-28.42zM368.22 550.0h28.42v3.4h-28.42zM368.22 566.0h28.42v4.4h-28.42zM368.22 579.5h28.42v6.4h-28.42zM368.22 605.5h28.42v3.9h-28.42zM368.22 612.0h28.42v7.4h-28.42zM368.22 628.0h28.42v7.4h-28.42zM368.22 644.0h28.42v5.4h-28.42zM368.22 653.0h28.42v9.9h-28.42zM396.19 381.0h28.42v2.4h-28.42zM396.19 445.5h28.42v3.4h-28.42zM396.19 457.5h28.42v4.4h-28.42zM396.19 481.5h28.42v2.9h-28.42zM88.50 734.0h28.42v4.4h-28.42zM88.50 749.0h28.42v2.4h-28.42zM88.50 755.0h28.42v2.9h-28.42zM595.00 680.0h28.38v2.4h-28.38zM595.00 690.5h28.38v2.9h-28.38zM622.93 722.0h28.38v3.9h-28.38zM622.93 751.0h28.38v4.4h-28.38zM622.93 767.0h28.38v1.9h-28.38zM622.93 777.5h28.38v2.9h-28.38zM622.93 781.5h28.38v3.4h-28.38zM650.86 675.0h28.38v3.9h-28.38zM650.86 710.0h28.38v4.4h-28.38zM650.86 728.5h28.38v3.4h-28.38zM650.86 777.5h28.38v2.9h-28.38zM678.79 667.0h28.38v6.4h-28.38zM678.79 675.0h28.38v3.9h-28.38zM678.79 680.0h28.38v2.4h-28.38zM678.79 738.0h28.38v2.4h-28.38zM734.64 673.0h28.38v2.4h-28.38zM734.64 693.0h28.38v3.4h-28.38zM734.64 714.0h28.38v1.9h-28.38zM734.64 728.5h28.38v3.4h-28.38zM876.88 682.0h28.41v4.4h-28.41zM876.88 714.0h28.41v1.9h-28.41zM932.79 682.0h28.41v4.4h-28.41zM988.71 680.0h28.41v2.4h-28.41zM88.50 804.0h28.42v2.4h-28.42zM88.50 816.0h28.42v4.4h-28.42zM88.50 870.5h28.42v2.9h-28.42zM116.47 830.5h28.42v2.4h-28.42zM116.47 836.0h28.42v4.4h-28.42zM144.44 861.0h28.42v3.4h-28.42zM144.44 887.0h28.42v3.4h-28.42zM172.42 817.5h28.42v2.9h-28.42zM172.42 832.5h28.42v3.9h-28.42zM172.42 869.0h28.42v1.9h-28.42zM172.42 890.0h28.42v7.9h-28.42zM172.42 901.0h28.42v3.9h-28.42zM200.39 843.0h28.42v2.4h-28.42zM200.39 901.0h28.42v3.9h-28.42zM200.39 906.0h28.42v3.4h-28.42zM228.36 809.5h28.42v3.4h-28.42zM228.36 873.0h28.42v3.4h-28.42zM228.36 881.0h28.42v9.4h-28.42zM228.36 906.0h28.42v3.4h-28.42zM595.00 790.0h28.38v2.4h-28.38zM595.00 798.0h28.38v2.4h-28.38zM595.00 816.0h28.38v1.9h-28.38zM595.00 861.0h28.38v3.4h-28.38zM595.00 869.0h28.38v7.4h-28.38zM595.00 892.0h28.38v4.4h-28.38zM622.93 832.5h28.38v3.9h-28.38zM622.93 848.0h28.38v3.4h-28.38zM622.93 864.0h28.38v5.4h-28.38zM622.93 873.0h28.38v3.4h-28.38zM650.86 794.0h28.38v4.4h-28.38zM650.86 804.0h28.38v2.4h-28.38zM650.86 816.0h28.38v1.9h-28.38zM650.86 827.5h28.38v3.4h-28.38zM650.86 854.0h28.38v4.4h-28.38zM650.86 873.0h28.38v3.4h-28.38zM650.86 885.0h28.38v2.4h-28.38zM678.79 792.0h28.38v2.4h-28.38zM678.79 817.5h28.38v2.9h-28.38zM678.79 827.5h28.38v5.4h-28.38zM678.79 869.0h28.38v1.9h-28.38zM678.79 887.0h28.38v5.4h-28.38zM678.79 897.5h28.38v7.4h-28.38zM734.64 792.0h28.38v2.4h-28.38zM734.64 845.0h28.38v3.4h-28.38zM734.64 885.0h28.38v2.4h-28.38z"/>
<path fill="#761b0b" d="M88.50 322.5h28.42v2.5h-28.42zM116.47 271.0h28.42v2.9h-28.42zM116.47 275.5h28.42v3.9h-28.42zM116.47 306.0h28.42v2.4h-28.42zM116.47 311.0h28.42v2.4h-28.42zM144.44 282.5h28.42v2.9h-28.42zM144.44 294.0h28.42v1.9h-28.42zM144.44 297.5h28.42v3.4h-28.42zM144.44 313.0h28.42v2.4h-28.42zM172.42 246.0h28.42v3.9h-28.42zM172.42 269.0h28.42v2.4h-28.42zM172.42 282.5h28.42v2.9h-28.42zM172.42 290.0h28.42v1.9h-28.42zM172.42 320.5h28.42v2.4h-28.42zM200.39 262.0h28.42v3.9h-28.42zM200.39 273.5h28.42v2.4h-28.42zM228.36 306.0h28.42v2.4h-28.42zM228.36 320.5h28.42v2.4h-28.42zM256.33 260.0h28.42v2.4h-28.42zM256.33 273.5h28.42v2.4h-28.42zM256.33 280.5h28.42v2.4h-28.42zM256.33 320.5h28.42v2.4h-28.42zM312.28 237.5h28.42v3.4h-28.42zM312.28 247.5h28.42v4.4h-28.42zM312.28 254.5h28.42v1.9h-28.42zM312.28 271.0h28.42v2.9h-28.42zM312.28 275.5h28.42v5.4h-28.42zM312.28 291.5h28.42v2.9h-28.42zM312.28 306.0h28.42v2.4h-28.42zM312.28 311.0h28.42v2.4h-28.42zM340.25 247.5h28.42v2.4h-28.42zM340.25 254.5h28.42v1.9h-28.42zM340.25 258.5h28.42v1.9h-28.42zM340.25 265.5h28.42v3.9h-28.42zM340.25 271.0h28.42v2.9h-28.42zM340.25 275.5h28.42v5.4h-28.42zM340.25 282.5h28.42v2.9h-28.42zM340.25 315.0h28.42v5.9h-28.42zM368.22 242.5h28.42v3.9h-28.42zM368.22 247.5h28.42v2.4h-28.42zM368.22 254.5h28.42v1.9h-28.42zM368.22 262.0h28.42v7.4h-28.42zM368.22 295.5h28.42v2.4h-28.42zM368.22 306.0h28.42v2.4h-28.42zM368.22 317.5h28.42v3.4h-28.42zM396.19 254.5h28.42v1.9h-28.42zM396.19 273.5h28.42v2.4h-28.42zM396.19 282.5h28.42v2.9h-28.42zM396.19 291.5h28.42v2.9h-28.42zM396.19 313.0h28.42v2.4h-28.42zM424.17 246.0h28.42v1.9h-28.42zM424.17 273.5h28.42v2.4h-28.42zM452.14 247.5h28.42v4.4h-28.42zM452.14 258.5h28.42v1.9h-28.42zM452.14 269.0h28.42v6.9h-28.42zM452.14 280.5h28.42v2.4h-28.42zM452.14 285.0h28.42v1.9h-28.42zM452.14 313.0h28.42v2.4h-28.42zM88.50 330.0h28.42v9.4h-28.42zM88.50 342.5h28.42v2.9h-28.42zM88.50 372.0h28.42v2.4h-28.42zM88.50 428.0h28.42v3.9h-28.42zM88.50 442.0h28.42v3.9h-28.42zM88.50 509.5h28.42v2.4h-28.42zM88.50 524.5h28.42v2.9h-28.42zM88.50 589.5h28.42v6.4h-28.42zM88.50 599.0h28.42v3.4h-28.42zM88.50 605.5h28.42v10.4h-28.42zM88.50 624.5h28.42v3.9h-28.42zM88.50 637.5h28.42v3.4h-28.42zM88.50 649.0h28.42v2.4h-28.42zM88.50 653.0h28.42v1.9h-28.42zM144.44 330.0h28.42v1.9h-28.42zM144.44 347.5h28.42v3.4h-28.42zM144.44 353.0h28.42v3.4h-28.42zM144.44 362.5h28.42v3.4h-28.42zM144.44 369.5h28.42v8.9h-28.42zM144.44 381.0h28.42v2.4h-28.42zM144.44 395.5h28.42v4.4h-28.42zM144.44 404.0h28.42v7.4h-28.42zM144.44 413.5h28.42v1.9h-28.42zM144.44 428.0h28.42v3.9h-28.42zM144.44 433.5h28.42v3.4h-28.42zM144.44 440.0h28.42v2.4h-28.42zM144.44 457.5h28.42v4.4h-28.42zM144.44 467.0h28.42v3.9h-28.42zM144.44 480.0h28.42v1.9h-28.42zM144.44 484.0h28.42v4.4h-28.42zM144.44 489.5h28.42v2.4h-28.42zM144.44 494.0h28.42v3.9h-28.42zM144.44 511.5h28.42v4.4h-28.42zM144.44 545.5h28.42v9.9h-28.42zM144.44 562.5h28.42v2.4h-28.42zM144.44 568.5h28.42v1.9h-28.42zM144.44 584.0h28.42v5.9h-28.42zM144.44 592.5h28.42v3.4h-28.42zM144.44 637.5h28.42v3.4h-28.42zM144.44 644.0h28.42v5.4h-28.42zM144.44 654.5h28.42v1.9h-28.42zM144.44 659.5h28.42v3.4h-28.42zM172.42 327.5h28.42v2.9h-28.42zM172.42 334.5h28.42v1.9h-28.42zM172.42 347.5h28.42v5.9h-28.42zM172.42 359.5h28.42v6.4h-28.42zM172.42 374.0h28.42v7.4h-28.42zM172.42 501.0h28.42v1.9h-28.42zM200.39 331.5h28.42v3.4h-28.42zM200.39 426.0h28.42v2.4h-28.42zM200.39 448.5h28.42v2.4h-28.42zM200.39 467.0h28.42v3.9h-28.42zM200.39 497.5h28.42v2.4h-28.42zM200.39 502.5h28.42v5.4h-28.42zM200.39 517.5h28.42v3.9h-28.42zM200.39 524.5h28.42v2.9h-28.42zM200.39 531.0h28.42v9.4h-28.42zM200.39 543.0h28.42v2.9h-28.42zM200.39 556.5h28.42v3.4h-28.42zM200.39 592.5h28.42v3.4h-28.42zM200.39 605.5h28.42v6.9h-28.42zM200.39 628.0h28.42v3.9h-28.42zM200.39 640.5h28.42v6.4h-28.42zM256.33 461.5h28.42v3.9h-28.42zM312.28 381.0h28.42v2.4h-28.42zM312.28 407.0h28.42v4.4h-28.42zM312.28 417.5h28.42v3.4h-28.42zM312.28 426.0h28.42v2.4h-28.42zM312.28 431.5h28.42v2.4h-28.42zM312.28 436.5h28.42v1.9h-28.42zM312.28 440.0h28.42v2.4h-28.42zM312.28 443.5h28.42v2.4h-28.42zM312.28 448.5h28.42v2.4h-28.42zM312.28 481.5h28.42v2.9h-28.42zM312.28 488.0h28.42v1.9h-28.42zM312.28 501.0h28.42v4.9h-28.42zM312.28 509.5h28.42v2.4h-28.42zM312.28 515.5h28.42v2.4h-28.42zM312.28 522.5h28.42v4.9h-28.42zM312.28 599.0h28.42v3.4h-28.42zM312.28 609.0h28.42v6.9h-28.42zM312.28 621.0h28.42v3.9h-28.42zM312.28 628.0h28.42v3.9h-28.42zM312.28 633.5h28.42v1.9h-28.42zM312.28 644.0h28.42v2.9h-28.42zM312.28 653.0h28.42v1.9h-28.42zM312.28 659.5h28.42v3.4h-28.42zM340.25 362.5h28.42v3.4h-28.42zM340.25 381.0h28.42v2.4h-28.42zM340.25 404.0h28.42v3.4h-28.42zM340.25 411.0h28.42v2.9h-28.42zM340.25 428.0h28.42v3.9h-28.42zM340.25 443.5h28.42v2.4h-28.42zM340.25 448.5h28.42v2.4h-28.42zM340.25 457.5h28.42v4.4h-28.42zM340.25 467.0h28.42v6.9h-28.42zM340.25 480.0h28.42v1.9h-28.42zM340.25 486.5h28.42v1.9h-28.42zM340.25 494.0h28.42v3.9h-28.42zM340.25 501.0h28.42v1.9h-28.42zM340.25 505.5h28.42v2.4h-28.42zM340.25 509.5h28.42v2.4h-28.42zM340.25 522.5h28.42v4.9h-28.42zM340.25 538.0h28.42v5.4h-28.42zM340.25 553.0h28.42v2.4h-28.42zM340.25 559.5h28.42v3.4h-28.42zM340.25 566.0h28.42v4.4h-28.42zM340.25 573.5h28.42v3.4h-28.42zM340.25 581.0h28.42v3.4h-28.42zM340.25 595.5h28.42v3.9h-28.42zM340.25 605.5h28.42v3.9h-28.42zM340.25 615.5h28.42v3.9h-28.42zM340.25 621.0h28.42v7.4h-28.42zM340.25 631.5h28.42v2.4h-28.42zM340.25 644.0h28.42v2.9h-28.42zM368.22 334.5h28.42v1.9h-28.42zM368.22 362.5h28.42v9.9h-28.42zM368.22 381.0h28.42v2.4h-28.42zM368.22 389.0h28.42v2.4h-28.42zM368.22 399.5h28.42v2.9h-28.42zM368.22 404.0h28.42v3.4h-28.42zM368.22 413.5h28.42v1.9h-28.42zM368.22 426.0h28.42v5.9h-28.42zM368.22 440.0h28.42v2.4h-28.42zM368.22 445.5h28.42v3.4h-28.42zM368.22 455.5h28.42v6.4h-28.42zM368.22 480.0h28.42v1.9h-28.42zM368.22 484.0h28.42v2.9h-28.42zM368.22 497.5h28.42v2.4h-28.42zM368.22 521.0h28.42v1.9h-28.42zM368.22 529.0h28.42v2.4h-28.42zM368.22 534.0h28.42v6.4h-28.42zM368.22 609.0h28.42v3.4h-28.42zM368.22 621.0h28.42v7.4h-28.42zM88.50 725.5h28.42v3.4h-28.42zM88.50 743.0h28.42v3.4h-28.42zM88.50 757.5h28.42v3.4h-28.42zM88.50 763.5h28.42v1.9h-28.42zM88.50 774.5h28.42v3.4h-28.42zM595.00 675.0h28.38v3.9h-28.38zM595.00 686.0h28.38v2.9h-28.38zM595.00 702.0h28.38v2.4h-28.38zM595.00 714.0h28.38v1.9h-28.38zM622.93 680.0h28.38v6.4h-28.38zM622.93 714.0h28.38v1.9h-28.38zM622.93 746.0h28.38v3.4h-28.38zM650.86 673.0h28.38v2.4h-28.38zM650.86 693.0h28.38v3.4h-28.38zM650.86 738.0h28.38v2.4h-28.38zM650.86 743.0h28.38v3.4h-28.38zM678.79 686.0h28.38v2.9h-28.38zM678.79 700.0h28.38v2.4h-28.38zM678.79 728.5h28.38v5.9h-28.38zM734.64 678.5h28.38v3.9h-28.38zM876.88 678.5h28.41v1.9h-28.41zM932.79 751.0h28.41v4.4h-28.41zM116.47 827.5h28.42v3.4h-28.42zM116.47 909.0h28.42v3.4h-28.42zM144.44 809.5h28.42v3.4h-28.42zM144.44 816.0h28.42v1.9h-28.42zM144.44 820.0h28.42v1.9h-28.42zM144.44 843.0h28.42v2.4h-28.42zM144.44 858.0h28.42v3.4h-28.42zM144.44 869.0h28.42v1.9h-28.42zM144.44 901.0h28.42v8.4h-28.42zM172.42 861.0h28.42v3.4h-28.42zM172.42 877.5h28.42v3.9h-28.42zM172.42 897.5h28.42v3.9h-28.42zM172.42 909.0h28.42v3.4h-28.42zM200.39 885.0h28.42v2.4h-28.42zM228.36 858.0h28.42v3.4h-28.42zM595.00 806.0h28.38v3.9h-28.38zM595.00 824.5h28.38v3.4h-28.38zM595.00 843.0h28.38v2.4h-28.38zM595.00 866.5h28.38v2.9h-28.38zM595.00 885.0h28.38v2.4h-28.38zM622.93 854.0h28.38v7.4h-28.38zM622.93 881.0h28.38v4.4h-28.38zM650.86 817.5h28.38v2.9h-28.38zM650.86 876.0h28.38v1.9h-28.38zM678.79 832.5h28.38v3.9h-28.38zM678.79 866.5h28.38v2.9h-28.38zM678.79 870.5h28.38v7.4h-28.38zM734.64 794.0h28.38v4.4h-28.38zM734.64 802.0h28.38v2.4h-28.38z"/>
<path fill="#801d0c" d="M116.47 286.5h28.42v3.9h-28.42zM144.44 246.0h28.42v3.9h-28.42zM144.44 251.5h28.42v3.4h-28.42zM144.44 279.0h28.42v3.9h-28.42zM144.44 306.0h28.42v2.4h-28.42zM144.44 317.5h28.42v3.4h-28.42zM172.42 240.5h28.42v2.4h-28.42zM172.42 294.0h28.42v1.9h-28.42zM172.42 306.0h28.42v2.4h-28.42zM172.42 313.0h28.42v4.9h-28.42zM200.39 258.5h28.42v1.9h-28.42zM256.33 306.0h28.42v2.4h-28.42zM312.28 258.5h28.42v1.9h-28.42zM312.28 286.5h28.42v3.9h-28.42zM312.28 297.5h28.42v3.4h-28.42zM340.25 242.5h28.42v3.9h-28.42zM340.25 260.0h28.42v2.4h-28.42zM340.25 295.5h28.42v2.4h-28.42zM368.22 237.5h28.42v3.4h-28.42zM368.22 246.0h28.42v1.9h-28.42zM368.22 273.5h28.42v5.9h-28.42zM368.22 280.5h28.42v2.4h-28.42zM368.22 286.5h28.42v3.9h-28.42zM368.22 311.0h28.42v2.4h-28.42zM396.19 294.0h28.42v3.9h-28.42zM396.19 320.5h28.42v2.4h-28.42zM452.14 256.0h28.42v2.9h-28.42zM452.14 275.5h28.42v3.9h-28.42zM452.14 294.0h28.42v1.9h-28.42zM452.14 306.0h28.42v2.4h-28.42zM452.14 317.5h28.42v3.4h-28.42zM480.11 320.5h28.42v2.4h-28.42zM88.50 347.5h28.42v5.9h-28.42zM88.50 362.5h28.42v3.4h-28.42zM88.50 369.5h28.42v2.9h-28.42zM88.50 602.0h28.42v3.9h-28.42zM88.50 615.5h28.42v3.9h-28.42zM88.50 628.0h28.42v3.9h-28.42zM88.50 644.0h28.42v2.9h-28.42zM88.50 654.5h28.42v1.9h-28.42zM144.44 386.0h28.42v8.4h-28.42zM144.44 481.5h28.42v2.9h-28.42zM144.44 497.5h28.42v2.4h-28.42zM144.44 502.5h28.42v5.4h-28.42zM144.44 524.5h28.42v2.9h-28.42zM144.44 534.0h28.42v4.4h-28.42zM144.44 540.0h28.42v5.9h-28.42zM144.44 556.5h28.42v6.4h-28.42zM144.44 564.5h28.42v1.9h-28.42zM144.44 576.5h28.42v4.9h-28.42zM172.42 330.0h28.42v1.9h-28.42zM172.42 386.0h28.42v3.4h-28.42zM172.42 395.5h28.42v4.4h-28.42zM200.39 501.0h28.42v1.9h-28.42zM200.39 509.5h28.42v6.4h-28.42zM200.39 522.5h28.42v2.4h-28.42zM200.39 585.5h28.42v4.4h-28.42zM200.39 646.5h28.42v2.9h-28.42zM312.28 334.5h28.42v1.9h-28.42zM312.28 347.5h28.42v3.4h-28.42zM312.28 413.5h28.42v1.9h-28.42zM312.28 428.0h28.42v3.9h-28.42zM312.28 445.5h28.42v3.4h-28.42zM312.28 589.5h28.42v3.4h-28.42zM312.28 595.5h28.42v3.9h-28.42zM312.28 605.5h28.42v3.9h-28.42zM312.28 615.5h28.42v3.9h-28.42zM340.25 453.5h28.42v2.4h-28.42zM340.25 465.0h28.42v2.4h-28.42zM340.25 473.5h28.42v3.9h-28.42zM340.25 488.0h28.42v3.9h-28.42zM340.25 497.5h28.42v2.4h-28.42zM340.25 502.5h28.42v3.4h-28.42zM340.25 521.0h28.42v1.9h-28.42zM340.25 534.0h28.42v4.4h-28.42zM340.25 556.5h28.42v3.4h-28.42zM340.25 570.0h28.42v3.9h-28.42zM340.25 585.5h28.42v4.4h-28.42zM340.25 599.0h28.42v3.4h-28.42zM340.25 609.0h28.42v3.4h-28.42zM340.25 654.5h28.42v1.9h-28.42zM368.22 391.0h28.42v4.9h-28.42zM368.22 431.5h28.42v2.4h-28.42zM368.22 509.5h28.42v2.4h-28.42zM368.22 515.5h28.42v2.4h-28.42zM368.22 589.5h28.42v3.4h-28.42zM368.22 637.5h28.42v3.4h-28.42zM595.00 673.0h28.38v2.4h-28.38zM595.00 746.0h28.38v3.4h-28.38zM595.00 757.5h28.38v3.4h-28.38zM622.93 704.0h28.38v3.4h-28.38zM622.93 715.5h28.38v3.9h-28.38zM622.93 734.0h28.38v4.4h-28.38zM622.93 757.5h28.38v3.4h-28.38zM622.93 768.5h28.38v6.4h-28.38zM650.86 680.0h28.38v2.4h-28.38zM650.86 696.0h28.38v4.4h-28.38zM650.86 715.5h28.38v10.4h-28.38zM650.86 757.5h28.38v3.4h-28.38zM650.86 780.0h28.38v1.9h-28.38zM678.79 693.0h28.38v3.4h-28.38zM678.79 702.0h28.38v5.4h-28.38zM678.79 740.0h28.38v6.4h-28.38zM678.79 749.0h28.38v2.4h-28.38zM734.64 710.0h28.38v4.4h-28.38zM734.64 725.5h28.38v3.4h-28.38zM876.88 704.0h28.41v3.4h-28.41zM932.79 680.0h28.41v2.4h-28.41zM988.71 690.5h28.41v5.9h-28.41zM88.50 809.5h28.42v3.4h-28.42zM88.50 824.5h28.42v3.4h-28.42zM88.50 858.0h28.42v3.4h-28.42zM116.47 824.5h28.42v3.4h-28.42zM116.47 843.0h28.42v2.4h-28.42zM116.47 851.0h28.42v3.4h-28.42zM144.44 914.5h28.42v2.0h-28.42zM200.39 854.0h28.42v4.4h-28.42zM200.39 881.0h28.42v4.4h-28.42zM312.28 843.0h28.42v2.4h-28.42zM595.00 804.0h28.38v2.4h-28.38zM595.00 809.5h28.38v6.9h-28.38zM595.00 827.5h28.38v3.4h-28.38zM622.93 790.0h28.38v2.4h-28.38zM622.93 794.0h28.38v4.4h-28.38zM622.93 830.5h28.38v2.4h-28.38zM622.93 840.0h28.38v3.4h-28.38zM622.93 845.0h28.38v3.4h-28.38zM622.93 861.0h28.38v3.4h-28.38zM622.93 870.5h28.38v2.9h-28.38zM622.93 887.0h28.38v3.4h-28.38zM650.86 809.5h28.38v3.4h-28.38zM650.86 832.5h28.38v7.9h-28.38zM678.79 790.0h28.38v2.4h-28.38zM678.79 794.0h28.38v4.4h-28.38zM678.79 806.0h28.38v3.9h-28.38zM678.79 848.0h28.38v3.4h-28.38zM678.79 885.0h28.38v2.4h-28.38zM734.64 840.0h28.38v3.4h-28.38z"/>
<path fill="#8b1e0d" d="M116.47 265.5h28.42v5.9h-28.42zM116.47 317.5h28.42v3.4h-28.42zM144.44 286.5h28.42v3.9h-28.42zM172.42 286.5h28.42v3.9h-28.42zM172.42 295.5h28.42v2.4h-28.42zM172.42 311.0h28.42v2.4h-28.42zM172.42 322.5h28.42v2.5h-28.42zM312.28 246.0h28.42v1.9h-28.42zM312.28 251.5h28.42v3.4h-28.42zM312.28 295.5h28.42v2.4h-28.42zM312.28 317.5h28.42v3.4h-28.42zM340.25 240.5h28.42v2.4h-28.42zM340.25 246.0h28.42v1.9h-28.42zM340.25 256.0h28.42v2.9h-28.42zM340.25 269.0h28.42v2.4h-28.42zM340.25 273.5h28.42v2.4h-28.42zM340.25 286.5h28.42v3.9h-28.42zM340.25 291.5h28.42v2.9h-28.42zM340.25 297.5h28.42v3.4h-28.42zM368.22 256.0h28.42v6.4h-28.42zM368.22 269.0h28.42v4.9h-28.42zM368.22 279.0h28.42v1.9h-28.42zM368.22 304.0h28.42v2.4h-28.42zM368.22 320.5h28.42v2.4h-28.42zM88.50 345.0h28.42v2.9h-28.42zM144.44 383.0h28.42v3.4h-28.42zM144.44 394.0h28.42v1.9h-28.42zM144.44 399.5h28.42v2.9h-28.42zM144.44 589.5h28.42v3.4h-28.42zM200.39 529.0h28.42v2.4h-28.42zM340.25 461.5h28.42v3.9h-28.42zM340.25 477.0h28.42v3.4h-28.42zM340.25 481.5h28.42v5.4h-28.42zM340.25 555.0h28.42v1.9h-28.42zM340.25 564.5h28.42v1.9h-28.42zM340.25 579.5h28.42v1.9h-28.42zM340.25 589.5h28.42v3.4h-28.42zM88.50 760.5h28.42v3.4h-28.42zM88.50 767.0h28.42v1.9h-28.42zM595.00 700.0h28.38v2.4h-28.38zM595.00 710.0h28.38v4.4h-28.38zM595.00 755.0h28.38v2.9h-28.38zM595.00 768.5h28.38v2.9h-28.38zM622.93 755.0h28.38v2.9h-28.38zM622.93 760.5h28.38v3.4h-28.38zM650.86 734.0h28.38v4.4h-28.38zM650.86 755.0h28.38v2.9h-28.38zM650.86 765.0h28.38v2.4h-28.38zM650.86 781.5h28.38v3.4h-28.38zM678.79 682.0h28.38v4.4h-28.38zM678.79 707.0h28.38v3.4h-28.38zM678.79 746.0h28.38v3.4h-28.38zM734.64 700.0h28.38v2.4h-28.38zM88.50 812.5h28.42v3.9h-28.42zM88.50 827.5h28.42v3.4h-28.42zM88.50 840.0h28.42v3.4h-28.42zM88.50 873.0h28.42v3.4h-28.42zM116.47 840.0h28.42v3.4h-28.42zM116.47 845.0h28.42v3.4h-28.42zM116.47 877.5h28.42v3.9h-28.42zM172.42 873.0h28.42v3.4h-28.42zM172.42 887.0h28.42v3.4h-28.42zM200.39 812.5h28.42v3.9h-28.42zM200.39 909.0h28.42v3.4h-28.42zM228.36 820.0h28.42v1.9h-28.42zM595.00 832.5h28.38v3.9h-28.38zM595.00 854.0h28.38v7.4h-28.38zM622.93 836.0h28.38v4.4h-28.38zM622.93 843.0h28.38v2.4h-28.38zM650.86 843.0h28.38v2.4h-28.38zM678.79 840.0h28.38v3.4h-28.38zM678.79 881.0h28.38v4.4h-28.38zM734.64 790.0h28.38v2.4h-28.38zM734.64 843.0h28.38v2.4h-28.38z"/>
<path fill="#961f0d" d="M144.44 291.5h28.42v2.9h-28.42zM340.25 251.5h28.42v3.4h-28.42zM340.25 294.0h28.42v1.9h-28.42zM368.22 251.5h28.42v3.4h-28.42zM368.22 294.0h28.42v1.9h-28.42zM368.22 297.5h28.42v3.4h-28.42zM368.22 322.5h28.42v2.5h-28.42zM340.25 550.0h28.42v3.4h-28.42zM88.50 784.5h28.42v3.0h-28.42zM595.00 704.0h28.38v6.4h-28.38zM595.00 722.0h28.38v3.9h-28.38zM595.00 763.5h28.38v1.9h-28.38zM595.00 767.0h28.38v1.9h-28.38zM622.93 719.0h28.38v3.4h-28.38zM622.93 725.5h28.38v3.4h-28.38zM622.93 740.0h28.38v3.4h-28.38zM622.93 765.0h28.38v2.4h-28.38zM650.86 704.0h28.38v3.4h-28.38zM650.86 725.5h28.38v3.4h-28.38zM650.86 751.0h28.38v4.4h-28.38zM650.86 774.5h28.38v3.4h-28.38zM678.79 690.5h28.38v2.9h-28.38zM678.79 767.0h28.38v1.9h-28.38zM678.79 771.0h28.38v6.9h-28.38zM734.64 675.0h28.38v3.9h-28.38zM734.64 682.0h28.38v4.4h-28.38zM88.50 820.0h28.42v1.9h-28.42zM88.50 836.0h28.42v4.4h-28.42zM88.50 890.0h28.42v7.9h-28.42zM116.47 821.5h28.42v3.4h-28.42zM116.47 848.0h28.42v3.4h-28.42zM116.47 876.0h28.42v1.9h-28.42zM116.47 885.0h28.42v2.4h-28.42zM116.47 901.0h28.42v3.9h-28.42zM172.42 854.0h28.42v4.4h-28.42zM595.00 821.5h28.38v3.4h-28.38zM595.00 830.5h28.38v2.4h-28.38zM595.00 876.0h28.38v1.9h-28.38zM622.93 885.0h28.38v2.4h-28.38zM678.79 843.0h28.38v2.4h-28.38zM678.79 861.0h28.38v3.4h-28.38z"/>
<path fill="#a1200e" d="M172.42 297.5h28.42v3.4h-28.42zM88.50 771.0h28.42v3.9h-28.42zM88.50 777.5h28.42v4.4h-28.42zM595.00 715.5h28.38v6.9h-28.38zM595.00 774.5h28.38v3.4h-28.38zM595.00 780.0h28.38v1.9h-28.38zM595.00 784.5h28.38v3.0h-28.38zM622.93 731.5h28.38v2.9h-28.38zM622.93 763.5h28.38v1.9h-28.38zM650.86 784.5h28.38v3.0h-28.38zM678.79 714.0h28.38v5.4h-28.38zM734.64 670.0h28.38v3.4h-28.38zM734.64 719.0h28.38v3.4h-28.38zM88.50 830.5h28.42v2.4h-28.42zM88.50 851.0h28.42v3.4h-28.42zM88.50 887.0h28.42v3.4h-28.42zM88.50 901.0h28.42v3.9h-28.42zM116.47 809.5h28.42v6.9h-28.42zM116.47 854.0h28.42v4.4h-28.42zM116.47 892.0h28.42v4.4h-28.42zM116.47 912.0h28.42v2.9h-28.42zM595.00 836.0h28.38v7.4h-28.38z"/>
<path fill="#ac210f" d="M340.25 313.0h28.42v2.4h-28.42zM88.50 781.5h28.42v3.4h-28.42zM595.00 740.0h28.38v3.4h-28.38zM595.00 760.5h28.38v3.4h-28.38zM595.00 765.0h28.38v2.4h-28.38zM622.93 749.0h28.38v2.4h-28.38zM678.79 696.0h28.38v4.4h-28.38zM678.79 719.0h28.38v9.9h-28.38zM678.79 751.0h28.38v4.4h-28.38zM678.79 757.5h28.38v3.4h-28.38zM678.79 763.5h28.38v1.9h-28.38zM88.50 832.5h28.42v3.9h-28.42zM88.50 845.0h28.42v3.4h-28.42zM88.50 861.0h28.42v9.9h-28.42zM88.50 876.0h28.42v9.4h-28.42zM88.50 909.0h28.42v3.4h-28.42zM116.47 792.0h28.42v2.4h-28.42zM116.47 816.0h28.42v4.4h-28.42zM116.47 832.5h28.42v3.9h-28.42zM116.47 869.0h28.42v1.9h-28.42zM116.47 873.0h28.42v3.4h-28.42zM116.47 881.0h28.42v4.4h-28.42zM116.47 887.0h28.42v3.4h-28.42zM116.47 896.0h28.42v1.9h-28.42zM595.00 794.0h28.38v4.4h-28.38zM595.00 845.0h28.38v3.4h-28.38zM595.00 851.0h28.38v3.4h-28.38zM678.79 845.0h28.38v3.4h-28.38zM678.79 858.0h28.38v3.4h-28.38z"/>
<path fill="#b7220f" d="M88.50 768.5h28.42v2.9h-28.42zM595.00 728.5h28.38v3.4h-28.38zM595.00 743.0h28.38v3.4h-28.38zM595.00 777.5h28.38v2.9h-28.38zM622.93 728.5h28.38v3.4h-28.38zM678.79 780.0h28.38v1.9h-28.38zM678.79 784.5h28.38v3.0h-28.38zM88.50 885.0h28.42v2.4h-28.42zM88.50 912.0h28.42v2.9h-28.42zM116.47 820.0h28.42v1.9h-28.42z"/>
<path fill="#c32210" d="M595.00 725.5h28.38v3.4h-28.38zM595.00 731.5h28.38v2.9h-28.38zM622.93 738.0h28.38v2.4h-28.38zM678.79 760.5h28.38v3.4h-28.38zM678.79 765.0h28.38v2.4h-28.38zM678.79 781.5h28.38v3.4h-28.38zM88.50 848.0h28.42v3.4h-28.42zM88.50 897.5h28.42v3.9h-28.42zM116.47 790.0h28.42v2.4h-28.42zM116.47 798.0h28.42v2.4h-28.42zM116.47 806.0h28.42v3.9h-28.42zM116.47 890.0h28.42v2.4h-28.42zM116.47 897.5h28.42v3.9h-28.42zM116.47 914.5h28.42v2.0h-28.42zM595.00 848.0h28.38v3.4h-28.38zM622.93 876.0h28.38v1.9h-28.38z"/>
<path fill="#ce2311" d="M595.00 738.0h28.38v2.4h-28.38zM595.00 751.0h28.38v4.4h-28.38zM595.00 771.0h28.38v3.9h-28.38zM595.00 781.5h28.38v3.4h-28.38zM678.79 710.0h28.38v4.4h-28.38zM678.79 755.0h28.38v2.9h-28.38zM678.79 768.5h28.38v2.9h-28.38zM678.79 777.5h28.38v2.9h-28.38zM88.50 854.0h28.42v4.4h-28.42zM88.50 904.5h28.42v4.9h-28.42zM116.47 800.0h28.42v2.4h-28.42zM116.47 906.0h28.42v3.4h-28.42z"/>
<path fill="#da2412" d="M88.50 914.5h28.42v2.0h-28.42zM116.47 904.5h28.42v1.9h-28.42z"/>
<path fill="#e52412" d="M622.93 743.0h28.38v3.4h-28.38zM116.47 794.0h28.42v4.4h-28.42z"/>
<path fill="#e52412" d="M595.00 734.0h28.38v4.4h-28.38zM116.47 802.0h28.42v4.4h-28.42z"/>
<path fill="#e52412" d="M88.50 843.0h28.42v2.4h-28.42z"/>
<rect x="396.2" y="682" width="28.0" height="3.6" fill="#2ede2e"/>
<rect x="116.5" y="860" width="28.0" height="4" fill="#120805"/>
</g>
<path d="M70 290.8H64.2V564.5H76.5M64.2 428H46.8V775.2H56.4M68 703.2H56.4V848.3H68" fill="none" stroke="#808080" stroke-width="1.5"/>
<path d="M64.6 281V290M64.7 565V790" fill="none" stroke="#cfcfcf" stroke-width="1.2"/>
<rect x="85.6" y="237.5" width="2.9" height="679" fill="#f6e6e2"/>
<rect x="71.3" y="237.8" width="9.0" height="87.19999999999999" fill="#c6c6c6"/>
<rect x="80.3" y="237.8" width="5.5" height="87.19999999999999" fill="#b6b6b6"/>
<path d="M77.5 240.1l-1.7 1.5M76.6 242.6l-0.1 2.5M78.5 243.7l-1.7 2.6M76.6 246.3l1.5 2.6M79.8 249.0l-1.6 1.7M75.4 249.9l-0.5 2.0M79.8 253.8l2.0 2.5M77.3 255.3l-1.2 2.7M80.2 257.0l1.2 2.1M73.6 259.4l-1.8 2.6M80.3 260.5l-1.7 2.4M74.4 261.9l1.5 2.0M76.9 265.3l0.4 2.3M78.3 267.6l-0.8 3.0M77.4 270.1l0.5 2.4M75.8 273.1l1.0 1.5M76.5 274.6l-0.7 2.0M75.9 277.1l-1.9 2.4M75.0 278.2l-0.3 2.5M76.4 280.9l-1.3 2.0M74.1 282.4l-1.2 2.7M77.8 286.4l-0.6 1.7M76.2 287.0l-0.4 2.9M80.2 289.2l1.8 2.9M76.9 290.0l-0.6 1.8M73.6 293.1l0.8 2.9M78.5 294.6l-0.8 2.5M75.7 297.6l1.4 2.2M79.0 299.9l1.2 2.9M79.3 302.0l-0.9 1.9M73.3 304.8l-1.5 1.7M76.8 306.8l-0.7 2.0M75.6 309.7l0.2 2.6M77.5 313.2l-0.5 2.7M78.2 314.0l0.8 2.2M76.3 315.8l1.5 2.9M76.5 317.2l1.3 2.5M77.2 320.8l0.4 1.5M74.0 324.4l-1.3 1.5" stroke="#fafafa" stroke-width="2" fill="none"/>
<path d="M76.1 238.8l-0.3 2.6M74.2 240.9l3.5 2.6M78.0 242.3l0.6 3.6M73.0 244.9l2.7 2.8M77.6 247.3l0.2 3.0M75.4 248.9l1.3 4.4M78.2 252.0l1.6 3.5M78.6 253.9l2.9 4.2M73.2 256.8l2.6 2.7M77.4 258.2l2.7 2.7M78.7 259.8l0.5 4.2M75.2 261.8l1.2 2.5M75.1 264.0l0.3 4.2M75.8 267.1l0.1 4.4M72.9 270.1l-0.0 3.4M75.6 271.7l1.6 3.6M78.6 273.4l-1.0 3.7M76.4 275.6l-0.7 2.9M74.1 277.8l2.3 2.8M74.8 279.2l2.5 2.8M75.5 281.3l-1.1 4.2M74.5 284.8l2.3 2.5M74.4 286.2l-0.4 4.0M78.5 288.3l2.8 2.0M77.8 289.4l1.5 3.9M74.5 291.2l2.4 3.5M76.3 294.2l-2.4 4.2M78.4 297.1l1.2 3.0M74.0 299.6l0.7 2.9M72.8 301.9l1.3 4.1M75.6 304.7l2.2 3.1M77.9 306.2l-2.0 4.4M75.0 309.4l-1.4 3.5M73.9 311.6l-0.3 2.2M75.0 313.2l0.5 3.1M77.0 314.9l-2.1 3.3M77.5 317.0l-0.9 4.2M76.8 320.6l1.9 4.0M73.1 322.6l-1.9 3.9" stroke="#333" stroke-width="1.5" fill="none"/>
<path d="M71.5 237.8V260.1H72.7V282.4H73.6V300.2H73.1V308.8H73.0V325.0" stroke="#6e6e6e" stroke-width="1.2" fill="none"/>
<rect x="68.2" y="667" width="12.099999999999994" height="120.5" fill="#c6c6c6"/>
<rect x="80.3" y="667" width="5.5" height="120.5" fill="#b6b6b6"/>
<path d="M70.8 668.6l0.3 2.7M77.8 670.1l-0.5 2.1M80.0 671.6l1.0 1.7M75.1 674.4l1.6 1.7M74.7 676.4l-1.3 1.9M77.2 679.0l-0.8 2.6M72.4 679.3l-0.1 2.1M71.7 683.4l-0.1 2.4M75.1 684.8l1.4 2.1M72.6 688.0l0.7 2.9M72.1 691.6l1.4 2.8M77.6 691.9l-1.6 2.8M70.3 694.8l-0.3 2.2M75.7 695.9l-0.9 2.5M79.7 698.2l1.1 2.6M72.9 701.4l1.8 2.5M77.5 703.8l0.3 1.8M76.8 704.4l1.7 1.7M76.7 707.2l-0.8 1.8M77.7 708.8l-0.9 2.1M78.0 712.0l-0.7 2.1M71.3 713.3l-1.6 1.7M74.4 717.4l1.3 2.6M75.5 719.8l-1.2 1.9M79.8 721.3l0.2 2.4M78.9 723.0l0.4 2.6M75.5 725.0l-1.2 2.3M75.9 727.8l1.6 1.7M72.6 728.7l0.2 2.9M78.9 731.8l1.7 2.6M78.9 734.8l1.0 2.2M71.8 736.3l0.8 2.3M77.8 737.5l-1.3 2.8M76.2 739.9l-2.0 1.8M72.3 742.2l-0.4 1.8M70.8 743.0l-0.2 2.1M70.5 746.6l-1.1 1.6M71.5 746.2l0.9 1.9M72.7 748.6l1.3 2.4M76.2 749.9l-1.9 1.6M79.3 751.5l1.9 2.2M73.3 754.0l1.8 1.6M73.6 756.7l1.7 1.8M79.5 759.3l-0.3 1.8M77.5 762.8l0.8 2.1M74.9 765.3l0.7 1.6M79.0 766.0l1.6 2.6M79.9 767.8l0.3 1.7M71.7 770.3l0.3 1.5M74.4 772.5l0.4 2.7M78.5 774.2l-1.9 2.9M72.4 777.0l0.5 2.5M74.7 778.9l1.3 2.4M77.6 782.3l-0.6 2.2M76.7 784.6l-1.1 2.0" stroke="#fafafa" stroke-width="2" fill="none"/>
<path d="M76.5 668.0l3.1 2.3M72.0 669.3l1.2 2.4M70.5 670.8l0.5 3.0M75.8 673.1l0.6 3.9M78.0 675.0l0.6 3.9M72.6 677.1l-1.1 3.5M75.0 679.3l-0.9 4.1M72.6 681.5l2.1 2.9M77.2 683.4l0.8 4.1M74.0 686.6l-1.1 4.4M71.4 690.2l-0.9 2.6M72.6 691.7l0.0 4.2M75.0 694.1l1.6 2.9M78.4 695.7l-0.2 3.5M78.0 697.4l-1.9 4.2M75.7 699.9l2.3 3.7M74.2 702.4l-0.4 2.3M71.3 704.1l2.8 3.6M75.1 706.3l0.8 3.8M76.6 708.1l0.8 3.8M74.3 711.3l-1.0 2.1M72.9 712.8l2.6 3.9M71.4 715.9l-1.4 3.8M73.3 718.6l-1.3 2.4M77.0 720.5l2.8 2.1M75.9 722.1l-0.7 4.4M75.7 724.1l0.5 3.9M75.6 725.9l0.2 3.3M70.2 728.5l-0.3 3.6M76.0 730.6l-1.7 4.2M77.0 733.9l3.1 2.9M70.4 735.3l-1.3 2.1M72.5 736.7l0.3 3.6M73.1 739.5l0.7 2.9M73.9 741.8l-1.3 2.4M71.2 742.9l0.4 2.3M73.4 744.7l-0.1 2.1M75.4 746.1l-0.4 2.4M78.2 748.0l-0.7 3.2M75.9 749.9l3.3 2.2M70.2 751.1l1.4 2.1M78.3 752.8l-2.3 4.3M70.7 755.3l-0.2 4.1M77.3 758.5l0.8 3.8M72.2 761.6l-1.5 3.2M76.2 763.8l-2.4 2.4M75.5 765.1l2.8 4.1M70.4 767.5l-0.1 2.9M71.9 769.0l-2.2 3.6M71.7 771.0l0.9 4.4M71.3 774.0l-2.0 2.5M70.5 775.4l0.3 4.2M72.8 778.7l1.1 4.2M74.6 782.1l0.3 2.5M76.4 783.3l0.0 3.4" stroke="#333" stroke-width="1.5" fill="none"/>
<path d="M68.9 667.0V682.3H67.5V694.0H67.8V717.9H69.7V740.7H70.7V759.1H70.5V776.2H68.7V787.5" stroke="#6e6e6e" stroke-width="1.2" fill="none"/>
<rect x="68.2" y="790" width="12.099999999999994" height="126.5" fill="#c6c6c6"/>
<rect x="80.3" y="790" width="5.5" height="126.5" fill="#b6b6b6"/>
<path d="M74.3 793.0l1.7 1.9M73.2 795.8l0.6 1.6M77.7 798.2l-0.9 1.7M77.9 799.7l1.9 3.0M74.9 801.9l0.2 2.0M78.4 803.9l-1.0 2.7M71.9 804.6l-1.2 2.7M70.6 806.5l-1.9 2.1M73.3 809.3l1.2 2.1M77.0 811.8l1.2 1.9M78.6 812.2l-0.9 1.8M74.9 814.2l1.7 2.7M72.0 816.8l2.0 2.3M74.8 819.3l-1.4 2.0M79.6 820.6l-1.9 2.4M79.4 821.6l0.7 2.1M72.2 825.5l-1.3 2.1M79.7 827.8l-0.4 1.9M72.5 828.9l-1.7 2.3M70.3 831.2l1.8 1.6M70.7 833.4l1.8 1.7M76.7 836.0l-1.8 2.6M70.7 838.9l0.1 2.1M71.5 838.5l-1.5 2.0M80.3 842.7l-1.0 2.0M70.4 843.4l1.0 2.7M75.6 846.6l-1.2 2.4M78.7 848.1l-0.9 1.8M71.4 849.7l1.5 2.7M71.1 854.7l-0.2 1.7M73.4 857.0l0.4 3.0M80.1 859.3l-1.5 2.3M80.0 862.9l-0.1 2.3M76.4 864.6l-0.3 2.8M80.1 868.7l-1.1 2.3M73.9 870.4l0.0 2.1M71.7 872.2l-0.5 2.4M70.5 874.7l1.7 2.3M74.7 876.7l-1.5 2.8M72.1 879.5l0.4 1.6M72.1 879.9l-0.4 2.3M71.2 883.1l0.8 1.6M70.3 884.4l-0.3 2.8M79.1 887.1l-0.4 1.6M76.0 888.9l-1.1 2.2M76.9 891.5l-1.2 1.9M73.8 894.9l1.6 2.8M73.4 895.6l1.5 1.8M74.2 897.7l-1.3 1.6M70.8 901.0l-0.4 1.8M71.3 902.3l-0.2 2.3M76.4 903.7l1.0 2.1M70.8 907.5l1.4 2.2M72.4 910.0l1.9 2.0M73.6 912.3l0.3 1.7M78.9 913.9l-0.0 2.4" stroke="#fafafa" stroke-width="2" fill="none"/>
<path d="M74.1 791.0l2.1 4.4M70.6 794.8l1.8 2.5M73.6 796.7l-0.4 2.7M70.4 798.3l-1.6 3.0M71.2 800.9l-0.6 2.9M73.9 803.3l2.8 2.7M74.5 804.5l0.7 2.3M76.8 806.1l3.4 4.4M74.7 808.8l-1.9 2.1M73.6 810.0l1.3 2.1M76.9 811.0l0.6 3.9M77.9 812.8l2.9 3.6M74.4 815.4l-1.5 3.0M73.8 817.4l2.3 2.9M77.4 819.3l2.5 3.0M72.2 821.4l1.8 3.2M78.4 823.6l1.4 4.2M72.2 827.1l3.2 2.8M78.6 828.5l-2.0 2.6M75.4 830.6l2.4 4.1M72.1 832.9l0.8 3.2M78.7 835.7l1.5 2.4M77.2 837.0l2.7 2.5M78.7 838.2l-0.8 3.0M71.4 840.8l3.1 2.2M76.1 842.7l-0.6 3.2M74.6 845.0l0.2 3.2M71.3 847.7l3.3 4.1M73.4 849.7l2.7 4.4M74.5 853.7l2.1 3.7M74.3 856.3l-0.3 2.8M77.3 858.8l-0.8 4.2M75.6 862.0l-0.8 2.9M74.5 864.4l0.1 4.5M77.5 868.0l-0.2 2.1M77.6 869.8l1.8 3.1M77.7 871.7l1.0 3.6M72.6 873.6l-0.8 2.2M77.3 875.3l3.0 4.1M77.8 877.8l-0.8 3.2M69.8 879.3l2.5 2.9M75.7 881.2l0.1 3.6M78.7 883.5l-2.1 3.9M73.5 886.7l1.0 2.8M78.2 888.8l0.6 2.1M72.3 890.5l3.4 3.3M74.5 893.3l1.2 2.3M70.2 895.2l0.1 2.5M70.8 897.2l3.0 4.3M77.4 900.2l2.5 3.0M76.0 901.8l-0.5 2.7M71.7 903.3l1.5 3.7M75.4 905.9l0.2 3.5M77.9 908.4l1.6 2.7M71.3 910.8l1.8 3.2M74.0 913.0l0.7 4.1" stroke="#333" stroke-width="1.5" fill="none"/>
<path d="M68.6 790.0V799.6H69.9V817.0H68.3V840.2H70.3V857.4H70.7V879.6H69.8V892.5H67.2V912.1H69.8V916.5" stroke="#6e6e6e" stroke-width="1.2" fill="none"/>
<rect x="76.3" y="328" width="9.4" height="336.5" fill="#141414"/>
<path d="M80.6 329.0l0.6 2.6M80.0 333.2l0.2 2.3M80.3 336.0l-0.3 2.9M82.1 339.2l-1.2 2.3M80.4 341.2l0.0 2.5M81.9 343.8l1.3 1.7M81.3 347.2l-1.3 2.5M83.7 350.2l-1.1 2.1M81.5 354.7l-0.7 2.5M82.1 360.0l0.0 1.9M83.9 362.0l0.9 1.9M79.9 365.6l0.6 3.3M81.6 371.7l1.4 2.0M80.2 374.1l0.5 3.0M81.2 377.7l1.1 2.5M82.6 382.3l-0.2 2.5M81.9 387.2l0.3 2.0M80.3 389.9l0.4 1.6M81.8 391.6l1.4 3.0M81.2 397.6l-1.4 3.0M83.6 402.3l-0.9 3.0M82.8 405.3l-0.0 3.5M81.9 411.7l0.5 1.8M80.1 414.6l0.4 1.8M79.5 418.4l-1.3 1.8M81.6 421.7l1.5 2.3M82.7 425.5l-1.5 2.0M80.3 427.9l-1.4 2.9M83.9 432.4l-1.2 2.2M83.1 436.5l-0.2 2.3M80.5 440.4l-0.1 2.2M80.5 444.6l-0.3 2.2M82.1 446.6l0.1 2.1M79.6 450.1l-1.4 2.1M82.1 452.8l-0.7 1.9M82.5 456.3l0.7 2.7M80.9 460.4l-1.3 2.4M79.9 464.9l1.3 2.5M81.5 469.0l-1.1 2.7M81.1 475.0l1.5 1.8M81.7 476.8l-0.8 2.5M79.6 482.0l-0.1 2.3M83.4 483.9l1.2 2.9M80.9 486.4l-0.1 2.9M80.1 489.9l0.4 2.1M79.7 491.9l1.4 3.4M82.9 495.5l0.1 1.7M82.3 498.7l-1.3 2.5M83.8 503.0l-1.5 2.5M83.7 505.3l-0.2 2.9M81.3 510.4l-0.1 2.6M80.9 514.7l0.7 1.6M80.7 516.5l-0.4 2.4M83.8 520.7l-0.1 3.0M79.8 524.0l-0.8 2.2M80.6 527.5l-1.0 2.7M81.8 530.0l-0.7 1.9M81.0 533.8l-0.2 2.6M82.9 536.1l-0.4 3.0M80.5 541.5l-0.8 2.0M82.4 543.7l0.7 2.7M81.7 546.2l-0.4 3.0M80.4 550.8l-0.3 2.4M83.6 554.8l-0.9 2.9M82.7 560.8l1.4 3.1M83.5 563.9l-1.1 3.1M80.8 568.9l1.1 3.4M80.2 575.9l-0.9 2.4M80.9 580.5l-0.2 2.3M79.6 585.5l1.3 2.0M83.9 588.0l-0.7 2.3M80.6 590.1l-0.8 3.3M83.6 597.0l-0.5 2.0M81.9 599.4l0.2 1.9M80.8 602.0l1.0 2.5M83.2 607.3l-1.3 3.0M80.2 610.8l1.4 1.9M82.0 614.7l-1.2 3.3M83.6 619.4l-0.7 1.6M80.4 621.3l1.3 3.4M80.0 625.5l1.2 2.8M82.4 629.3l0.3 2.2M82.1 631.8l-1.4 1.7M80.3 635.4l-0.5 2.2M81.9 637.5l-0.3 2.1M81.7 640.2l0.8 2.1M81.7 643.1l-1.1 3.0M81.7 646.3l-0.4 3.2M81.2 651.1l-0.4 3.2M82.0 655.3l-0.1 1.5M81.6 657.6l0.6 2.4M80.0 660.2l1.1 3.5" stroke="#a8a8a8" stroke-width="1.5" fill="none"/>
<path d="M77.3 470V530M77.3 560V640M77.3 340V420" stroke="#6a6a6a" stroke-width="2" fill="none"/>
<text transform="translate(27.0,295) rotate(-90) scale(1.1,1)" font-size="20.8" font-weight="bold" text-anchor="middle">1</text>
<text transform="translate(27.0,424) rotate(-90) scale(1.1,1)" font-size="20.8" font-weight="bold" text-anchor="middle">2</text>
<text transform="translate(27.0,721) rotate(-90) scale(1.1,1)" font-size="20.8" font-weight="bold" text-anchor="middle">3</text>
<text transform="translate(27.0,850) rotate(-90) scale(1.1,1)" font-size="20.8" font-weight="bold" text-anchor="middle">4</text>
<text transform="translate(110.8,947) rotate(-90) scale(0.86,1)" font-size="24.7" font-weight="bold" text-anchor="middle">N29</text>
<text transform="translate(138.9,947) rotate(-90) scale(0.86,1)" font-size="24.7" font-weight="bold" text-anchor="middle">N15</text>
<text transform="translate(167.1,947) rotate(-90) scale(0.86,1)" font-size="24.7" font-weight="bold" text-anchor="middle">N20</text>
<text transform="translate(195.2,947) rotate(-90) scale(0.86,1)" font-size="24.7" font-weight="bold" text-anchor="middle">N24</text>
<text transform="translate(223.3,947) rotate(-90) scale(0.86,1)" font-size="24.7" font-weight="bold" text-anchor="middle">N28</text>
<text transform="translate(251.5,947) rotate(-90) scale(0.86,1)" font-size="24.7" font-weight="bold" text-anchor="middle">N5</text>
<text transform="translate(279.6,947) rotate(-90) scale(0.86,1)" font-size="24.7" font-weight="bold" text-anchor="middle">N27</text>
<text transform="translate(307.8,947) rotate(-90) scale(0.86,1)" font-size="24.7" font-weight="bold" text-anchor="middle">N2</text>
<text transform="translate(335.9,947) rotate(-90) scale(0.86,1)" font-size="24.7" font-weight="bold" text-anchor="middle">N11</text>
<text transform="translate(364.1,947) rotate(-90) scale(0.86,1)" font-size="24.7" font-weight="bold" text-anchor="middle">N25</text>
<text transform="translate(392.2,947) rotate(-90) scale(0.86,1)" font-size="24.7" font-weight="bold" text-anchor="middle">N10</text>
<text transform="translate(420.4,947) rotate(-90) scale(0.86,1)" font-size="24.7" font-weight="bold" text-anchor="middle">N14</text>
<text transform="translate(448.5,947) rotate(-90) scale(0.86,1)" font-size="24.7" font-weight="bold" text-anchor="middle">N19</text>
<text transform="translate(476.7,947) rotate(-90) scale(0.86,1)" font-size="24.7" font-weight="bold" text-anchor="middle">N21</text>
<text transform="translate(504.8,947) rotate(-90) scale(0.86,1)" font-size="24.7" font-weight="bold" text-anchor="middle">N32</text>
<text transform="translate(533.0,947) rotate(-90) scale(0.86,1)" font-size="24.7" font-weight="bold" text-anchor="middle">N1</text>
<text transform="translate(561.1,947) rotate(-90) scale(0.86,1)" font-size="24.7" font-weight="bold" text-anchor="middle">N4</text>
<text transform="translate(589.3,947) rotate(-90) scale(0.86,1)" font-size="24.7" font-weight="bold" text-anchor="middle">N18</text>
<text transform="translate(618.4,947) rotate(-90) scale(0.873,1)" font-size="24.7" font-weight="bold" text-anchor="middle">DS32</text>
<text transform="translate(646.5,947) rotate(-90) scale(0.873,1)" font-size="24.7" font-weight="bold" text-anchor="middle">DS33</text>
<text transform="translate(674.7,947) rotate(-90) scale(0.873,1)" font-size="24.7" font-weight="bold" text-anchor="middle">DS31</text>
<text transform="translate(702.8,947) rotate(-90) scale(0.873,1)" font-size="24.7" font-weight="bold" text-anchor="middle">DS34</text>
<text transform="translate(731.0,947) rotate(-90) scale(0.873,1)" font-size="24.7" font-weight="bold" text-anchor="middle">DS12</text>
<text transform="translate(759.1,947) rotate(-90) scale(0.873,1)" font-size="24.7" font-weight="bold" text-anchor="middle">DS30</text>
<text transform="translate(787.3,947) rotate(-90) scale(0.873,1)" font-size="24.7" font-weight="bold" text-anchor="middle">DS25</text>
<text transform="translate(815.6,947) rotate(-90) scale(0.873,1)" font-size="24.7" font-weight="bold" text-anchor="middle">DS07</text>
<text transform="translate(843.9,947) rotate(-90) scale(0.873,1)" font-size="24.7" font-weight="bold" text-anchor="middle">DS19</text>
<text transform="translate(872.2,947) rotate(-90) scale(0.873,1)" font-size="24.7" font-weight="bold" text-anchor="middle">DS14</text>
<text transform="translate(900.5,947) rotate(-90) scale(0.873,1)" font-size="24.7" font-weight="bold" text-anchor="middle">DS18</text>
<text transform="translate(928.8,947) rotate(-90) scale(0.873,1)" font-size="24.7" font-weight="bold" text-anchor="middle">DS11</text>
<text transform="translate(957.0,947) rotate(-90) scale(0.873,1)" font-size="24.7" font-weight="bold" text-anchor="middle">DS08</text>
<text transform="translate(985.3,947) rotate(-90) scale(0.873,1)" font-size="24.7" font-weight="bold" text-anchor="middle">DS04</text>
<text transform="translate(1013.6,947) rotate(-90) scale(0.873,1)" font-size="24.7" font-weight="bold" text-anchor="middle">DS02</text>
<text transform="translate(1041.9,947) rotate(-90) scale(0.873,1)" font-size="24.7" font-weight="bold" text-anchor="middle">DS28</text>
<text transform="translate(1070.2,947) rotate(-90) scale(0.873,1)" font-size="24.7" font-weight="bold" text-anchor="middle">DS03</text>
<text transform="translate(1098.5,947) rotate(-90) scale(0.873,1)" font-size="24.7" font-weight="bold" text-anchor="middle">DS16</text>
<text transform="translate(1126.8,947) rotate(-90) scale(0.873,1)" font-size="24.7" font-weight="bold" text-anchor="middle">DS17</text>
<rect x="1162.5" y="312" width="526" height="563" fill="#fff" stroke="#000" stroke-width="1.2"/>
<text x="1180.2" y="364.4" font-size="24.5" font-weight="bold" fill="#000" textLength="215.0" lengthAdjust="spacingAndGlyphs">CeAD localization</text>
<rect x="1178" y="379.9" width="24.5" height="21.0" fill="#fdc30f"/>
<text x="1212" y="401.7" font-size="25" fill="#000" textLength="44.0" lengthAdjust="spacingAndGlyphs">ICA</text>
<rect x="1178" y="402.3" width="24.5" height="22.9" fill="#fff200"/>
<text x="1212" y="424" font-size="25" fill="#000" textLength="33.0" lengthAdjust="spacingAndGlyphs">VA</text>
<rect x="1178" y="428.2" width="24.5" height="20.6" fill="#ed1c24"/>
<text x="1212" y="448.3" font-size="25" fill="#000" textLength="103.5" lengthAdjust="spacingAndGlyphs">ICA+ICA</text>
<rect x="1178" y="451" width="24.5" height="22.0" fill="#f7831f"/>
<text x="1212" y="471" font-size="25" fill="#000" textLength="82.0" lengthAdjust="spacingAndGlyphs">VA+VA</text>
<rect x="1178" y="475" width="24.5" height="20.6" fill="#8c0a19"/>
<text x="1212" y="494.6" font-size="25" fill="#000" textLength="92.5" lengthAdjust="spacingAndGlyphs">ICA+VA</text>
<text x="1179.2" y="549.9" font-size="24.5" font-weight="bold" fill="#000" textLength="162.5" lengthAdjust="spacingAndGlyphs">Clinical signs</text>
<rect x="1178" y="561.6" width="24.5" height="21.8" fill="#ed1c24"/>
<text x="1212" y="580" font-size="25" fill="#000" textLength="122.5" lengthAdjust="spacingAndGlyphs">Stroke/TIA</text>
<rect x="1178" y="587.5" width="24.5" height="21.1" fill="#fff200"/>
<text x="1212" y="603.5" font-size="25" fill="#000">Non-ischemic</text>
<text x="1176.5" y="650.8" font-size="24.5" font-weight="bold" fill="#000" textLength="123.0" lengthAdjust="spacingAndGlyphs">Headache</text>
<rect x="1178" y="664.6" width="24.5" height="20.0" fill="#ed1c24"/>
<text x="1212" y="683.6" font-size="25" fill="#000">Yes</text>
<rect x="1178" y="689.2" width="24.5" height="22.3" fill="#bff08f"/>
<text x="1212" y="706.6" font-size="25" fill="#000">No</text>
<text x="1482.7" y="362" font-size="24.5" font-weight="bold" fill="#000" textLength="173.0" lengthAdjust="spacingAndGlyphs">UCTD stigmas</text>
<text x="1482.7" y="384.9" font-size="24.5" font-weight="bold" fill="#000" textLength="87.0" lengthAdjust="spacingAndGlyphs">(score)</text>
<rect x="1487" y="398.3" width="23.6" height="21.7" fill="#bff08f"/>
<text x="1522.3" y="419" font-size="25" fill="#000">0 points</text>
<rect x="1487" y="423.1" width="23.6" height="21.2" fill="#fff200"/>
<text x="1522.3" y="441.6" font-size="25" fill="#000">1-5 points</text>
<rect x="1487" y="447" width="23.6" height="22.4" fill="#fdc30f"/>
<text x="1522.3" y="466" font-size="25" fill="#000">5-9 points</text>
<rect x="1487" y="471.8" width="23.6" height="20.4" fill="#ed1c24"/>
<text x="1522.3" y="488.5" font-size="25" fill="#000">&gt;9 points</text>
<text x="1485.5" y="541.5" font-size="24.5" font-weight="bold" fill="#000" textLength="132.5" lengthAdjust="spacingAndGlyphs">Dissecting</text>
<text x="1487" y="563.3" font-size="24.5" font-weight="bold" fill="#000" textLength="121.5" lengthAdjust="spacingAndGlyphs">aneurysm</text>
<rect x="1487" y="582.8" width="23.6" height="20.7" fill="#ed1c24"/>
<text x="1520.5" y="600" font-size="25" fill="#000">Yes</text>
<rect x="1487" y="606.5" width="23.6" height="21.4" fill="#bff08f"/>
<text x="1520.5" y="623.5" font-size="25" fill="#000">No</text>
<text x="1485.5" y="670.5" font-size="24.5" font-weight="bold" fill="#000" textLength="124.0" lengthAdjust="spacingAndGlyphs">Recurrent</text>
<text x="1486" y="693.4" font-size="24.5" font-weight="bold" fill="#000" textLength="128.0" lengthAdjust="spacingAndGlyphs">dissection</text>
<rect x="1489" y="708.2" width="20.8" height="20.7" fill="#ed1c24"/>
<text x="1520.5" y="727.8" font-size="25" fill="#000">Yes</text>
<rect x="1489" y="732.1" width="20.8" height="21.0" fill="#bff08f"/>
<text x="1520.5" y="750.5" font-size="25" fill="#000">No</text>
<defs><linearGradient id="ck" x1="0" x2="1" y1="0" y2="0"><stop offset="0" stop-color="#08f814"/><stop offset="0.2" stop-color="#10f01c"/><stop offset="0.25" stop-color="#2cb030"/><stop offset="0.37" stop-color="#1c5c1c"/><stop offset="0.497" stop-color="#050505"/><stop offset="0.62" stop-color="#5a1a0c"/><stop offset="0.7435" stop-color="#c8200f"/><stop offset="0.78" stop-color="#fa0a05"/><stop offset="1" stop-color="#ff0000"/></linearGradient></defs>
<rect x="1228.5" y="786.9" width="404.3" height="26.2" fill="url(#ck)"/>
<path d="M1231.8 787V794M1231.8 806V813M1331.8 787V794M1331.8 806V813M1429.5 787V794M1429.5 806V813M1526.9 787V794M1526.9 806V813M1625.2 787V794M1625.2 806V813" stroke="#fff" stroke-width="1.2" fill="none"/>
<text x="1231.3" y="834.4" font-size="20.6" fill="#000" text-anchor="middle">−4</text>
<text x="1331.3" y="834.4" font-size="20.6" fill="#000" text-anchor="middle">−2</text>
<text x="1430.3" y="834.4" font-size="20.6" fill="#000" text-anchor="middle">0</text>
<text x="1527.7" y="834.4" font-size="20.6" fill="#000" text-anchor="middle">2</text>
<text x="1626.0" y="834.4" font-size="20.6" fill="#000" text-anchor="middle">4</text>
<text x="1430.2" y="857.4" font-size="20.6" font-weight="bold" fill="#000" text-anchor="middle" textLength="109.5" lengthAdjust="spacingAndGlyphs">Color Key</text>
</svg></body></html>
